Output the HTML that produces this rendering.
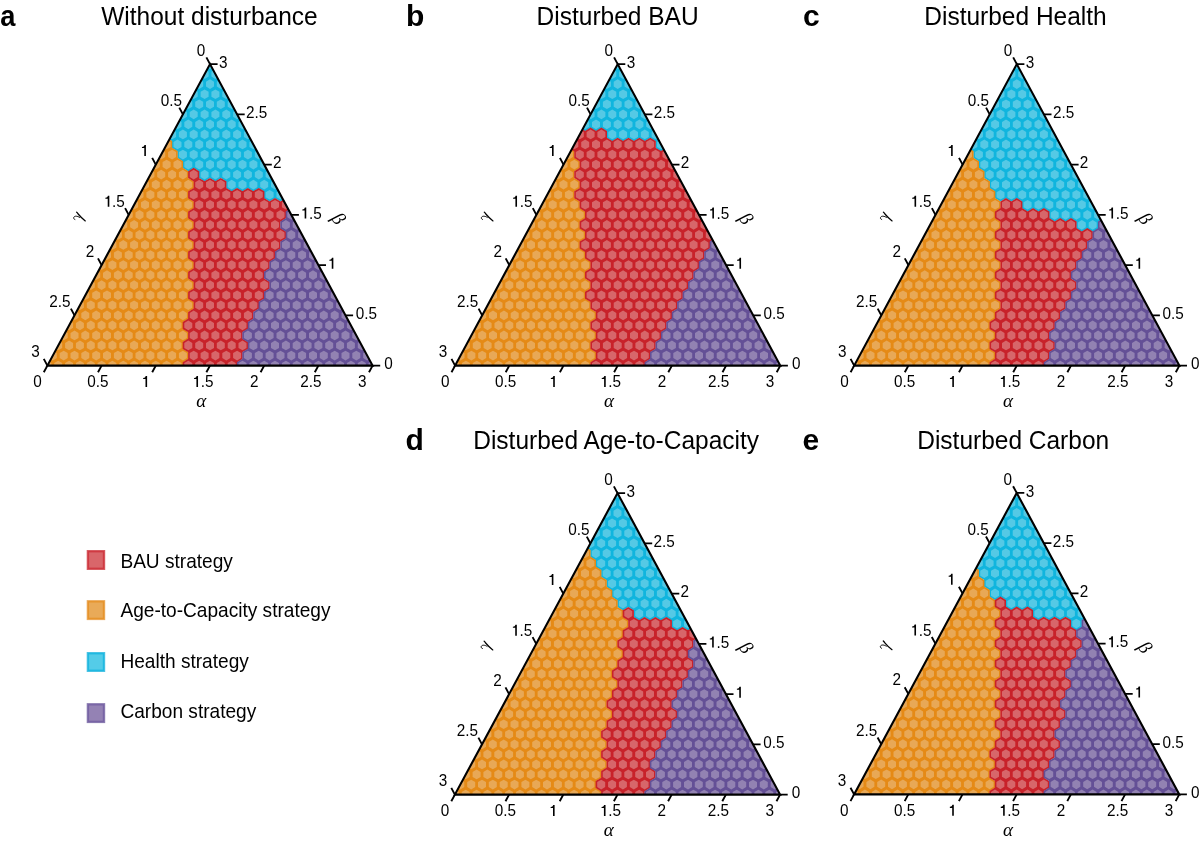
<!DOCTYPE html>
<html><head><meta charset="utf-8"><style>
html,body{margin:0;padding:0;background:#fff;width:1200px;height:843px;overflow:hidden}
svg{display:block;will-change:transform}
text{font-family:"Liberation Sans",sans-serif;fill:#000}
.tl text{font-size:15px}
.tl text.g{font-family:"Liberation Serif",serif;font-style:italic;font-size:19px}
.pl{font-size:30px;font-weight:bold}
.tt{font-size:24.5px}
.lg{font-size:19.1px}
</style></head><body>
<svg width="1200" height="843" viewBox="0 0 1200 843">
<clipPath id="clipa"><polygon points="47.40,365.60 372.60,365.60 210.00,64.10"/></clipPath>
<g clip-path="url(#clipa)">
<path fill="#10b5de" d="M269.6 187.9l5.6 3.4v6.9l-5.6 3.4l-5.6 -3.4v-6.9zM280.5 187.9l5.6 3.4v6.9l-5.6 3.4l-5.6 -3.4v-6.9zM231.7 177.9l5.6 3.4v6.9l-5.6 3.4l-5.6 -3.4v-6.9zM242.5 177.9l5.6 3.4v6.9l-5.6 3.4l-5.6 -3.4v-6.9zM253.4 177.9l5.6 3.4v6.9l-5.6 3.4l-5.6 -3.4v-6.9zM264.2 177.9l5.6 3.4v6.9l-5.6 3.4l-5.6 -3.4v-6.9zM275.0 177.9l5.6 3.4v6.9l-5.6 3.4l-5.6 -3.4v-6.9zM204.6 167.8l5.6 3.4v6.9l-5.6 3.4l-5.6 -3.4v-6.9zM215.4 167.8l5.6 3.4v6.9l-5.6 3.4l-5.6 -3.4v-6.9zM226.3 167.8l5.6 3.4v6.9l-5.6 3.4l-5.6 -3.4v-6.9zM237.1 167.8l5.6 3.4v6.9l-5.6 3.4l-5.6 -3.4v-6.9zM247.9 167.8l5.6 3.4v6.9l-5.6 3.4l-5.6 -3.4v-6.9zM258.8 167.8l5.6 3.4v6.9l-5.6 3.4l-5.6 -3.4v-6.9zM269.6 167.8l5.6 3.4v6.9l-5.6 3.4l-5.6 -3.4v-6.9zM188.3 157.8l5.6 3.4v6.9l-5.6 3.4l-5.6 -3.4v-6.9zM199.2 157.8l5.6 3.4v6.9l-5.6 3.4l-5.6 -3.4v-6.9zM210.0 157.8l5.6 3.4v6.9l-5.6 3.4l-5.6 -3.4v-6.9zM220.8 157.8l5.6 3.4v6.9l-5.6 3.4l-5.6 -3.4v-6.9zM231.7 157.8l5.6 3.4v6.9l-5.6 3.4l-5.6 -3.4v-6.9zM242.5 157.8l5.6 3.4v6.9l-5.6 3.4l-5.6 -3.4v-6.9zM253.4 157.8l5.6 3.4v6.9l-5.6 3.4l-5.6 -3.4v-6.9zM264.2 157.8l5.6 3.4v6.9l-5.6 3.4l-5.6 -3.4v-6.9zM182.9 147.7l5.6 3.4v6.9l-5.6 3.4l-5.6 -3.4v-6.9zM193.7 147.7l5.6 3.4v6.9l-5.6 3.4l-5.6 -3.4v-6.9zM204.6 147.7l5.6 3.4v6.9l-5.6 3.4l-5.6 -3.4v-6.9zM215.4 147.7l5.6 3.4v6.9l-5.6 3.4l-5.6 -3.4v-6.9zM226.3 147.7l5.6 3.4v6.9l-5.6 3.4l-5.6 -3.4v-6.9zM237.1 147.7l5.6 3.4v6.9l-5.6 3.4l-5.6 -3.4v-6.9zM247.9 147.7l5.6 3.4v6.9l-5.6 3.4l-5.6 -3.4v-6.9zM258.8 147.7l5.6 3.4v6.9l-5.6 3.4l-5.6 -3.4v-6.9zM177.5 137.7l5.6 3.4v6.9l-5.6 3.4l-5.6 -3.4v-6.9zM188.3 137.7l5.6 3.4v6.9l-5.6 3.4l-5.6 -3.4v-6.9zM199.2 137.7l5.6 3.4v6.9l-5.6 3.4l-5.6 -3.4v-6.9zM210.0 137.7l5.6 3.4v6.9l-5.6 3.4l-5.6 -3.4v-6.9zM220.8 137.7l5.6 3.4v6.9l-5.6 3.4l-5.6 -3.4v-6.9zM231.7 137.7l5.6 3.4v6.9l-5.6 3.4l-5.6 -3.4v-6.9zM242.5 137.7l5.6 3.4v6.9l-5.6 3.4l-5.6 -3.4v-6.9zM253.4 137.7l5.6 3.4v6.9l-5.6 3.4l-5.6 -3.4v-6.9zM172.1 127.6l5.6 3.4v6.9l-5.6 3.4l-5.6 -3.4v-6.9zM182.9 127.6l5.6 3.4v6.9l-5.6 3.4l-5.6 -3.4v-6.9zM193.7 127.6l5.6 3.4v6.9l-5.6 3.4l-5.6 -3.4v-6.9zM204.6 127.6l5.6 3.4v6.9l-5.6 3.4l-5.6 -3.4v-6.9zM215.4 127.6l5.6 3.4v6.9l-5.6 3.4l-5.6 -3.4v-6.9zM226.3 127.6l5.6 3.4v6.9l-5.6 3.4l-5.6 -3.4v-6.9zM237.1 127.6l5.6 3.4v6.9l-5.6 3.4l-5.6 -3.4v-6.9zM247.9 127.6l5.6 3.4v6.9l-5.6 3.4l-5.6 -3.4v-6.9zM177.5 117.6l5.6 3.4v6.9l-5.6 3.4l-5.6 -3.4v-6.9zM188.3 117.6l5.6 3.4v6.9l-5.6 3.4l-5.6 -3.4v-6.9zM199.2 117.6l5.6 3.4v6.9l-5.6 3.4l-5.6 -3.4v-6.9zM210.0 117.6l5.6 3.4v6.9l-5.6 3.4l-5.6 -3.4v-6.9zM220.8 117.6l5.6 3.4v6.9l-5.6 3.4l-5.6 -3.4v-6.9zM231.7 117.6l5.6 3.4v6.9l-5.6 3.4l-5.6 -3.4v-6.9zM242.5 117.6l5.6 3.4v6.9l-5.6 3.4l-5.6 -3.4v-6.9zM182.9 107.5l5.6 3.4v6.9l-5.6 3.4l-5.6 -3.4v-6.9zM193.7 107.5l5.6 3.4v6.9l-5.6 3.4l-5.6 -3.4v-6.9zM204.6 107.5l5.6 3.4v6.9l-5.6 3.4l-5.6 -3.4v-6.9zM215.4 107.5l5.6 3.4v6.9l-5.6 3.4l-5.6 -3.4v-6.9zM226.3 107.5l5.6 3.4v6.9l-5.6 3.4l-5.6 -3.4v-6.9zM237.1 107.5l5.6 3.4v6.9l-5.6 3.4l-5.6 -3.4v-6.9zM188.3 97.5l5.6 3.4v6.9l-5.6 3.4l-5.6 -3.4v-6.9zM199.2 97.5l5.6 3.4v6.9l-5.6 3.4l-5.6 -3.4v-6.9zM210.0 97.5l5.6 3.4v6.9l-5.6 3.4l-5.6 -3.4v-6.9zM220.8 97.5l5.6 3.4v6.9l-5.6 3.4l-5.6 -3.4v-6.9zM231.7 97.5l5.6 3.4v6.9l-5.6 3.4l-5.6 -3.4v-6.9zM193.7 87.4l5.6 3.4v6.9l-5.6 3.4l-5.6 -3.4v-6.9zM204.6 87.4l5.6 3.4v6.9l-5.6 3.4l-5.6 -3.4v-6.9zM215.4 87.4l5.6 3.4v6.9l-5.6 3.4l-5.6 -3.4v-6.9zM226.3 87.4l5.6 3.4v6.9l-5.6 3.4l-5.6 -3.4v-6.9zM199.2 77.4l5.6 3.4v6.9l-5.6 3.4l-5.6 -3.4v-6.9zM210.0 77.4l5.6 3.4v6.9l-5.6 3.4l-5.6 -3.4v-6.9zM220.8 77.4l5.6 3.4v6.9l-5.6 3.4l-5.6 -3.4v-6.9zM204.6 67.3l5.6 3.4v6.9l-5.6 3.4l-5.6 -3.4v-6.9zM215.4 67.3l5.6 3.4v6.9l-5.6 3.4l-5.6 -3.4v-6.9zM210.0 57.3l5.6 3.4v6.9l-5.6 3.4l-5.6 -3.4v-6.9z"/>
<path fill="#e58a16" d="M47.4 358.8l5.6 3.4v6.9l-5.6 3.4l-5.6 -3.4v-6.9zM58.2 358.8l5.6 3.4v6.9l-5.6 3.4l-5.6 -3.4v-6.9zM69.1 358.8l5.6 3.4v6.9l-5.6 3.4l-5.6 -3.4v-6.9zM79.9 358.8l5.6 3.4v6.9l-5.6 3.4l-5.6 -3.4v-6.9zM90.8 358.8l5.6 3.4v6.9l-5.6 3.4l-5.6 -3.4v-6.9zM101.6 358.8l5.6 3.4v6.9l-5.6 3.4l-5.6 -3.4v-6.9zM112.4 358.8l5.6 3.4v6.9l-5.6 3.4l-5.6 -3.4v-6.9zM123.3 358.8l5.6 3.4v6.9l-5.6 3.4l-5.6 -3.4v-6.9zM134.1 358.8l5.6 3.4v6.9l-5.6 3.4l-5.6 -3.4v-6.9zM145.0 358.8l5.6 3.4v6.9l-5.6 3.4l-5.6 -3.4v-6.9zM155.8 358.8l5.6 3.4v6.9l-5.6 3.4l-5.6 -3.4v-6.9zM166.6 358.8l5.6 3.4v6.9l-5.6 3.4l-5.6 -3.4v-6.9zM177.5 358.8l5.6 3.4v6.9l-5.6 3.4l-5.6 -3.4v-6.9zM52.8 348.7l5.6 3.4v6.9l-5.6 3.4l-5.6 -3.4v-6.9zM63.7 348.7l5.6 3.4v6.9l-5.6 3.4l-5.6 -3.4v-6.9zM74.5 348.7l5.6 3.4v6.9l-5.6 3.4l-5.6 -3.4v-6.9zM85.3 348.7l5.6 3.4v6.9l-5.6 3.4l-5.6 -3.4v-6.9zM96.2 348.7l5.6 3.4v6.9l-5.6 3.4l-5.6 -3.4v-6.9zM107.0 348.7l5.6 3.4v6.9l-5.6 3.4l-5.6 -3.4v-6.9zM117.9 348.7l5.6 3.4v6.9l-5.6 3.4l-5.6 -3.4v-6.9zM128.7 348.7l5.6 3.4v6.9l-5.6 3.4l-5.6 -3.4v-6.9zM139.5 348.7l5.6 3.4v6.9l-5.6 3.4l-5.6 -3.4v-6.9zM150.4 348.7l5.6 3.4v6.9l-5.6 3.4l-5.6 -3.4v-6.9zM161.2 348.7l5.6 3.4v6.9l-5.6 3.4l-5.6 -3.4v-6.9zM172.1 348.7l5.6 3.4v6.9l-5.6 3.4l-5.6 -3.4v-6.9zM182.9 348.7l5.6 3.4v6.9l-5.6 3.4l-5.6 -3.4v-6.9zM58.2 338.6l5.6 3.4v6.9l-5.6 3.4l-5.6 -3.4v-6.9zM69.1 338.6l5.6 3.4v6.9l-5.6 3.4l-5.6 -3.4v-6.9zM79.9 338.6l5.6 3.4v6.9l-5.6 3.4l-5.6 -3.4v-6.9zM90.8 338.6l5.6 3.4v6.9l-5.6 3.4l-5.6 -3.4v-6.9zM101.6 338.6l5.6 3.4v6.9l-5.6 3.4l-5.6 -3.4v-6.9zM112.4 338.6l5.6 3.4v6.9l-5.6 3.4l-5.6 -3.4v-6.9zM123.3 338.6l5.6 3.4v6.9l-5.6 3.4l-5.6 -3.4v-6.9zM134.1 338.6l5.6 3.4v6.9l-5.6 3.4l-5.6 -3.4v-6.9zM145.0 338.6l5.6 3.4v6.9l-5.6 3.4l-5.6 -3.4v-6.9zM155.8 338.6l5.6 3.4v6.9l-5.6 3.4l-5.6 -3.4v-6.9zM166.6 338.6l5.6 3.4v6.9l-5.6 3.4l-5.6 -3.4v-6.9zM177.5 338.6l5.6 3.4v6.9l-5.6 3.4l-5.6 -3.4v-6.9zM63.7 328.6l5.6 3.4v6.9l-5.6 3.4l-5.6 -3.4v-6.9zM74.5 328.6l5.6 3.4v6.9l-5.6 3.4l-5.6 -3.4v-6.9zM85.3 328.6l5.6 3.4v6.9l-5.6 3.4l-5.6 -3.4v-6.9zM96.2 328.6l5.6 3.4v6.9l-5.6 3.4l-5.6 -3.4v-6.9zM107.0 328.6l5.6 3.4v6.9l-5.6 3.4l-5.6 -3.4v-6.9zM117.9 328.6l5.6 3.4v6.9l-5.6 3.4l-5.6 -3.4v-6.9zM128.7 328.6l5.6 3.4v6.9l-5.6 3.4l-5.6 -3.4v-6.9zM139.5 328.6l5.6 3.4v6.9l-5.6 3.4l-5.6 -3.4v-6.9zM150.4 328.6l5.6 3.4v6.9l-5.6 3.4l-5.6 -3.4v-6.9zM161.2 328.6l5.6 3.4v6.9l-5.6 3.4l-5.6 -3.4v-6.9zM172.1 328.6l5.6 3.4v6.9l-5.6 3.4l-5.6 -3.4v-6.9zM182.9 328.6l5.6 3.4v6.9l-5.6 3.4l-5.6 -3.4v-6.9zM69.1 318.6l5.6 3.4v6.9l-5.6 3.4l-5.6 -3.4v-6.9zM79.9 318.6l5.6 3.4v6.9l-5.6 3.4l-5.6 -3.4v-6.9zM90.8 318.6l5.6 3.4v6.9l-5.6 3.4l-5.6 -3.4v-6.9zM101.6 318.6l5.6 3.4v6.9l-5.6 3.4l-5.6 -3.4v-6.9zM112.4 318.6l5.6 3.4v6.9l-5.6 3.4l-5.6 -3.4v-6.9zM123.3 318.6l5.6 3.4v6.9l-5.6 3.4l-5.6 -3.4v-6.9zM134.1 318.6l5.6 3.4v6.9l-5.6 3.4l-5.6 -3.4v-6.9zM145.0 318.6l5.6 3.4v6.9l-5.6 3.4l-5.6 -3.4v-6.9zM155.8 318.6l5.6 3.4v6.9l-5.6 3.4l-5.6 -3.4v-6.9zM166.6 318.6l5.6 3.4v6.9l-5.6 3.4l-5.6 -3.4v-6.9zM177.5 318.6l5.6 3.4v6.9l-5.6 3.4l-5.6 -3.4v-6.9zM74.5 308.5l5.6 3.4v6.9l-5.6 3.4l-5.6 -3.4v-6.9zM85.3 308.5l5.6 3.4v6.9l-5.6 3.4l-5.6 -3.4v-6.9zM96.2 308.5l5.6 3.4v6.9l-5.6 3.4l-5.6 -3.4v-6.9zM107.0 308.5l5.6 3.4v6.9l-5.6 3.4l-5.6 -3.4v-6.9zM117.9 308.5l5.6 3.4v6.9l-5.6 3.4l-5.6 -3.4v-6.9zM128.7 308.5l5.6 3.4v6.9l-5.6 3.4l-5.6 -3.4v-6.9zM139.5 308.5l5.6 3.4v6.9l-5.6 3.4l-5.6 -3.4v-6.9zM150.4 308.5l5.6 3.4v6.9l-5.6 3.4l-5.6 -3.4v-6.9zM161.2 308.5l5.6 3.4v6.9l-5.6 3.4l-5.6 -3.4v-6.9zM172.1 308.5l5.6 3.4v6.9l-5.6 3.4l-5.6 -3.4v-6.9zM182.9 308.5l5.6 3.4v6.9l-5.6 3.4l-5.6 -3.4v-6.9zM79.9 298.4l5.6 3.4v6.9l-5.6 3.4l-5.6 -3.4v-6.9zM90.8 298.4l5.6 3.4v6.9l-5.6 3.4l-5.6 -3.4v-6.9zM101.6 298.4l5.6 3.4v6.9l-5.6 3.4l-5.6 -3.4v-6.9zM112.4 298.4l5.6 3.4v6.9l-5.6 3.4l-5.6 -3.4v-6.9zM123.3 298.4l5.6 3.4v6.9l-5.6 3.4l-5.6 -3.4v-6.9zM134.1 298.4l5.6 3.4v6.9l-5.6 3.4l-5.6 -3.4v-6.9zM145.0 298.4l5.6 3.4v6.9l-5.6 3.4l-5.6 -3.4v-6.9zM155.8 298.4l5.6 3.4v6.9l-5.6 3.4l-5.6 -3.4v-6.9zM166.6 298.4l5.6 3.4v6.9l-5.6 3.4l-5.6 -3.4v-6.9zM177.5 298.4l5.6 3.4v6.9l-5.6 3.4l-5.6 -3.4v-6.9zM188.3 298.4l5.6 3.4v6.9l-5.6 3.4l-5.6 -3.4v-6.9zM85.3 288.4l5.6 3.4v6.9l-5.6 3.4l-5.6 -3.4v-6.9zM96.2 288.4l5.6 3.4v6.9l-5.6 3.4l-5.6 -3.4v-6.9zM107.0 288.4l5.6 3.4v6.9l-5.6 3.4l-5.6 -3.4v-6.9zM117.9 288.4l5.6 3.4v6.9l-5.6 3.4l-5.6 -3.4v-6.9zM128.7 288.4l5.6 3.4v6.9l-5.6 3.4l-5.6 -3.4v-6.9zM139.5 288.4l5.6 3.4v6.9l-5.6 3.4l-5.6 -3.4v-6.9zM150.4 288.4l5.6 3.4v6.9l-5.6 3.4l-5.6 -3.4v-6.9zM161.2 288.4l5.6 3.4v6.9l-5.6 3.4l-5.6 -3.4v-6.9zM172.1 288.4l5.6 3.4v6.9l-5.6 3.4l-5.6 -3.4v-6.9zM182.9 288.4l5.6 3.4v6.9l-5.6 3.4l-5.6 -3.4v-6.9zM90.8 278.4l5.6 3.4v6.9l-5.6 3.4l-5.6 -3.4v-6.9zM101.6 278.4l5.6 3.4v6.9l-5.6 3.4l-5.6 -3.4v-6.9zM112.4 278.4l5.6 3.4v6.9l-5.6 3.4l-5.6 -3.4v-6.9zM123.3 278.4l5.6 3.4v6.9l-5.6 3.4l-5.6 -3.4v-6.9zM134.1 278.4l5.6 3.4v6.9l-5.6 3.4l-5.6 -3.4v-6.9zM145.0 278.4l5.6 3.4v6.9l-5.6 3.4l-5.6 -3.4v-6.9zM155.8 278.4l5.6 3.4v6.9l-5.6 3.4l-5.6 -3.4v-6.9zM166.6 278.4l5.6 3.4v6.9l-5.6 3.4l-5.6 -3.4v-6.9zM177.5 278.4l5.6 3.4v6.9l-5.6 3.4l-5.6 -3.4v-6.9zM188.3 278.4l5.6 3.4v6.9l-5.6 3.4l-5.6 -3.4v-6.9zM96.2 268.3l5.6 3.4v6.9l-5.6 3.4l-5.6 -3.4v-6.9zM107.0 268.3l5.6 3.4v6.9l-5.6 3.4l-5.6 -3.4v-6.9zM117.9 268.3l5.6 3.4v6.9l-5.6 3.4l-5.6 -3.4v-6.9zM128.7 268.3l5.6 3.4v6.9l-5.6 3.4l-5.6 -3.4v-6.9zM139.5 268.3l5.6 3.4v6.9l-5.6 3.4l-5.6 -3.4v-6.9zM150.4 268.3l5.6 3.4v6.9l-5.6 3.4l-5.6 -3.4v-6.9zM161.2 268.3l5.6 3.4v6.9l-5.6 3.4l-5.6 -3.4v-6.9zM172.1 268.3l5.6 3.4v6.9l-5.6 3.4l-5.6 -3.4v-6.9zM182.9 268.3l5.6 3.4v6.9l-5.6 3.4l-5.6 -3.4v-6.9zM101.6 258.2l5.6 3.4v6.9l-5.6 3.4l-5.6 -3.4v-6.9zM112.4 258.2l5.6 3.4v6.9l-5.6 3.4l-5.6 -3.4v-6.9zM123.3 258.2l5.6 3.4v6.9l-5.6 3.4l-5.6 -3.4v-6.9zM134.1 258.2l5.6 3.4v6.9l-5.6 3.4l-5.6 -3.4v-6.9zM145.0 258.2l5.6 3.4v6.9l-5.6 3.4l-5.6 -3.4v-6.9zM155.8 258.2l5.6 3.4v6.9l-5.6 3.4l-5.6 -3.4v-6.9zM166.6 258.2l5.6 3.4v6.9l-5.6 3.4l-5.6 -3.4v-6.9zM177.5 258.2l5.6 3.4v6.9l-5.6 3.4l-5.6 -3.4v-6.9zM188.3 258.2l5.6 3.4v6.9l-5.6 3.4l-5.6 -3.4v-6.9zM107.0 248.2l5.6 3.4v6.9l-5.6 3.4l-5.6 -3.4v-6.9zM117.9 248.2l5.6 3.4v6.9l-5.6 3.4l-5.6 -3.4v-6.9zM128.7 248.2l5.6 3.4v6.9l-5.6 3.4l-5.6 -3.4v-6.9zM139.5 248.2l5.6 3.4v6.9l-5.6 3.4l-5.6 -3.4v-6.9zM150.4 248.2l5.6 3.4v6.9l-5.6 3.4l-5.6 -3.4v-6.9zM161.2 248.2l5.6 3.4v6.9l-5.6 3.4l-5.6 -3.4v-6.9zM172.1 248.2l5.6 3.4v6.9l-5.6 3.4l-5.6 -3.4v-6.9zM182.9 248.2l5.6 3.4v6.9l-5.6 3.4l-5.6 -3.4v-6.9zM112.4 238.2l5.6 3.4v6.9l-5.6 3.4l-5.6 -3.4v-6.9zM123.3 238.2l5.6 3.4v6.9l-5.6 3.4l-5.6 -3.4v-6.9zM134.1 238.2l5.6 3.4v6.9l-5.6 3.4l-5.6 -3.4v-6.9zM145.0 238.2l5.6 3.4v6.9l-5.6 3.4l-5.6 -3.4v-6.9zM155.8 238.2l5.6 3.4v6.9l-5.6 3.4l-5.6 -3.4v-6.9zM166.6 238.2l5.6 3.4v6.9l-5.6 3.4l-5.6 -3.4v-6.9zM177.5 238.2l5.6 3.4v6.9l-5.6 3.4l-5.6 -3.4v-6.9zM188.3 238.2l5.6 3.4v6.9l-5.6 3.4l-5.6 -3.4v-6.9zM117.9 228.1l5.6 3.4v6.9l-5.6 3.4l-5.6 -3.4v-6.9zM128.7 228.1l5.6 3.4v6.9l-5.6 3.4l-5.6 -3.4v-6.9zM139.5 228.1l5.6 3.4v6.9l-5.6 3.4l-5.6 -3.4v-6.9zM150.4 228.1l5.6 3.4v6.9l-5.6 3.4l-5.6 -3.4v-6.9zM161.2 228.1l5.6 3.4v6.9l-5.6 3.4l-5.6 -3.4v-6.9zM172.1 228.1l5.6 3.4v6.9l-5.6 3.4l-5.6 -3.4v-6.9zM182.9 228.1l5.6 3.4v6.9l-5.6 3.4l-5.6 -3.4v-6.9zM123.3 218.1l5.6 3.4v6.9l-5.6 3.4l-5.6 -3.4v-6.9zM134.1 218.1l5.6 3.4v6.9l-5.6 3.4l-5.6 -3.4v-6.9zM145.0 218.1l5.6 3.4v6.9l-5.6 3.4l-5.6 -3.4v-6.9zM155.8 218.1l5.6 3.4v6.9l-5.6 3.4l-5.6 -3.4v-6.9zM166.6 218.1l5.6 3.4v6.9l-5.6 3.4l-5.6 -3.4v-6.9zM177.5 218.1l5.6 3.4v6.9l-5.6 3.4l-5.6 -3.4v-6.9zM188.3 218.1l5.6 3.4v6.9l-5.6 3.4l-5.6 -3.4v-6.9zM128.7 208.0l5.6 3.4v6.9l-5.6 3.4l-5.6 -3.4v-6.9zM139.5 208.0l5.6 3.4v6.9l-5.6 3.4l-5.6 -3.4v-6.9zM150.4 208.0l5.6 3.4v6.9l-5.6 3.4l-5.6 -3.4v-6.9zM161.2 208.0l5.6 3.4v6.9l-5.6 3.4l-5.6 -3.4v-6.9zM172.1 208.0l5.6 3.4v6.9l-5.6 3.4l-5.6 -3.4v-6.9zM182.9 208.0l5.6 3.4v6.9l-5.6 3.4l-5.6 -3.4v-6.9zM134.1 198.0l5.6 3.4v6.9l-5.6 3.4l-5.6 -3.4v-6.9zM145.0 198.0l5.6 3.4v6.9l-5.6 3.4l-5.6 -3.4v-6.9zM155.8 198.0l5.6 3.4v6.9l-5.6 3.4l-5.6 -3.4v-6.9zM166.6 198.0l5.6 3.4v6.9l-5.6 3.4l-5.6 -3.4v-6.9zM177.5 198.0l5.6 3.4v6.9l-5.6 3.4l-5.6 -3.4v-6.9zM188.3 198.0l5.6 3.4v6.9l-5.6 3.4l-5.6 -3.4v-6.9zM139.5 187.9l5.6 3.4v6.9l-5.6 3.4l-5.6 -3.4v-6.9zM150.4 187.9l5.6 3.4v6.9l-5.6 3.4l-5.6 -3.4v-6.9zM161.2 187.9l5.6 3.4v6.9l-5.6 3.4l-5.6 -3.4v-6.9zM172.1 187.9l5.6 3.4v6.9l-5.6 3.4l-5.6 -3.4v-6.9zM182.9 187.9l5.6 3.4v6.9l-5.6 3.4l-5.6 -3.4v-6.9zM145.0 177.9l5.6 3.4v6.9l-5.6 3.4l-5.6 -3.4v-6.9zM155.8 177.9l5.6 3.4v6.9l-5.6 3.4l-5.6 -3.4v-6.9zM166.6 177.9l5.6 3.4v6.9l-5.6 3.4l-5.6 -3.4v-6.9zM177.5 177.9l5.6 3.4v6.9l-5.6 3.4l-5.6 -3.4v-6.9zM188.3 177.9l5.6 3.4v6.9l-5.6 3.4l-5.6 -3.4v-6.9zM150.4 167.8l5.6 3.4v6.9l-5.6 3.4l-5.6 -3.4v-6.9zM161.2 167.8l5.6 3.4v6.9l-5.6 3.4l-5.6 -3.4v-6.9zM172.1 167.8l5.6 3.4v6.9l-5.6 3.4l-5.6 -3.4v-6.9zM182.9 167.8l5.6 3.4v6.9l-5.6 3.4l-5.6 -3.4v-6.9zM155.8 157.8l5.6 3.4v6.9l-5.6 3.4l-5.6 -3.4v-6.9zM166.6 157.8l5.6 3.4v6.9l-5.6 3.4l-5.6 -3.4v-6.9zM177.5 157.8l5.6 3.4v6.9l-5.6 3.4l-5.6 -3.4v-6.9zM161.2 147.7l5.6 3.4v6.9l-5.6 3.4l-5.6 -3.4v-6.9zM172.1 147.7l5.6 3.4v6.9l-5.6 3.4l-5.6 -3.4v-6.9zM166.6 137.7l5.6 3.4v6.9l-5.6 3.4l-5.6 -3.4v-6.9z"/>
<path fill="#c8222a" d="M188.3 358.8l5.6 3.4v6.9l-5.6 3.4l-5.6 -3.4v-6.9zM199.2 358.8l5.6 3.4v6.9l-5.6 3.4l-5.6 -3.4v-6.9zM210.0 358.8l5.6 3.4v6.9l-5.6 3.4l-5.6 -3.4v-6.9zM220.8 358.8l5.6 3.4v6.9l-5.6 3.4l-5.6 -3.4v-6.9zM231.7 358.8l5.6 3.4v6.9l-5.6 3.4l-5.6 -3.4v-6.9zM193.7 348.7l5.6 3.4v6.9l-5.6 3.4l-5.6 -3.4v-6.9zM204.6 348.7l5.6 3.4v6.9l-5.6 3.4l-5.6 -3.4v-6.9zM215.4 348.7l5.6 3.4v6.9l-5.6 3.4l-5.6 -3.4v-6.9zM226.3 348.7l5.6 3.4v6.9l-5.6 3.4l-5.6 -3.4v-6.9zM237.1 348.7l5.6 3.4v6.9l-5.6 3.4l-5.6 -3.4v-6.9zM188.3 338.6l5.6 3.4v6.9l-5.6 3.4l-5.6 -3.4v-6.9zM199.2 338.6l5.6 3.4v6.9l-5.6 3.4l-5.6 -3.4v-6.9zM210.0 338.6l5.6 3.4v6.9l-5.6 3.4l-5.6 -3.4v-6.9zM220.8 338.6l5.6 3.4v6.9l-5.6 3.4l-5.6 -3.4v-6.9zM231.7 338.6l5.6 3.4v6.9l-5.6 3.4l-5.6 -3.4v-6.9zM242.5 338.6l5.6 3.4v6.9l-5.6 3.4l-5.6 -3.4v-6.9zM193.7 328.6l5.6 3.4v6.9l-5.6 3.4l-5.6 -3.4v-6.9zM204.6 328.6l5.6 3.4v6.9l-5.6 3.4l-5.6 -3.4v-6.9zM215.4 328.6l5.6 3.4v6.9l-5.6 3.4l-5.6 -3.4v-6.9zM226.3 328.6l5.6 3.4v6.9l-5.6 3.4l-5.6 -3.4v-6.9zM237.1 328.6l5.6 3.4v6.9l-5.6 3.4l-5.6 -3.4v-6.9zM188.3 318.6l5.6 3.4v6.9l-5.6 3.4l-5.6 -3.4v-6.9zM199.2 318.6l5.6 3.4v6.9l-5.6 3.4l-5.6 -3.4v-6.9zM210.0 318.6l5.6 3.4v6.9l-5.6 3.4l-5.6 -3.4v-6.9zM220.8 318.6l5.6 3.4v6.9l-5.6 3.4l-5.6 -3.4v-6.9zM231.7 318.6l5.6 3.4v6.9l-5.6 3.4l-5.6 -3.4v-6.9zM242.5 318.6l5.6 3.4v6.9l-5.6 3.4l-5.6 -3.4v-6.9zM193.7 308.5l5.6 3.4v6.9l-5.6 3.4l-5.6 -3.4v-6.9zM204.6 308.5l5.6 3.4v6.9l-5.6 3.4l-5.6 -3.4v-6.9zM215.4 308.5l5.6 3.4v6.9l-5.6 3.4l-5.6 -3.4v-6.9zM226.3 308.5l5.6 3.4v6.9l-5.6 3.4l-5.6 -3.4v-6.9zM237.1 308.5l5.6 3.4v6.9l-5.6 3.4l-5.6 -3.4v-6.9zM247.9 308.5l5.6 3.4v6.9l-5.6 3.4l-5.6 -3.4v-6.9zM199.2 298.4l5.6 3.4v6.9l-5.6 3.4l-5.6 -3.4v-6.9zM210.0 298.4l5.6 3.4v6.9l-5.6 3.4l-5.6 -3.4v-6.9zM220.8 298.4l5.6 3.4v6.9l-5.6 3.4l-5.6 -3.4v-6.9zM231.7 298.4l5.6 3.4v6.9l-5.6 3.4l-5.6 -3.4v-6.9zM242.5 298.4l5.6 3.4v6.9l-5.6 3.4l-5.6 -3.4v-6.9zM253.4 298.4l5.6 3.4v6.9l-5.6 3.4l-5.6 -3.4v-6.9zM193.7 288.4l5.6 3.4v6.9l-5.6 3.4l-5.6 -3.4v-6.9zM204.6 288.4l5.6 3.4v6.9l-5.6 3.4l-5.6 -3.4v-6.9zM215.4 288.4l5.6 3.4v6.9l-5.6 3.4l-5.6 -3.4v-6.9zM226.3 288.4l5.6 3.4v6.9l-5.6 3.4l-5.6 -3.4v-6.9zM237.1 288.4l5.6 3.4v6.9l-5.6 3.4l-5.6 -3.4v-6.9zM247.9 288.4l5.6 3.4v6.9l-5.6 3.4l-5.6 -3.4v-6.9zM258.8 288.4l5.6 3.4v6.9l-5.6 3.4l-5.6 -3.4v-6.9zM199.2 278.4l5.6 3.4v6.9l-5.6 3.4l-5.6 -3.4v-6.9zM210.0 278.4l5.6 3.4v6.9l-5.6 3.4l-5.6 -3.4v-6.9zM220.8 278.4l5.6 3.4v6.9l-5.6 3.4l-5.6 -3.4v-6.9zM231.7 278.4l5.6 3.4v6.9l-5.6 3.4l-5.6 -3.4v-6.9zM242.5 278.4l5.6 3.4v6.9l-5.6 3.4l-5.6 -3.4v-6.9zM253.4 278.4l5.6 3.4v6.9l-5.6 3.4l-5.6 -3.4v-6.9zM264.2 278.4l5.6 3.4v6.9l-5.6 3.4l-5.6 -3.4v-6.9zM193.7 268.3l5.6 3.4v6.9l-5.6 3.4l-5.6 -3.4v-6.9zM204.6 268.3l5.6 3.4v6.9l-5.6 3.4l-5.6 -3.4v-6.9zM215.4 268.3l5.6 3.4v6.9l-5.6 3.4l-5.6 -3.4v-6.9zM226.3 268.3l5.6 3.4v6.9l-5.6 3.4l-5.6 -3.4v-6.9zM237.1 268.3l5.6 3.4v6.9l-5.6 3.4l-5.6 -3.4v-6.9zM247.9 268.3l5.6 3.4v6.9l-5.6 3.4l-5.6 -3.4v-6.9zM258.8 268.3l5.6 3.4v6.9l-5.6 3.4l-5.6 -3.4v-6.9zM199.2 258.2l5.6 3.4v6.9l-5.6 3.4l-5.6 -3.4v-6.9zM210.0 258.2l5.6 3.4v6.9l-5.6 3.4l-5.6 -3.4v-6.9zM220.8 258.2l5.6 3.4v6.9l-5.6 3.4l-5.6 -3.4v-6.9zM231.7 258.2l5.6 3.4v6.9l-5.6 3.4l-5.6 -3.4v-6.9zM242.5 258.2l5.6 3.4v6.9l-5.6 3.4l-5.6 -3.4v-6.9zM253.4 258.2l5.6 3.4v6.9l-5.6 3.4l-5.6 -3.4v-6.9zM264.2 258.2l5.6 3.4v6.9l-5.6 3.4l-5.6 -3.4v-6.9zM193.7 248.2l5.6 3.4v6.9l-5.6 3.4l-5.6 -3.4v-6.9zM204.6 248.2l5.6 3.4v6.9l-5.6 3.4l-5.6 -3.4v-6.9zM215.4 248.2l5.6 3.4v6.9l-5.6 3.4l-5.6 -3.4v-6.9zM226.3 248.2l5.6 3.4v6.9l-5.6 3.4l-5.6 -3.4v-6.9zM237.1 248.2l5.6 3.4v6.9l-5.6 3.4l-5.6 -3.4v-6.9zM247.9 248.2l5.6 3.4v6.9l-5.6 3.4l-5.6 -3.4v-6.9zM258.8 248.2l5.6 3.4v6.9l-5.6 3.4l-5.6 -3.4v-6.9zM269.6 248.2l5.6 3.4v6.9l-5.6 3.4l-5.6 -3.4v-6.9zM199.2 238.2l5.6 3.4v6.9l-5.6 3.4l-5.6 -3.4v-6.9zM210.0 238.2l5.6 3.4v6.9l-5.6 3.4l-5.6 -3.4v-6.9zM220.8 238.2l5.6 3.4v6.9l-5.6 3.4l-5.6 -3.4v-6.9zM231.7 238.2l5.6 3.4v6.9l-5.6 3.4l-5.6 -3.4v-6.9zM242.5 238.2l5.6 3.4v6.9l-5.6 3.4l-5.6 -3.4v-6.9zM253.4 238.2l5.6 3.4v6.9l-5.6 3.4l-5.6 -3.4v-6.9zM264.2 238.2l5.6 3.4v6.9l-5.6 3.4l-5.6 -3.4v-6.9zM275.0 238.2l5.6 3.4v6.9l-5.6 3.4l-5.6 -3.4v-6.9zM193.7 228.1l5.6 3.4v6.9l-5.6 3.4l-5.6 -3.4v-6.9zM204.6 228.1l5.6 3.4v6.9l-5.6 3.4l-5.6 -3.4v-6.9zM215.4 228.1l5.6 3.4v6.9l-5.6 3.4l-5.6 -3.4v-6.9zM226.3 228.1l5.6 3.4v6.9l-5.6 3.4l-5.6 -3.4v-6.9zM237.1 228.1l5.6 3.4v6.9l-5.6 3.4l-5.6 -3.4v-6.9zM247.9 228.1l5.6 3.4v6.9l-5.6 3.4l-5.6 -3.4v-6.9zM258.8 228.1l5.6 3.4v6.9l-5.6 3.4l-5.6 -3.4v-6.9zM269.6 228.1l5.6 3.4v6.9l-5.6 3.4l-5.6 -3.4v-6.9zM280.5 228.1l5.6 3.4v6.9l-5.6 3.4l-5.6 -3.4v-6.9zM199.2 218.1l5.6 3.4v6.9l-5.6 3.4l-5.6 -3.4v-6.9zM210.0 218.1l5.6 3.4v6.9l-5.6 3.4l-5.6 -3.4v-6.9zM220.8 218.1l5.6 3.4v6.9l-5.6 3.4l-5.6 -3.4v-6.9zM231.7 218.1l5.6 3.4v6.9l-5.6 3.4l-5.6 -3.4v-6.9zM242.5 218.1l5.6 3.4v6.9l-5.6 3.4l-5.6 -3.4v-6.9zM253.4 218.1l5.6 3.4v6.9l-5.6 3.4l-5.6 -3.4v-6.9zM264.2 218.1l5.6 3.4v6.9l-5.6 3.4l-5.6 -3.4v-6.9zM275.0 218.1l5.6 3.4v6.9l-5.6 3.4l-5.6 -3.4v-6.9zM193.7 208.0l5.6 3.4v6.9l-5.6 3.4l-5.6 -3.4v-6.9zM204.6 208.0l5.6 3.4v6.9l-5.6 3.4l-5.6 -3.4v-6.9zM215.4 208.0l5.6 3.4v6.9l-5.6 3.4l-5.6 -3.4v-6.9zM226.3 208.0l5.6 3.4v6.9l-5.6 3.4l-5.6 -3.4v-6.9zM237.1 208.0l5.6 3.4v6.9l-5.6 3.4l-5.6 -3.4v-6.9zM247.9 208.0l5.6 3.4v6.9l-5.6 3.4l-5.6 -3.4v-6.9zM258.8 208.0l5.6 3.4v6.9l-5.6 3.4l-5.6 -3.4v-6.9zM269.6 208.0l5.6 3.4v6.9l-5.6 3.4l-5.6 -3.4v-6.9zM280.5 208.0l5.6 3.4v6.9l-5.6 3.4l-5.6 -3.4v-6.9zM199.2 198.0l5.6 3.4v6.9l-5.6 3.4l-5.6 -3.4v-6.9zM210.0 198.0l5.6 3.4v6.9l-5.6 3.4l-5.6 -3.4v-6.9zM220.8 198.0l5.6 3.4v6.9l-5.6 3.4l-5.6 -3.4v-6.9zM231.7 198.0l5.6 3.4v6.9l-5.6 3.4l-5.6 -3.4v-6.9zM242.5 198.0l5.6 3.4v6.9l-5.6 3.4l-5.6 -3.4v-6.9zM253.4 198.0l5.6 3.4v6.9l-5.6 3.4l-5.6 -3.4v-6.9zM264.2 198.0l5.6 3.4v6.9l-5.6 3.4l-5.6 -3.4v-6.9zM275.0 198.0l5.6 3.4v6.9l-5.6 3.4l-5.6 -3.4v-6.9zM285.9 198.0l5.6 3.4v6.9l-5.6 3.4l-5.6 -3.4v-6.9zM193.7 187.9l5.6 3.4v6.9l-5.6 3.4l-5.6 -3.4v-6.9zM204.6 187.9l5.6 3.4v6.9l-5.6 3.4l-5.6 -3.4v-6.9zM215.4 187.9l5.6 3.4v6.9l-5.6 3.4l-5.6 -3.4v-6.9zM226.3 187.9l5.6 3.4v6.9l-5.6 3.4l-5.6 -3.4v-6.9zM237.1 187.9l5.6 3.4v6.9l-5.6 3.4l-5.6 -3.4v-6.9zM247.9 187.9l5.6 3.4v6.9l-5.6 3.4l-5.6 -3.4v-6.9zM258.8 187.9l5.6 3.4v6.9l-5.6 3.4l-5.6 -3.4v-6.9zM199.2 177.9l5.6 3.4v6.9l-5.6 3.4l-5.6 -3.4v-6.9zM210.0 177.9l5.6 3.4v6.9l-5.6 3.4l-5.6 -3.4v-6.9zM220.8 177.9l5.6 3.4v6.9l-5.6 3.4l-5.6 -3.4v-6.9zM193.7 167.8l5.6 3.4v6.9l-5.6 3.4l-5.6 -3.4v-6.9z"/>
<path fill="#645096" d="M242.5 358.8l5.6 3.4v6.9l-5.6 3.4l-5.6 -3.4v-6.9zM253.4 358.8l5.6 3.4v6.9l-5.6 3.4l-5.6 -3.4v-6.9zM264.2 358.8l5.6 3.4v6.9l-5.6 3.4l-5.6 -3.4v-6.9zM275.0 358.8l5.6 3.4v6.9l-5.6 3.4l-5.6 -3.4v-6.9zM285.9 358.8l5.6 3.4v6.9l-5.6 3.4l-5.6 -3.4v-6.9zM296.7 358.8l5.6 3.4v6.9l-5.6 3.4l-5.6 -3.4v-6.9zM307.6 358.8l5.6 3.4v6.9l-5.6 3.4l-5.6 -3.4v-6.9zM318.4 358.8l5.6 3.4v6.9l-5.6 3.4l-5.6 -3.4v-6.9zM329.2 358.8l5.6 3.4v6.9l-5.6 3.4l-5.6 -3.4v-6.9zM340.1 358.8l5.6 3.4v6.9l-5.6 3.4l-5.6 -3.4v-6.9zM350.9 358.8l5.6 3.4v6.9l-5.6 3.4l-5.6 -3.4v-6.9zM361.8 358.8l5.6 3.4v6.9l-5.6 3.4l-5.6 -3.4v-6.9zM372.6 358.8l5.6 3.4v6.9l-5.6 3.4l-5.6 -3.4v-6.9zM247.9 348.7l5.6 3.4v6.9l-5.6 3.4l-5.6 -3.4v-6.9zM258.8 348.7l5.6 3.4v6.9l-5.6 3.4l-5.6 -3.4v-6.9zM269.6 348.7l5.6 3.4v6.9l-5.6 3.4l-5.6 -3.4v-6.9zM280.5 348.7l5.6 3.4v6.9l-5.6 3.4l-5.6 -3.4v-6.9zM291.3 348.7l5.6 3.4v6.9l-5.6 3.4l-5.6 -3.4v-6.9zM302.1 348.7l5.6 3.4v6.9l-5.6 3.4l-5.6 -3.4v-6.9zM313.0 348.7l5.6 3.4v6.9l-5.6 3.4l-5.6 -3.4v-6.9zM323.8 348.7l5.6 3.4v6.9l-5.6 3.4l-5.6 -3.4v-6.9zM334.7 348.7l5.6 3.4v6.9l-5.6 3.4l-5.6 -3.4v-6.9zM345.5 348.7l5.6 3.4v6.9l-5.6 3.4l-5.6 -3.4v-6.9zM356.3 348.7l5.6 3.4v6.9l-5.6 3.4l-5.6 -3.4v-6.9zM367.2 348.7l5.6 3.4v6.9l-5.6 3.4l-5.6 -3.4v-6.9zM253.4 338.6l5.6 3.4v6.9l-5.6 3.4l-5.6 -3.4v-6.9zM264.2 338.6l5.6 3.4v6.9l-5.6 3.4l-5.6 -3.4v-6.9zM275.0 338.6l5.6 3.4v6.9l-5.6 3.4l-5.6 -3.4v-6.9zM285.9 338.6l5.6 3.4v6.9l-5.6 3.4l-5.6 -3.4v-6.9zM296.7 338.6l5.6 3.4v6.9l-5.6 3.4l-5.6 -3.4v-6.9zM307.6 338.6l5.6 3.4v6.9l-5.6 3.4l-5.6 -3.4v-6.9zM318.4 338.6l5.6 3.4v6.9l-5.6 3.4l-5.6 -3.4v-6.9zM329.2 338.6l5.6 3.4v6.9l-5.6 3.4l-5.6 -3.4v-6.9zM340.1 338.6l5.6 3.4v6.9l-5.6 3.4l-5.6 -3.4v-6.9zM350.9 338.6l5.6 3.4v6.9l-5.6 3.4l-5.6 -3.4v-6.9zM361.8 338.6l5.6 3.4v6.9l-5.6 3.4l-5.6 -3.4v-6.9zM247.9 328.6l5.6 3.4v6.9l-5.6 3.4l-5.6 -3.4v-6.9zM258.8 328.6l5.6 3.4v6.9l-5.6 3.4l-5.6 -3.4v-6.9zM269.6 328.6l5.6 3.4v6.9l-5.6 3.4l-5.6 -3.4v-6.9zM280.5 328.6l5.6 3.4v6.9l-5.6 3.4l-5.6 -3.4v-6.9zM291.3 328.6l5.6 3.4v6.9l-5.6 3.4l-5.6 -3.4v-6.9zM302.1 328.6l5.6 3.4v6.9l-5.6 3.4l-5.6 -3.4v-6.9zM313.0 328.6l5.6 3.4v6.9l-5.6 3.4l-5.6 -3.4v-6.9zM323.8 328.6l5.6 3.4v6.9l-5.6 3.4l-5.6 -3.4v-6.9zM334.7 328.6l5.6 3.4v6.9l-5.6 3.4l-5.6 -3.4v-6.9zM345.5 328.6l5.6 3.4v6.9l-5.6 3.4l-5.6 -3.4v-6.9zM356.3 328.6l5.6 3.4v6.9l-5.6 3.4l-5.6 -3.4v-6.9zM253.4 318.6l5.6 3.4v6.9l-5.6 3.4l-5.6 -3.4v-6.9zM264.2 318.6l5.6 3.4v6.9l-5.6 3.4l-5.6 -3.4v-6.9zM275.0 318.6l5.6 3.4v6.9l-5.6 3.4l-5.6 -3.4v-6.9zM285.9 318.6l5.6 3.4v6.9l-5.6 3.4l-5.6 -3.4v-6.9zM296.7 318.6l5.6 3.4v6.9l-5.6 3.4l-5.6 -3.4v-6.9zM307.6 318.6l5.6 3.4v6.9l-5.6 3.4l-5.6 -3.4v-6.9zM318.4 318.6l5.6 3.4v6.9l-5.6 3.4l-5.6 -3.4v-6.9zM329.2 318.6l5.6 3.4v6.9l-5.6 3.4l-5.6 -3.4v-6.9zM340.1 318.6l5.6 3.4v6.9l-5.6 3.4l-5.6 -3.4v-6.9zM350.9 318.6l5.6 3.4v6.9l-5.6 3.4l-5.6 -3.4v-6.9zM258.8 308.5l5.6 3.4v6.9l-5.6 3.4l-5.6 -3.4v-6.9zM269.6 308.5l5.6 3.4v6.9l-5.6 3.4l-5.6 -3.4v-6.9zM280.5 308.5l5.6 3.4v6.9l-5.6 3.4l-5.6 -3.4v-6.9zM291.3 308.5l5.6 3.4v6.9l-5.6 3.4l-5.6 -3.4v-6.9zM302.1 308.5l5.6 3.4v6.9l-5.6 3.4l-5.6 -3.4v-6.9zM313.0 308.5l5.6 3.4v6.9l-5.6 3.4l-5.6 -3.4v-6.9zM323.8 308.5l5.6 3.4v6.9l-5.6 3.4l-5.6 -3.4v-6.9zM334.7 308.5l5.6 3.4v6.9l-5.6 3.4l-5.6 -3.4v-6.9zM345.5 308.5l5.6 3.4v6.9l-5.6 3.4l-5.6 -3.4v-6.9zM264.2 298.4l5.6 3.4v6.9l-5.6 3.4l-5.6 -3.4v-6.9zM275.0 298.4l5.6 3.4v6.9l-5.6 3.4l-5.6 -3.4v-6.9zM285.9 298.4l5.6 3.4v6.9l-5.6 3.4l-5.6 -3.4v-6.9zM296.7 298.4l5.6 3.4v6.9l-5.6 3.4l-5.6 -3.4v-6.9zM307.6 298.4l5.6 3.4v6.9l-5.6 3.4l-5.6 -3.4v-6.9zM318.4 298.4l5.6 3.4v6.9l-5.6 3.4l-5.6 -3.4v-6.9zM329.2 298.4l5.6 3.4v6.9l-5.6 3.4l-5.6 -3.4v-6.9zM340.1 298.4l5.6 3.4v6.9l-5.6 3.4l-5.6 -3.4v-6.9zM269.6 288.4l5.6 3.4v6.9l-5.6 3.4l-5.6 -3.4v-6.9zM280.5 288.4l5.6 3.4v6.9l-5.6 3.4l-5.6 -3.4v-6.9zM291.3 288.4l5.6 3.4v6.9l-5.6 3.4l-5.6 -3.4v-6.9zM302.1 288.4l5.6 3.4v6.9l-5.6 3.4l-5.6 -3.4v-6.9zM313.0 288.4l5.6 3.4v6.9l-5.6 3.4l-5.6 -3.4v-6.9zM323.8 288.4l5.6 3.4v6.9l-5.6 3.4l-5.6 -3.4v-6.9zM334.7 288.4l5.6 3.4v6.9l-5.6 3.4l-5.6 -3.4v-6.9zM275.0 278.4l5.6 3.4v6.9l-5.6 3.4l-5.6 -3.4v-6.9zM285.9 278.4l5.6 3.4v6.9l-5.6 3.4l-5.6 -3.4v-6.9zM296.7 278.4l5.6 3.4v6.9l-5.6 3.4l-5.6 -3.4v-6.9zM307.6 278.4l5.6 3.4v6.9l-5.6 3.4l-5.6 -3.4v-6.9zM318.4 278.4l5.6 3.4v6.9l-5.6 3.4l-5.6 -3.4v-6.9zM329.2 278.4l5.6 3.4v6.9l-5.6 3.4l-5.6 -3.4v-6.9zM269.6 268.3l5.6 3.4v6.9l-5.6 3.4l-5.6 -3.4v-6.9zM280.5 268.3l5.6 3.4v6.9l-5.6 3.4l-5.6 -3.4v-6.9zM291.3 268.3l5.6 3.4v6.9l-5.6 3.4l-5.6 -3.4v-6.9zM302.1 268.3l5.6 3.4v6.9l-5.6 3.4l-5.6 -3.4v-6.9zM313.0 268.3l5.6 3.4v6.9l-5.6 3.4l-5.6 -3.4v-6.9zM323.8 268.3l5.6 3.4v6.9l-5.6 3.4l-5.6 -3.4v-6.9zM275.0 258.2l5.6 3.4v6.9l-5.6 3.4l-5.6 -3.4v-6.9zM285.9 258.2l5.6 3.4v6.9l-5.6 3.4l-5.6 -3.4v-6.9zM296.7 258.2l5.6 3.4v6.9l-5.6 3.4l-5.6 -3.4v-6.9zM307.6 258.2l5.6 3.4v6.9l-5.6 3.4l-5.6 -3.4v-6.9zM318.4 258.2l5.6 3.4v6.9l-5.6 3.4l-5.6 -3.4v-6.9zM280.5 248.2l5.6 3.4v6.9l-5.6 3.4l-5.6 -3.4v-6.9zM291.3 248.2l5.6 3.4v6.9l-5.6 3.4l-5.6 -3.4v-6.9zM302.1 248.2l5.6 3.4v6.9l-5.6 3.4l-5.6 -3.4v-6.9zM313.0 248.2l5.6 3.4v6.9l-5.6 3.4l-5.6 -3.4v-6.9zM285.9 238.2l5.6 3.4v6.9l-5.6 3.4l-5.6 -3.4v-6.9zM296.7 238.2l5.6 3.4v6.9l-5.6 3.4l-5.6 -3.4v-6.9zM307.6 238.2l5.6 3.4v6.9l-5.6 3.4l-5.6 -3.4v-6.9zM291.3 228.1l5.6 3.4v6.9l-5.6 3.4l-5.6 -3.4v-6.9zM302.1 228.1l5.6 3.4v6.9l-5.6 3.4l-5.6 -3.4v-6.9zM285.9 218.1l5.6 3.4v6.9l-5.6 3.4l-5.6 -3.4v-6.9zM296.7 218.1l5.6 3.4v6.9l-5.6 3.4l-5.6 -3.4v-6.9zM291.3 208.0l5.6 3.4v6.9l-5.6 3.4l-5.6 -3.4v-6.9z"/>
<path fill="#55c9e5" d="M269.6 189.9l4.0 2.4v4.9l-4.0 2.4l-4.0 -2.4v-4.9zM280.5 189.9l4.0 2.4v4.9l-4.0 2.4l-4.0 -2.4v-4.9zM231.7 179.8l4.0 2.4v4.9l-4.0 2.4l-4.0 -2.4v-4.9zM242.5 179.8l4.0 2.4v4.9l-4.0 2.4l-4.0 -2.4v-4.9zM253.4 179.8l4.0 2.4v4.9l-4.0 2.4l-4.0 -2.4v-4.9zM264.2 179.8l4.0 2.4v4.9l-4.0 2.4l-4.0 -2.4v-4.9zM275.0 179.8l4.0 2.4v4.9l-4.0 2.4l-4.0 -2.4v-4.9zM204.6 169.8l4.0 2.4v4.9l-4.0 2.4l-4.0 -2.4v-4.9zM215.4 169.8l4.0 2.4v4.9l-4.0 2.4l-4.0 -2.4v-4.9zM226.3 169.8l4.0 2.4v4.9l-4.0 2.4l-4.0 -2.4v-4.9zM237.1 169.8l4.0 2.4v4.9l-4.0 2.4l-4.0 -2.4v-4.9zM247.9 169.8l4.0 2.4v4.9l-4.0 2.4l-4.0 -2.4v-4.9zM258.8 169.8l4.0 2.4v4.9l-4.0 2.4l-4.0 -2.4v-4.9zM269.6 169.8l4.0 2.4v4.9l-4.0 2.4l-4.0 -2.4v-4.9zM188.3 159.7l4.0 2.4v4.9l-4.0 2.4l-4.0 -2.4v-4.9zM199.2 159.7l4.0 2.4v4.9l-4.0 2.4l-4.0 -2.4v-4.9zM210.0 159.7l4.0 2.4v4.9l-4.0 2.4l-4.0 -2.4v-4.9zM220.8 159.7l4.0 2.4v4.9l-4.0 2.4l-4.0 -2.4v-4.9zM231.7 159.7l4.0 2.4v4.9l-4.0 2.4l-4.0 -2.4v-4.9zM242.5 159.7l4.0 2.4v4.9l-4.0 2.4l-4.0 -2.4v-4.9zM253.4 159.7l4.0 2.4v4.9l-4.0 2.4l-4.0 -2.4v-4.9zM264.2 159.7l4.0 2.4v4.9l-4.0 2.4l-4.0 -2.4v-4.9zM182.9 149.7l4.0 2.4v4.9l-4.0 2.4l-4.0 -2.4v-4.9zM193.7 149.7l4.0 2.4v4.9l-4.0 2.4l-4.0 -2.4v-4.9zM204.6 149.7l4.0 2.4v4.9l-4.0 2.4l-4.0 -2.4v-4.9zM215.4 149.7l4.0 2.4v4.9l-4.0 2.4l-4.0 -2.4v-4.9zM226.3 149.7l4.0 2.4v4.9l-4.0 2.4l-4.0 -2.4v-4.9zM237.1 149.7l4.0 2.4v4.9l-4.0 2.4l-4.0 -2.4v-4.9zM247.9 149.7l4.0 2.4v4.9l-4.0 2.4l-4.0 -2.4v-4.9zM258.8 149.7l4.0 2.4v4.9l-4.0 2.4l-4.0 -2.4v-4.9zM177.5 139.6l4.0 2.4v4.9l-4.0 2.4l-4.0 -2.4v-4.9zM188.3 139.6l4.0 2.4v4.9l-4.0 2.4l-4.0 -2.4v-4.9zM199.2 139.6l4.0 2.4v4.9l-4.0 2.4l-4.0 -2.4v-4.9zM210.0 139.6l4.0 2.4v4.9l-4.0 2.4l-4.0 -2.4v-4.9zM220.8 139.6l4.0 2.4v4.9l-4.0 2.4l-4.0 -2.4v-4.9zM231.7 139.6l4.0 2.4v4.9l-4.0 2.4l-4.0 -2.4v-4.9zM242.5 139.6l4.0 2.4v4.9l-4.0 2.4l-4.0 -2.4v-4.9zM253.4 139.6l4.0 2.4v4.9l-4.0 2.4l-4.0 -2.4v-4.9zM172.1 129.6l4.0 2.4v4.9l-4.0 2.4l-4.0 -2.4v-4.9zM182.9 129.6l4.0 2.4v4.9l-4.0 2.4l-4.0 -2.4v-4.9zM193.7 129.6l4.0 2.4v4.9l-4.0 2.4l-4.0 -2.4v-4.9zM204.6 129.6l4.0 2.4v4.9l-4.0 2.4l-4.0 -2.4v-4.9zM215.4 129.6l4.0 2.4v4.9l-4.0 2.4l-4.0 -2.4v-4.9zM226.3 129.6l4.0 2.4v4.9l-4.0 2.4l-4.0 -2.4v-4.9zM237.1 129.6l4.0 2.4v4.9l-4.0 2.4l-4.0 -2.4v-4.9zM247.9 129.6l4.0 2.4v4.9l-4.0 2.4l-4.0 -2.4v-4.9zM177.5 119.5l4.0 2.4v4.9l-4.0 2.4l-4.0 -2.4v-4.9zM188.3 119.5l4.0 2.4v4.9l-4.0 2.4l-4.0 -2.4v-4.9zM199.2 119.5l4.0 2.4v4.9l-4.0 2.4l-4.0 -2.4v-4.9zM210.0 119.5l4.0 2.4v4.9l-4.0 2.4l-4.0 -2.4v-4.9zM220.8 119.5l4.0 2.4v4.9l-4.0 2.4l-4.0 -2.4v-4.9zM231.7 119.5l4.0 2.4v4.9l-4.0 2.4l-4.0 -2.4v-4.9zM242.5 119.5l4.0 2.4v4.9l-4.0 2.4l-4.0 -2.4v-4.9zM182.9 109.5l4.0 2.4v4.9l-4.0 2.4l-4.0 -2.4v-4.9zM193.7 109.5l4.0 2.4v4.9l-4.0 2.4l-4.0 -2.4v-4.9zM204.6 109.5l4.0 2.4v4.9l-4.0 2.4l-4.0 -2.4v-4.9zM215.4 109.5l4.0 2.4v4.9l-4.0 2.4l-4.0 -2.4v-4.9zM226.3 109.5l4.0 2.4v4.9l-4.0 2.4l-4.0 -2.4v-4.9zM237.1 109.5l4.0 2.4v4.9l-4.0 2.4l-4.0 -2.4v-4.9zM188.3 99.4l4.0 2.4v4.9l-4.0 2.4l-4.0 -2.4v-4.9zM199.2 99.4l4.0 2.4v4.9l-4.0 2.4l-4.0 -2.4v-4.9zM210.0 99.4l4.0 2.4v4.9l-4.0 2.4l-4.0 -2.4v-4.9zM220.8 99.4l4.0 2.4v4.9l-4.0 2.4l-4.0 -2.4v-4.9zM231.7 99.4l4.0 2.4v4.9l-4.0 2.4l-4.0 -2.4v-4.9zM193.7 89.4l4.0 2.4v4.9l-4.0 2.4l-4.0 -2.4v-4.9zM204.6 89.4l4.0 2.4v4.9l-4.0 2.4l-4.0 -2.4v-4.9zM215.4 89.4l4.0 2.4v4.9l-4.0 2.4l-4.0 -2.4v-4.9zM226.3 89.4l4.0 2.4v4.9l-4.0 2.4l-4.0 -2.4v-4.9zM199.2 79.3l4.0 2.4v4.9l-4.0 2.4l-4.0 -2.4v-4.9zM210.0 79.3l4.0 2.4v4.9l-4.0 2.4l-4.0 -2.4v-4.9zM220.8 79.3l4.0 2.4v4.9l-4.0 2.4l-4.0 -2.4v-4.9zM204.6 69.3l4.0 2.4v4.9l-4.0 2.4l-4.0 -2.4v-4.9zM215.4 69.3l4.0 2.4v4.9l-4.0 2.4l-4.0 -2.4v-4.9zM210.0 59.2l4.0 2.4v4.9l-4.0 2.4l-4.0 -2.4v-4.9z"/>
<path fill="#e8a856" d="M47.4 360.7l4.0 2.4v4.9l-4.0 2.4l-4.0 -2.4v-4.9zM58.2 360.7l4.0 2.4v4.9l-4.0 2.4l-4.0 -2.4v-4.9zM69.1 360.7l4.0 2.4v4.9l-4.0 2.4l-4.0 -2.4v-4.9zM79.9 360.7l4.0 2.4v4.9l-4.0 2.4l-4.0 -2.4v-4.9zM90.8 360.7l4.0 2.4v4.9l-4.0 2.4l-4.0 -2.4v-4.9zM101.6 360.7l4.0 2.4v4.9l-4.0 2.4l-4.0 -2.4v-4.9zM112.4 360.7l4.0 2.4v4.9l-4.0 2.4l-4.0 -2.4v-4.9zM123.3 360.7l4.0 2.4v4.9l-4.0 2.4l-4.0 -2.4v-4.9zM134.1 360.7l4.0 2.4v4.9l-4.0 2.4l-4.0 -2.4v-4.9zM145.0 360.7l4.0 2.4v4.9l-4.0 2.4l-4.0 -2.4v-4.9zM155.8 360.7l4.0 2.4v4.9l-4.0 2.4l-4.0 -2.4v-4.9zM166.6 360.7l4.0 2.4v4.9l-4.0 2.4l-4.0 -2.4v-4.9zM177.5 360.7l4.0 2.4v4.9l-4.0 2.4l-4.0 -2.4v-4.9zM52.8 350.7l4.0 2.4v4.9l-4.0 2.4l-4.0 -2.4v-4.9zM63.7 350.7l4.0 2.4v4.9l-4.0 2.4l-4.0 -2.4v-4.9zM74.5 350.7l4.0 2.4v4.9l-4.0 2.4l-4.0 -2.4v-4.9zM85.3 350.7l4.0 2.4v4.9l-4.0 2.4l-4.0 -2.4v-4.9zM96.2 350.7l4.0 2.4v4.9l-4.0 2.4l-4.0 -2.4v-4.9zM107.0 350.7l4.0 2.4v4.9l-4.0 2.4l-4.0 -2.4v-4.9zM117.9 350.7l4.0 2.4v4.9l-4.0 2.4l-4.0 -2.4v-4.9zM128.7 350.7l4.0 2.4v4.9l-4.0 2.4l-4.0 -2.4v-4.9zM139.5 350.7l4.0 2.4v4.9l-4.0 2.4l-4.0 -2.4v-4.9zM150.4 350.7l4.0 2.4v4.9l-4.0 2.4l-4.0 -2.4v-4.9zM161.2 350.7l4.0 2.4v4.9l-4.0 2.4l-4.0 -2.4v-4.9zM172.1 350.7l4.0 2.4v4.9l-4.0 2.4l-4.0 -2.4v-4.9zM182.9 350.7l4.0 2.4v4.9l-4.0 2.4l-4.0 -2.4v-4.9zM58.2 340.6l4.0 2.4v4.9l-4.0 2.4l-4.0 -2.4v-4.9zM69.1 340.6l4.0 2.4v4.9l-4.0 2.4l-4.0 -2.4v-4.9zM79.9 340.6l4.0 2.4v4.9l-4.0 2.4l-4.0 -2.4v-4.9zM90.8 340.6l4.0 2.4v4.9l-4.0 2.4l-4.0 -2.4v-4.9zM101.6 340.6l4.0 2.4v4.9l-4.0 2.4l-4.0 -2.4v-4.9zM112.4 340.6l4.0 2.4v4.9l-4.0 2.4l-4.0 -2.4v-4.9zM123.3 340.6l4.0 2.4v4.9l-4.0 2.4l-4.0 -2.4v-4.9zM134.1 340.6l4.0 2.4v4.9l-4.0 2.4l-4.0 -2.4v-4.9zM145.0 340.6l4.0 2.4v4.9l-4.0 2.4l-4.0 -2.4v-4.9zM155.8 340.6l4.0 2.4v4.9l-4.0 2.4l-4.0 -2.4v-4.9zM166.6 340.6l4.0 2.4v4.9l-4.0 2.4l-4.0 -2.4v-4.9zM177.5 340.6l4.0 2.4v4.9l-4.0 2.4l-4.0 -2.4v-4.9zM63.7 330.6l4.0 2.4v4.9l-4.0 2.4l-4.0 -2.4v-4.9zM74.5 330.6l4.0 2.4v4.9l-4.0 2.4l-4.0 -2.4v-4.9zM85.3 330.6l4.0 2.4v4.9l-4.0 2.4l-4.0 -2.4v-4.9zM96.2 330.6l4.0 2.4v4.9l-4.0 2.4l-4.0 -2.4v-4.9zM107.0 330.6l4.0 2.4v4.9l-4.0 2.4l-4.0 -2.4v-4.9zM117.9 330.6l4.0 2.4v4.9l-4.0 2.4l-4.0 -2.4v-4.9zM128.7 330.6l4.0 2.4v4.9l-4.0 2.4l-4.0 -2.4v-4.9zM139.5 330.6l4.0 2.4v4.9l-4.0 2.4l-4.0 -2.4v-4.9zM150.4 330.6l4.0 2.4v4.9l-4.0 2.4l-4.0 -2.4v-4.9zM161.2 330.6l4.0 2.4v4.9l-4.0 2.4l-4.0 -2.4v-4.9zM172.1 330.6l4.0 2.4v4.9l-4.0 2.4l-4.0 -2.4v-4.9zM182.9 330.6l4.0 2.4v4.9l-4.0 2.4l-4.0 -2.4v-4.9zM69.1 320.5l4.0 2.4v4.9l-4.0 2.4l-4.0 -2.4v-4.9zM79.9 320.5l4.0 2.4v4.9l-4.0 2.4l-4.0 -2.4v-4.9zM90.8 320.5l4.0 2.4v4.9l-4.0 2.4l-4.0 -2.4v-4.9zM101.6 320.5l4.0 2.4v4.9l-4.0 2.4l-4.0 -2.4v-4.9zM112.4 320.5l4.0 2.4v4.9l-4.0 2.4l-4.0 -2.4v-4.9zM123.3 320.5l4.0 2.4v4.9l-4.0 2.4l-4.0 -2.4v-4.9zM134.1 320.5l4.0 2.4v4.9l-4.0 2.4l-4.0 -2.4v-4.9zM145.0 320.5l4.0 2.4v4.9l-4.0 2.4l-4.0 -2.4v-4.9zM155.8 320.5l4.0 2.4v4.9l-4.0 2.4l-4.0 -2.4v-4.9zM166.6 320.5l4.0 2.4v4.9l-4.0 2.4l-4.0 -2.4v-4.9zM177.5 320.5l4.0 2.4v4.9l-4.0 2.4l-4.0 -2.4v-4.9zM74.5 310.5l4.0 2.4v4.9l-4.0 2.4l-4.0 -2.4v-4.9zM85.3 310.5l4.0 2.4v4.9l-4.0 2.4l-4.0 -2.4v-4.9zM96.2 310.5l4.0 2.4v4.9l-4.0 2.4l-4.0 -2.4v-4.9zM107.0 310.5l4.0 2.4v4.9l-4.0 2.4l-4.0 -2.4v-4.9zM117.9 310.5l4.0 2.4v4.9l-4.0 2.4l-4.0 -2.4v-4.9zM128.7 310.5l4.0 2.4v4.9l-4.0 2.4l-4.0 -2.4v-4.9zM139.5 310.5l4.0 2.4v4.9l-4.0 2.4l-4.0 -2.4v-4.9zM150.4 310.5l4.0 2.4v4.9l-4.0 2.4l-4.0 -2.4v-4.9zM161.2 310.5l4.0 2.4v4.9l-4.0 2.4l-4.0 -2.4v-4.9zM172.1 310.5l4.0 2.4v4.9l-4.0 2.4l-4.0 -2.4v-4.9zM182.9 310.5l4.0 2.4v4.9l-4.0 2.4l-4.0 -2.4v-4.9zM79.9 300.4l4.0 2.4v4.9l-4.0 2.4l-4.0 -2.4v-4.9zM90.8 300.4l4.0 2.4v4.9l-4.0 2.4l-4.0 -2.4v-4.9zM101.6 300.4l4.0 2.4v4.9l-4.0 2.4l-4.0 -2.4v-4.9zM112.4 300.4l4.0 2.4v4.9l-4.0 2.4l-4.0 -2.4v-4.9zM123.3 300.4l4.0 2.4v4.9l-4.0 2.4l-4.0 -2.4v-4.9zM134.1 300.4l4.0 2.4v4.9l-4.0 2.4l-4.0 -2.4v-4.9zM145.0 300.4l4.0 2.4v4.9l-4.0 2.4l-4.0 -2.4v-4.9zM155.8 300.4l4.0 2.4v4.9l-4.0 2.4l-4.0 -2.4v-4.9zM166.6 300.4l4.0 2.4v4.9l-4.0 2.4l-4.0 -2.4v-4.9zM177.5 300.4l4.0 2.4v4.9l-4.0 2.4l-4.0 -2.4v-4.9zM188.3 300.4l4.0 2.4v4.9l-4.0 2.4l-4.0 -2.4v-4.9zM85.3 290.4l4.0 2.4v4.9l-4.0 2.4l-4.0 -2.4v-4.9zM96.2 290.4l4.0 2.4v4.9l-4.0 2.4l-4.0 -2.4v-4.9zM107.0 290.4l4.0 2.4v4.9l-4.0 2.4l-4.0 -2.4v-4.9zM117.9 290.4l4.0 2.4v4.9l-4.0 2.4l-4.0 -2.4v-4.9zM128.7 290.4l4.0 2.4v4.9l-4.0 2.4l-4.0 -2.4v-4.9zM139.5 290.4l4.0 2.4v4.9l-4.0 2.4l-4.0 -2.4v-4.9zM150.4 290.4l4.0 2.4v4.9l-4.0 2.4l-4.0 -2.4v-4.9zM161.2 290.4l4.0 2.4v4.9l-4.0 2.4l-4.0 -2.4v-4.9zM172.1 290.4l4.0 2.4v4.9l-4.0 2.4l-4.0 -2.4v-4.9zM182.9 290.4l4.0 2.4v4.9l-4.0 2.4l-4.0 -2.4v-4.9zM90.8 280.3l4.0 2.4v4.9l-4.0 2.4l-4.0 -2.4v-4.9zM101.6 280.3l4.0 2.4v4.9l-4.0 2.4l-4.0 -2.4v-4.9zM112.4 280.3l4.0 2.4v4.9l-4.0 2.4l-4.0 -2.4v-4.9zM123.3 280.3l4.0 2.4v4.9l-4.0 2.4l-4.0 -2.4v-4.9zM134.1 280.3l4.0 2.4v4.9l-4.0 2.4l-4.0 -2.4v-4.9zM145.0 280.3l4.0 2.4v4.9l-4.0 2.4l-4.0 -2.4v-4.9zM155.8 280.3l4.0 2.4v4.9l-4.0 2.4l-4.0 -2.4v-4.9zM166.6 280.3l4.0 2.4v4.9l-4.0 2.4l-4.0 -2.4v-4.9zM177.5 280.3l4.0 2.4v4.9l-4.0 2.4l-4.0 -2.4v-4.9zM188.3 280.3l4.0 2.4v4.9l-4.0 2.4l-4.0 -2.4v-4.9zM96.2 270.3l4.0 2.4v4.9l-4.0 2.4l-4.0 -2.4v-4.9zM107.0 270.3l4.0 2.4v4.9l-4.0 2.4l-4.0 -2.4v-4.9zM117.9 270.3l4.0 2.4v4.9l-4.0 2.4l-4.0 -2.4v-4.9zM128.7 270.3l4.0 2.4v4.9l-4.0 2.4l-4.0 -2.4v-4.9zM139.5 270.3l4.0 2.4v4.9l-4.0 2.4l-4.0 -2.4v-4.9zM150.4 270.3l4.0 2.4v4.9l-4.0 2.4l-4.0 -2.4v-4.9zM161.2 270.3l4.0 2.4v4.9l-4.0 2.4l-4.0 -2.4v-4.9zM172.1 270.3l4.0 2.4v4.9l-4.0 2.4l-4.0 -2.4v-4.9zM182.9 270.3l4.0 2.4v4.9l-4.0 2.4l-4.0 -2.4v-4.9zM101.6 260.2l4.0 2.4v4.9l-4.0 2.4l-4.0 -2.4v-4.9zM112.4 260.2l4.0 2.4v4.9l-4.0 2.4l-4.0 -2.4v-4.9zM123.3 260.2l4.0 2.4v4.9l-4.0 2.4l-4.0 -2.4v-4.9zM134.1 260.2l4.0 2.4v4.9l-4.0 2.4l-4.0 -2.4v-4.9zM145.0 260.2l4.0 2.4v4.9l-4.0 2.4l-4.0 -2.4v-4.9zM155.8 260.2l4.0 2.4v4.9l-4.0 2.4l-4.0 -2.4v-4.9zM166.6 260.2l4.0 2.4v4.9l-4.0 2.4l-4.0 -2.4v-4.9zM177.5 260.2l4.0 2.4v4.9l-4.0 2.4l-4.0 -2.4v-4.9zM188.3 260.2l4.0 2.4v4.9l-4.0 2.4l-4.0 -2.4v-4.9zM107.0 250.2l4.0 2.4v4.9l-4.0 2.4l-4.0 -2.4v-4.9zM117.9 250.2l4.0 2.4v4.9l-4.0 2.4l-4.0 -2.4v-4.9zM128.7 250.2l4.0 2.4v4.9l-4.0 2.4l-4.0 -2.4v-4.9zM139.5 250.2l4.0 2.4v4.9l-4.0 2.4l-4.0 -2.4v-4.9zM150.4 250.2l4.0 2.4v4.9l-4.0 2.4l-4.0 -2.4v-4.9zM161.2 250.2l4.0 2.4v4.9l-4.0 2.4l-4.0 -2.4v-4.9zM172.1 250.2l4.0 2.4v4.9l-4.0 2.4l-4.0 -2.4v-4.9zM182.9 250.2l4.0 2.4v4.9l-4.0 2.4l-4.0 -2.4v-4.9zM112.4 240.1l4.0 2.4v4.9l-4.0 2.4l-4.0 -2.4v-4.9zM123.3 240.1l4.0 2.4v4.9l-4.0 2.4l-4.0 -2.4v-4.9zM134.1 240.1l4.0 2.4v4.9l-4.0 2.4l-4.0 -2.4v-4.9zM145.0 240.1l4.0 2.4v4.9l-4.0 2.4l-4.0 -2.4v-4.9zM155.8 240.1l4.0 2.4v4.9l-4.0 2.4l-4.0 -2.4v-4.9zM166.6 240.1l4.0 2.4v4.9l-4.0 2.4l-4.0 -2.4v-4.9zM177.5 240.1l4.0 2.4v4.9l-4.0 2.4l-4.0 -2.4v-4.9zM188.3 240.1l4.0 2.4v4.9l-4.0 2.4l-4.0 -2.4v-4.9zM117.9 230.1l4.0 2.4v4.9l-4.0 2.4l-4.0 -2.4v-4.9zM128.7 230.1l4.0 2.4v4.9l-4.0 2.4l-4.0 -2.4v-4.9zM139.5 230.1l4.0 2.4v4.9l-4.0 2.4l-4.0 -2.4v-4.9zM150.4 230.1l4.0 2.4v4.9l-4.0 2.4l-4.0 -2.4v-4.9zM161.2 230.1l4.0 2.4v4.9l-4.0 2.4l-4.0 -2.4v-4.9zM172.1 230.1l4.0 2.4v4.9l-4.0 2.4l-4.0 -2.4v-4.9zM182.9 230.1l4.0 2.4v4.9l-4.0 2.4l-4.0 -2.4v-4.9zM123.3 220.0l4.0 2.4v4.9l-4.0 2.4l-4.0 -2.4v-4.9zM134.1 220.0l4.0 2.4v4.9l-4.0 2.4l-4.0 -2.4v-4.9zM145.0 220.0l4.0 2.4v4.9l-4.0 2.4l-4.0 -2.4v-4.9zM155.8 220.0l4.0 2.4v4.9l-4.0 2.4l-4.0 -2.4v-4.9zM166.6 220.0l4.0 2.4v4.9l-4.0 2.4l-4.0 -2.4v-4.9zM177.5 220.0l4.0 2.4v4.9l-4.0 2.4l-4.0 -2.4v-4.9zM188.3 220.0l4.0 2.4v4.9l-4.0 2.4l-4.0 -2.4v-4.9zM128.7 210.0l4.0 2.4v4.9l-4.0 2.4l-4.0 -2.4v-4.9zM139.5 210.0l4.0 2.4v4.9l-4.0 2.4l-4.0 -2.4v-4.9zM150.4 210.0l4.0 2.4v4.9l-4.0 2.4l-4.0 -2.4v-4.9zM161.2 210.0l4.0 2.4v4.9l-4.0 2.4l-4.0 -2.4v-4.9zM172.1 210.0l4.0 2.4v4.9l-4.0 2.4l-4.0 -2.4v-4.9zM182.9 210.0l4.0 2.4v4.9l-4.0 2.4l-4.0 -2.4v-4.9zM134.1 199.9l4.0 2.4v4.9l-4.0 2.4l-4.0 -2.4v-4.9zM145.0 199.9l4.0 2.4v4.9l-4.0 2.4l-4.0 -2.4v-4.9zM155.8 199.9l4.0 2.4v4.9l-4.0 2.4l-4.0 -2.4v-4.9zM166.6 199.9l4.0 2.4v4.9l-4.0 2.4l-4.0 -2.4v-4.9zM177.5 199.9l4.0 2.4v4.9l-4.0 2.4l-4.0 -2.4v-4.9zM188.3 199.9l4.0 2.4v4.9l-4.0 2.4l-4.0 -2.4v-4.9zM139.5 189.9l4.0 2.4v4.9l-4.0 2.4l-4.0 -2.4v-4.9zM150.4 189.9l4.0 2.4v4.9l-4.0 2.4l-4.0 -2.4v-4.9zM161.2 189.9l4.0 2.4v4.9l-4.0 2.4l-4.0 -2.4v-4.9zM172.1 189.9l4.0 2.4v4.9l-4.0 2.4l-4.0 -2.4v-4.9zM182.9 189.9l4.0 2.4v4.9l-4.0 2.4l-4.0 -2.4v-4.9zM145.0 179.8l4.0 2.4v4.9l-4.0 2.4l-4.0 -2.4v-4.9zM155.8 179.8l4.0 2.4v4.9l-4.0 2.4l-4.0 -2.4v-4.9zM166.6 179.8l4.0 2.4v4.9l-4.0 2.4l-4.0 -2.4v-4.9zM177.5 179.8l4.0 2.4v4.9l-4.0 2.4l-4.0 -2.4v-4.9zM188.3 179.8l4.0 2.4v4.9l-4.0 2.4l-4.0 -2.4v-4.9zM150.4 169.8l4.0 2.4v4.9l-4.0 2.4l-4.0 -2.4v-4.9zM161.2 169.8l4.0 2.4v4.9l-4.0 2.4l-4.0 -2.4v-4.9zM172.1 169.8l4.0 2.4v4.9l-4.0 2.4l-4.0 -2.4v-4.9zM182.9 169.8l4.0 2.4v4.9l-4.0 2.4l-4.0 -2.4v-4.9zM155.8 159.7l4.0 2.4v4.9l-4.0 2.4l-4.0 -2.4v-4.9zM166.6 159.7l4.0 2.4v4.9l-4.0 2.4l-4.0 -2.4v-4.9zM177.5 159.7l4.0 2.4v4.9l-4.0 2.4l-4.0 -2.4v-4.9zM161.2 149.7l4.0 2.4v4.9l-4.0 2.4l-4.0 -2.4v-4.9zM172.1 149.7l4.0 2.4v4.9l-4.0 2.4l-4.0 -2.4v-4.9zM166.6 139.6l4.0 2.4v4.9l-4.0 2.4l-4.0 -2.4v-4.9z"/>
<path fill="#d7666a" d="M188.3 360.7l4.0 2.4v4.9l-4.0 2.4l-4.0 -2.4v-4.9zM199.2 360.7l4.0 2.4v4.9l-4.0 2.4l-4.0 -2.4v-4.9zM210.0 360.7l4.0 2.4v4.9l-4.0 2.4l-4.0 -2.4v-4.9zM220.8 360.7l4.0 2.4v4.9l-4.0 2.4l-4.0 -2.4v-4.9zM231.7 360.7l4.0 2.4v4.9l-4.0 2.4l-4.0 -2.4v-4.9zM193.7 350.7l4.0 2.4v4.9l-4.0 2.4l-4.0 -2.4v-4.9zM204.6 350.7l4.0 2.4v4.9l-4.0 2.4l-4.0 -2.4v-4.9zM215.4 350.7l4.0 2.4v4.9l-4.0 2.4l-4.0 -2.4v-4.9zM226.3 350.7l4.0 2.4v4.9l-4.0 2.4l-4.0 -2.4v-4.9zM237.1 350.7l4.0 2.4v4.9l-4.0 2.4l-4.0 -2.4v-4.9zM188.3 340.6l4.0 2.4v4.9l-4.0 2.4l-4.0 -2.4v-4.9zM199.2 340.6l4.0 2.4v4.9l-4.0 2.4l-4.0 -2.4v-4.9zM210.0 340.6l4.0 2.4v4.9l-4.0 2.4l-4.0 -2.4v-4.9zM220.8 340.6l4.0 2.4v4.9l-4.0 2.4l-4.0 -2.4v-4.9zM231.7 340.6l4.0 2.4v4.9l-4.0 2.4l-4.0 -2.4v-4.9zM242.5 340.6l4.0 2.4v4.9l-4.0 2.4l-4.0 -2.4v-4.9zM193.7 330.6l4.0 2.4v4.9l-4.0 2.4l-4.0 -2.4v-4.9zM204.6 330.6l4.0 2.4v4.9l-4.0 2.4l-4.0 -2.4v-4.9zM215.4 330.6l4.0 2.4v4.9l-4.0 2.4l-4.0 -2.4v-4.9zM226.3 330.6l4.0 2.4v4.9l-4.0 2.4l-4.0 -2.4v-4.9zM237.1 330.6l4.0 2.4v4.9l-4.0 2.4l-4.0 -2.4v-4.9zM188.3 320.5l4.0 2.4v4.9l-4.0 2.4l-4.0 -2.4v-4.9zM199.2 320.5l4.0 2.4v4.9l-4.0 2.4l-4.0 -2.4v-4.9zM210.0 320.5l4.0 2.4v4.9l-4.0 2.4l-4.0 -2.4v-4.9zM220.8 320.5l4.0 2.4v4.9l-4.0 2.4l-4.0 -2.4v-4.9zM231.7 320.5l4.0 2.4v4.9l-4.0 2.4l-4.0 -2.4v-4.9zM242.5 320.5l4.0 2.4v4.9l-4.0 2.4l-4.0 -2.4v-4.9zM193.7 310.5l4.0 2.4v4.9l-4.0 2.4l-4.0 -2.4v-4.9zM204.6 310.5l4.0 2.4v4.9l-4.0 2.4l-4.0 -2.4v-4.9zM215.4 310.5l4.0 2.4v4.9l-4.0 2.4l-4.0 -2.4v-4.9zM226.3 310.5l4.0 2.4v4.9l-4.0 2.4l-4.0 -2.4v-4.9zM237.1 310.5l4.0 2.4v4.9l-4.0 2.4l-4.0 -2.4v-4.9zM247.9 310.5l4.0 2.4v4.9l-4.0 2.4l-4.0 -2.4v-4.9zM199.2 300.4l4.0 2.4v4.9l-4.0 2.4l-4.0 -2.4v-4.9zM210.0 300.4l4.0 2.4v4.9l-4.0 2.4l-4.0 -2.4v-4.9zM220.8 300.4l4.0 2.4v4.9l-4.0 2.4l-4.0 -2.4v-4.9zM231.7 300.4l4.0 2.4v4.9l-4.0 2.4l-4.0 -2.4v-4.9zM242.5 300.4l4.0 2.4v4.9l-4.0 2.4l-4.0 -2.4v-4.9zM253.4 300.4l4.0 2.4v4.9l-4.0 2.4l-4.0 -2.4v-4.9zM193.7 290.4l4.0 2.4v4.9l-4.0 2.4l-4.0 -2.4v-4.9zM204.6 290.4l4.0 2.4v4.9l-4.0 2.4l-4.0 -2.4v-4.9zM215.4 290.4l4.0 2.4v4.9l-4.0 2.4l-4.0 -2.4v-4.9zM226.3 290.4l4.0 2.4v4.9l-4.0 2.4l-4.0 -2.4v-4.9zM237.1 290.4l4.0 2.4v4.9l-4.0 2.4l-4.0 -2.4v-4.9zM247.9 290.4l4.0 2.4v4.9l-4.0 2.4l-4.0 -2.4v-4.9zM258.8 290.4l4.0 2.4v4.9l-4.0 2.4l-4.0 -2.4v-4.9zM199.2 280.3l4.0 2.4v4.9l-4.0 2.4l-4.0 -2.4v-4.9zM210.0 280.3l4.0 2.4v4.9l-4.0 2.4l-4.0 -2.4v-4.9zM220.8 280.3l4.0 2.4v4.9l-4.0 2.4l-4.0 -2.4v-4.9zM231.7 280.3l4.0 2.4v4.9l-4.0 2.4l-4.0 -2.4v-4.9zM242.5 280.3l4.0 2.4v4.9l-4.0 2.4l-4.0 -2.4v-4.9zM253.4 280.3l4.0 2.4v4.9l-4.0 2.4l-4.0 -2.4v-4.9zM264.2 280.3l4.0 2.4v4.9l-4.0 2.4l-4.0 -2.4v-4.9zM193.7 270.3l4.0 2.4v4.9l-4.0 2.4l-4.0 -2.4v-4.9zM204.6 270.3l4.0 2.4v4.9l-4.0 2.4l-4.0 -2.4v-4.9zM215.4 270.3l4.0 2.4v4.9l-4.0 2.4l-4.0 -2.4v-4.9zM226.3 270.3l4.0 2.4v4.9l-4.0 2.4l-4.0 -2.4v-4.9zM237.1 270.3l4.0 2.4v4.9l-4.0 2.4l-4.0 -2.4v-4.9zM247.9 270.3l4.0 2.4v4.9l-4.0 2.4l-4.0 -2.4v-4.9zM258.8 270.3l4.0 2.4v4.9l-4.0 2.4l-4.0 -2.4v-4.9zM199.2 260.2l4.0 2.4v4.9l-4.0 2.4l-4.0 -2.4v-4.9zM210.0 260.2l4.0 2.4v4.9l-4.0 2.4l-4.0 -2.4v-4.9zM220.8 260.2l4.0 2.4v4.9l-4.0 2.4l-4.0 -2.4v-4.9zM231.7 260.2l4.0 2.4v4.9l-4.0 2.4l-4.0 -2.4v-4.9zM242.5 260.2l4.0 2.4v4.9l-4.0 2.4l-4.0 -2.4v-4.9zM253.4 260.2l4.0 2.4v4.9l-4.0 2.4l-4.0 -2.4v-4.9zM264.2 260.2l4.0 2.4v4.9l-4.0 2.4l-4.0 -2.4v-4.9zM193.7 250.2l4.0 2.4v4.9l-4.0 2.4l-4.0 -2.4v-4.9zM204.6 250.2l4.0 2.4v4.9l-4.0 2.4l-4.0 -2.4v-4.9zM215.4 250.2l4.0 2.4v4.9l-4.0 2.4l-4.0 -2.4v-4.9zM226.3 250.2l4.0 2.4v4.9l-4.0 2.4l-4.0 -2.4v-4.9zM237.1 250.2l4.0 2.4v4.9l-4.0 2.4l-4.0 -2.4v-4.9zM247.9 250.2l4.0 2.4v4.9l-4.0 2.4l-4.0 -2.4v-4.9zM258.8 250.2l4.0 2.4v4.9l-4.0 2.4l-4.0 -2.4v-4.9zM269.6 250.2l4.0 2.4v4.9l-4.0 2.4l-4.0 -2.4v-4.9zM199.2 240.1l4.0 2.4v4.9l-4.0 2.4l-4.0 -2.4v-4.9zM210.0 240.1l4.0 2.4v4.9l-4.0 2.4l-4.0 -2.4v-4.9zM220.8 240.1l4.0 2.4v4.9l-4.0 2.4l-4.0 -2.4v-4.9zM231.7 240.1l4.0 2.4v4.9l-4.0 2.4l-4.0 -2.4v-4.9zM242.5 240.1l4.0 2.4v4.9l-4.0 2.4l-4.0 -2.4v-4.9zM253.4 240.1l4.0 2.4v4.9l-4.0 2.4l-4.0 -2.4v-4.9zM264.2 240.1l4.0 2.4v4.9l-4.0 2.4l-4.0 -2.4v-4.9zM275.0 240.1l4.0 2.4v4.9l-4.0 2.4l-4.0 -2.4v-4.9zM193.7 230.1l4.0 2.4v4.9l-4.0 2.4l-4.0 -2.4v-4.9zM204.6 230.1l4.0 2.4v4.9l-4.0 2.4l-4.0 -2.4v-4.9zM215.4 230.1l4.0 2.4v4.9l-4.0 2.4l-4.0 -2.4v-4.9zM226.3 230.1l4.0 2.4v4.9l-4.0 2.4l-4.0 -2.4v-4.9zM237.1 230.1l4.0 2.4v4.9l-4.0 2.4l-4.0 -2.4v-4.9zM247.9 230.1l4.0 2.4v4.9l-4.0 2.4l-4.0 -2.4v-4.9zM258.8 230.1l4.0 2.4v4.9l-4.0 2.4l-4.0 -2.4v-4.9zM269.6 230.1l4.0 2.4v4.9l-4.0 2.4l-4.0 -2.4v-4.9zM280.5 230.1l4.0 2.4v4.9l-4.0 2.4l-4.0 -2.4v-4.9zM199.2 220.0l4.0 2.4v4.9l-4.0 2.4l-4.0 -2.4v-4.9zM210.0 220.0l4.0 2.4v4.9l-4.0 2.4l-4.0 -2.4v-4.9zM220.8 220.0l4.0 2.4v4.9l-4.0 2.4l-4.0 -2.4v-4.9zM231.7 220.0l4.0 2.4v4.9l-4.0 2.4l-4.0 -2.4v-4.9zM242.5 220.0l4.0 2.4v4.9l-4.0 2.4l-4.0 -2.4v-4.9zM253.4 220.0l4.0 2.4v4.9l-4.0 2.4l-4.0 -2.4v-4.9zM264.2 220.0l4.0 2.4v4.9l-4.0 2.4l-4.0 -2.4v-4.9zM275.0 220.0l4.0 2.4v4.9l-4.0 2.4l-4.0 -2.4v-4.9zM193.7 210.0l4.0 2.4v4.9l-4.0 2.4l-4.0 -2.4v-4.9zM204.6 210.0l4.0 2.4v4.9l-4.0 2.4l-4.0 -2.4v-4.9zM215.4 210.0l4.0 2.4v4.9l-4.0 2.4l-4.0 -2.4v-4.9zM226.3 210.0l4.0 2.4v4.9l-4.0 2.4l-4.0 -2.4v-4.9zM237.1 210.0l4.0 2.4v4.9l-4.0 2.4l-4.0 -2.4v-4.9zM247.9 210.0l4.0 2.4v4.9l-4.0 2.4l-4.0 -2.4v-4.9zM258.8 210.0l4.0 2.4v4.9l-4.0 2.4l-4.0 -2.4v-4.9zM269.6 210.0l4.0 2.4v4.9l-4.0 2.4l-4.0 -2.4v-4.9zM280.5 210.0l4.0 2.4v4.9l-4.0 2.4l-4.0 -2.4v-4.9zM199.2 199.9l4.0 2.4v4.9l-4.0 2.4l-4.0 -2.4v-4.9zM210.0 199.9l4.0 2.4v4.9l-4.0 2.4l-4.0 -2.4v-4.9zM220.8 199.9l4.0 2.4v4.9l-4.0 2.4l-4.0 -2.4v-4.9zM231.7 199.9l4.0 2.4v4.9l-4.0 2.4l-4.0 -2.4v-4.9zM242.5 199.9l4.0 2.4v4.9l-4.0 2.4l-4.0 -2.4v-4.9zM253.4 199.9l4.0 2.4v4.9l-4.0 2.4l-4.0 -2.4v-4.9zM264.2 199.9l4.0 2.4v4.9l-4.0 2.4l-4.0 -2.4v-4.9zM275.0 199.9l4.0 2.4v4.9l-4.0 2.4l-4.0 -2.4v-4.9zM285.9 199.9l4.0 2.4v4.9l-4.0 2.4l-4.0 -2.4v-4.9zM193.7 189.9l4.0 2.4v4.9l-4.0 2.4l-4.0 -2.4v-4.9zM204.6 189.9l4.0 2.4v4.9l-4.0 2.4l-4.0 -2.4v-4.9zM215.4 189.9l4.0 2.4v4.9l-4.0 2.4l-4.0 -2.4v-4.9zM226.3 189.9l4.0 2.4v4.9l-4.0 2.4l-4.0 -2.4v-4.9zM237.1 189.9l4.0 2.4v4.9l-4.0 2.4l-4.0 -2.4v-4.9zM247.9 189.9l4.0 2.4v4.9l-4.0 2.4l-4.0 -2.4v-4.9zM258.8 189.9l4.0 2.4v4.9l-4.0 2.4l-4.0 -2.4v-4.9zM199.2 179.8l4.0 2.4v4.9l-4.0 2.4l-4.0 -2.4v-4.9zM210.0 179.8l4.0 2.4v4.9l-4.0 2.4l-4.0 -2.4v-4.9zM220.8 179.8l4.0 2.4v4.9l-4.0 2.4l-4.0 -2.4v-4.9zM193.7 169.8l4.0 2.4v4.9l-4.0 2.4l-4.0 -2.4v-4.9z"/>
<path fill="#9282b2" d="M242.5 360.7l4.0 2.4v4.9l-4.0 2.4l-4.0 -2.4v-4.9zM253.4 360.7l4.0 2.4v4.9l-4.0 2.4l-4.0 -2.4v-4.9zM264.2 360.7l4.0 2.4v4.9l-4.0 2.4l-4.0 -2.4v-4.9zM275.0 360.7l4.0 2.4v4.9l-4.0 2.4l-4.0 -2.4v-4.9zM285.9 360.7l4.0 2.4v4.9l-4.0 2.4l-4.0 -2.4v-4.9zM296.7 360.7l4.0 2.4v4.9l-4.0 2.4l-4.0 -2.4v-4.9zM307.6 360.7l4.0 2.4v4.9l-4.0 2.4l-4.0 -2.4v-4.9zM318.4 360.7l4.0 2.4v4.9l-4.0 2.4l-4.0 -2.4v-4.9zM329.2 360.7l4.0 2.4v4.9l-4.0 2.4l-4.0 -2.4v-4.9zM340.1 360.7l4.0 2.4v4.9l-4.0 2.4l-4.0 -2.4v-4.9zM350.9 360.7l4.0 2.4v4.9l-4.0 2.4l-4.0 -2.4v-4.9zM361.8 360.7l4.0 2.4v4.9l-4.0 2.4l-4.0 -2.4v-4.9zM372.6 360.7l4.0 2.4v4.9l-4.0 2.4l-4.0 -2.4v-4.9zM247.9 350.7l4.0 2.4v4.9l-4.0 2.4l-4.0 -2.4v-4.9zM258.8 350.7l4.0 2.4v4.9l-4.0 2.4l-4.0 -2.4v-4.9zM269.6 350.7l4.0 2.4v4.9l-4.0 2.4l-4.0 -2.4v-4.9zM280.5 350.7l4.0 2.4v4.9l-4.0 2.4l-4.0 -2.4v-4.9zM291.3 350.7l4.0 2.4v4.9l-4.0 2.4l-4.0 -2.4v-4.9zM302.1 350.7l4.0 2.4v4.9l-4.0 2.4l-4.0 -2.4v-4.9zM313.0 350.7l4.0 2.4v4.9l-4.0 2.4l-4.0 -2.4v-4.9zM323.8 350.7l4.0 2.4v4.9l-4.0 2.4l-4.0 -2.4v-4.9zM334.7 350.7l4.0 2.4v4.9l-4.0 2.4l-4.0 -2.4v-4.9zM345.5 350.7l4.0 2.4v4.9l-4.0 2.4l-4.0 -2.4v-4.9zM356.3 350.7l4.0 2.4v4.9l-4.0 2.4l-4.0 -2.4v-4.9zM367.2 350.7l4.0 2.4v4.9l-4.0 2.4l-4.0 -2.4v-4.9zM253.4 340.6l4.0 2.4v4.9l-4.0 2.4l-4.0 -2.4v-4.9zM264.2 340.6l4.0 2.4v4.9l-4.0 2.4l-4.0 -2.4v-4.9zM275.0 340.6l4.0 2.4v4.9l-4.0 2.4l-4.0 -2.4v-4.9zM285.9 340.6l4.0 2.4v4.9l-4.0 2.4l-4.0 -2.4v-4.9zM296.7 340.6l4.0 2.4v4.9l-4.0 2.4l-4.0 -2.4v-4.9zM307.6 340.6l4.0 2.4v4.9l-4.0 2.4l-4.0 -2.4v-4.9zM318.4 340.6l4.0 2.4v4.9l-4.0 2.4l-4.0 -2.4v-4.9zM329.2 340.6l4.0 2.4v4.9l-4.0 2.4l-4.0 -2.4v-4.9zM340.1 340.6l4.0 2.4v4.9l-4.0 2.4l-4.0 -2.4v-4.9zM350.9 340.6l4.0 2.4v4.9l-4.0 2.4l-4.0 -2.4v-4.9zM361.8 340.6l4.0 2.4v4.9l-4.0 2.4l-4.0 -2.4v-4.9zM247.9 330.6l4.0 2.4v4.9l-4.0 2.4l-4.0 -2.4v-4.9zM258.8 330.6l4.0 2.4v4.9l-4.0 2.4l-4.0 -2.4v-4.9zM269.6 330.6l4.0 2.4v4.9l-4.0 2.4l-4.0 -2.4v-4.9zM280.5 330.6l4.0 2.4v4.9l-4.0 2.4l-4.0 -2.4v-4.9zM291.3 330.6l4.0 2.4v4.9l-4.0 2.4l-4.0 -2.4v-4.9zM302.1 330.6l4.0 2.4v4.9l-4.0 2.4l-4.0 -2.4v-4.9zM313.0 330.6l4.0 2.4v4.9l-4.0 2.4l-4.0 -2.4v-4.9zM323.8 330.6l4.0 2.4v4.9l-4.0 2.4l-4.0 -2.4v-4.9zM334.7 330.6l4.0 2.4v4.9l-4.0 2.4l-4.0 -2.4v-4.9zM345.5 330.6l4.0 2.4v4.9l-4.0 2.4l-4.0 -2.4v-4.9zM356.3 330.6l4.0 2.4v4.9l-4.0 2.4l-4.0 -2.4v-4.9zM253.4 320.5l4.0 2.4v4.9l-4.0 2.4l-4.0 -2.4v-4.9zM264.2 320.5l4.0 2.4v4.9l-4.0 2.4l-4.0 -2.4v-4.9zM275.0 320.5l4.0 2.4v4.9l-4.0 2.4l-4.0 -2.4v-4.9zM285.9 320.5l4.0 2.4v4.9l-4.0 2.4l-4.0 -2.4v-4.9zM296.7 320.5l4.0 2.4v4.9l-4.0 2.4l-4.0 -2.4v-4.9zM307.6 320.5l4.0 2.4v4.9l-4.0 2.4l-4.0 -2.4v-4.9zM318.4 320.5l4.0 2.4v4.9l-4.0 2.4l-4.0 -2.4v-4.9zM329.2 320.5l4.0 2.4v4.9l-4.0 2.4l-4.0 -2.4v-4.9zM340.1 320.5l4.0 2.4v4.9l-4.0 2.4l-4.0 -2.4v-4.9zM350.9 320.5l4.0 2.4v4.9l-4.0 2.4l-4.0 -2.4v-4.9zM258.8 310.5l4.0 2.4v4.9l-4.0 2.4l-4.0 -2.4v-4.9zM269.6 310.5l4.0 2.4v4.9l-4.0 2.4l-4.0 -2.4v-4.9zM280.5 310.5l4.0 2.4v4.9l-4.0 2.4l-4.0 -2.4v-4.9zM291.3 310.5l4.0 2.4v4.9l-4.0 2.4l-4.0 -2.4v-4.9zM302.1 310.5l4.0 2.4v4.9l-4.0 2.4l-4.0 -2.4v-4.9zM313.0 310.5l4.0 2.4v4.9l-4.0 2.4l-4.0 -2.4v-4.9zM323.8 310.5l4.0 2.4v4.9l-4.0 2.4l-4.0 -2.4v-4.9zM334.7 310.5l4.0 2.4v4.9l-4.0 2.4l-4.0 -2.4v-4.9zM345.5 310.5l4.0 2.4v4.9l-4.0 2.4l-4.0 -2.4v-4.9zM264.2 300.4l4.0 2.4v4.9l-4.0 2.4l-4.0 -2.4v-4.9zM275.0 300.4l4.0 2.4v4.9l-4.0 2.4l-4.0 -2.4v-4.9zM285.9 300.4l4.0 2.4v4.9l-4.0 2.4l-4.0 -2.4v-4.9zM296.7 300.4l4.0 2.4v4.9l-4.0 2.4l-4.0 -2.4v-4.9zM307.6 300.4l4.0 2.4v4.9l-4.0 2.4l-4.0 -2.4v-4.9zM318.4 300.4l4.0 2.4v4.9l-4.0 2.4l-4.0 -2.4v-4.9zM329.2 300.4l4.0 2.4v4.9l-4.0 2.4l-4.0 -2.4v-4.9zM340.1 300.4l4.0 2.4v4.9l-4.0 2.4l-4.0 -2.4v-4.9zM269.6 290.4l4.0 2.4v4.9l-4.0 2.4l-4.0 -2.4v-4.9zM280.5 290.4l4.0 2.4v4.9l-4.0 2.4l-4.0 -2.4v-4.9zM291.3 290.4l4.0 2.4v4.9l-4.0 2.4l-4.0 -2.4v-4.9zM302.1 290.4l4.0 2.4v4.9l-4.0 2.4l-4.0 -2.4v-4.9zM313.0 290.4l4.0 2.4v4.9l-4.0 2.4l-4.0 -2.4v-4.9zM323.8 290.4l4.0 2.4v4.9l-4.0 2.4l-4.0 -2.4v-4.9zM334.7 290.4l4.0 2.4v4.9l-4.0 2.4l-4.0 -2.4v-4.9zM275.0 280.3l4.0 2.4v4.9l-4.0 2.4l-4.0 -2.4v-4.9zM285.9 280.3l4.0 2.4v4.9l-4.0 2.4l-4.0 -2.4v-4.9zM296.7 280.3l4.0 2.4v4.9l-4.0 2.4l-4.0 -2.4v-4.9zM307.6 280.3l4.0 2.4v4.9l-4.0 2.4l-4.0 -2.4v-4.9zM318.4 280.3l4.0 2.4v4.9l-4.0 2.4l-4.0 -2.4v-4.9zM329.2 280.3l4.0 2.4v4.9l-4.0 2.4l-4.0 -2.4v-4.9zM269.6 270.3l4.0 2.4v4.9l-4.0 2.4l-4.0 -2.4v-4.9zM280.5 270.3l4.0 2.4v4.9l-4.0 2.4l-4.0 -2.4v-4.9zM291.3 270.3l4.0 2.4v4.9l-4.0 2.4l-4.0 -2.4v-4.9zM302.1 270.3l4.0 2.4v4.9l-4.0 2.4l-4.0 -2.4v-4.9zM313.0 270.3l4.0 2.4v4.9l-4.0 2.4l-4.0 -2.4v-4.9zM323.8 270.3l4.0 2.4v4.9l-4.0 2.4l-4.0 -2.4v-4.9zM275.0 260.2l4.0 2.4v4.9l-4.0 2.4l-4.0 -2.4v-4.9zM285.9 260.2l4.0 2.4v4.9l-4.0 2.4l-4.0 -2.4v-4.9zM296.7 260.2l4.0 2.4v4.9l-4.0 2.4l-4.0 -2.4v-4.9zM307.6 260.2l4.0 2.4v4.9l-4.0 2.4l-4.0 -2.4v-4.9zM318.4 260.2l4.0 2.4v4.9l-4.0 2.4l-4.0 -2.4v-4.9zM280.5 250.2l4.0 2.4v4.9l-4.0 2.4l-4.0 -2.4v-4.9zM291.3 250.2l4.0 2.4v4.9l-4.0 2.4l-4.0 -2.4v-4.9zM302.1 250.2l4.0 2.4v4.9l-4.0 2.4l-4.0 -2.4v-4.9zM313.0 250.2l4.0 2.4v4.9l-4.0 2.4l-4.0 -2.4v-4.9zM285.9 240.1l4.0 2.4v4.9l-4.0 2.4l-4.0 -2.4v-4.9zM296.7 240.1l4.0 2.4v4.9l-4.0 2.4l-4.0 -2.4v-4.9zM307.6 240.1l4.0 2.4v4.9l-4.0 2.4l-4.0 -2.4v-4.9zM291.3 230.1l4.0 2.4v4.9l-4.0 2.4l-4.0 -2.4v-4.9zM302.1 230.1l4.0 2.4v4.9l-4.0 2.4l-4.0 -2.4v-4.9zM285.9 220.0l4.0 2.4v4.9l-4.0 2.4l-4.0 -2.4v-4.9zM296.7 220.0l4.0 2.4v4.9l-4.0 2.4l-4.0 -2.4v-4.9zM291.3 210.0l4.0 2.4v4.9l-4.0 2.4l-4.0 -2.4v-4.9z"/>
</g>
<path d="M47.40 365.60l-3.61 6.69M210.00 64.10l-3.61 -6.69M372.60 365.60h7.60M101.60 365.60l-3.61 6.69M182.90 114.35l-3.61 -6.69M345.50 315.35h7.60M155.80 365.60l-3.61 6.69M155.80 164.60l-3.61 -6.69M318.40 265.10h7.60M210.00 365.60l-3.61 6.69M128.70 214.85l-3.61 -6.69M291.30 214.85h7.60M264.20 365.60l-3.61 6.69M101.60 265.10l-3.61 -6.69M264.20 164.60h7.60M318.40 365.60l-3.61 6.69M74.50 315.35l-3.61 -6.69M237.10 114.35h7.60M372.60 365.60l-3.61 6.69M47.40 365.60l-3.61 -6.69M210.00 64.10h7.60" stroke="#000" stroke-width="1.9" fill="none"/>
<polygon points="47.40,365.60 372.60,365.60 210.00,64.10" fill="none" stroke="#000" stroke-width="2.1" stroke-linejoin="miter"/>
<g class="tl"><text transform="matrix(1.02 0 0 1.04 33.35 387.00)">0</text>
<text transform="matrix(1.02 0 0 1.04 87.27 387.00)">0.5</text>
<polygon points="147.11,387.00 145.50,387.00 145.50,379.12 143.16,379.12 143.16,377.98 144.38,377.80 145.15,377.25 145.71,376.00 147.11,376.00"/>
<polygon points="198.03,387.00 196.42,387.00 196.42,379.12 194.08,379.12 194.08,377.98 195.30,377.80 196.07,377.25 196.63,376.00 198.03,376.00"/><text transform="matrix(1.02 0 0 1.04 200.67 387.00)">.5</text>
<text transform="matrix(1.02 0 0 1.04 249.95 387.00)">2</text>
<text transform="matrix(1.02 0 0 1.04 300.37 387.00)">2.5</text>
<text transform="matrix(1.02 0 0 1.04 358.05 387.00)">3</text>
<text transform="matrix(1.02 0 0 1.04 196.85 55.70)">0</text>
<text transform="matrix(1.02 0 0 1.04 160.87 106.00)">0.5</text>
<polygon points="145.91,155.90 144.30,155.90 144.30,148.02 141.96,148.02 141.96,146.88 143.18,146.70 143.95,146.15 144.51,144.90 145.91,144.90"/>
<polygon points="109.33,206.70 107.72,206.70 107.72,198.82 105.38,198.82 105.38,197.68 106.60,197.50 107.37,196.95 107.93,195.70 109.33,195.70"/><text transform="matrix(1.02 0 0 1.04 111.97 206.70)">.5</text>
<text transform="matrix(1.02 0 0 1.04 85.75 256.60)">2</text>
<text transform="matrix(1.02 0 0 1.04 49.27 306.70)">2.5</text>
<text transform="matrix(1.02 0 0 1.04 31.15 357.10)">3</text>
<text transform="matrix(1.02 0 0 1.04 219.00 67.70)">3</text>
<text transform="matrix(1.02 0 0 1.04 246.10 117.90)">2.5</text>
<text transform="matrix(1.02 0 0 1.04 273.00 168.10)">2</text>
<polygon points="306.26,218.50 304.65,218.50 304.65,210.62 302.31,210.62 302.31,209.48 303.54,209.30 304.30,208.75 304.87,207.50 306.26,207.50"/><text transform="matrix(1.02 0 0 1.04 308.91 218.50)">.5</text>
<polygon points="333.36,268.70 331.75,268.70 331.75,260.82 329.41,260.82 329.41,259.68 330.64,259.50 331.40,258.95 331.97,257.70 333.36,257.70"/>
<text transform="matrix(1.02 0 0 1.04 355.80 319.10)">0.5</text>
<text transform="matrix(1.02 0 0 1.04 384.30 369.00)">0</text>
<text class="g" x="201.2" y="407.0" text-anchor="middle">α</text>
<g transform="translate(0.0,0.0)" fill="none" stroke="#000" stroke-linecap="round"><path d="M76.6 212.2C79 214.8 80.5 217.4 85.3 220.9" stroke-width="1.25"/><path d="M79.6 217.4C77.6 216.0 74.6 215.5 73.7 217.5C73.3 218.5 74.1 219.2 74.9 219.5" stroke-width="0.95"/></g>
<text class="g" transform="translate(336.3,220.2) rotate(53)" x="0" y="3.5" text-anchor="middle">β</text></g>
<clipPath id="clipb"><polygon points="455.10,365.60 780.30,365.60 617.70,64.10"/></clipPath>
<g clip-path="url(#clipb)">
<path fill="#10b5de" d="M661.1 137.7l5.6 3.4v6.9l-5.6 3.4l-5.6 -3.4v-6.9zM612.3 127.6l5.6 3.4v6.9l-5.6 3.4l-5.6 -3.4v-6.9zM623.1 127.6l5.6 3.4v6.9l-5.6 3.4l-5.6 -3.4v-6.9zM634.0 127.6l5.6 3.4v6.9l-5.6 3.4l-5.6 -3.4v-6.9zM644.8 127.6l5.6 3.4v6.9l-5.6 3.4l-5.6 -3.4v-6.9zM655.6 127.6l5.6 3.4v6.9l-5.6 3.4l-5.6 -3.4v-6.9zM585.2 117.6l5.6 3.4v6.9l-5.6 3.4l-5.6 -3.4v-6.9zM596.0 117.6l5.6 3.4v6.9l-5.6 3.4l-5.6 -3.4v-6.9zM606.9 117.6l5.6 3.4v6.9l-5.6 3.4l-5.6 -3.4v-6.9zM617.7 117.6l5.6 3.4v6.9l-5.6 3.4l-5.6 -3.4v-6.9zM628.5 117.6l5.6 3.4v6.9l-5.6 3.4l-5.6 -3.4v-6.9zM639.4 117.6l5.6 3.4v6.9l-5.6 3.4l-5.6 -3.4v-6.9zM650.2 117.6l5.6 3.4v6.9l-5.6 3.4l-5.6 -3.4v-6.9zM590.6 107.5l5.6 3.4v6.9l-5.6 3.4l-5.6 -3.4v-6.9zM601.4 107.5l5.6 3.4v6.9l-5.6 3.4l-5.6 -3.4v-6.9zM612.3 107.5l5.6 3.4v6.9l-5.6 3.4l-5.6 -3.4v-6.9zM623.1 107.5l5.6 3.4v6.9l-5.6 3.4l-5.6 -3.4v-6.9zM634.0 107.5l5.6 3.4v6.9l-5.6 3.4l-5.6 -3.4v-6.9zM644.8 107.5l5.6 3.4v6.9l-5.6 3.4l-5.6 -3.4v-6.9zM596.0 97.5l5.6 3.4v6.9l-5.6 3.4l-5.6 -3.4v-6.9zM606.9 97.5l5.6 3.4v6.9l-5.6 3.4l-5.6 -3.4v-6.9zM617.7 97.5l5.6 3.4v6.9l-5.6 3.4l-5.6 -3.4v-6.9zM628.5 97.5l5.6 3.4v6.9l-5.6 3.4l-5.6 -3.4v-6.9zM639.4 97.5l5.6 3.4v6.9l-5.6 3.4l-5.6 -3.4v-6.9zM601.4 87.4l5.6 3.4v6.9l-5.6 3.4l-5.6 -3.4v-6.9zM612.3 87.4l5.6 3.4v6.9l-5.6 3.4l-5.6 -3.4v-6.9zM623.1 87.4l5.6 3.4v6.9l-5.6 3.4l-5.6 -3.4v-6.9zM634.0 87.4l5.6 3.4v6.9l-5.6 3.4l-5.6 -3.4v-6.9zM606.9 77.4l5.6 3.4v6.9l-5.6 3.4l-5.6 -3.4v-6.9zM617.7 77.4l5.6 3.4v6.9l-5.6 3.4l-5.6 -3.4v-6.9zM628.5 77.4l5.6 3.4v6.9l-5.6 3.4l-5.6 -3.4v-6.9zM612.3 67.3l5.6 3.4v6.9l-5.6 3.4l-5.6 -3.4v-6.9zM623.1 67.3l5.6 3.4v6.9l-5.6 3.4l-5.6 -3.4v-6.9zM617.7 57.3l5.6 3.4v6.9l-5.6 3.4l-5.6 -3.4v-6.9z"/>
<path fill="#e58a16" d="M455.1 358.8l5.6 3.4v6.9l-5.6 3.4l-5.6 -3.4v-6.9zM465.9 358.8l5.6 3.4v6.9l-5.6 3.4l-5.6 -3.4v-6.9zM476.8 358.8l5.6 3.4v6.9l-5.6 3.4l-5.6 -3.4v-6.9zM487.6 358.8l5.6 3.4v6.9l-5.6 3.4l-5.6 -3.4v-6.9zM498.5 358.8l5.6 3.4v6.9l-5.6 3.4l-5.6 -3.4v-6.9zM509.3 358.8l5.6 3.4v6.9l-5.6 3.4l-5.6 -3.4v-6.9zM520.1 358.8l5.6 3.4v6.9l-5.6 3.4l-5.6 -3.4v-6.9zM531.0 358.8l5.6 3.4v6.9l-5.6 3.4l-5.6 -3.4v-6.9zM541.8 358.8l5.6 3.4v6.9l-5.6 3.4l-5.6 -3.4v-6.9zM552.7 358.8l5.6 3.4v6.9l-5.6 3.4l-5.6 -3.4v-6.9zM563.5 358.8l5.6 3.4v6.9l-5.6 3.4l-5.6 -3.4v-6.9zM574.3 358.8l5.6 3.4v6.9l-5.6 3.4l-5.6 -3.4v-6.9zM585.2 358.8l5.6 3.4v6.9l-5.6 3.4l-5.6 -3.4v-6.9zM460.5 348.7l5.6 3.4v6.9l-5.6 3.4l-5.6 -3.4v-6.9zM471.4 348.7l5.6 3.4v6.9l-5.6 3.4l-5.6 -3.4v-6.9zM482.2 348.7l5.6 3.4v6.9l-5.6 3.4l-5.6 -3.4v-6.9zM493.0 348.7l5.6 3.4v6.9l-5.6 3.4l-5.6 -3.4v-6.9zM503.9 348.7l5.6 3.4v6.9l-5.6 3.4l-5.6 -3.4v-6.9zM514.7 348.7l5.6 3.4v6.9l-5.6 3.4l-5.6 -3.4v-6.9zM525.6 348.7l5.6 3.4v6.9l-5.6 3.4l-5.6 -3.4v-6.9zM536.4 348.7l5.6 3.4v6.9l-5.6 3.4l-5.6 -3.4v-6.9zM547.2 348.7l5.6 3.4v6.9l-5.6 3.4l-5.6 -3.4v-6.9zM558.1 348.7l5.6 3.4v6.9l-5.6 3.4l-5.6 -3.4v-6.9zM568.9 348.7l5.6 3.4v6.9l-5.6 3.4l-5.6 -3.4v-6.9zM579.8 348.7l5.6 3.4v6.9l-5.6 3.4l-5.6 -3.4v-6.9zM590.6 348.7l5.6 3.4v6.9l-5.6 3.4l-5.6 -3.4v-6.9zM465.9 338.6l5.6 3.4v6.9l-5.6 3.4l-5.6 -3.4v-6.9zM476.8 338.6l5.6 3.4v6.9l-5.6 3.4l-5.6 -3.4v-6.9zM487.6 338.6l5.6 3.4v6.9l-5.6 3.4l-5.6 -3.4v-6.9zM498.5 338.6l5.6 3.4v6.9l-5.6 3.4l-5.6 -3.4v-6.9zM509.3 338.6l5.6 3.4v6.9l-5.6 3.4l-5.6 -3.4v-6.9zM520.1 338.6l5.6 3.4v6.9l-5.6 3.4l-5.6 -3.4v-6.9zM531.0 338.6l5.6 3.4v6.9l-5.6 3.4l-5.6 -3.4v-6.9zM541.8 338.6l5.6 3.4v6.9l-5.6 3.4l-5.6 -3.4v-6.9zM552.7 338.6l5.6 3.4v6.9l-5.6 3.4l-5.6 -3.4v-6.9zM563.5 338.6l5.6 3.4v6.9l-5.6 3.4l-5.6 -3.4v-6.9zM574.3 338.6l5.6 3.4v6.9l-5.6 3.4l-5.6 -3.4v-6.9zM585.2 338.6l5.6 3.4v6.9l-5.6 3.4l-5.6 -3.4v-6.9zM471.4 328.6l5.6 3.4v6.9l-5.6 3.4l-5.6 -3.4v-6.9zM482.2 328.6l5.6 3.4v6.9l-5.6 3.4l-5.6 -3.4v-6.9zM493.0 328.6l5.6 3.4v6.9l-5.6 3.4l-5.6 -3.4v-6.9zM503.9 328.6l5.6 3.4v6.9l-5.6 3.4l-5.6 -3.4v-6.9zM514.7 328.6l5.6 3.4v6.9l-5.6 3.4l-5.6 -3.4v-6.9zM525.6 328.6l5.6 3.4v6.9l-5.6 3.4l-5.6 -3.4v-6.9zM536.4 328.6l5.6 3.4v6.9l-5.6 3.4l-5.6 -3.4v-6.9zM547.2 328.6l5.6 3.4v6.9l-5.6 3.4l-5.6 -3.4v-6.9zM558.1 328.6l5.6 3.4v6.9l-5.6 3.4l-5.6 -3.4v-6.9zM568.9 328.6l5.6 3.4v6.9l-5.6 3.4l-5.6 -3.4v-6.9zM579.8 328.6l5.6 3.4v6.9l-5.6 3.4l-5.6 -3.4v-6.9zM590.6 328.6l5.6 3.4v6.9l-5.6 3.4l-5.6 -3.4v-6.9zM476.8 318.6l5.6 3.4v6.9l-5.6 3.4l-5.6 -3.4v-6.9zM487.6 318.6l5.6 3.4v6.9l-5.6 3.4l-5.6 -3.4v-6.9zM498.5 318.6l5.6 3.4v6.9l-5.6 3.4l-5.6 -3.4v-6.9zM509.3 318.6l5.6 3.4v6.9l-5.6 3.4l-5.6 -3.4v-6.9zM520.1 318.6l5.6 3.4v6.9l-5.6 3.4l-5.6 -3.4v-6.9zM531.0 318.6l5.6 3.4v6.9l-5.6 3.4l-5.6 -3.4v-6.9zM541.8 318.6l5.6 3.4v6.9l-5.6 3.4l-5.6 -3.4v-6.9zM552.7 318.6l5.6 3.4v6.9l-5.6 3.4l-5.6 -3.4v-6.9zM563.5 318.6l5.6 3.4v6.9l-5.6 3.4l-5.6 -3.4v-6.9zM574.3 318.6l5.6 3.4v6.9l-5.6 3.4l-5.6 -3.4v-6.9zM585.2 318.6l5.6 3.4v6.9l-5.6 3.4l-5.6 -3.4v-6.9zM482.2 308.5l5.6 3.4v6.9l-5.6 3.4l-5.6 -3.4v-6.9zM493.0 308.5l5.6 3.4v6.9l-5.6 3.4l-5.6 -3.4v-6.9zM503.9 308.5l5.6 3.4v6.9l-5.6 3.4l-5.6 -3.4v-6.9zM514.7 308.5l5.6 3.4v6.9l-5.6 3.4l-5.6 -3.4v-6.9zM525.6 308.5l5.6 3.4v6.9l-5.6 3.4l-5.6 -3.4v-6.9zM536.4 308.5l5.6 3.4v6.9l-5.6 3.4l-5.6 -3.4v-6.9zM547.2 308.5l5.6 3.4v6.9l-5.6 3.4l-5.6 -3.4v-6.9zM558.1 308.5l5.6 3.4v6.9l-5.6 3.4l-5.6 -3.4v-6.9zM568.9 308.5l5.6 3.4v6.9l-5.6 3.4l-5.6 -3.4v-6.9zM579.8 308.5l5.6 3.4v6.9l-5.6 3.4l-5.6 -3.4v-6.9zM590.6 308.5l5.6 3.4v6.9l-5.6 3.4l-5.6 -3.4v-6.9zM487.6 298.4l5.6 3.4v6.9l-5.6 3.4l-5.6 -3.4v-6.9zM498.5 298.4l5.6 3.4v6.9l-5.6 3.4l-5.6 -3.4v-6.9zM509.3 298.4l5.6 3.4v6.9l-5.6 3.4l-5.6 -3.4v-6.9zM520.1 298.4l5.6 3.4v6.9l-5.6 3.4l-5.6 -3.4v-6.9zM531.0 298.4l5.6 3.4v6.9l-5.6 3.4l-5.6 -3.4v-6.9zM541.8 298.4l5.6 3.4v6.9l-5.6 3.4l-5.6 -3.4v-6.9zM552.7 298.4l5.6 3.4v6.9l-5.6 3.4l-5.6 -3.4v-6.9zM563.5 298.4l5.6 3.4v6.9l-5.6 3.4l-5.6 -3.4v-6.9zM574.3 298.4l5.6 3.4v6.9l-5.6 3.4l-5.6 -3.4v-6.9zM585.2 298.4l5.6 3.4v6.9l-5.6 3.4l-5.6 -3.4v-6.9zM493.0 288.4l5.6 3.4v6.9l-5.6 3.4l-5.6 -3.4v-6.9zM503.9 288.4l5.6 3.4v6.9l-5.6 3.4l-5.6 -3.4v-6.9zM514.7 288.4l5.6 3.4v6.9l-5.6 3.4l-5.6 -3.4v-6.9zM525.6 288.4l5.6 3.4v6.9l-5.6 3.4l-5.6 -3.4v-6.9zM536.4 288.4l5.6 3.4v6.9l-5.6 3.4l-5.6 -3.4v-6.9zM547.2 288.4l5.6 3.4v6.9l-5.6 3.4l-5.6 -3.4v-6.9zM558.1 288.4l5.6 3.4v6.9l-5.6 3.4l-5.6 -3.4v-6.9zM568.9 288.4l5.6 3.4v6.9l-5.6 3.4l-5.6 -3.4v-6.9zM579.8 288.4l5.6 3.4v6.9l-5.6 3.4l-5.6 -3.4v-6.9zM498.5 278.4l5.6 3.4v6.9l-5.6 3.4l-5.6 -3.4v-6.9zM509.3 278.4l5.6 3.4v6.9l-5.6 3.4l-5.6 -3.4v-6.9zM520.1 278.4l5.6 3.4v6.9l-5.6 3.4l-5.6 -3.4v-6.9zM531.0 278.4l5.6 3.4v6.9l-5.6 3.4l-5.6 -3.4v-6.9zM541.8 278.4l5.6 3.4v6.9l-5.6 3.4l-5.6 -3.4v-6.9zM552.7 278.4l5.6 3.4v6.9l-5.6 3.4l-5.6 -3.4v-6.9zM563.5 278.4l5.6 3.4v6.9l-5.6 3.4l-5.6 -3.4v-6.9zM574.3 278.4l5.6 3.4v6.9l-5.6 3.4l-5.6 -3.4v-6.9zM585.2 278.4l5.6 3.4v6.9l-5.6 3.4l-5.6 -3.4v-6.9zM503.9 268.3l5.6 3.4v6.9l-5.6 3.4l-5.6 -3.4v-6.9zM514.7 268.3l5.6 3.4v6.9l-5.6 3.4l-5.6 -3.4v-6.9zM525.6 268.3l5.6 3.4v6.9l-5.6 3.4l-5.6 -3.4v-6.9zM536.4 268.3l5.6 3.4v6.9l-5.6 3.4l-5.6 -3.4v-6.9zM547.2 268.3l5.6 3.4v6.9l-5.6 3.4l-5.6 -3.4v-6.9zM558.1 268.3l5.6 3.4v6.9l-5.6 3.4l-5.6 -3.4v-6.9zM568.9 268.3l5.6 3.4v6.9l-5.6 3.4l-5.6 -3.4v-6.9zM579.8 268.3l5.6 3.4v6.9l-5.6 3.4l-5.6 -3.4v-6.9zM509.3 258.2l5.6 3.4v6.9l-5.6 3.4l-5.6 -3.4v-6.9zM520.1 258.2l5.6 3.4v6.9l-5.6 3.4l-5.6 -3.4v-6.9zM531.0 258.2l5.6 3.4v6.9l-5.6 3.4l-5.6 -3.4v-6.9zM541.8 258.2l5.6 3.4v6.9l-5.6 3.4l-5.6 -3.4v-6.9zM552.7 258.2l5.6 3.4v6.9l-5.6 3.4l-5.6 -3.4v-6.9zM563.5 258.2l5.6 3.4v6.9l-5.6 3.4l-5.6 -3.4v-6.9zM574.3 258.2l5.6 3.4v6.9l-5.6 3.4l-5.6 -3.4v-6.9zM585.2 258.2l5.6 3.4v6.9l-5.6 3.4l-5.6 -3.4v-6.9zM514.7 248.2l5.6 3.4v6.9l-5.6 3.4l-5.6 -3.4v-6.9zM525.6 248.2l5.6 3.4v6.9l-5.6 3.4l-5.6 -3.4v-6.9zM536.4 248.2l5.6 3.4v6.9l-5.6 3.4l-5.6 -3.4v-6.9zM547.2 248.2l5.6 3.4v6.9l-5.6 3.4l-5.6 -3.4v-6.9zM558.1 248.2l5.6 3.4v6.9l-5.6 3.4l-5.6 -3.4v-6.9zM568.9 248.2l5.6 3.4v6.9l-5.6 3.4l-5.6 -3.4v-6.9zM579.8 248.2l5.6 3.4v6.9l-5.6 3.4l-5.6 -3.4v-6.9zM520.1 238.2l5.6 3.4v6.9l-5.6 3.4l-5.6 -3.4v-6.9zM531.0 238.2l5.6 3.4v6.9l-5.6 3.4l-5.6 -3.4v-6.9zM541.8 238.2l5.6 3.4v6.9l-5.6 3.4l-5.6 -3.4v-6.9zM552.7 238.2l5.6 3.4v6.9l-5.6 3.4l-5.6 -3.4v-6.9zM563.5 238.2l5.6 3.4v6.9l-5.6 3.4l-5.6 -3.4v-6.9zM574.3 238.2l5.6 3.4v6.9l-5.6 3.4l-5.6 -3.4v-6.9zM525.6 228.1l5.6 3.4v6.9l-5.6 3.4l-5.6 -3.4v-6.9zM536.4 228.1l5.6 3.4v6.9l-5.6 3.4l-5.6 -3.4v-6.9zM547.2 228.1l5.6 3.4v6.9l-5.6 3.4l-5.6 -3.4v-6.9zM558.1 228.1l5.6 3.4v6.9l-5.6 3.4l-5.6 -3.4v-6.9zM568.9 228.1l5.6 3.4v6.9l-5.6 3.4l-5.6 -3.4v-6.9zM579.8 228.1l5.6 3.4v6.9l-5.6 3.4l-5.6 -3.4v-6.9zM531.0 218.1l5.6 3.4v6.9l-5.6 3.4l-5.6 -3.4v-6.9zM541.8 218.1l5.6 3.4v6.9l-5.6 3.4l-5.6 -3.4v-6.9zM552.7 218.1l5.6 3.4v6.9l-5.6 3.4l-5.6 -3.4v-6.9zM563.5 218.1l5.6 3.4v6.9l-5.6 3.4l-5.6 -3.4v-6.9zM574.3 218.1l5.6 3.4v6.9l-5.6 3.4l-5.6 -3.4v-6.9zM536.4 208.0l5.6 3.4v6.9l-5.6 3.4l-5.6 -3.4v-6.9zM547.2 208.0l5.6 3.4v6.9l-5.6 3.4l-5.6 -3.4v-6.9zM558.1 208.0l5.6 3.4v6.9l-5.6 3.4l-5.6 -3.4v-6.9zM568.9 208.0l5.6 3.4v6.9l-5.6 3.4l-5.6 -3.4v-6.9zM579.8 208.0l5.6 3.4v6.9l-5.6 3.4l-5.6 -3.4v-6.9zM541.8 198.0l5.6 3.4v6.9l-5.6 3.4l-5.6 -3.4v-6.9zM552.7 198.0l5.6 3.4v6.9l-5.6 3.4l-5.6 -3.4v-6.9zM563.5 198.0l5.6 3.4v6.9l-5.6 3.4l-5.6 -3.4v-6.9zM574.3 198.0l5.6 3.4v6.9l-5.6 3.4l-5.6 -3.4v-6.9zM547.2 187.9l5.6 3.4v6.9l-5.6 3.4l-5.6 -3.4v-6.9zM558.1 187.9l5.6 3.4v6.9l-5.6 3.4l-5.6 -3.4v-6.9zM568.9 187.9l5.6 3.4v6.9l-5.6 3.4l-5.6 -3.4v-6.9zM552.7 177.9l5.6 3.4v6.9l-5.6 3.4l-5.6 -3.4v-6.9zM563.5 177.9l5.6 3.4v6.9l-5.6 3.4l-5.6 -3.4v-6.9zM574.3 177.9l5.6 3.4v6.9l-5.6 3.4l-5.6 -3.4v-6.9zM558.1 167.8l5.6 3.4v6.9l-5.6 3.4l-5.6 -3.4v-6.9zM568.9 167.8l5.6 3.4v6.9l-5.6 3.4l-5.6 -3.4v-6.9zM563.5 157.8l5.6 3.4v6.9l-5.6 3.4l-5.6 -3.4v-6.9zM574.3 157.8l5.6 3.4v6.9l-5.6 3.4l-5.6 -3.4v-6.9zM568.9 147.7l5.6 3.4v6.9l-5.6 3.4l-5.6 -3.4v-6.9z"/>
<path fill="#c8222a" d="M596.0 358.8l5.6 3.4v6.9l-5.6 3.4l-5.6 -3.4v-6.9zM606.9 358.8l5.6 3.4v6.9l-5.6 3.4l-5.6 -3.4v-6.9zM617.7 358.8l5.6 3.4v6.9l-5.6 3.4l-5.6 -3.4v-6.9zM628.5 358.8l5.6 3.4v6.9l-5.6 3.4l-5.6 -3.4v-6.9zM639.4 358.8l5.6 3.4v6.9l-5.6 3.4l-5.6 -3.4v-6.9zM601.4 348.7l5.6 3.4v6.9l-5.6 3.4l-5.6 -3.4v-6.9zM612.3 348.7l5.6 3.4v6.9l-5.6 3.4l-5.6 -3.4v-6.9zM623.1 348.7l5.6 3.4v6.9l-5.6 3.4l-5.6 -3.4v-6.9zM634.0 348.7l5.6 3.4v6.9l-5.6 3.4l-5.6 -3.4v-6.9zM644.8 348.7l5.6 3.4v6.9l-5.6 3.4l-5.6 -3.4v-6.9zM596.0 338.6l5.6 3.4v6.9l-5.6 3.4l-5.6 -3.4v-6.9zM606.9 338.6l5.6 3.4v6.9l-5.6 3.4l-5.6 -3.4v-6.9zM617.7 338.6l5.6 3.4v6.9l-5.6 3.4l-5.6 -3.4v-6.9zM628.5 338.6l5.6 3.4v6.9l-5.6 3.4l-5.6 -3.4v-6.9zM639.4 338.6l5.6 3.4v6.9l-5.6 3.4l-5.6 -3.4v-6.9zM650.2 338.6l5.6 3.4v6.9l-5.6 3.4l-5.6 -3.4v-6.9zM601.4 328.6l5.6 3.4v6.9l-5.6 3.4l-5.6 -3.4v-6.9zM612.3 328.6l5.6 3.4v6.9l-5.6 3.4l-5.6 -3.4v-6.9zM623.1 328.6l5.6 3.4v6.9l-5.6 3.4l-5.6 -3.4v-6.9zM634.0 328.6l5.6 3.4v6.9l-5.6 3.4l-5.6 -3.4v-6.9zM644.8 328.6l5.6 3.4v6.9l-5.6 3.4l-5.6 -3.4v-6.9zM655.6 328.6l5.6 3.4v6.9l-5.6 3.4l-5.6 -3.4v-6.9zM596.0 318.6l5.6 3.4v6.9l-5.6 3.4l-5.6 -3.4v-6.9zM606.9 318.6l5.6 3.4v6.9l-5.6 3.4l-5.6 -3.4v-6.9zM617.7 318.6l5.6 3.4v6.9l-5.6 3.4l-5.6 -3.4v-6.9zM628.5 318.6l5.6 3.4v6.9l-5.6 3.4l-5.6 -3.4v-6.9zM639.4 318.6l5.6 3.4v6.9l-5.6 3.4l-5.6 -3.4v-6.9zM650.2 318.6l5.6 3.4v6.9l-5.6 3.4l-5.6 -3.4v-6.9zM661.1 318.6l5.6 3.4v6.9l-5.6 3.4l-5.6 -3.4v-6.9zM601.4 308.5l5.6 3.4v6.9l-5.6 3.4l-5.6 -3.4v-6.9zM612.3 308.5l5.6 3.4v6.9l-5.6 3.4l-5.6 -3.4v-6.9zM623.1 308.5l5.6 3.4v6.9l-5.6 3.4l-5.6 -3.4v-6.9zM634.0 308.5l5.6 3.4v6.9l-5.6 3.4l-5.6 -3.4v-6.9zM644.8 308.5l5.6 3.4v6.9l-5.6 3.4l-5.6 -3.4v-6.9zM655.6 308.5l5.6 3.4v6.9l-5.6 3.4l-5.6 -3.4v-6.9zM666.5 308.5l5.6 3.4v6.9l-5.6 3.4l-5.6 -3.4v-6.9zM596.0 298.4l5.6 3.4v6.9l-5.6 3.4l-5.6 -3.4v-6.9zM606.9 298.4l5.6 3.4v6.9l-5.6 3.4l-5.6 -3.4v-6.9zM617.7 298.4l5.6 3.4v6.9l-5.6 3.4l-5.6 -3.4v-6.9zM628.5 298.4l5.6 3.4v6.9l-5.6 3.4l-5.6 -3.4v-6.9zM639.4 298.4l5.6 3.4v6.9l-5.6 3.4l-5.6 -3.4v-6.9zM650.2 298.4l5.6 3.4v6.9l-5.6 3.4l-5.6 -3.4v-6.9zM661.1 298.4l5.6 3.4v6.9l-5.6 3.4l-5.6 -3.4v-6.9zM671.9 298.4l5.6 3.4v6.9l-5.6 3.4l-5.6 -3.4v-6.9zM590.6 288.4l5.6 3.4v6.9l-5.6 3.4l-5.6 -3.4v-6.9zM601.4 288.4l5.6 3.4v6.9l-5.6 3.4l-5.6 -3.4v-6.9zM612.3 288.4l5.6 3.4v6.9l-5.6 3.4l-5.6 -3.4v-6.9zM623.1 288.4l5.6 3.4v6.9l-5.6 3.4l-5.6 -3.4v-6.9zM634.0 288.4l5.6 3.4v6.9l-5.6 3.4l-5.6 -3.4v-6.9zM644.8 288.4l5.6 3.4v6.9l-5.6 3.4l-5.6 -3.4v-6.9zM655.6 288.4l5.6 3.4v6.9l-5.6 3.4l-5.6 -3.4v-6.9zM666.5 288.4l5.6 3.4v6.9l-5.6 3.4l-5.6 -3.4v-6.9zM677.3 288.4l5.6 3.4v6.9l-5.6 3.4l-5.6 -3.4v-6.9zM596.0 278.4l5.6 3.4v6.9l-5.6 3.4l-5.6 -3.4v-6.9zM606.9 278.4l5.6 3.4v6.9l-5.6 3.4l-5.6 -3.4v-6.9zM617.7 278.4l5.6 3.4v6.9l-5.6 3.4l-5.6 -3.4v-6.9zM628.5 278.4l5.6 3.4v6.9l-5.6 3.4l-5.6 -3.4v-6.9zM639.4 278.4l5.6 3.4v6.9l-5.6 3.4l-5.6 -3.4v-6.9zM650.2 278.4l5.6 3.4v6.9l-5.6 3.4l-5.6 -3.4v-6.9zM661.1 278.4l5.6 3.4v6.9l-5.6 3.4l-5.6 -3.4v-6.9zM671.9 278.4l5.6 3.4v6.9l-5.6 3.4l-5.6 -3.4v-6.9zM682.7 278.4l5.6 3.4v6.9l-5.6 3.4l-5.6 -3.4v-6.9zM590.6 268.3l5.6 3.4v6.9l-5.6 3.4l-5.6 -3.4v-6.9zM601.4 268.3l5.6 3.4v6.9l-5.6 3.4l-5.6 -3.4v-6.9zM612.3 268.3l5.6 3.4v6.9l-5.6 3.4l-5.6 -3.4v-6.9zM623.1 268.3l5.6 3.4v6.9l-5.6 3.4l-5.6 -3.4v-6.9zM634.0 268.3l5.6 3.4v6.9l-5.6 3.4l-5.6 -3.4v-6.9zM644.8 268.3l5.6 3.4v6.9l-5.6 3.4l-5.6 -3.4v-6.9zM655.6 268.3l5.6 3.4v6.9l-5.6 3.4l-5.6 -3.4v-6.9zM666.5 268.3l5.6 3.4v6.9l-5.6 3.4l-5.6 -3.4v-6.9zM677.3 268.3l5.6 3.4v6.9l-5.6 3.4l-5.6 -3.4v-6.9zM688.2 268.3l5.6 3.4v6.9l-5.6 3.4l-5.6 -3.4v-6.9zM596.0 258.2l5.6 3.4v6.9l-5.6 3.4l-5.6 -3.4v-6.9zM606.9 258.2l5.6 3.4v6.9l-5.6 3.4l-5.6 -3.4v-6.9zM617.7 258.2l5.6 3.4v6.9l-5.6 3.4l-5.6 -3.4v-6.9zM628.5 258.2l5.6 3.4v6.9l-5.6 3.4l-5.6 -3.4v-6.9zM639.4 258.2l5.6 3.4v6.9l-5.6 3.4l-5.6 -3.4v-6.9zM650.2 258.2l5.6 3.4v6.9l-5.6 3.4l-5.6 -3.4v-6.9zM661.1 258.2l5.6 3.4v6.9l-5.6 3.4l-5.6 -3.4v-6.9zM671.9 258.2l5.6 3.4v6.9l-5.6 3.4l-5.6 -3.4v-6.9zM682.7 258.2l5.6 3.4v6.9l-5.6 3.4l-5.6 -3.4v-6.9zM693.6 258.2l5.6 3.4v6.9l-5.6 3.4l-5.6 -3.4v-6.9zM590.6 248.2l5.6 3.4v6.9l-5.6 3.4l-5.6 -3.4v-6.9zM601.4 248.2l5.6 3.4v6.9l-5.6 3.4l-5.6 -3.4v-6.9zM612.3 248.2l5.6 3.4v6.9l-5.6 3.4l-5.6 -3.4v-6.9zM623.1 248.2l5.6 3.4v6.9l-5.6 3.4l-5.6 -3.4v-6.9zM634.0 248.2l5.6 3.4v6.9l-5.6 3.4l-5.6 -3.4v-6.9zM644.8 248.2l5.6 3.4v6.9l-5.6 3.4l-5.6 -3.4v-6.9zM655.6 248.2l5.6 3.4v6.9l-5.6 3.4l-5.6 -3.4v-6.9zM666.5 248.2l5.6 3.4v6.9l-5.6 3.4l-5.6 -3.4v-6.9zM677.3 248.2l5.6 3.4v6.9l-5.6 3.4l-5.6 -3.4v-6.9zM688.2 248.2l5.6 3.4v6.9l-5.6 3.4l-5.6 -3.4v-6.9zM699.0 248.2l5.6 3.4v6.9l-5.6 3.4l-5.6 -3.4v-6.9zM585.2 238.2l5.6 3.4v6.9l-5.6 3.4l-5.6 -3.4v-6.9zM596.0 238.2l5.6 3.4v6.9l-5.6 3.4l-5.6 -3.4v-6.9zM606.9 238.2l5.6 3.4v6.9l-5.6 3.4l-5.6 -3.4v-6.9zM617.7 238.2l5.6 3.4v6.9l-5.6 3.4l-5.6 -3.4v-6.9zM628.5 238.2l5.6 3.4v6.9l-5.6 3.4l-5.6 -3.4v-6.9zM639.4 238.2l5.6 3.4v6.9l-5.6 3.4l-5.6 -3.4v-6.9zM650.2 238.2l5.6 3.4v6.9l-5.6 3.4l-5.6 -3.4v-6.9zM661.1 238.2l5.6 3.4v6.9l-5.6 3.4l-5.6 -3.4v-6.9zM671.9 238.2l5.6 3.4v6.9l-5.6 3.4l-5.6 -3.4v-6.9zM682.7 238.2l5.6 3.4v6.9l-5.6 3.4l-5.6 -3.4v-6.9zM693.6 238.2l5.6 3.4v6.9l-5.6 3.4l-5.6 -3.4v-6.9zM704.4 238.2l5.6 3.4v6.9l-5.6 3.4l-5.6 -3.4v-6.9zM590.6 228.1l5.6 3.4v6.9l-5.6 3.4l-5.6 -3.4v-6.9zM601.4 228.1l5.6 3.4v6.9l-5.6 3.4l-5.6 -3.4v-6.9zM612.3 228.1l5.6 3.4v6.9l-5.6 3.4l-5.6 -3.4v-6.9zM623.1 228.1l5.6 3.4v6.9l-5.6 3.4l-5.6 -3.4v-6.9zM634.0 228.1l5.6 3.4v6.9l-5.6 3.4l-5.6 -3.4v-6.9zM644.8 228.1l5.6 3.4v6.9l-5.6 3.4l-5.6 -3.4v-6.9zM655.6 228.1l5.6 3.4v6.9l-5.6 3.4l-5.6 -3.4v-6.9zM666.5 228.1l5.6 3.4v6.9l-5.6 3.4l-5.6 -3.4v-6.9zM677.3 228.1l5.6 3.4v6.9l-5.6 3.4l-5.6 -3.4v-6.9zM688.2 228.1l5.6 3.4v6.9l-5.6 3.4l-5.6 -3.4v-6.9zM699.0 228.1l5.6 3.4v6.9l-5.6 3.4l-5.6 -3.4v-6.9zM709.8 228.1l5.6 3.4v6.9l-5.6 3.4l-5.6 -3.4v-6.9zM585.2 218.1l5.6 3.4v6.9l-5.6 3.4l-5.6 -3.4v-6.9zM596.0 218.1l5.6 3.4v6.9l-5.6 3.4l-5.6 -3.4v-6.9zM606.9 218.1l5.6 3.4v6.9l-5.6 3.4l-5.6 -3.4v-6.9zM617.7 218.1l5.6 3.4v6.9l-5.6 3.4l-5.6 -3.4v-6.9zM628.5 218.1l5.6 3.4v6.9l-5.6 3.4l-5.6 -3.4v-6.9zM639.4 218.1l5.6 3.4v6.9l-5.6 3.4l-5.6 -3.4v-6.9zM650.2 218.1l5.6 3.4v6.9l-5.6 3.4l-5.6 -3.4v-6.9zM661.1 218.1l5.6 3.4v6.9l-5.6 3.4l-5.6 -3.4v-6.9zM671.9 218.1l5.6 3.4v6.9l-5.6 3.4l-5.6 -3.4v-6.9zM682.7 218.1l5.6 3.4v6.9l-5.6 3.4l-5.6 -3.4v-6.9zM693.6 218.1l5.6 3.4v6.9l-5.6 3.4l-5.6 -3.4v-6.9zM704.4 218.1l5.6 3.4v6.9l-5.6 3.4l-5.6 -3.4v-6.9zM590.6 208.0l5.6 3.4v6.9l-5.6 3.4l-5.6 -3.4v-6.9zM601.4 208.0l5.6 3.4v6.9l-5.6 3.4l-5.6 -3.4v-6.9zM612.3 208.0l5.6 3.4v6.9l-5.6 3.4l-5.6 -3.4v-6.9zM623.1 208.0l5.6 3.4v6.9l-5.6 3.4l-5.6 -3.4v-6.9zM634.0 208.0l5.6 3.4v6.9l-5.6 3.4l-5.6 -3.4v-6.9zM644.8 208.0l5.6 3.4v6.9l-5.6 3.4l-5.6 -3.4v-6.9zM655.6 208.0l5.6 3.4v6.9l-5.6 3.4l-5.6 -3.4v-6.9zM666.5 208.0l5.6 3.4v6.9l-5.6 3.4l-5.6 -3.4v-6.9zM677.3 208.0l5.6 3.4v6.9l-5.6 3.4l-5.6 -3.4v-6.9zM688.2 208.0l5.6 3.4v6.9l-5.6 3.4l-5.6 -3.4v-6.9zM699.0 208.0l5.6 3.4v6.9l-5.6 3.4l-5.6 -3.4v-6.9zM585.2 198.0l5.6 3.4v6.9l-5.6 3.4l-5.6 -3.4v-6.9zM596.0 198.0l5.6 3.4v6.9l-5.6 3.4l-5.6 -3.4v-6.9zM606.9 198.0l5.6 3.4v6.9l-5.6 3.4l-5.6 -3.4v-6.9zM617.7 198.0l5.6 3.4v6.9l-5.6 3.4l-5.6 -3.4v-6.9zM628.5 198.0l5.6 3.4v6.9l-5.6 3.4l-5.6 -3.4v-6.9zM639.4 198.0l5.6 3.4v6.9l-5.6 3.4l-5.6 -3.4v-6.9zM650.2 198.0l5.6 3.4v6.9l-5.6 3.4l-5.6 -3.4v-6.9zM661.1 198.0l5.6 3.4v6.9l-5.6 3.4l-5.6 -3.4v-6.9zM671.9 198.0l5.6 3.4v6.9l-5.6 3.4l-5.6 -3.4v-6.9zM682.7 198.0l5.6 3.4v6.9l-5.6 3.4l-5.6 -3.4v-6.9zM693.6 198.0l5.6 3.4v6.9l-5.6 3.4l-5.6 -3.4v-6.9zM579.8 187.9l5.6 3.4v6.9l-5.6 3.4l-5.6 -3.4v-6.9zM590.6 187.9l5.6 3.4v6.9l-5.6 3.4l-5.6 -3.4v-6.9zM601.4 187.9l5.6 3.4v6.9l-5.6 3.4l-5.6 -3.4v-6.9zM612.3 187.9l5.6 3.4v6.9l-5.6 3.4l-5.6 -3.4v-6.9zM623.1 187.9l5.6 3.4v6.9l-5.6 3.4l-5.6 -3.4v-6.9zM634.0 187.9l5.6 3.4v6.9l-5.6 3.4l-5.6 -3.4v-6.9zM644.8 187.9l5.6 3.4v6.9l-5.6 3.4l-5.6 -3.4v-6.9zM655.6 187.9l5.6 3.4v6.9l-5.6 3.4l-5.6 -3.4v-6.9zM666.5 187.9l5.6 3.4v6.9l-5.6 3.4l-5.6 -3.4v-6.9zM677.3 187.9l5.6 3.4v6.9l-5.6 3.4l-5.6 -3.4v-6.9zM688.2 187.9l5.6 3.4v6.9l-5.6 3.4l-5.6 -3.4v-6.9zM585.2 177.9l5.6 3.4v6.9l-5.6 3.4l-5.6 -3.4v-6.9zM596.0 177.9l5.6 3.4v6.9l-5.6 3.4l-5.6 -3.4v-6.9zM606.9 177.9l5.6 3.4v6.9l-5.6 3.4l-5.6 -3.4v-6.9zM617.7 177.9l5.6 3.4v6.9l-5.6 3.4l-5.6 -3.4v-6.9zM628.5 177.9l5.6 3.4v6.9l-5.6 3.4l-5.6 -3.4v-6.9zM639.4 177.9l5.6 3.4v6.9l-5.6 3.4l-5.6 -3.4v-6.9zM650.2 177.9l5.6 3.4v6.9l-5.6 3.4l-5.6 -3.4v-6.9zM661.1 177.9l5.6 3.4v6.9l-5.6 3.4l-5.6 -3.4v-6.9zM671.9 177.9l5.6 3.4v6.9l-5.6 3.4l-5.6 -3.4v-6.9zM682.7 177.9l5.6 3.4v6.9l-5.6 3.4l-5.6 -3.4v-6.9zM579.8 167.8l5.6 3.4v6.9l-5.6 3.4l-5.6 -3.4v-6.9zM590.6 167.8l5.6 3.4v6.9l-5.6 3.4l-5.6 -3.4v-6.9zM601.4 167.8l5.6 3.4v6.9l-5.6 3.4l-5.6 -3.4v-6.9zM612.3 167.8l5.6 3.4v6.9l-5.6 3.4l-5.6 -3.4v-6.9zM623.1 167.8l5.6 3.4v6.9l-5.6 3.4l-5.6 -3.4v-6.9zM634.0 167.8l5.6 3.4v6.9l-5.6 3.4l-5.6 -3.4v-6.9zM644.8 167.8l5.6 3.4v6.9l-5.6 3.4l-5.6 -3.4v-6.9zM655.6 167.8l5.6 3.4v6.9l-5.6 3.4l-5.6 -3.4v-6.9zM666.5 167.8l5.6 3.4v6.9l-5.6 3.4l-5.6 -3.4v-6.9zM677.3 167.8l5.6 3.4v6.9l-5.6 3.4l-5.6 -3.4v-6.9zM585.2 157.8l5.6 3.4v6.9l-5.6 3.4l-5.6 -3.4v-6.9zM596.0 157.8l5.6 3.4v6.9l-5.6 3.4l-5.6 -3.4v-6.9zM606.9 157.8l5.6 3.4v6.9l-5.6 3.4l-5.6 -3.4v-6.9zM617.7 157.8l5.6 3.4v6.9l-5.6 3.4l-5.6 -3.4v-6.9zM628.5 157.8l5.6 3.4v6.9l-5.6 3.4l-5.6 -3.4v-6.9zM639.4 157.8l5.6 3.4v6.9l-5.6 3.4l-5.6 -3.4v-6.9zM650.2 157.8l5.6 3.4v6.9l-5.6 3.4l-5.6 -3.4v-6.9zM661.1 157.8l5.6 3.4v6.9l-5.6 3.4l-5.6 -3.4v-6.9zM671.9 157.8l5.6 3.4v6.9l-5.6 3.4l-5.6 -3.4v-6.9zM579.8 147.7l5.6 3.4v6.9l-5.6 3.4l-5.6 -3.4v-6.9zM590.6 147.7l5.6 3.4v6.9l-5.6 3.4l-5.6 -3.4v-6.9zM601.4 147.7l5.6 3.4v6.9l-5.6 3.4l-5.6 -3.4v-6.9zM612.3 147.7l5.6 3.4v6.9l-5.6 3.4l-5.6 -3.4v-6.9zM623.1 147.7l5.6 3.4v6.9l-5.6 3.4l-5.6 -3.4v-6.9zM634.0 147.7l5.6 3.4v6.9l-5.6 3.4l-5.6 -3.4v-6.9zM644.8 147.7l5.6 3.4v6.9l-5.6 3.4l-5.6 -3.4v-6.9zM655.6 147.7l5.6 3.4v6.9l-5.6 3.4l-5.6 -3.4v-6.9zM666.5 147.7l5.6 3.4v6.9l-5.6 3.4l-5.6 -3.4v-6.9zM574.3 137.7l5.6 3.4v6.9l-5.6 3.4l-5.6 -3.4v-6.9zM585.2 137.7l5.6 3.4v6.9l-5.6 3.4l-5.6 -3.4v-6.9zM596.0 137.7l5.6 3.4v6.9l-5.6 3.4l-5.6 -3.4v-6.9zM606.9 137.7l5.6 3.4v6.9l-5.6 3.4l-5.6 -3.4v-6.9zM617.7 137.7l5.6 3.4v6.9l-5.6 3.4l-5.6 -3.4v-6.9zM628.5 137.7l5.6 3.4v6.9l-5.6 3.4l-5.6 -3.4v-6.9zM639.4 137.7l5.6 3.4v6.9l-5.6 3.4l-5.6 -3.4v-6.9zM650.2 137.7l5.6 3.4v6.9l-5.6 3.4l-5.6 -3.4v-6.9zM579.8 127.6l5.6 3.4v6.9l-5.6 3.4l-5.6 -3.4v-6.9zM590.6 127.6l5.6 3.4v6.9l-5.6 3.4l-5.6 -3.4v-6.9zM601.4 127.6l5.6 3.4v6.9l-5.6 3.4l-5.6 -3.4v-6.9z"/>
<path fill="#645096" d="M650.2 358.8l5.6 3.4v6.9l-5.6 3.4l-5.6 -3.4v-6.9zM661.1 358.8l5.6 3.4v6.9l-5.6 3.4l-5.6 -3.4v-6.9zM671.9 358.8l5.6 3.4v6.9l-5.6 3.4l-5.6 -3.4v-6.9zM682.7 358.8l5.6 3.4v6.9l-5.6 3.4l-5.6 -3.4v-6.9zM693.6 358.8l5.6 3.4v6.9l-5.6 3.4l-5.6 -3.4v-6.9zM704.4 358.8l5.6 3.4v6.9l-5.6 3.4l-5.6 -3.4v-6.9zM715.3 358.8l5.6 3.4v6.9l-5.6 3.4l-5.6 -3.4v-6.9zM726.1 358.8l5.6 3.4v6.9l-5.6 3.4l-5.6 -3.4v-6.9zM736.9 358.8l5.6 3.4v6.9l-5.6 3.4l-5.6 -3.4v-6.9zM747.8 358.8l5.6 3.4v6.9l-5.6 3.4l-5.6 -3.4v-6.9zM758.6 358.8l5.6 3.4v6.9l-5.6 3.4l-5.6 -3.4v-6.9zM769.5 358.8l5.6 3.4v6.9l-5.6 3.4l-5.6 -3.4v-6.9zM780.3 358.8l5.6 3.4v6.9l-5.6 3.4l-5.6 -3.4v-6.9zM655.6 348.7l5.6 3.4v6.9l-5.6 3.4l-5.6 -3.4v-6.9zM666.5 348.7l5.6 3.4v6.9l-5.6 3.4l-5.6 -3.4v-6.9zM677.3 348.7l5.6 3.4v6.9l-5.6 3.4l-5.6 -3.4v-6.9zM688.2 348.7l5.6 3.4v6.9l-5.6 3.4l-5.6 -3.4v-6.9zM699.0 348.7l5.6 3.4v6.9l-5.6 3.4l-5.6 -3.4v-6.9zM709.8 348.7l5.6 3.4v6.9l-5.6 3.4l-5.6 -3.4v-6.9zM720.7 348.7l5.6 3.4v6.9l-5.6 3.4l-5.6 -3.4v-6.9zM731.5 348.7l5.6 3.4v6.9l-5.6 3.4l-5.6 -3.4v-6.9zM742.4 348.7l5.6 3.4v6.9l-5.6 3.4l-5.6 -3.4v-6.9zM753.2 348.7l5.6 3.4v6.9l-5.6 3.4l-5.6 -3.4v-6.9zM764.0 348.7l5.6 3.4v6.9l-5.6 3.4l-5.6 -3.4v-6.9zM774.9 348.7l5.6 3.4v6.9l-5.6 3.4l-5.6 -3.4v-6.9zM661.1 338.6l5.6 3.4v6.9l-5.6 3.4l-5.6 -3.4v-6.9zM671.9 338.6l5.6 3.4v6.9l-5.6 3.4l-5.6 -3.4v-6.9zM682.7 338.6l5.6 3.4v6.9l-5.6 3.4l-5.6 -3.4v-6.9zM693.6 338.6l5.6 3.4v6.9l-5.6 3.4l-5.6 -3.4v-6.9zM704.4 338.6l5.6 3.4v6.9l-5.6 3.4l-5.6 -3.4v-6.9zM715.3 338.6l5.6 3.4v6.9l-5.6 3.4l-5.6 -3.4v-6.9zM726.1 338.6l5.6 3.4v6.9l-5.6 3.4l-5.6 -3.4v-6.9zM736.9 338.6l5.6 3.4v6.9l-5.6 3.4l-5.6 -3.4v-6.9zM747.8 338.6l5.6 3.4v6.9l-5.6 3.4l-5.6 -3.4v-6.9zM758.6 338.6l5.6 3.4v6.9l-5.6 3.4l-5.6 -3.4v-6.9zM769.5 338.6l5.6 3.4v6.9l-5.6 3.4l-5.6 -3.4v-6.9zM666.5 328.6l5.6 3.4v6.9l-5.6 3.4l-5.6 -3.4v-6.9zM677.3 328.6l5.6 3.4v6.9l-5.6 3.4l-5.6 -3.4v-6.9zM688.2 328.6l5.6 3.4v6.9l-5.6 3.4l-5.6 -3.4v-6.9zM699.0 328.6l5.6 3.4v6.9l-5.6 3.4l-5.6 -3.4v-6.9zM709.8 328.6l5.6 3.4v6.9l-5.6 3.4l-5.6 -3.4v-6.9zM720.7 328.6l5.6 3.4v6.9l-5.6 3.4l-5.6 -3.4v-6.9zM731.5 328.6l5.6 3.4v6.9l-5.6 3.4l-5.6 -3.4v-6.9zM742.4 328.6l5.6 3.4v6.9l-5.6 3.4l-5.6 -3.4v-6.9zM753.2 328.6l5.6 3.4v6.9l-5.6 3.4l-5.6 -3.4v-6.9zM764.0 328.6l5.6 3.4v6.9l-5.6 3.4l-5.6 -3.4v-6.9zM671.9 318.6l5.6 3.4v6.9l-5.6 3.4l-5.6 -3.4v-6.9zM682.7 318.6l5.6 3.4v6.9l-5.6 3.4l-5.6 -3.4v-6.9zM693.6 318.6l5.6 3.4v6.9l-5.6 3.4l-5.6 -3.4v-6.9zM704.4 318.6l5.6 3.4v6.9l-5.6 3.4l-5.6 -3.4v-6.9zM715.3 318.6l5.6 3.4v6.9l-5.6 3.4l-5.6 -3.4v-6.9zM726.1 318.6l5.6 3.4v6.9l-5.6 3.4l-5.6 -3.4v-6.9zM736.9 318.6l5.6 3.4v6.9l-5.6 3.4l-5.6 -3.4v-6.9zM747.8 318.6l5.6 3.4v6.9l-5.6 3.4l-5.6 -3.4v-6.9zM758.6 318.6l5.6 3.4v6.9l-5.6 3.4l-5.6 -3.4v-6.9zM677.3 308.5l5.6 3.4v6.9l-5.6 3.4l-5.6 -3.4v-6.9zM688.2 308.5l5.6 3.4v6.9l-5.6 3.4l-5.6 -3.4v-6.9zM699.0 308.5l5.6 3.4v6.9l-5.6 3.4l-5.6 -3.4v-6.9zM709.8 308.5l5.6 3.4v6.9l-5.6 3.4l-5.6 -3.4v-6.9zM720.7 308.5l5.6 3.4v6.9l-5.6 3.4l-5.6 -3.4v-6.9zM731.5 308.5l5.6 3.4v6.9l-5.6 3.4l-5.6 -3.4v-6.9zM742.4 308.5l5.6 3.4v6.9l-5.6 3.4l-5.6 -3.4v-6.9zM753.2 308.5l5.6 3.4v6.9l-5.6 3.4l-5.6 -3.4v-6.9zM682.7 298.4l5.6 3.4v6.9l-5.6 3.4l-5.6 -3.4v-6.9zM693.6 298.4l5.6 3.4v6.9l-5.6 3.4l-5.6 -3.4v-6.9zM704.4 298.4l5.6 3.4v6.9l-5.6 3.4l-5.6 -3.4v-6.9zM715.3 298.4l5.6 3.4v6.9l-5.6 3.4l-5.6 -3.4v-6.9zM726.1 298.4l5.6 3.4v6.9l-5.6 3.4l-5.6 -3.4v-6.9zM736.9 298.4l5.6 3.4v6.9l-5.6 3.4l-5.6 -3.4v-6.9zM747.8 298.4l5.6 3.4v6.9l-5.6 3.4l-5.6 -3.4v-6.9zM688.2 288.4l5.6 3.4v6.9l-5.6 3.4l-5.6 -3.4v-6.9zM699.0 288.4l5.6 3.4v6.9l-5.6 3.4l-5.6 -3.4v-6.9zM709.8 288.4l5.6 3.4v6.9l-5.6 3.4l-5.6 -3.4v-6.9zM720.7 288.4l5.6 3.4v6.9l-5.6 3.4l-5.6 -3.4v-6.9zM731.5 288.4l5.6 3.4v6.9l-5.6 3.4l-5.6 -3.4v-6.9zM742.4 288.4l5.6 3.4v6.9l-5.6 3.4l-5.6 -3.4v-6.9zM693.6 278.4l5.6 3.4v6.9l-5.6 3.4l-5.6 -3.4v-6.9zM704.4 278.4l5.6 3.4v6.9l-5.6 3.4l-5.6 -3.4v-6.9zM715.3 278.4l5.6 3.4v6.9l-5.6 3.4l-5.6 -3.4v-6.9zM726.1 278.4l5.6 3.4v6.9l-5.6 3.4l-5.6 -3.4v-6.9zM736.9 278.4l5.6 3.4v6.9l-5.6 3.4l-5.6 -3.4v-6.9zM699.0 268.3l5.6 3.4v6.9l-5.6 3.4l-5.6 -3.4v-6.9zM709.8 268.3l5.6 3.4v6.9l-5.6 3.4l-5.6 -3.4v-6.9zM720.7 268.3l5.6 3.4v6.9l-5.6 3.4l-5.6 -3.4v-6.9zM731.5 268.3l5.6 3.4v6.9l-5.6 3.4l-5.6 -3.4v-6.9zM704.4 258.2l5.6 3.4v6.9l-5.6 3.4l-5.6 -3.4v-6.9zM715.3 258.2l5.6 3.4v6.9l-5.6 3.4l-5.6 -3.4v-6.9zM726.1 258.2l5.6 3.4v6.9l-5.6 3.4l-5.6 -3.4v-6.9zM709.8 248.2l5.6 3.4v6.9l-5.6 3.4l-5.6 -3.4v-6.9zM720.7 248.2l5.6 3.4v6.9l-5.6 3.4l-5.6 -3.4v-6.9zM715.3 238.2l5.6 3.4v6.9l-5.6 3.4l-5.6 -3.4v-6.9z"/>
<path fill="#55c9e5" d="M661.1 139.6l4.0 2.4v4.9l-4.0 2.4l-4.0 -2.4v-4.9zM612.3 129.6l4.0 2.4v4.9l-4.0 2.4l-4.0 -2.4v-4.9zM623.1 129.6l4.0 2.4v4.9l-4.0 2.4l-4.0 -2.4v-4.9zM634.0 129.6l4.0 2.4v4.9l-4.0 2.4l-4.0 -2.4v-4.9zM644.8 129.6l4.0 2.4v4.9l-4.0 2.4l-4.0 -2.4v-4.9zM655.6 129.6l4.0 2.4v4.9l-4.0 2.4l-4.0 -2.4v-4.9zM585.2 119.5l4.0 2.4v4.9l-4.0 2.4l-4.0 -2.4v-4.9zM596.0 119.5l4.0 2.4v4.9l-4.0 2.4l-4.0 -2.4v-4.9zM606.9 119.5l4.0 2.4v4.9l-4.0 2.4l-4.0 -2.4v-4.9zM617.7 119.5l4.0 2.4v4.9l-4.0 2.4l-4.0 -2.4v-4.9zM628.5 119.5l4.0 2.4v4.9l-4.0 2.4l-4.0 -2.4v-4.9zM639.4 119.5l4.0 2.4v4.9l-4.0 2.4l-4.0 -2.4v-4.9zM650.2 119.5l4.0 2.4v4.9l-4.0 2.4l-4.0 -2.4v-4.9zM590.6 109.5l4.0 2.4v4.9l-4.0 2.4l-4.0 -2.4v-4.9zM601.4 109.5l4.0 2.4v4.9l-4.0 2.4l-4.0 -2.4v-4.9zM612.3 109.5l4.0 2.4v4.9l-4.0 2.4l-4.0 -2.4v-4.9zM623.1 109.5l4.0 2.4v4.9l-4.0 2.4l-4.0 -2.4v-4.9zM634.0 109.5l4.0 2.4v4.9l-4.0 2.4l-4.0 -2.4v-4.9zM644.8 109.5l4.0 2.4v4.9l-4.0 2.4l-4.0 -2.4v-4.9zM596.0 99.4l4.0 2.4v4.9l-4.0 2.4l-4.0 -2.4v-4.9zM606.9 99.4l4.0 2.4v4.9l-4.0 2.4l-4.0 -2.4v-4.9zM617.7 99.4l4.0 2.4v4.9l-4.0 2.4l-4.0 -2.4v-4.9zM628.5 99.4l4.0 2.4v4.9l-4.0 2.4l-4.0 -2.4v-4.9zM639.4 99.4l4.0 2.4v4.9l-4.0 2.4l-4.0 -2.4v-4.9zM601.4 89.4l4.0 2.4v4.9l-4.0 2.4l-4.0 -2.4v-4.9zM612.3 89.4l4.0 2.4v4.9l-4.0 2.4l-4.0 -2.4v-4.9zM623.1 89.4l4.0 2.4v4.9l-4.0 2.4l-4.0 -2.4v-4.9zM634.0 89.4l4.0 2.4v4.9l-4.0 2.4l-4.0 -2.4v-4.9zM606.9 79.3l4.0 2.4v4.9l-4.0 2.4l-4.0 -2.4v-4.9zM617.7 79.3l4.0 2.4v4.9l-4.0 2.4l-4.0 -2.4v-4.9zM628.5 79.3l4.0 2.4v4.9l-4.0 2.4l-4.0 -2.4v-4.9zM612.3 69.3l4.0 2.4v4.9l-4.0 2.4l-4.0 -2.4v-4.9zM623.1 69.3l4.0 2.4v4.9l-4.0 2.4l-4.0 -2.4v-4.9zM617.7 59.2l4.0 2.4v4.9l-4.0 2.4l-4.0 -2.4v-4.9z"/>
<path fill="#e8a856" d="M455.1 360.7l4.0 2.4v4.9l-4.0 2.4l-4.0 -2.4v-4.9zM465.9 360.7l4.0 2.4v4.9l-4.0 2.4l-4.0 -2.4v-4.9zM476.8 360.7l4.0 2.4v4.9l-4.0 2.4l-4.0 -2.4v-4.9zM487.6 360.7l4.0 2.4v4.9l-4.0 2.4l-4.0 -2.4v-4.9zM498.5 360.7l4.0 2.4v4.9l-4.0 2.4l-4.0 -2.4v-4.9zM509.3 360.7l4.0 2.4v4.9l-4.0 2.4l-4.0 -2.4v-4.9zM520.1 360.7l4.0 2.4v4.9l-4.0 2.4l-4.0 -2.4v-4.9zM531.0 360.7l4.0 2.4v4.9l-4.0 2.4l-4.0 -2.4v-4.9zM541.8 360.7l4.0 2.4v4.9l-4.0 2.4l-4.0 -2.4v-4.9zM552.7 360.7l4.0 2.4v4.9l-4.0 2.4l-4.0 -2.4v-4.9zM563.5 360.7l4.0 2.4v4.9l-4.0 2.4l-4.0 -2.4v-4.9zM574.3 360.7l4.0 2.4v4.9l-4.0 2.4l-4.0 -2.4v-4.9zM585.2 360.7l4.0 2.4v4.9l-4.0 2.4l-4.0 -2.4v-4.9zM460.5 350.7l4.0 2.4v4.9l-4.0 2.4l-4.0 -2.4v-4.9zM471.4 350.7l4.0 2.4v4.9l-4.0 2.4l-4.0 -2.4v-4.9zM482.2 350.7l4.0 2.4v4.9l-4.0 2.4l-4.0 -2.4v-4.9zM493.0 350.7l4.0 2.4v4.9l-4.0 2.4l-4.0 -2.4v-4.9zM503.9 350.7l4.0 2.4v4.9l-4.0 2.4l-4.0 -2.4v-4.9zM514.7 350.7l4.0 2.4v4.9l-4.0 2.4l-4.0 -2.4v-4.9zM525.6 350.7l4.0 2.4v4.9l-4.0 2.4l-4.0 -2.4v-4.9zM536.4 350.7l4.0 2.4v4.9l-4.0 2.4l-4.0 -2.4v-4.9zM547.2 350.7l4.0 2.4v4.9l-4.0 2.4l-4.0 -2.4v-4.9zM558.1 350.7l4.0 2.4v4.9l-4.0 2.4l-4.0 -2.4v-4.9zM568.9 350.7l4.0 2.4v4.9l-4.0 2.4l-4.0 -2.4v-4.9zM579.8 350.7l4.0 2.4v4.9l-4.0 2.4l-4.0 -2.4v-4.9zM590.6 350.7l4.0 2.4v4.9l-4.0 2.4l-4.0 -2.4v-4.9zM465.9 340.6l4.0 2.4v4.9l-4.0 2.4l-4.0 -2.4v-4.9zM476.8 340.6l4.0 2.4v4.9l-4.0 2.4l-4.0 -2.4v-4.9zM487.6 340.6l4.0 2.4v4.9l-4.0 2.4l-4.0 -2.4v-4.9zM498.5 340.6l4.0 2.4v4.9l-4.0 2.4l-4.0 -2.4v-4.9zM509.3 340.6l4.0 2.4v4.9l-4.0 2.4l-4.0 -2.4v-4.9zM520.1 340.6l4.0 2.4v4.9l-4.0 2.4l-4.0 -2.4v-4.9zM531.0 340.6l4.0 2.4v4.9l-4.0 2.4l-4.0 -2.4v-4.9zM541.8 340.6l4.0 2.4v4.9l-4.0 2.4l-4.0 -2.4v-4.9zM552.7 340.6l4.0 2.4v4.9l-4.0 2.4l-4.0 -2.4v-4.9zM563.5 340.6l4.0 2.4v4.9l-4.0 2.4l-4.0 -2.4v-4.9zM574.3 340.6l4.0 2.4v4.9l-4.0 2.4l-4.0 -2.4v-4.9zM585.2 340.6l4.0 2.4v4.9l-4.0 2.4l-4.0 -2.4v-4.9zM471.4 330.6l4.0 2.4v4.9l-4.0 2.4l-4.0 -2.4v-4.9zM482.2 330.6l4.0 2.4v4.9l-4.0 2.4l-4.0 -2.4v-4.9zM493.0 330.6l4.0 2.4v4.9l-4.0 2.4l-4.0 -2.4v-4.9zM503.9 330.6l4.0 2.4v4.9l-4.0 2.4l-4.0 -2.4v-4.9zM514.7 330.6l4.0 2.4v4.9l-4.0 2.4l-4.0 -2.4v-4.9zM525.6 330.6l4.0 2.4v4.9l-4.0 2.4l-4.0 -2.4v-4.9zM536.4 330.6l4.0 2.4v4.9l-4.0 2.4l-4.0 -2.4v-4.9zM547.2 330.6l4.0 2.4v4.9l-4.0 2.4l-4.0 -2.4v-4.9zM558.1 330.6l4.0 2.4v4.9l-4.0 2.4l-4.0 -2.4v-4.9zM568.9 330.6l4.0 2.4v4.9l-4.0 2.4l-4.0 -2.4v-4.9zM579.8 330.6l4.0 2.4v4.9l-4.0 2.4l-4.0 -2.4v-4.9zM590.6 330.6l4.0 2.4v4.9l-4.0 2.4l-4.0 -2.4v-4.9zM476.8 320.5l4.0 2.4v4.9l-4.0 2.4l-4.0 -2.4v-4.9zM487.6 320.5l4.0 2.4v4.9l-4.0 2.4l-4.0 -2.4v-4.9zM498.5 320.5l4.0 2.4v4.9l-4.0 2.4l-4.0 -2.4v-4.9zM509.3 320.5l4.0 2.4v4.9l-4.0 2.4l-4.0 -2.4v-4.9zM520.1 320.5l4.0 2.4v4.9l-4.0 2.4l-4.0 -2.4v-4.9zM531.0 320.5l4.0 2.4v4.9l-4.0 2.4l-4.0 -2.4v-4.9zM541.8 320.5l4.0 2.4v4.9l-4.0 2.4l-4.0 -2.4v-4.9zM552.7 320.5l4.0 2.4v4.9l-4.0 2.4l-4.0 -2.4v-4.9zM563.5 320.5l4.0 2.4v4.9l-4.0 2.4l-4.0 -2.4v-4.9zM574.3 320.5l4.0 2.4v4.9l-4.0 2.4l-4.0 -2.4v-4.9zM585.2 320.5l4.0 2.4v4.9l-4.0 2.4l-4.0 -2.4v-4.9zM482.2 310.5l4.0 2.4v4.9l-4.0 2.4l-4.0 -2.4v-4.9zM493.0 310.5l4.0 2.4v4.9l-4.0 2.4l-4.0 -2.4v-4.9zM503.9 310.5l4.0 2.4v4.9l-4.0 2.4l-4.0 -2.4v-4.9zM514.7 310.5l4.0 2.4v4.9l-4.0 2.4l-4.0 -2.4v-4.9zM525.6 310.5l4.0 2.4v4.9l-4.0 2.4l-4.0 -2.4v-4.9zM536.4 310.5l4.0 2.4v4.9l-4.0 2.4l-4.0 -2.4v-4.9zM547.2 310.5l4.0 2.4v4.9l-4.0 2.4l-4.0 -2.4v-4.9zM558.1 310.5l4.0 2.4v4.9l-4.0 2.4l-4.0 -2.4v-4.9zM568.9 310.5l4.0 2.4v4.9l-4.0 2.4l-4.0 -2.4v-4.9zM579.8 310.5l4.0 2.4v4.9l-4.0 2.4l-4.0 -2.4v-4.9zM590.6 310.5l4.0 2.4v4.9l-4.0 2.4l-4.0 -2.4v-4.9zM487.6 300.4l4.0 2.4v4.9l-4.0 2.4l-4.0 -2.4v-4.9zM498.5 300.4l4.0 2.4v4.9l-4.0 2.4l-4.0 -2.4v-4.9zM509.3 300.4l4.0 2.4v4.9l-4.0 2.4l-4.0 -2.4v-4.9zM520.1 300.4l4.0 2.4v4.9l-4.0 2.4l-4.0 -2.4v-4.9zM531.0 300.4l4.0 2.4v4.9l-4.0 2.4l-4.0 -2.4v-4.9zM541.8 300.4l4.0 2.4v4.9l-4.0 2.4l-4.0 -2.4v-4.9zM552.7 300.4l4.0 2.4v4.9l-4.0 2.4l-4.0 -2.4v-4.9zM563.5 300.4l4.0 2.4v4.9l-4.0 2.4l-4.0 -2.4v-4.9zM574.3 300.4l4.0 2.4v4.9l-4.0 2.4l-4.0 -2.4v-4.9zM585.2 300.4l4.0 2.4v4.9l-4.0 2.4l-4.0 -2.4v-4.9zM493.0 290.4l4.0 2.4v4.9l-4.0 2.4l-4.0 -2.4v-4.9zM503.9 290.4l4.0 2.4v4.9l-4.0 2.4l-4.0 -2.4v-4.9zM514.7 290.4l4.0 2.4v4.9l-4.0 2.4l-4.0 -2.4v-4.9zM525.6 290.4l4.0 2.4v4.9l-4.0 2.4l-4.0 -2.4v-4.9zM536.4 290.4l4.0 2.4v4.9l-4.0 2.4l-4.0 -2.4v-4.9zM547.2 290.4l4.0 2.4v4.9l-4.0 2.4l-4.0 -2.4v-4.9zM558.1 290.4l4.0 2.4v4.9l-4.0 2.4l-4.0 -2.4v-4.9zM568.9 290.4l4.0 2.4v4.9l-4.0 2.4l-4.0 -2.4v-4.9zM579.8 290.4l4.0 2.4v4.9l-4.0 2.4l-4.0 -2.4v-4.9zM498.5 280.3l4.0 2.4v4.9l-4.0 2.4l-4.0 -2.4v-4.9zM509.3 280.3l4.0 2.4v4.9l-4.0 2.4l-4.0 -2.4v-4.9zM520.1 280.3l4.0 2.4v4.9l-4.0 2.4l-4.0 -2.4v-4.9zM531.0 280.3l4.0 2.4v4.9l-4.0 2.4l-4.0 -2.4v-4.9zM541.8 280.3l4.0 2.4v4.9l-4.0 2.4l-4.0 -2.4v-4.9zM552.7 280.3l4.0 2.4v4.9l-4.0 2.4l-4.0 -2.4v-4.9zM563.5 280.3l4.0 2.4v4.9l-4.0 2.4l-4.0 -2.4v-4.9zM574.3 280.3l4.0 2.4v4.9l-4.0 2.4l-4.0 -2.4v-4.9zM585.2 280.3l4.0 2.4v4.9l-4.0 2.4l-4.0 -2.4v-4.9zM503.9 270.3l4.0 2.4v4.9l-4.0 2.4l-4.0 -2.4v-4.9zM514.7 270.3l4.0 2.4v4.9l-4.0 2.4l-4.0 -2.4v-4.9zM525.6 270.3l4.0 2.4v4.9l-4.0 2.4l-4.0 -2.4v-4.9zM536.4 270.3l4.0 2.4v4.9l-4.0 2.4l-4.0 -2.4v-4.9zM547.2 270.3l4.0 2.4v4.9l-4.0 2.4l-4.0 -2.4v-4.9zM558.1 270.3l4.0 2.4v4.9l-4.0 2.4l-4.0 -2.4v-4.9zM568.9 270.3l4.0 2.4v4.9l-4.0 2.4l-4.0 -2.4v-4.9zM579.8 270.3l4.0 2.4v4.9l-4.0 2.4l-4.0 -2.4v-4.9zM509.3 260.2l4.0 2.4v4.9l-4.0 2.4l-4.0 -2.4v-4.9zM520.1 260.2l4.0 2.4v4.9l-4.0 2.4l-4.0 -2.4v-4.9zM531.0 260.2l4.0 2.4v4.9l-4.0 2.4l-4.0 -2.4v-4.9zM541.8 260.2l4.0 2.4v4.9l-4.0 2.4l-4.0 -2.4v-4.9zM552.7 260.2l4.0 2.4v4.9l-4.0 2.4l-4.0 -2.4v-4.9zM563.5 260.2l4.0 2.4v4.9l-4.0 2.4l-4.0 -2.4v-4.9zM574.3 260.2l4.0 2.4v4.9l-4.0 2.4l-4.0 -2.4v-4.9zM585.2 260.2l4.0 2.4v4.9l-4.0 2.4l-4.0 -2.4v-4.9zM514.7 250.2l4.0 2.4v4.9l-4.0 2.4l-4.0 -2.4v-4.9zM525.6 250.2l4.0 2.4v4.9l-4.0 2.4l-4.0 -2.4v-4.9zM536.4 250.2l4.0 2.4v4.9l-4.0 2.4l-4.0 -2.4v-4.9zM547.2 250.2l4.0 2.4v4.9l-4.0 2.4l-4.0 -2.4v-4.9zM558.1 250.2l4.0 2.4v4.9l-4.0 2.4l-4.0 -2.4v-4.9zM568.9 250.2l4.0 2.4v4.9l-4.0 2.4l-4.0 -2.4v-4.9zM579.8 250.2l4.0 2.4v4.9l-4.0 2.4l-4.0 -2.4v-4.9zM520.1 240.1l4.0 2.4v4.9l-4.0 2.4l-4.0 -2.4v-4.9zM531.0 240.1l4.0 2.4v4.9l-4.0 2.4l-4.0 -2.4v-4.9zM541.8 240.1l4.0 2.4v4.9l-4.0 2.4l-4.0 -2.4v-4.9zM552.7 240.1l4.0 2.4v4.9l-4.0 2.4l-4.0 -2.4v-4.9zM563.5 240.1l4.0 2.4v4.9l-4.0 2.4l-4.0 -2.4v-4.9zM574.3 240.1l4.0 2.4v4.9l-4.0 2.4l-4.0 -2.4v-4.9zM525.6 230.1l4.0 2.4v4.9l-4.0 2.4l-4.0 -2.4v-4.9zM536.4 230.1l4.0 2.4v4.9l-4.0 2.4l-4.0 -2.4v-4.9zM547.2 230.1l4.0 2.4v4.9l-4.0 2.4l-4.0 -2.4v-4.9zM558.1 230.1l4.0 2.4v4.9l-4.0 2.4l-4.0 -2.4v-4.9zM568.9 230.1l4.0 2.4v4.9l-4.0 2.4l-4.0 -2.4v-4.9zM579.8 230.1l4.0 2.4v4.9l-4.0 2.4l-4.0 -2.4v-4.9zM531.0 220.0l4.0 2.4v4.9l-4.0 2.4l-4.0 -2.4v-4.9zM541.8 220.0l4.0 2.4v4.9l-4.0 2.4l-4.0 -2.4v-4.9zM552.7 220.0l4.0 2.4v4.9l-4.0 2.4l-4.0 -2.4v-4.9zM563.5 220.0l4.0 2.4v4.9l-4.0 2.4l-4.0 -2.4v-4.9zM574.3 220.0l4.0 2.4v4.9l-4.0 2.4l-4.0 -2.4v-4.9zM536.4 210.0l4.0 2.4v4.9l-4.0 2.4l-4.0 -2.4v-4.9zM547.2 210.0l4.0 2.4v4.9l-4.0 2.4l-4.0 -2.4v-4.9zM558.1 210.0l4.0 2.4v4.9l-4.0 2.4l-4.0 -2.4v-4.9zM568.9 210.0l4.0 2.4v4.9l-4.0 2.4l-4.0 -2.4v-4.9zM579.8 210.0l4.0 2.4v4.9l-4.0 2.4l-4.0 -2.4v-4.9zM541.8 199.9l4.0 2.4v4.9l-4.0 2.4l-4.0 -2.4v-4.9zM552.7 199.9l4.0 2.4v4.9l-4.0 2.4l-4.0 -2.4v-4.9zM563.5 199.9l4.0 2.4v4.9l-4.0 2.4l-4.0 -2.4v-4.9zM574.3 199.9l4.0 2.4v4.9l-4.0 2.4l-4.0 -2.4v-4.9zM547.2 189.9l4.0 2.4v4.9l-4.0 2.4l-4.0 -2.4v-4.9zM558.1 189.9l4.0 2.4v4.9l-4.0 2.4l-4.0 -2.4v-4.9zM568.9 189.9l4.0 2.4v4.9l-4.0 2.4l-4.0 -2.4v-4.9zM552.7 179.8l4.0 2.4v4.9l-4.0 2.4l-4.0 -2.4v-4.9zM563.5 179.8l4.0 2.4v4.9l-4.0 2.4l-4.0 -2.4v-4.9zM574.3 179.8l4.0 2.4v4.9l-4.0 2.4l-4.0 -2.4v-4.9zM558.1 169.8l4.0 2.4v4.9l-4.0 2.4l-4.0 -2.4v-4.9zM568.9 169.8l4.0 2.4v4.9l-4.0 2.4l-4.0 -2.4v-4.9zM563.5 159.7l4.0 2.4v4.9l-4.0 2.4l-4.0 -2.4v-4.9zM574.3 159.7l4.0 2.4v4.9l-4.0 2.4l-4.0 -2.4v-4.9zM568.9 149.7l4.0 2.4v4.9l-4.0 2.4l-4.0 -2.4v-4.9z"/>
<path fill="#d7666a" d="M596.0 360.7l4.0 2.4v4.9l-4.0 2.4l-4.0 -2.4v-4.9zM606.9 360.7l4.0 2.4v4.9l-4.0 2.4l-4.0 -2.4v-4.9zM617.7 360.7l4.0 2.4v4.9l-4.0 2.4l-4.0 -2.4v-4.9zM628.5 360.7l4.0 2.4v4.9l-4.0 2.4l-4.0 -2.4v-4.9zM639.4 360.7l4.0 2.4v4.9l-4.0 2.4l-4.0 -2.4v-4.9zM601.4 350.7l4.0 2.4v4.9l-4.0 2.4l-4.0 -2.4v-4.9zM612.3 350.7l4.0 2.4v4.9l-4.0 2.4l-4.0 -2.4v-4.9zM623.1 350.7l4.0 2.4v4.9l-4.0 2.4l-4.0 -2.4v-4.9zM634.0 350.7l4.0 2.4v4.9l-4.0 2.4l-4.0 -2.4v-4.9zM644.8 350.7l4.0 2.4v4.9l-4.0 2.4l-4.0 -2.4v-4.9zM596.0 340.6l4.0 2.4v4.9l-4.0 2.4l-4.0 -2.4v-4.9zM606.9 340.6l4.0 2.4v4.9l-4.0 2.4l-4.0 -2.4v-4.9zM617.7 340.6l4.0 2.4v4.9l-4.0 2.4l-4.0 -2.4v-4.9zM628.5 340.6l4.0 2.4v4.9l-4.0 2.4l-4.0 -2.4v-4.9zM639.4 340.6l4.0 2.4v4.9l-4.0 2.4l-4.0 -2.4v-4.9zM650.2 340.6l4.0 2.4v4.9l-4.0 2.4l-4.0 -2.4v-4.9zM601.4 330.6l4.0 2.4v4.9l-4.0 2.4l-4.0 -2.4v-4.9zM612.3 330.6l4.0 2.4v4.9l-4.0 2.4l-4.0 -2.4v-4.9zM623.1 330.6l4.0 2.4v4.9l-4.0 2.4l-4.0 -2.4v-4.9zM634.0 330.6l4.0 2.4v4.9l-4.0 2.4l-4.0 -2.4v-4.9zM644.8 330.6l4.0 2.4v4.9l-4.0 2.4l-4.0 -2.4v-4.9zM655.6 330.6l4.0 2.4v4.9l-4.0 2.4l-4.0 -2.4v-4.9zM596.0 320.5l4.0 2.4v4.9l-4.0 2.4l-4.0 -2.4v-4.9zM606.9 320.5l4.0 2.4v4.9l-4.0 2.4l-4.0 -2.4v-4.9zM617.7 320.5l4.0 2.4v4.9l-4.0 2.4l-4.0 -2.4v-4.9zM628.5 320.5l4.0 2.4v4.9l-4.0 2.4l-4.0 -2.4v-4.9zM639.4 320.5l4.0 2.4v4.9l-4.0 2.4l-4.0 -2.4v-4.9zM650.2 320.5l4.0 2.4v4.9l-4.0 2.4l-4.0 -2.4v-4.9zM661.1 320.5l4.0 2.4v4.9l-4.0 2.4l-4.0 -2.4v-4.9zM601.4 310.5l4.0 2.4v4.9l-4.0 2.4l-4.0 -2.4v-4.9zM612.3 310.5l4.0 2.4v4.9l-4.0 2.4l-4.0 -2.4v-4.9zM623.1 310.5l4.0 2.4v4.9l-4.0 2.4l-4.0 -2.4v-4.9zM634.0 310.5l4.0 2.4v4.9l-4.0 2.4l-4.0 -2.4v-4.9zM644.8 310.5l4.0 2.4v4.9l-4.0 2.4l-4.0 -2.4v-4.9zM655.6 310.5l4.0 2.4v4.9l-4.0 2.4l-4.0 -2.4v-4.9zM666.5 310.5l4.0 2.4v4.9l-4.0 2.4l-4.0 -2.4v-4.9zM596.0 300.4l4.0 2.4v4.9l-4.0 2.4l-4.0 -2.4v-4.9zM606.9 300.4l4.0 2.4v4.9l-4.0 2.4l-4.0 -2.4v-4.9zM617.7 300.4l4.0 2.4v4.9l-4.0 2.4l-4.0 -2.4v-4.9zM628.5 300.4l4.0 2.4v4.9l-4.0 2.4l-4.0 -2.4v-4.9zM639.4 300.4l4.0 2.4v4.9l-4.0 2.4l-4.0 -2.4v-4.9zM650.2 300.4l4.0 2.4v4.9l-4.0 2.4l-4.0 -2.4v-4.9zM661.1 300.4l4.0 2.4v4.9l-4.0 2.4l-4.0 -2.4v-4.9zM671.9 300.4l4.0 2.4v4.9l-4.0 2.4l-4.0 -2.4v-4.9zM590.6 290.4l4.0 2.4v4.9l-4.0 2.4l-4.0 -2.4v-4.9zM601.4 290.4l4.0 2.4v4.9l-4.0 2.4l-4.0 -2.4v-4.9zM612.3 290.4l4.0 2.4v4.9l-4.0 2.4l-4.0 -2.4v-4.9zM623.1 290.4l4.0 2.4v4.9l-4.0 2.4l-4.0 -2.4v-4.9zM634.0 290.4l4.0 2.4v4.9l-4.0 2.4l-4.0 -2.4v-4.9zM644.8 290.4l4.0 2.4v4.9l-4.0 2.4l-4.0 -2.4v-4.9zM655.6 290.4l4.0 2.4v4.9l-4.0 2.4l-4.0 -2.4v-4.9zM666.5 290.4l4.0 2.4v4.9l-4.0 2.4l-4.0 -2.4v-4.9zM677.3 290.4l4.0 2.4v4.9l-4.0 2.4l-4.0 -2.4v-4.9zM596.0 280.3l4.0 2.4v4.9l-4.0 2.4l-4.0 -2.4v-4.9zM606.9 280.3l4.0 2.4v4.9l-4.0 2.4l-4.0 -2.4v-4.9zM617.7 280.3l4.0 2.4v4.9l-4.0 2.4l-4.0 -2.4v-4.9zM628.5 280.3l4.0 2.4v4.9l-4.0 2.4l-4.0 -2.4v-4.9zM639.4 280.3l4.0 2.4v4.9l-4.0 2.4l-4.0 -2.4v-4.9zM650.2 280.3l4.0 2.4v4.9l-4.0 2.4l-4.0 -2.4v-4.9zM661.1 280.3l4.0 2.4v4.9l-4.0 2.4l-4.0 -2.4v-4.9zM671.9 280.3l4.0 2.4v4.9l-4.0 2.4l-4.0 -2.4v-4.9zM682.7 280.3l4.0 2.4v4.9l-4.0 2.4l-4.0 -2.4v-4.9zM590.6 270.3l4.0 2.4v4.9l-4.0 2.4l-4.0 -2.4v-4.9zM601.4 270.3l4.0 2.4v4.9l-4.0 2.4l-4.0 -2.4v-4.9zM612.3 270.3l4.0 2.4v4.9l-4.0 2.4l-4.0 -2.4v-4.9zM623.1 270.3l4.0 2.4v4.9l-4.0 2.4l-4.0 -2.4v-4.9zM634.0 270.3l4.0 2.4v4.9l-4.0 2.4l-4.0 -2.4v-4.9zM644.8 270.3l4.0 2.4v4.9l-4.0 2.4l-4.0 -2.4v-4.9zM655.6 270.3l4.0 2.4v4.9l-4.0 2.4l-4.0 -2.4v-4.9zM666.5 270.3l4.0 2.4v4.9l-4.0 2.4l-4.0 -2.4v-4.9zM677.3 270.3l4.0 2.4v4.9l-4.0 2.4l-4.0 -2.4v-4.9zM688.2 270.3l4.0 2.4v4.9l-4.0 2.4l-4.0 -2.4v-4.9zM596.0 260.2l4.0 2.4v4.9l-4.0 2.4l-4.0 -2.4v-4.9zM606.9 260.2l4.0 2.4v4.9l-4.0 2.4l-4.0 -2.4v-4.9zM617.7 260.2l4.0 2.4v4.9l-4.0 2.4l-4.0 -2.4v-4.9zM628.5 260.2l4.0 2.4v4.9l-4.0 2.4l-4.0 -2.4v-4.9zM639.4 260.2l4.0 2.4v4.9l-4.0 2.4l-4.0 -2.4v-4.9zM650.2 260.2l4.0 2.4v4.9l-4.0 2.4l-4.0 -2.4v-4.9zM661.1 260.2l4.0 2.4v4.9l-4.0 2.4l-4.0 -2.4v-4.9zM671.9 260.2l4.0 2.4v4.9l-4.0 2.4l-4.0 -2.4v-4.9zM682.7 260.2l4.0 2.4v4.9l-4.0 2.4l-4.0 -2.4v-4.9zM693.6 260.2l4.0 2.4v4.9l-4.0 2.4l-4.0 -2.4v-4.9zM590.6 250.2l4.0 2.4v4.9l-4.0 2.4l-4.0 -2.4v-4.9zM601.4 250.2l4.0 2.4v4.9l-4.0 2.4l-4.0 -2.4v-4.9zM612.3 250.2l4.0 2.4v4.9l-4.0 2.4l-4.0 -2.4v-4.9zM623.1 250.2l4.0 2.4v4.9l-4.0 2.4l-4.0 -2.4v-4.9zM634.0 250.2l4.0 2.4v4.9l-4.0 2.4l-4.0 -2.4v-4.9zM644.8 250.2l4.0 2.4v4.9l-4.0 2.4l-4.0 -2.4v-4.9zM655.6 250.2l4.0 2.4v4.9l-4.0 2.4l-4.0 -2.4v-4.9zM666.5 250.2l4.0 2.4v4.9l-4.0 2.4l-4.0 -2.4v-4.9zM677.3 250.2l4.0 2.4v4.9l-4.0 2.4l-4.0 -2.4v-4.9zM688.2 250.2l4.0 2.4v4.9l-4.0 2.4l-4.0 -2.4v-4.9zM699.0 250.2l4.0 2.4v4.9l-4.0 2.4l-4.0 -2.4v-4.9zM585.2 240.1l4.0 2.4v4.9l-4.0 2.4l-4.0 -2.4v-4.9zM596.0 240.1l4.0 2.4v4.9l-4.0 2.4l-4.0 -2.4v-4.9zM606.9 240.1l4.0 2.4v4.9l-4.0 2.4l-4.0 -2.4v-4.9zM617.7 240.1l4.0 2.4v4.9l-4.0 2.4l-4.0 -2.4v-4.9zM628.5 240.1l4.0 2.4v4.9l-4.0 2.4l-4.0 -2.4v-4.9zM639.4 240.1l4.0 2.4v4.9l-4.0 2.4l-4.0 -2.4v-4.9zM650.2 240.1l4.0 2.4v4.9l-4.0 2.4l-4.0 -2.4v-4.9zM661.1 240.1l4.0 2.4v4.9l-4.0 2.4l-4.0 -2.4v-4.9zM671.9 240.1l4.0 2.4v4.9l-4.0 2.4l-4.0 -2.4v-4.9zM682.7 240.1l4.0 2.4v4.9l-4.0 2.4l-4.0 -2.4v-4.9zM693.6 240.1l4.0 2.4v4.9l-4.0 2.4l-4.0 -2.4v-4.9zM704.4 240.1l4.0 2.4v4.9l-4.0 2.4l-4.0 -2.4v-4.9zM590.6 230.1l4.0 2.4v4.9l-4.0 2.4l-4.0 -2.4v-4.9zM601.4 230.1l4.0 2.4v4.9l-4.0 2.4l-4.0 -2.4v-4.9zM612.3 230.1l4.0 2.4v4.9l-4.0 2.4l-4.0 -2.4v-4.9zM623.1 230.1l4.0 2.4v4.9l-4.0 2.4l-4.0 -2.4v-4.9zM634.0 230.1l4.0 2.4v4.9l-4.0 2.4l-4.0 -2.4v-4.9zM644.8 230.1l4.0 2.4v4.9l-4.0 2.4l-4.0 -2.4v-4.9zM655.6 230.1l4.0 2.4v4.9l-4.0 2.4l-4.0 -2.4v-4.9zM666.5 230.1l4.0 2.4v4.9l-4.0 2.4l-4.0 -2.4v-4.9zM677.3 230.1l4.0 2.4v4.9l-4.0 2.4l-4.0 -2.4v-4.9zM688.2 230.1l4.0 2.4v4.9l-4.0 2.4l-4.0 -2.4v-4.9zM699.0 230.1l4.0 2.4v4.9l-4.0 2.4l-4.0 -2.4v-4.9zM709.8 230.1l4.0 2.4v4.9l-4.0 2.4l-4.0 -2.4v-4.9zM585.2 220.0l4.0 2.4v4.9l-4.0 2.4l-4.0 -2.4v-4.9zM596.0 220.0l4.0 2.4v4.9l-4.0 2.4l-4.0 -2.4v-4.9zM606.9 220.0l4.0 2.4v4.9l-4.0 2.4l-4.0 -2.4v-4.9zM617.7 220.0l4.0 2.4v4.9l-4.0 2.4l-4.0 -2.4v-4.9zM628.5 220.0l4.0 2.4v4.9l-4.0 2.4l-4.0 -2.4v-4.9zM639.4 220.0l4.0 2.4v4.9l-4.0 2.4l-4.0 -2.4v-4.9zM650.2 220.0l4.0 2.4v4.9l-4.0 2.4l-4.0 -2.4v-4.9zM661.1 220.0l4.0 2.4v4.9l-4.0 2.4l-4.0 -2.4v-4.9zM671.9 220.0l4.0 2.4v4.9l-4.0 2.4l-4.0 -2.4v-4.9zM682.7 220.0l4.0 2.4v4.9l-4.0 2.4l-4.0 -2.4v-4.9zM693.6 220.0l4.0 2.4v4.9l-4.0 2.4l-4.0 -2.4v-4.9zM704.4 220.0l4.0 2.4v4.9l-4.0 2.4l-4.0 -2.4v-4.9zM590.6 210.0l4.0 2.4v4.9l-4.0 2.4l-4.0 -2.4v-4.9zM601.4 210.0l4.0 2.4v4.9l-4.0 2.4l-4.0 -2.4v-4.9zM612.3 210.0l4.0 2.4v4.9l-4.0 2.4l-4.0 -2.4v-4.9zM623.1 210.0l4.0 2.4v4.9l-4.0 2.4l-4.0 -2.4v-4.9zM634.0 210.0l4.0 2.4v4.9l-4.0 2.4l-4.0 -2.4v-4.9zM644.8 210.0l4.0 2.4v4.9l-4.0 2.4l-4.0 -2.4v-4.9zM655.6 210.0l4.0 2.4v4.9l-4.0 2.4l-4.0 -2.4v-4.9zM666.5 210.0l4.0 2.4v4.9l-4.0 2.4l-4.0 -2.4v-4.9zM677.3 210.0l4.0 2.4v4.9l-4.0 2.4l-4.0 -2.4v-4.9zM688.2 210.0l4.0 2.4v4.9l-4.0 2.4l-4.0 -2.4v-4.9zM699.0 210.0l4.0 2.4v4.9l-4.0 2.4l-4.0 -2.4v-4.9zM585.2 199.9l4.0 2.4v4.9l-4.0 2.4l-4.0 -2.4v-4.9zM596.0 199.9l4.0 2.4v4.9l-4.0 2.4l-4.0 -2.4v-4.9zM606.9 199.9l4.0 2.4v4.9l-4.0 2.4l-4.0 -2.4v-4.9zM617.7 199.9l4.0 2.4v4.9l-4.0 2.4l-4.0 -2.4v-4.9zM628.5 199.9l4.0 2.4v4.9l-4.0 2.4l-4.0 -2.4v-4.9zM639.4 199.9l4.0 2.4v4.9l-4.0 2.4l-4.0 -2.4v-4.9zM650.2 199.9l4.0 2.4v4.9l-4.0 2.4l-4.0 -2.4v-4.9zM661.1 199.9l4.0 2.4v4.9l-4.0 2.4l-4.0 -2.4v-4.9zM671.9 199.9l4.0 2.4v4.9l-4.0 2.4l-4.0 -2.4v-4.9zM682.7 199.9l4.0 2.4v4.9l-4.0 2.4l-4.0 -2.4v-4.9zM693.6 199.9l4.0 2.4v4.9l-4.0 2.4l-4.0 -2.4v-4.9zM579.8 189.9l4.0 2.4v4.9l-4.0 2.4l-4.0 -2.4v-4.9zM590.6 189.9l4.0 2.4v4.9l-4.0 2.4l-4.0 -2.4v-4.9zM601.4 189.9l4.0 2.4v4.9l-4.0 2.4l-4.0 -2.4v-4.9zM612.3 189.9l4.0 2.4v4.9l-4.0 2.4l-4.0 -2.4v-4.9zM623.1 189.9l4.0 2.4v4.9l-4.0 2.4l-4.0 -2.4v-4.9zM634.0 189.9l4.0 2.4v4.9l-4.0 2.4l-4.0 -2.4v-4.9zM644.8 189.9l4.0 2.4v4.9l-4.0 2.4l-4.0 -2.4v-4.9zM655.6 189.9l4.0 2.4v4.9l-4.0 2.4l-4.0 -2.4v-4.9zM666.5 189.9l4.0 2.4v4.9l-4.0 2.4l-4.0 -2.4v-4.9zM677.3 189.9l4.0 2.4v4.9l-4.0 2.4l-4.0 -2.4v-4.9zM688.2 189.9l4.0 2.4v4.9l-4.0 2.4l-4.0 -2.4v-4.9zM585.2 179.8l4.0 2.4v4.9l-4.0 2.4l-4.0 -2.4v-4.9zM596.0 179.8l4.0 2.4v4.9l-4.0 2.4l-4.0 -2.4v-4.9zM606.9 179.8l4.0 2.4v4.9l-4.0 2.4l-4.0 -2.4v-4.9zM617.7 179.8l4.0 2.4v4.9l-4.0 2.4l-4.0 -2.4v-4.9zM628.5 179.8l4.0 2.4v4.9l-4.0 2.4l-4.0 -2.4v-4.9zM639.4 179.8l4.0 2.4v4.9l-4.0 2.4l-4.0 -2.4v-4.9zM650.2 179.8l4.0 2.4v4.9l-4.0 2.4l-4.0 -2.4v-4.9zM661.1 179.8l4.0 2.4v4.9l-4.0 2.4l-4.0 -2.4v-4.9zM671.9 179.8l4.0 2.4v4.9l-4.0 2.4l-4.0 -2.4v-4.9zM682.7 179.8l4.0 2.4v4.9l-4.0 2.4l-4.0 -2.4v-4.9zM579.8 169.8l4.0 2.4v4.9l-4.0 2.4l-4.0 -2.4v-4.9zM590.6 169.8l4.0 2.4v4.9l-4.0 2.4l-4.0 -2.4v-4.9zM601.4 169.8l4.0 2.4v4.9l-4.0 2.4l-4.0 -2.4v-4.9zM612.3 169.8l4.0 2.4v4.9l-4.0 2.4l-4.0 -2.4v-4.9zM623.1 169.8l4.0 2.4v4.9l-4.0 2.4l-4.0 -2.4v-4.9zM634.0 169.8l4.0 2.4v4.9l-4.0 2.4l-4.0 -2.4v-4.9zM644.8 169.8l4.0 2.4v4.9l-4.0 2.4l-4.0 -2.4v-4.9zM655.6 169.8l4.0 2.4v4.9l-4.0 2.4l-4.0 -2.4v-4.9zM666.5 169.8l4.0 2.4v4.9l-4.0 2.4l-4.0 -2.4v-4.9zM677.3 169.8l4.0 2.4v4.9l-4.0 2.4l-4.0 -2.4v-4.9zM585.2 159.7l4.0 2.4v4.9l-4.0 2.4l-4.0 -2.4v-4.9zM596.0 159.7l4.0 2.4v4.9l-4.0 2.4l-4.0 -2.4v-4.9zM606.9 159.7l4.0 2.4v4.9l-4.0 2.4l-4.0 -2.4v-4.9zM617.7 159.7l4.0 2.4v4.9l-4.0 2.4l-4.0 -2.4v-4.9zM628.5 159.7l4.0 2.4v4.9l-4.0 2.4l-4.0 -2.4v-4.9zM639.4 159.7l4.0 2.4v4.9l-4.0 2.4l-4.0 -2.4v-4.9zM650.2 159.7l4.0 2.4v4.9l-4.0 2.4l-4.0 -2.4v-4.9zM661.1 159.7l4.0 2.4v4.9l-4.0 2.4l-4.0 -2.4v-4.9zM671.9 159.7l4.0 2.4v4.9l-4.0 2.4l-4.0 -2.4v-4.9zM579.8 149.7l4.0 2.4v4.9l-4.0 2.4l-4.0 -2.4v-4.9zM590.6 149.7l4.0 2.4v4.9l-4.0 2.4l-4.0 -2.4v-4.9zM601.4 149.7l4.0 2.4v4.9l-4.0 2.4l-4.0 -2.4v-4.9zM612.3 149.7l4.0 2.4v4.9l-4.0 2.4l-4.0 -2.4v-4.9zM623.1 149.7l4.0 2.4v4.9l-4.0 2.4l-4.0 -2.4v-4.9zM634.0 149.7l4.0 2.4v4.9l-4.0 2.4l-4.0 -2.4v-4.9zM644.8 149.7l4.0 2.4v4.9l-4.0 2.4l-4.0 -2.4v-4.9zM655.6 149.7l4.0 2.4v4.9l-4.0 2.4l-4.0 -2.4v-4.9zM666.5 149.7l4.0 2.4v4.9l-4.0 2.4l-4.0 -2.4v-4.9zM574.3 139.6l4.0 2.4v4.9l-4.0 2.4l-4.0 -2.4v-4.9zM585.2 139.6l4.0 2.4v4.9l-4.0 2.4l-4.0 -2.4v-4.9zM596.0 139.6l4.0 2.4v4.9l-4.0 2.4l-4.0 -2.4v-4.9zM606.9 139.6l4.0 2.4v4.9l-4.0 2.4l-4.0 -2.4v-4.9zM617.7 139.6l4.0 2.4v4.9l-4.0 2.4l-4.0 -2.4v-4.9zM628.5 139.6l4.0 2.4v4.9l-4.0 2.4l-4.0 -2.4v-4.9zM639.4 139.6l4.0 2.4v4.9l-4.0 2.4l-4.0 -2.4v-4.9zM650.2 139.6l4.0 2.4v4.9l-4.0 2.4l-4.0 -2.4v-4.9zM579.8 129.6l4.0 2.4v4.9l-4.0 2.4l-4.0 -2.4v-4.9zM590.6 129.6l4.0 2.4v4.9l-4.0 2.4l-4.0 -2.4v-4.9zM601.4 129.6l4.0 2.4v4.9l-4.0 2.4l-4.0 -2.4v-4.9z"/>
<path fill="#9282b2" d="M650.2 360.7l4.0 2.4v4.9l-4.0 2.4l-4.0 -2.4v-4.9zM661.1 360.7l4.0 2.4v4.9l-4.0 2.4l-4.0 -2.4v-4.9zM671.9 360.7l4.0 2.4v4.9l-4.0 2.4l-4.0 -2.4v-4.9zM682.7 360.7l4.0 2.4v4.9l-4.0 2.4l-4.0 -2.4v-4.9zM693.6 360.7l4.0 2.4v4.9l-4.0 2.4l-4.0 -2.4v-4.9zM704.4 360.7l4.0 2.4v4.9l-4.0 2.4l-4.0 -2.4v-4.9zM715.3 360.7l4.0 2.4v4.9l-4.0 2.4l-4.0 -2.4v-4.9zM726.1 360.7l4.0 2.4v4.9l-4.0 2.4l-4.0 -2.4v-4.9zM736.9 360.7l4.0 2.4v4.9l-4.0 2.4l-4.0 -2.4v-4.9zM747.8 360.7l4.0 2.4v4.9l-4.0 2.4l-4.0 -2.4v-4.9zM758.6 360.7l4.0 2.4v4.9l-4.0 2.4l-4.0 -2.4v-4.9zM769.5 360.7l4.0 2.4v4.9l-4.0 2.4l-4.0 -2.4v-4.9zM780.3 360.7l4.0 2.4v4.9l-4.0 2.4l-4.0 -2.4v-4.9zM655.6 350.7l4.0 2.4v4.9l-4.0 2.4l-4.0 -2.4v-4.9zM666.5 350.7l4.0 2.4v4.9l-4.0 2.4l-4.0 -2.4v-4.9zM677.3 350.7l4.0 2.4v4.9l-4.0 2.4l-4.0 -2.4v-4.9zM688.2 350.7l4.0 2.4v4.9l-4.0 2.4l-4.0 -2.4v-4.9zM699.0 350.7l4.0 2.4v4.9l-4.0 2.4l-4.0 -2.4v-4.9zM709.8 350.7l4.0 2.4v4.9l-4.0 2.4l-4.0 -2.4v-4.9zM720.7 350.7l4.0 2.4v4.9l-4.0 2.4l-4.0 -2.4v-4.9zM731.5 350.7l4.0 2.4v4.9l-4.0 2.4l-4.0 -2.4v-4.9zM742.4 350.7l4.0 2.4v4.9l-4.0 2.4l-4.0 -2.4v-4.9zM753.2 350.7l4.0 2.4v4.9l-4.0 2.4l-4.0 -2.4v-4.9zM764.0 350.7l4.0 2.4v4.9l-4.0 2.4l-4.0 -2.4v-4.9zM774.9 350.7l4.0 2.4v4.9l-4.0 2.4l-4.0 -2.4v-4.9zM661.1 340.6l4.0 2.4v4.9l-4.0 2.4l-4.0 -2.4v-4.9zM671.9 340.6l4.0 2.4v4.9l-4.0 2.4l-4.0 -2.4v-4.9zM682.7 340.6l4.0 2.4v4.9l-4.0 2.4l-4.0 -2.4v-4.9zM693.6 340.6l4.0 2.4v4.9l-4.0 2.4l-4.0 -2.4v-4.9zM704.4 340.6l4.0 2.4v4.9l-4.0 2.4l-4.0 -2.4v-4.9zM715.3 340.6l4.0 2.4v4.9l-4.0 2.4l-4.0 -2.4v-4.9zM726.1 340.6l4.0 2.4v4.9l-4.0 2.4l-4.0 -2.4v-4.9zM736.9 340.6l4.0 2.4v4.9l-4.0 2.4l-4.0 -2.4v-4.9zM747.8 340.6l4.0 2.4v4.9l-4.0 2.4l-4.0 -2.4v-4.9zM758.6 340.6l4.0 2.4v4.9l-4.0 2.4l-4.0 -2.4v-4.9zM769.5 340.6l4.0 2.4v4.9l-4.0 2.4l-4.0 -2.4v-4.9zM666.5 330.6l4.0 2.4v4.9l-4.0 2.4l-4.0 -2.4v-4.9zM677.3 330.6l4.0 2.4v4.9l-4.0 2.4l-4.0 -2.4v-4.9zM688.2 330.6l4.0 2.4v4.9l-4.0 2.4l-4.0 -2.4v-4.9zM699.0 330.6l4.0 2.4v4.9l-4.0 2.4l-4.0 -2.4v-4.9zM709.8 330.6l4.0 2.4v4.9l-4.0 2.4l-4.0 -2.4v-4.9zM720.7 330.6l4.0 2.4v4.9l-4.0 2.4l-4.0 -2.4v-4.9zM731.5 330.6l4.0 2.4v4.9l-4.0 2.4l-4.0 -2.4v-4.9zM742.4 330.6l4.0 2.4v4.9l-4.0 2.4l-4.0 -2.4v-4.9zM753.2 330.6l4.0 2.4v4.9l-4.0 2.4l-4.0 -2.4v-4.9zM764.0 330.6l4.0 2.4v4.9l-4.0 2.4l-4.0 -2.4v-4.9zM671.9 320.5l4.0 2.4v4.9l-4.0 2.4l-4.0 -2.4v-4.9zM682.7 320.5l4.0 2.4v4.9l-4.0 2.4l-4.0 -2.4v-4.9zM693.6 320.5l4.0 2.4v4.9l-4.0 2.4l-4.0 -2.4v-4.9zM704.4 320.5l4.0 2.4v4.9l-4.0 2.4l-4.0 -2.4v-4.9zM715.3 320.5l4.0 2.4v4.9l-4.0 2.4l-4.0 -2.4v-4.9zM726.1 320.5l4.0 2.4v4.9l-4.0 2.4l-4.0 -2.4v-4.9zM736.9 320.5l4.0 2.4v4.9l-4.0 2.4l-4.0 -2.4v-4.9zM747.8 320.5l4.0 2.4v4.9l-4.0 2.4l-4.0 -2.4v-4.9zM758.6 320.5l4.0 2.4v4.9l-4.0 2.4l-4.0 -2.4v-4.9zM677.3 310.5l4.0 2.4v4.9l-4.0 2.4l-4.0 -2.4v-4.9zM688.2 310.5l4.0 2.4v4.9l-4.0 2.4l-4.0 -2.4v-4.9zM699.0 310.5l4.0 2.4v4.9l-4.0 2.4l-4.0 -2.4v-4.9zM709.8 310.5l4.0 2.4v4.9l-4.0 2.4l-4.0 -2.4v-4.9zM720.7 310.5l4.0 2.4v4.9l-4.0 2.4l-4.0 -2.4v-4.9zM731.5 310.5l4.0 2.4v4.9l-4.0 2.4l-4.0 -2.4v-4.9zM742.4 310.5l4.0 2.4v4.9l-4.0 2.4l-4.0 -2.4v-4.9zM753.2 310.5l4.0 2.4v4.9l-4.0 2.4l-4.0 -2.4v-4.9zM682.7 300.4l4.0 2.4v4.9l-4.0 2.4l-4.0 -2.4v-4.9zM693.6 300.4l4.0 2.4v4.9l-4.0 2.4l-4.0 -2.4v-4.9zM704.4 300.4l4.0 2.4v4.9l-4.0 2.4l-4.0 -2.4v-4.9zM715.3 300.4l4.0 2.4v4.9l-4.0 2.4l-4.0 -2.4v-4.9zM726.1 300.4l4.0 2.4v4.9l-4.0 2.4l-4.0 -2.4v-4.9zM736.9 300.4l4.0 2.4v4.9l-4.0 2.4l-4.0 -2.4v-4.9zM747.8 300.4l4.0 2.4v4.9l-4.0 2.4l-4.0 -2.4v-4.9zM688.2 290.4l4.0 2.4v4.9l-4.0 2.4l-4.0 -2.4v-4.9zM699.0 290.4l4.0 2.4v4.9l-4.0 2.4l-4.0 -2.4v-4.9zM709.8 290.4l4.0 2.4v4.9l-4.0 2.4l-4.0 -2.4v-4.9zM720.7 290.4l4.0 2.4v4.9l-4.0 2.4l-4.0 -2.4v-4.9zM731.5 290.4l4.0 2.4v4.9l-4.0 2.4l-4.0 -2.4v-4.9zM742.4 290.4l4.0 2.4v4.9l-4.0 2.4l-4.0 -2.4v-4.9zM693.6 280.3l4.0 2.4v4.9l-4.0 2.4l-4.0 -2.4v-4.9zM704.4 280.3l4.0 2.4v4.9l-4.0 2.4l-4.0 -2.4v-4.9zM715.3 280.3l4.0 2.4v4.9l-4.0 2.4l-4.0 -2.4v-4.9zM726.1 280.3l4.0 2.4v4.9l-4.0 2.4l-4.0 -2.4v-4.9zM736.9 280.3l4.0 2.4v4.9l-4.0 2.4l-4.0 -2.4v-4.9zM699.0 270.3l4.0 2.4v4.9l-4.0 2.4l-4.0 -2.4v-4.9zM709.8 270.3l4.0 2.4v4.9l-4.0 2.4l-4.0 -2.4v-4.9zM720.7 270.3l4.0 2.4v4.9l-4.0 2.4l-4.0 -2.4v-4.9zM731.5 270.3l4.0 2.4v4.9l-4.0 2.4l-4.0 -2.4v-4.9zM704.4 260.2l4.0 2.4v4.9l-4.0 2.4l-4.0 -2.4v-4.9zM715.3 260.2l4.0 2.4v4.9l-4.0 2.4l-4.0 -2.4v-4.9zM726.1 260.2l4.0 2.4v4.9l-4.0 2.4l-4.0 -2.4v-4.9zM709.8 250.2l4.0 2.4v4.9l-4.0 2.4l-4.0 -2.4v-4.9zM720.7 250.2l4.0 2.4v4.9l-4.0 2.4l-4.0 -2.4v-4.9zM715.3 240.1l4.0 2.4v4.9l-4.0 2.4l-4.0 -2.4v-4.9z"/>
</g>
<path d="M455.10 365.60l-3.61 6.69M617.70 64.10l-3.61 -6.69M780.30 365.60h7.60M509.30 365.60l-3.61 6.69M590.60 114.35l-3.61 -6.69M753.20 315.35h7.60M563.50 365.60l-3.61 6.69M563.50 164.60l-3.61 -6.69M726.10 265.10h7.60M617.70 365.60l-3.61 6.69M536.40 214.85l-3.61 -6.69M699.00 214.85h7.60M671.90 365.60l-3.61 6.69M509.30 265.10l-3.61 -6.69M671.90 164.60h7.60M726.10 365.60l-3.61 6.69M482.20 315.35l-3.61 -6.69M644.80 114.35h7.60M780.30 365.60l-3.61 6.69M455.10 365.60l-3.61 -6.69M617.70 64.10h7.60" stroke="#000" stroke-width="1.9" fill="none"/>
<polygon points="455.10,365.60 780.30,365.60 617.70,64.10" fill="none" stroke="#000" stroke-width="2.1" stroke-linejoin="miter"/>
<g class="tl"><text transform="matrix(1.02 0 0 1.04 441.05 387.00)">0</text>
<text transform="matrix(1.02 0 0 1.04 494.97 387.00)">0.5</text>
<polygon points="554.81,387.00 553.20,387.00 553.20,379.12 550.86,379.12 550.86,377.98 552.08,377.80 552.85,377.25 553.41,376.00 554.81,376.00"/>
<polygon points="605.73,387.00 604.12,387.00 604.12,379.12 601.78,379.12 601.78,377.98 603.00,377.80 603.77,377.25 604.33,376.00 605.73,376.00"/><text transform="matrix(1.02 0 0 1.04 608.37 387.00)">.5</text>
<text transform="matrix(1.02 0 0 1.04 657.65 387.00)">2</text>
<text transform="matrix(1.02 0 0 1.04 708.07 387.00)">2.5</text>
<text transform="matrix(1.02 0 0 1.04 765.75 387.00)">3</text>
<text transform="matrix(1.02 0 0 1.04 604.55 55.70)">0</text>
<text transform="matrix(1.02 0 0 1.04 568.57 106.00)">0.5</text>
<polygon points="553.61,155.90 552.00,155.90 552.00,148.02 549.66,148.02 549.66,146.88 550.88,146.70 551.65,146.15 552.21,144.90 553.61,144.90"/>
<polygon points="517.03,206.70 515.42,206.70 515.42,198.82 513.08,198.82 513.08,197.68 514.30,197.50 515.07,196.95 515.63,195.70 517.03,195.70"/><text transform="matrix(1.02 0 0 1.04 519.67 206.70)">.5</text>
<text transform="matrix(1.02 0 0 1.04 493.45 256.60)">2</text>
<text transform="matrix(1.02 0 0 1.04 456.97 306.70)">2.5</text>
<text transform="matrix(1.02 0 0 1.04 438.85 357.10)">3</text>
<text transform="matrix(1.02 0 0 1.04 626.70 67.70)">3</text>
<text transform="matrix(1.02 0 0 1.04 653.80 117.90)">2.5</text>
<text transform="matrix(1.02 0 0 1.04 680.70 168.10)">2</text>
<polygon points="713.96,218.50 712.35,218.50 712.35,210.62 710.01,210.62 710.01,209.48 711.24,209.30 712.00,208.75 712.57,207.50 713.96,207.50"/><text transform="matrix(1.02 0 0 1.04 716.61 218.50)">.5</text>
<polygon points="741.06,268.70 739.45,268.70 739.45,260.82 737.11,260.82 737.11,259.68 738.34,259.50 739.10,258.95 739.67,257.70 741.06,257.70"/>
<text transform="matrix(1.02 0 0 1.04 763.50 319.10)">0.5</text>
<text transform="matrix(1.02 0 0 1.04 792.00 369.00)">0</text>
<text class="g" x="608.9" y="407.0" text-anchor="middle">α</text>
<g transform="translate(407.7,0.0)" fill="none" stroke="#000" stroke-linecap="round"><path d="M76.6 212.2C79 214.8 80.5 217.4 85.3 220.9" stroke-width="1.25"/><path d="M79.6 217.4C77.6 216.0 74.6 215.5 73.7 217.5C73.3 218.5 74.1 219.2 74.9 219.5" stroke-width="0.95"/></g>
<text class="g" transform="translate(744.0,220.2) rotate(53)" x="0" y="3.5" text-anchor="middle">β</text></g>
<clipPath id="clipc"><polygon points="854.20,365.60 1179.40,365.60 1016.80,64.10"/></clipPath>
<g clip-path="url(#clipc)">
<path fill="#10b5de" d="M1081.8 218.1l5.6 3.4v6.9l-5.6 3.4l-5.6 -3.4v-6.9zM1092.7 218.1l5.6 3.4v6.9l-5.6 3.4l-5.6 -3.4v-6.9zM1054.7 208.0l5.6 3.4v6.9l-5.6 3.4l-5.6 -3.4v-6.9zM1065.6 208.0l5.6 3.4v6.9l-5.6 3.4l-5.6 -3.4v-6.9zM1076.4 208.0l5.6 3.4v6.9l-5.6 3.4l-5.6 -3.4v-6.9zM1087.3 208.0l5.6 3.4v6.9l-5.6 3.4l-5.6 -3.4v-6.9zM1098.1 208.0l5.6 3.4v6.9l-5.6 3.4l-5.6 -3.4v-6.9zM1027.6 198.0l5.6 3.4v6.9l-5.6 3.4l-5.6 -3.4v-6.9zM1038.5 198.0l5.6 3.4v6.9l-5.6 3.4l-5.6 -3.4v-6.9zM1049.3 198.0l5.6 3.4v6.9l-5.6 3.4l-5.6 -3.4v-6.9zM1060.2 198.0l5.6 3.4v6.9l-5.6 3.4l-5.6 -3.4v-6.9zM1071.0 198.0l5.6 3.4v6.9l-5.6 3.4l-5.6 -3.4v-6.9zM1081.8 198.0l5.6 3.4v6.9l-5.6 3.4l-5.6 -3.4v-6.9zM1092.7 198.0l5.6 3.4v6.9l-5.6 3.4l-5.6 -3.4v-6.9zM1000.5 187.9l5.6 3.4v6.9l-5.6 3.4l-5.6 -3.4v-6.9zM1011.4 187.9l5.6 3.4v6.9l-5.6 3.4l-5.6 -3.4v-6.9zM1022.2 187.9l5.6 3.4v6.9l-5.6 3.4l-5.6 -3.4v-6.9zM1033.1 187.9l5.6 3.4v6.9l-5.6 3.4l-5.6 -3.4v-6.9zM1043.9 187.9l5.6 3.4v6.9l-5.6 3.4l-5.6 -3.4v-6.9zM1054.7 187.9l5.6 3.4v6.9l-5.6 3.4l-5.6 -3.4v-6.9zM1065.6 187.9l5.6 3.4v6.9l-5.6 3.4l-5.6 -3.4v-6.9zM1076.4 187.9l5.6 3.4v6.9l-5.6 3.4l-5.6 -3.4v-6.9zM1087.3 187.9l5.6 3.4v6.9l-5.6 3.4l-5.6 -3.4v-6.9zM995.1 177.9l5.6 3.4v6.9l-5.6 3.4l-5.6 -3.4v-6.9zM1006.0 177.9l5.6 3.4v6.9l-5.6 3.4l-5.6 -3.4v-6.9zM1016.8 177.9l5.6 3.4v6.9l-5.6 3.4l-5.6 -3.4v-6.9zM1027.6 177.9l5.6 3.4v6.9l-5.6 3.4l-5.6 -3.4v-6.9zM1038.5 177.9l5.6 3.4v6.9l-5.6 3.4l-5.6 -3.4v-6.9zM1049.3 177.9l5.6 3.4v6.9l-5.6 3.4l-5.6 -3.4v-6.9zM1060.2 177.9l5.6 3.4v6.9l-5.6 3.4l-5.6 -3.4v-6.9zM1071.0 177.9l5.6 3.4v6.9l-5.6 3.4l-5.6 -3.4v-6.9zM1081.8 177.9l5.6 3.4v6.9l-5.6 3.4l-5.6 -3.4v-6.9zM989.7 167.8l5.6 3.4v6.9l-5.6 3.4l-5.6 -3.4v-6.9zM1000.5 167.8l5.6 3.4v6.9l-5.6 3.4l-5.6 -3.4v-6.9zM1011.4 167.8l5.6 3.4v6.9l-5.6 3.4l-5.6 -3.4v-6.9zM1022.2 167.8l5.6 3.4v6.9l-5.6 3.4l-5.6 -3.4v-6.9zM1033.1 167.8l5.6 3.4v6.9l-5.6 3.4l-5.6 -3.4v-6.9zM1043.9 167.8l5.6 3.4v6.9l-5.6 3.4l-5.6 -3.4v-6.9zM1054.7 167.8l5.6 3.4v6.9l-5.6 3.4l-5.6 -3.4v-6.9zM1065.6 167.8l5.6 3.4v6.9l-5.6 3.4l-5.6 -3.4v-6.9zM1076.4 167.8l5.6 3.4v6.9l-5.6 3.4l-5.6 -3.4v-6.9zM984.3 157.8l5.6 3.4v6.9l-5.6 3.4l-5.6 -3.4v-6.9zM995.1 157.8l5.6 3.4v6.9l-5.6 3.4l-5.6 -3.4v-6.9zM1006.0 157.8l5.6 3.4v6.9l-5.6 3.4l-5.6 -3.4v-6.9zM1016.8 157.8l5.6 3.4v6.9l-5.6 3.4l-5.6 -3.4v-6.9zM1027.6 157.8l5.6 3.4v6.9l-5.6 3.4l-5.6 -3.4v-6.9zM1038.5 157.8l5.6 3.4v6.9l-5.6 3.4l-5.6 -3.4v-6.9zM1049.3 157.8l5.6 3.4v6.9l-5.6 3.4l-5.6 -3.4v-6.9zM1060.2 157.8l5.6 3.4v6.9l-5.6 3.4l-5.6 -3.4v-6.9zM1071.0 157.8l5.6 3.4v6.9l-5.6 3.4l-5.6 -3.4v-6.9zM978.9 147.7l5.6 3.4v6.9l-5.6 3.4l-5.6 -3.4v-6.9zM989.7 147.7l5.6 3.4v6.9l-5.6 3.4l-5.6 -3.4v-6.9zM1000.5 147.7l5.6 3.4v6.9l-5.6 3.4l-5.6 -3.4v-6.9zM1011.4 147.7l5.6 3.4v6.9l-5.6 3.4l-5.6 -3.4v-6.9zM1022.2 147.7l5.6 3.4v6.9l-5.6 3.4l-5.6 -3.4v-6.9zM1033.1 147.7l5.6 3.4v6.9l-5.6 3.4l-5.6 -3.4v-6.9zM1043.9 147.7l5.6 3.4v6.9l-5.6 3.4l-5.6 -3.4v-6.9zM1054.7 147.7l5.6 3.4v6.9l-5.6 3.4l-5.6 -3.4v-6.9zM1065.6 147.7l5.6 3.4v6.9l-5.6 3.4l-5.6 -3.4v-6.9zM973.4 137.7l5.6 3.4v6.9l-5.6 3.4l-5.6 -3.4v-6.9zM984.3 137.7l5.6 3.4v6.9l-5.6 3.4l-5.6 -3.4v-6.9zM995.1 137.7l5.6 3.4v6.9l-5.6 3.4l-5.6 -3.4v-6.9zM1006.0 137.7l5.6 3.4v6.9l-5.6 3.4l-5.6 -3.4v-6.9zM1016.8 137.7l5.6 3.4v6.9l-5.6 3.4l-5.6 -3.4v-6.9zM1027.6 137.7l5.6 3.4v6.9l-5.6 3.4l-5.6 -3.4v-6.9zM1038.5 137.7l5.6 3.4v6.9l-5.6 3.4l-5.6 -3.4v-6.9zM1049.3 137.7l5.6 3.4v6.9l-5.6 3.4l-5.6 -3.4v-6.9zM1060.2 137.7l5.6 3.4v6.9l-5.6 3.4l-5.6 -3.4v-6.9zM978.9 127.6l5.6 3.4v6.9l-5.6 3.4l-5.6 -3.4v-6.9zM989.7 127.6l5.6 3.4v6.9l-5.6 3.4l-5.6 -3.4v-6.9zM1000.5 127.6l5.6 3.4v6.9l-5.6 3.4l-5.6 -3.4v-6.9zM1011.4 127.6l5.6 3.4v6.9l-5.6 3.4l-5.6 -3.4v-6.9zM1022.2 127.6l5.6 3.4v6.9l-5.6 3.4l-5.6 -3.4v-6.9zM1033.1 127.6l5.6 3.4v6.9l-5.6 3.4l-5.6 -3.4v-6.9zM1043.9 127.6l5.6 3.4v6.9l-5.6 3.4l-5.6 -3.4v-6.9zM1054.7 127.6l5.6 3.4v6.9l-5.6 3.4l-5.6 -3.4v-6.9zM984.3 117.6l5.6 3.4v6.9l-5.6 3.4l-5.6 -3.4v-6.9zM995.1 117.6l5.6 3.4v6.9l-5.6 3.4l-5.6 -3.4v-6.9zM1006.0 117.6l5.6 3.4v6.9l-5.6 3.4l-5.6 -3.4v-6.9zM1016.8 117.6l5.6 3.4v6.9l-5.6 3.4l-5.6 -3.4v-6.9zM1027.6 117.6l5.6 3.4v6.9l-5.6 3.4l-5.6 -3.4v-6.9zM1038.5 117.6l5.6 3.4v6.9l-5.6 3.4l-5.6 -3.4v-6.9zM1049.3 117.6l5.6 3.4v6.9l-5.6 3.4l-5.6 -3.4v-6.9zM989.7 107.5l5.6 3.4v6.9l-5.6 3.4l-5.6 -3.4v-6.9zM1000.5 107.5l5.6 3.4v6.9l-5.6 3.4l-5.6 -3.4v-6.9zM1011.4 107.5l5.6 3.4v6.9l-5.6 3.4l-5.6 -3.4v-6.9zM1022.2 107.5l5.6 3.4v6.9l-5.6 3.4l-5.6 -3.4v-6.9zM1033.1 107.5l5.6 3.4v6.9l-5.6 3.4l-5.6 -3.4v-6.9zM1043.9 107.5l5.6 3.4v6.9l-5.6 3.4l-5.6 -3.4v-6.9zM995.1 97.5l5.6 3.4v6.9l-5.6 3.4l-5.6 -3.4v-6.9zM1006.0 97.5l5.6 3.4v6.9l-5.6 3.4l-5.6 -3.4v-6.9zM1016.8 97.5l5.6 3.4v6.9l-5.6 3.4l-5.6 -3.4v-6.9zM1027.6 97.5l5.6 3.4v6.9l-5.6 3.4l-5.6 -3.4v-6.9zM1038.5 97.5l5.6 3.4v6.9l-5.6 3.4l-5.6 -3.4v-6.9zM1000.5 87.4l5.6 3.4v6.9l-5.6 3.4l-5.6 -3.4v-6.9zM1011.4 87.4l5.6 3.4v6.9l-5.6 3.4l-5.6 -3.4v-6.9zM1022.2 87.4l5.6 3.4v6.9l-5.6 3.4l-5.6 -3.4v-6.9zM1033.1 87.4l5.6 3.4v6.9l-5.6 3.4l-5.6 -3.4v-6.9zM1006.0 77.4l5.6 3.4v6.9l-5.6 3.4l-5.6 -3.4v-6.9zM1016.8 77.4l5.6 3.4v6.9l-5.6 3.4l-5.6 -3.4v-6.9zM1027.6 77.4l5.6 3.4v6.9l-5.6 3.4l-5.6 -3.4v-6.9zM1011.4 67.3l5.6 3.4v6.9l-5.6 3.4l-5.6 -3.4v-6.9zM1022.2 67.3l5.6 3.4v6.9l-5.6 3.4l-5.6 -3.4v-6.9zM1016.8 57.3l5.6 3.4v6.9l-5.6 3.4l-5.6 -3.4v-6.9z"/>
<path fill="#e58a16" d="M854.2 358.8l5.6 3.4v6.9l-5.6 3.4l-5.6 -3.4v-6.9zM865.0 358.8l5.6 3.4v6.9l-5.6 3.4l-5.6 -3.4v-6.9zM875.9 358.8l5.6 3.4v6.9l-5.6 3.4l-5.6 -3.4v-6.9zM886.7 358.8l5.6 3.4v6.9l-5.6 3.4l-5.6 -3.4v-6.9zM897.6 358.8l5.6 3.4v6.9l-5.6 3.4l-5.6 -3.4v-6.9zM908.4 358.8l5.6 3.4v6.9l-5.6 3.4l-5.6 -3.4v-6.9zM919.2 358.8l5.6 3.4v6.9l-5.6 3.4l-5.6 -3.4v-6.9zM930.1 358.8l5.6 3.4v6.9l-5.6 3.4l-5.6 -3.4v-6.9zM940.9 358.8l5.6 3.4v6.9l-5.6 3.4l-5.6 -3.4v-6.9zM951.8 358.8l5.6 3.4v6.9l-5.6 3.4l-5.6 -3.4v-6.9zM962.6 358.8l5.6 3.4v6.9l-5.6 3.4l-5.6 -3.4v-6.9zM973.4 358.8l5.6 3.4v6.9l-5.6 3.4l-5.6 -3.4v-6.9zM984.3 358.8l5.6 3.4v6.9l-5.6 3.4l-5.6 -3.4v-6.9zM859.6 348.7l5.6 3.4v6.9l-5.6 3.4l-5.6 -3.4v-6.9zM870.5 348.7l5.6 3.4v6.9l-5.6 3.4l-5.6 -3.4v-6.9zM881.3 348.7l5.6 3.4v6.9l-5.6 3.4l-5.6 -3.4v-6.9zM892.1 348.7l5.6 3.4v6.9l-5.6 3.4l-5.6 -3.4v-6.9zM903.0 348.7l5.6 3.4v6.9l-5.6 3.4l-5.6 -3.4v-6.9zM913.8 348.7l5.6 3.4v6.9l-5.6 3.4l-5.6 -3.4v-6.9zM924.7 348.7l5.6 3.4v6.9l-5.6 3.4l-5.6 -3.4v-6.9zM935.5 348.7l5.6 3.4v6.9l-5.6 3.4l-5.6 -3.4v-6.9zM946.3 348.7l5.6 3.4v6.9l-5.6 3.4l-5.6 -3.4v-6.9zM957.2 348.7l5.6 3.4v6.9l-5.6 3.4l-5.6 -3.4v-6.9zM968.0 348.7l5.6 3.4v6.9l-5.6 3.4l-5.6 -3.4v-6.9zM978.9 348.7l5.6 3.4v6.9l-5.6 3.4l-5.6 -3.4v-6.9zM989.7 348.7l5.6 3.4v6.9l-5.6 3.4l-5.6 -3.4v-6.9zM865.0 338.6l5.6 3.4v6.9l-5.6 3.4l-5.6 -3.4v-6.9zM875.9 338.6l5.6 3.4v6.9l-5.6 3.4l-5.6 -3.4v-6.9zM886.7 338.6l5.6 3.4v6.9l-5.6 3.4l-5.6 -3.4v-6.9zM897.6 338.6l5.6 3.4v6.9l-5.6 3.4l-5.6 -3.4v-6.9zM908.4 338.6l5.6 3.4v6.9l-5.6 3.4l-5.6 -3.4v-6.9zM919.2 338.6l5.6 3.4v6.9l-5.6 3.4l-5.6 -3.4v-6.9zM930.1 338.6l5.6 3.4v6.9l-5.6 3.4l-5.6 -3.4v-6.9zM940.9 338.6l5.6 3.4v6.9l-5.6 3.4l-5.6 -3.4v-6.9zM951.8 338.6l5.6 3.4v6.9l-5.6 3.4l-5.6 -3.4v-6.9zM962.6 338.6l5.6 3.4v6.9l-5.6 3.4l-5.6 -3.4v-6.9zM973.4 338.6l5.6 3.4v6.9l-5.6 3.4l-5.6 -3.4v-6.9zM984.3 338.6l5.6 3.4v6.9l-5.6 3.4l-5.6 -3.4v-6.9zM870.5 328.6l5.6 3.4v6.9l-5.6 3.4l-5.6 -3.4v-6.9zM881.3 328.6l5.6 3.4v6.9l-5.6 3.4l-5.6 -3.4v-6.9zM892.1 328.6l5.6 3.4v6.9l-5.6 3.4l-5.6 -3.4v-6.9zM903.0 328.6l5.6 3.4v6.9l-5.6 3.4l-5.6 -3.4v-6.9zM913.8 328.6l5.6 3.4v6.9l-5.6 3.4l-5.6 -3.4v-6.9zM924.7 328.6l5.6 3.4v6.9l-5.6 3.4l-5.6 -3.4v-6.9zM935.5 328.6l5.6 3.4v6.9l-5.6 3.4l-5.6 -3.4v-6.9zM946.3 328.6l5.6 3.4v6.9l-5.6 3.4l-5.6 -3.4v-6.9zM957.2 328.6l5.6 3.4v6.9l-5.6 3.4l-5.6 -3.4v-6.9zM968.0 328.6l5.6 3.4v6.9l-5.6 3.4l-5.6 -3.4v-6.9zM978.9 328.6l5.6 3.4v6.9l-5.6 3.4l-5.6 -3.4v-6.9zM989.7 328.6l5.6 3.4v6.9l-5.6 3.4l-5.6 -3.4v-6.9zM875.9 318.6l5.6 3.4v6.9l-5.6 3.4l-5.6 -3.4v-6.9zM886.7 318.6l5.6 3.4v6.9l-5.6 3.4l-5.6 -3.4v-6.9zM897.6 318.6l5.6 3.4v6.9l-5.6 3.4l-5.6 -3.4v-6.9zM908.4 318.6l5.6 3.4v6.9l-5.6 3.4l-5.6 -3.4v-6.9zM919.2 318.6l5.6 3.4v6.9l-5.6 3.4l-5.6 -3.4v-6.9zM930.1 318.6l5.6 3.4v6.9l-5.6 3.4l-5.6 -3.4v-6.9zM940.9 318.6l5.6 3.4v6.9l-5.6 3.4l-5.6 -3.4v-6.9zM951.8 318.6l5.6 3.4v6.9l-5.6 3.4l-5.6 -3.4v-6.9zM962.6 318.6l5.6 3.4v6.9l-5.6 3.4l-5.6 -3.4v-6.9zM973.4 318.6l5.6 3.4v6.9l-5.6 3.4l-5.6 -3.4v-6.9zM984.3 318.6l5.6 3.4v6.9l-5.6 3.4l-5.6 -3.4v-6.9zM881.3 308.5l5.6 3.4v6.9l-5.6 3.4l-5.6 -3.4v-6.9zM892.1 308.5l5.6 3.4v6.9l-5.6 3.4l-5.6 -3.4v-6.9zM903.0 308.5l5.6 3.4v6.9l-5.6 3.4l-5.6 -3.4v-6.9zM913.8 308.5l5.6 3.4v6.9l-5.6 3.4l-5.6 -3.4v-6.9zM924.7 308.5l5.6 3.4v6.9l-5.6 3.4l-5.6 -3.4v-6.9zM935.5 308.5l5.6 3.4v6.9l-5.6 3.4l-5.6 -3.4v-6.9zM946.3 308.5l5.6 3.4v6.9l-5.6 3.4l-5.6 -3.4v-6.9zM957.2 308.5l5.6 3.4v6.9l-5.6 3.4l-5.6 -3.4v-6.9zM968.0 308.5l5.6 3.4v6.9l-5.6 3.4l-5.6 -3.4v-6.9zM978.9 308.5l5.6 3.4v6.9l-5.6 3.4l-5.6 -3.4v-6.9zM989.7 308.5l5.6 3.4v6.9l-5.6 3.4l-5.6 -3.4v-6.9zM886.7 298.4l5.6 3.4v6.9l-5.6 3.4l-5.6 -3.4v-6.9zM897.6 298.4l5.6 3.4v6.9l-5.6 3.4l-5.6 -3.4v-6.9zM908.4 298.4l5.6 3.4v6.9l-5.6 3.4l-5.6 -3.4v-6.9zM919.2 298.4l5.6 3.4v6.9l-5.6 3.4l-5.6 -3.4v-6.9zM930.1 298.4l5.6 3.4v6.9l-5.6 3.4l-5.6 -3.4v-6.9zM940.9 298.4l5.6 3.4v6.9l-5.6 3.4l-5.6 -3.4v-6.9zM951.8 298.4l5.6 3.4v6.9l-5.6 3.4l-5.6 -3.4v-6.9zM962.6 298.4l5.6 3.4v6.9l-5.6 3.4l-5.6 -3.4v-6.9zM973.4 298.4l5.6 3.4v6.9l-5.6 3.4l-5.6 -3.4v-6.9zM984.3 298.4l5.6 3.4v6.9l-5.6 3.4l-5.6 -3.4v-6.9zM995.1 298.4l5.6 3.4v6.9l-5.6 3.4l-5.6 -3.4v-6.9zM892.1 288.4l5.6 3.4v6.9l-5.6 3.4l-5.6 -3.4v-6.9zM903.0 288.4l5.6 3.4v6.9l-5.6 3.4l-5.6 -3.4v-6.9zM913.8 288.4l5.6 3.4v6.9l-5.6 3.4l-5.6 -3.4v-6.9zM924.7 288.4l5.6 3.4v6.9l-5.6 3.4l-5.6 -3.4v-6.9zM935.5 288.4l5.6 3.4v6.9l-5.6 3.4l-5.6 -3.4v-6.9zM946.3 288.4l5.6 3.4v6.9l-5.6 3.4l-5.6 -3.4v-6.9zM957.2 288.4l5.6 3.4v6.9l-5.6 3.4l-5.6 -3.4v-6.9zM968.0 288.4l5.6 3.4v6.9l-5.6 3.4l-5.6 -3.4v-6.9zM978.9 288.4l5.6 3.4v6.9l-5.6 3.4l-5.6 -3.4v-6.9zM989.7 288.4l5.6 3.4v6.9l-5.6 3.4l-5.6 -3.4v-6.9zM897.6 278.4l5.6 3.4v6.9l-5.6 3.4l-5.6 -3.4v-6.9zM908.4 278.4l5.6 3.4v6.9l-5.6 3.4l-5.6 -3.4v-6.9zM919.2 278.4l5.6 3.4v6.9l-5.6 3.4l-5.6 -3.4v-6.9zM930.1 278.4l5.6 3.4v6.9l-5.6 3.4l-5.6 -3.4v-6.9zM940.9 278.4l5.6 3.4v6.9l-5.6 3.4l-5.6 -3.4v-6.9zM951.8 278.4l5.6 3.4v6.9l-5.6 3.4l-5.6 -3.4v-6.9zM962.6 278.4l5.6 3.4v6.9l-5.6 3.4l-5.6 -3.4v-6.9zM973.4 278.4l5.6 3.4v6.9l-5.6 3.4l-5.6 -3.4v-6.9zM984.3 278.4l5.6 3.4v6.9l-5.6 3.4l-5.6 -3.4v-6.9zM995.1 278.4l5.6 3.4v6.9l-5.6 3.4l-5.6 -3.4v-6.9zM903.0 268.3l5.6 3.4v6.9l-5.6 3.4l-5.6 -3.4v-6.9zM913.8 268.3l5.6 3.4v6.9l-5.6 3.4l-5.6 -3.4v-6.9zM924.7 268.3l5.6 3.4v6.9l-5.6 3.4l-5.6 -3.4v-6.9zM935.5 268.3l5.6 3.4v6.9l-5.6 3.4l-5.6 -3.4v-6.9zM946.3 268.3l5.6 3.4v6.9l-5.6 3.4l-5.6 -3.4v-6.9zM957.2 268.3l5.6 3.4v6.9l-5.6 3.4l-5.6 -3.4v-6.9zM968.0 268.3l5.6 3.4v6.9l-5.6 3.4l-5.6 -3.4v-6.9zM978.9 268.3l5.6 3.4v6.9l-5.6 3.4l-5.6 -3.4v-6.9zM989.7 268.3l5.6 3.4v6.9l-5.6 3.4l-5.6 -3.4v-6.9zM908.4 258.2l5.6 3.4v6.9l-5.6 3.4l-5.6 -3.4v-6.9zM919.2 258.2l5.6 3.4v6.9l-5.6 3.4l-5.6 -3.4v-6.9zM930.1 258.2l5.6 3.4v6.9l-5.6 3.4l-5.6 -3.4v-6.9zM940.9 258.2l5.6 3.4v6.9l-5.6 3.4l-5.6 -3.4v-6.9zM951.8 258.2l5.6 3.4v6.9l-5.6 3.4l-5.6 -3.4v-6.9zM962.6 258.2l5.6 3.4v6.9l-5.6 3.4l-5.6 -3.4v-6.9zM973.4 258.2l5.6 3.4v6.9l-5.6 3.4l-5.6 -3.4v-6.9zM984.3 258.2l5.6 3.4v6.9l-5.6 3.4l-5.6 -3.4v-6.9zM995.1 258.2l5.6 3.4v6.9l-5.6 3.4l-5.6 -3.4v-6.9zM913.8 248.2l5.6 3.4v6.9l-5.6 3.4l-5.6 -3.4v-6.9zM924.7 248.2l5.6 3.4v6.9l-5.6 3.4l-5.6 -3.4v-6.9zM935.5 248.2l5.6 3.4v6.9l-5.6 3.4l-5.6 -3.4v-6.9zM946.3 248.2l5.6 3.4v6.9l-5.6 3.4l-5.6 -3.4v-6.9zM957.2 248.2l5.6 3.4v6.9l-5.6 3.4l-5.6 -3.4v-6.9zM968.0 248.2l5.6 3.4v6.9l-5.6 3.4l-5.6 -3.4v-6.9zM978.9 248.2l5.6 3.4v6.9l-5.6 3.4l-5.6 -3.4v-6.9zM989.7 248.2l5.6 3.4v6.9l-5.6 3.4l-5.6 -3.4v-6.9zM919.2 238.2l5.6 3.4v6.9l-5.6 3.4l-5.6 -3.4v-6.9zM930.1 238.2l5.6 3.4v6.9l-5.6 3.4l-5.6 -3.4v-6.9zM940.9 238.2l5.6 3.4v6.9l-5.6 3.4l-5.6 -3.4v-6.9zM951.8 238.2l5.6 3.4v6.9l-5.6 3.4l-5.6 -3.4v-6.9zM962.6 238.2l5.6 3.4v6.9l-5.6 3.4l-5.6 -3.4v-6.9zM973.4 238.2l5.6 3.4v6.9l-5.6 3.4l-5.6 -3.4v-6.9zM984.3 238.2l5.6 3.4v6.9l-5.6 3.4l-5.6 -3.4v-6.9zM995.1 238.2l5.6 3.4v6.9l-5.6 3.4l-5.6 -3.4v-6.9zM924.7 228.1l5.6 3.4v6.9l-5.6 3.4l-5.6 -3.4v-6.9zM935.5 228.1l5.6 3.4v6.9l-5.6 3.4l-5.6 -3.4v-6.9zM946.3 228.1l5.6 3.4v6.9l-5.6 3.4l-5.6 -3.4v-6.9zM957.2 228.1l5.6 3.4v6.9l-5.6 3.4l-5.6 -3.4v-6.9zM968.0 228.1l5.6 3.4v6.9l-5.6 3.4l-5.6 -3.4v-6.9zM978.9 228.1l5.6 3.4v6.9l-5.6 3.4l-5.6 -3.4v-6.9zM989.7 228.1l5.6 3.4v6.9l-5.6 3.4l-5.6 -3.4v-6.9zM930.1 218.1l5.6 3.4v6.9l-5.6 3.4l-5.6 -3.4v-6.9zM940.9 218.1l5.6 3.4v6.9l-5.6 3.4l-5.6 -3.4v-6.9zM951.8 218.1l5.6 3.4v6.9l-5.6 3.4l-5.6 -3.4v-6.9zM962.6 218.1l5.6 3.4v6.9l-5.6 3.4l-5.6 -3.4v-6.9zM973.4 218.1l5.6 3.4v6.9l-5.6 3.4l-5.6 -3.4v-6.9zM984.3 218.1l5.6 3.4v6.9l-5.6 3.4l-5.6 -3.4v-6.9zM995.1 218.1l5.6 3.4v6.9l-5.6 3.4l-5.6 -3.4v-6.9zM935.5 208.0l5.6 3.4v6.9l-5.6 3.4l-5.6 -3.4v-6.9zM946.3 208.0l5.6 3.4v6.9l-5.6 3.4l-5.6 -3.4v-6.9zM957.2 208.0l5.6 3.4v6.9l-5.6 3.4l-5.6 -3.4v-6.9zM968.0 208.0l5.6 3.4v6.9l-5.6 3.4l-5.6 -3.4v-6.9zM978.9 208.0l5.6 3.4v6.9l-5.6 3.4l-5.6 -3.4v-6.9zM989.7 208.0l5.6 3.4v6.9l-5.6 3.4l-5.6 -3.4v-6.9zM940.9 198.0l5.6 3.4v6.9l-5.6 3.4l-5.6 -3.4v-6.9zM951.8 198.0l5.6 3.4v6.9l-5.6 3.4l-5.6 -3.4v-6.9zM962.6 198.0l5.6 3.4v6.9l-5.6 3.4l-5.6 -3.4v-6.9zM973.4 198.0l5.6 3.4v6.9l-5.6 3.4l-5.6 -3.4v-6.9zM984.3 198.0l5.6 3.4v6.9l-5.6 3.4l-5.6 -3.4v-6.9zM995.1 198.0l5.6 3.4v6.9l-5.6 3.4l-5.6 -3.4v-6.9zM946.3 187.9l5.6 3.4v6.9l-5.6 3.4l-5.6 -3.4v-6.9zM957.2 187.9l5.6 3.4v6.9l-5.6 3.4l-5.6 -3.4v-6.9zM968.0 187.9l5.6 3.4v6.9l-5.6 3.4l-5.6 -3.4v-6.9zM978.9 187.9l5.6 3.4v6.9l-5.6 3.4l-5.6 -3.4v-6.9zM989.7 187.9l5.6 3.4v6.9l-5.6 3.4l-5.6 -3.4v-6.9zM951.8 177.9l5.6 3.4v6.9l-5.6 3.4l-5.6 -3.4v-6.9zM962.6 177.9l5.6 3.4v6.9l-5.6 3.4l-5.6 -3.4v-6.9zM973.4 177.9l5.6 3.4v6.9l-5.6 3.4l-5.6 -3.4v-6.9zM984.3 177.9l5.6 3.4v6.9l-5.6 3.4l-5.6 -3.4v-6.9zM957.2 167.8l5.6 3.4v6.9l-5.6 3.4l-5.6 -3.4v-6.9zM968.0 167.8l5.6 3.4v6.9l-5.6 3.4l-5.6 -3.4v-6.9zM978.9 167.8l5.6 3.4v6.9l-5.6 3.4l-5.6 -3.4v-6.9zM962.6 157.8l5.6 3.4v6.9l-5.6 3.4l-5.6 -3.4v-6.9zM973.4 157.8l5.6 3.4v6.9l-5.6 3.4l-5.6 -3.4v-6.9zM968.0 147.7l5.6 3.4v6.9l-5.6 3.4l-5.6 -3.4v-6.9z"/>
<path fill="#c8222a" d="M995.1 358.8l5.6 3.4v6.9l-5.6 3.4l-5.6 -3.4v-6.9zM1006.0 358.8l5.6 3.4v6.9l-5.6 3.4l-5.6 -3.4v-6.9zM1016.8 358.8l5.6 3.4v6.9l-5.6 3.4l-5.6 -3.4v-6.9zM1027.6 358.8l5.6 3.4v6.9l-5.6 3.4l-5.6 -3.4v-6.9zM1038.5 358.8l5.6 3.4v6.9l-5.6 3.4l-5.6 -3.4v-6.9zM1000.5 348.7l5.6 3.4v6.9l-5.6 3.4l-5.6 -3.4v-6.9zM1011.4 348.7l5.6 3.4v6.9l-5.6 3.4l-5.6 -3.4v-6.9zM1022.2 348.7l5.6 3.4v6.9l-5.6 3.4l-5.6 -3.4v-6.9zM1033.1 348.7l5.6 3.4v6.9l-5.6 3.4l-5.6 -3.4v-6.9zM1043.9 348.7l5.6 3.4v6.9l-5.6 3.4l-5.6 -3.4v-6.9zM995.1 338.6l5.6 3.4v6.9l-5.6 3.4l-5.6 -3.4v-6.9zM1006.0 338.6l5.6 3.4v6.9l-5.6 3.4l-5.6 -3.4v-6.9zM1016.8 338.6l5.6 3.4v6.9l-5.6 3.4l-5.6 -3.4v-6.9zM1027.6 338.6l5.6 3.4v6.9l-5.6 3.4l-5.6 -3.4v-6.9zM1038.5 338.6l5.6 3.4v6.9l-5.6 3.4l-5.6 -3.4v-6.9zM1049.3 338.6l5.6 3.4v6.9l-5.6 3.4l-5.6 -3.4v-6.9zM1000.5 328.6l5.6 3.4v6.9l-5.6 3.4l-5.6 -3.4v-6.9zM1011.4 328.6l5.6 3.4v6.9l-5.6 3.4l-5.6 -3.4v-6.9zM1022.2 328.6l5.6 3.4v6.9l-5.6 3.4l-5.6 -3.4v-6.9zM1033.1 328.6l5.6 3.4v6.9l-5.6 3.4l-5.6 -3.4v-6.9zM1043.9 328.6l5.6 3.4v6.9l-5.6 3.4l-5.6 -3.4v-6.9zM995.1 318.6l5.6 3.4v6.9l-5.6 3.4l-5.6 -3.4v-6.9zM1006.0 318.6l5.6 3.4v6.9l-5.6 3.4l-5.6 -3.4v-6.9zM1016.8 318.6l5.6 3.4v6.9l-5.6 3.4l-5.6 -3.4v-6.9zM1027.6 318.6l5.6 3.4v6.9l-5.6 3.4l-5.6 -3.4v-6.9zM1038.5 318.6l5.6 3.4v6.9l-5.6 3.4l-5.6 -3.4v-6.9zM1049.3 318.6l5.6 3.4v6.9l-5.6 3.4l-5.6 -3.4v-6.9zM1000.5 308.5l5.6 3.4v6.9l-5.6 3.4l-5.6 -3.4v-6.9zM1011.4 308.5l5.6 3.4v6.9l-5.6 3.4l-5.6 -3.4v-6.9zM1022.2 308.5l5.6 3.4v6.9l-5.6 3.4l-5.6 -3.4v-6.9zM1033.1 308.5l5.6 3.4v6.9l-5.6 3.4l-5.6 -3.4v-6.9zM1043.9 308.5l5.6 3.4v6.9l-5.6 3.4l-5.6 -3.4v-6.9zM1054.7 308.5l5.6 3.4v6.9l-5.6 3.4l-5.6 -3.4v-6.9zM1006.0 298.4l5.6 3.4v6.9l-5.6 3.4l-5.6 -3.4v-6.9zM1016.8 298.4l5.6 3.4v6.9l-5.6 3.4l-5.6 -3.4v-6.9zM1027.6 298.4l5.6 3.4v6.9l-5.6 3.4l-5.6 -3.4v-6.9zM1038.5 298.4l5.6 3.4v6.9l-5.6 3.4l-5.6 -3.4v-6.9zM1049.3 298.4l5.6 3.4v6.9l-5.6 3.4l-5.6 -3.4v-6.9zM1060.2 298.4l5.6 3.4v6.9l-5.6 3.4l-5.6 -3.4v-6.9zM1000.5 288.4l5.6 3.4v6.9l-5.6 3.4l-5.6 -3.4v-6.9zM1011.4 288.4l5.6 3.4v6.9l-5.6 3.4l-5.6 -3.4v-6.9zM1022.2 288.4l5.6 3.4v6.9l-5.6 3.4l-5.6 -3.4v-6.9zM1033.1 288.4l5.6 3.4v6.9l-5.6 3.4l-5.6 -3.4v-6.9zM1043.9 288.4l5.6 3.4v6.9l-5.6 3.4l-5.6 -3.4v-6.9zM1054.7 288.4l5.6 3.4v6.9l-5.6 3.4l-5.6 -3.4v-6.9zM1065.6 288.4l5.6 3.4v6.9l-5.6 3.4l-5.6 -3.4v-6.9zM1006.0 278.4l5.6 3.4v6.9l-5.6 3.4l-5.6 -3.4v-6.9zM1016.8 278.4l5.6 3.4v6.9l-5.6 3.4l-5.6 -3.4v-6.9zM1027.6 278.4l5.6 3.4v6.9l-5.6 3.4l-5.6 -3.4v-6.9zM1038.5 278.4l5.6 3.4v6.9l-5.6 3.4l-5.6 -3.4v-6.9zM1049.3 278.4l5.6 3.4v6.9l-5.6 3.4l-5.6 -3.4v-6.9zM1060.2 278.4l5.6 3.4v6.9l-5.6 3.4l-5.6 -3.4v-6.9zM1071.0 278.4l5.6 3.4v6.9l-5.6 3.4l-5.6 -3.4v-6.9zM1000.5 268.3l5.6 3.4v6.9l-5.6 3.4l-5.6 -3.4v-6.9zM1011.4 268.3l5.6 3.4v6.9l-5.6 3.4l-5.6 -3.4v-6.9zM1022.2 268.3l5.6 3.4v6.9l-5.6 3.4l-5.6 -3.4v-6.9zM1033.1 268.3l5.6 3.4v6.9l-5.6 3.4l-5.6 -3.4v-6.9zM1043.9 268.3l5.6 3.4v6.9l-5.6 3.4l-5.6 -3.4v-6.9zM1054.7 268.3l5.6 3.4v6.9l-5.6 3.4l-5.6 -3.4v-6.9zM1065.6 268.3l5.6 3.4v6.9l-5.6 3.4l-5.6 -3.4v-6.9zM1006.0 258.2l5.6 3.4v6.9l-5.6 3.4l-5.6 -3.4v-6.9zM1016.8 258.2l5.6 3.4v6.9l-5.6 3.4l-5.6 -3.4v-6.9zM1027.6 258.2l5.6 3.4v6.9l-5.6 3.4l-5.6 -3.4v-6.9zM1038.5 258.2l5.6 3.4v6.9l-5.6 3.4l-5.6 -3.4v-6.9zM1049.3 258.2l5.6 3.4v6.9l-5.6 3.4l-5.6 -3.4v-6.9zM1060.2 258.2l5.6 3.4v6.9l-5.6 3.4l-5.6 -3.4v-6.9zM1071.0 258.2l5.6 3.4v6.9l-5.6 3.4l-5.6 -3.4v-6.9zM1000.5 248.2l5.6 3.4v6.9l-5.6 3.4l-5.6 -3.4v-6.9zM1011.4 248.2l5.6 3.4v6.9l-5.6 3.4l-5.6 -3.4v-6.9zM1022.2 248.2l5.6 3.4v6.9l-5.6 3.4l-5.6 -3.4v-6.9zM1033.1 248.2l5.6 3.4v6.9l-5.6 3.4l-5.6 -3.4v-6.9zM1043.9 248.2l5.6 3.4v6.9l-5.6 3.4l-5.6 -3.4v-6.9zM1054.7 248.2l5.6 3.4v6.9l-5.6 3.4l-5.6 -3.4v-6.9zM1065.6 248.2l5.6 3.4v6.9l-5.6 3.4l-5.6 -3.4v-6.9zM1076.4 248.2l5.6 3.4v6.9l-5.6 3.4l-5.6 -3.4v-6.9zM1006.0 238.2l5.6 3.4v6.9l-5.6 3.4l-5.6 -3.4v-6.9zM1016.8 238.2l5.6 3.4v6.9l-5.6 3.4l-5.6 -3.4v-6.9zM1027.6 238.2l5.6 3.4v6.9l-5.6 3.4l-5.6 -3.4v-6.9zM1038.5 238.2l5.6 3.4v6.9l-5.6 3.4l-5.6 -3.4v-6.9zM1049.3 238.2l5.6 3.4v6.9l-5.6 3.4l-5.6 -3.4v-6.9zM1060.2 238.2l5.6 3.4v6.9l-5.6 3.4l-5.6 -3.4v-6.9zM1071.0 238.2l5.6 3.4v6.9l-5.6 3.4l-5.6 -3.4v-6.9zM1081.8 238.2l5.6 3.4v6.9l-5.6 3.4l-5.6 -3.4v-6.9zM1000.5 228.1l5.6 3.4v6.9l-5.6 3.4l-5.6 -3.4v-6.9zM1011.4 228.1l5.6 3.4v6.9l-5.6 3.4l-5.6 -3.4v-6.9zM1022.2 228.1l5.6 3.4v6.9l-5.6 3.4l-5.6 -3.4v-6.9zM1033.1 228.1l5.6 3.4v6.9l-5.6 3.4l-5.6 -3.4v-6.9zM1043.9 228.1l5.6 3.4v6.9l-5.6 3.4l-5.6 -3.4v-6.9zM1054.7 228.1l5.6 3.4v6.9l-5.6 3.4l-5.6 -3.4v-6.9zM1065.6 228.1l5.6 3.4v6.9l-5.6 3.4l-5.6 -3.4v-6.9zM1076.4 228.1l5.6 3.4v6.9l-5.6 3.4l-5.6 -3.4v-6.9zM1087.3 228.1l5.6 3.4v6.9l-5.6 3.4l-5.6 -3.4v-6.9zM1006.0 218.1l5.6 3.4v6.9l-5.6 3.4l-5.6 -3.4v-6.9zM1016.8 218.1l5.6 3.4v6.9l-5.6 3.4l-5.6 -3.4v-6.9zM1027.6 218.1l5.6 3.4v6.9l-5.6 3.4l-5.6 -3.4v-6.9zM1038.5 218.1l5.6 3.4v6.9l-5.6 3.4l-5.6 -3.4v-6.9zM1049.3 218.1l5.6 3.4v6.9l-5.6 3.4l-5.6 -3.4v-6.9zM1060.2 218.1l5.6 3.4v6.9l-5.6 3.4l-5.6 -3.4v-6.9zM1071.0 218.1l5.6 3.4v6.9l-5.6 3.4l-5.6 -3.4v-6.9zM1000.5 208.0l5.6 3.4v6.9l-5.6 3.4l-5.6 -3.4v-6.9zM1011.4 208.0l5.6 3.4v6.9l-5.6 3.4l-5.6 -3.4v-6.9zM1022.2 208.0l5.6 3.4v6.9l-5.6 3.4l-5.6 -3.4v-6.9zM1033.1 208.0l5.6 3.4v6.9l-5.6 3.4l-5.6 -3.4v-6.9zM1043.9 208.0l5.6 3.4v6.9l-5.6 3.4l-5.6 -3.4v-6.9zM1006.0 198.0l5.6 3.4v6.9l-5.6 3.4l-5.6 -3.4v-6.9zM1016.8 198.0l5.6 3.4v6.9l-5.6 3.4l-5.6 -3.4v-6.9z"/>
<path fill="#645096" d="M1049.3 358.8l5.6 3.4v6.9l-5.6 3.4l-5.6 -3.4v-6.9zM1060.2 358.8l5.6 3.4v6.9l-5.6 3.4l-5.6 -3.4v-6.9zM1071.0 358.8l5.6 3.4v6.9l-5.6 3.4l-5.6 -3.4v-6.9zM1081.8 358.8l5.6 3.4v6.9l-5.6 3.4l-5.6 -3.4v-6.9zM1092.7 358.8l5.6 3.4v6.9l-5.6 3.4l-5.6 -3.4v-6.9zM1103.5 358.8l5.6 3.4v6.9l-5.6 3.4l-5.6 -3.4v-6.9zM1114.4 358.8l5.6 3.4v6.9l-5.6 3.4l-5.6 -3.4v-6.9zM1125.2 358.8l5.6 3.4v6.9l-5.6 3.4l-5.6 -3.4v-6.9zM1136.0 358.8l5.6 3.4v6.9l-5.6 3.4l-5.6 -3.4v-6.9zM1146.9 358.8l5.6 3.4v6.9l-5.6 3.4l-5.6 -3.4v-6.9zM1157.7 358.8l5.6 3.4v6.9l-5.6 3.4l-5.6 -3.4v-6.9zM1168.6 358.8l5.6 3.4v6.9l-5.6 3.4l-5.6 -3.4v-6.9zM1179.4 358.8l5.6 3.4v6.9l-5.6 3.4l-5.6 -3.4v-6.9zM1054.7 348.7l5.6 3.4v6.9l-5.6 3.4l-5.6 -3.4v-6.9zM1065.6 348.7l5.6 3.4v6.9l-5.6 3.4l-5.6 -3.4v-6.9zM1076.4 348.7l5.6 3.4v6.9l-5.6 3.4l-5.6 -3.4v-6.9zM1087.3 348.7l5.6 3.4v6.9l-5.6 3.4l-5.6 -3.4v-6.9zM1098.1 348.7l5.6 3.4v6.9l-5.6 3.4l-5.6 -3.4v-6.9zM1108.9 348.7l5.6 3.4v6.9l-5.6 3.4l-5.6 -3.4v-6.9zM1119.8 348.7l5.6 3.4v6.9l-5.6 3.4l-5.6 -3.4v-6.9zM1130.6 348.7l5.6 3.4v6.9l-5.6 3.4l-5.6 -3.4v-6.9zM1141.5 348.7l5.6 3.4v6.9l-5.6 3.4l-5.6 -3.4v-6.9zM1152.3 348.7l5.6 3.4v6.9l-5.6 3.4l-5.6 -3.4v-6.9zM1163.1 348.7l5.6 3.4v6.9l-5.6 3.4l-5.6 -3.4v-6.9zM1174.0 348.7l5.6 3.4v6.9l-5.6 3.4l-5.6 -3.4v-6.9zM1060.2 338.6l5.6 3.4v6.9l-5.6 3.4l-5.6 -3.4v-6.9zM1071.0 338.6l5.6 3.4v6.9l-5.6 3.4l-5.6 -3.4v-6.9zM1081.8 338.6l5.6 3.4v6.9l-5.6 3.4l-5.6 -3.4v-6.9zM1092.7 338.6l5.6 3.4v6.9l-5.6 3.4l-5.6 -3.4v-6.9zM1103.5 338.6l5.6 3.4v6.9l-5.6 3.4l-5.6 -3.4v-6.9zM1114.4 338.6l5.6 3.4v6.9l-5.6 3.4l-5.6 -3.4v-6.9zM1125.2 338.6l5.6 3.4v6.9l-5.6 3.4l-5.6 -3.4v-6.9zM1136.0 338.6l5.6 3.4v6.9l-5.6 3.4l-5.6 -3.4v-6.9zM1146.9 338.6l5.6 3.4v6.9l-5.6 3.4l-5.6 -3.4v-6.9zM1157.7 338.6l5.6 3.4v6.9l-5.6 3.4l-5.6 -3.4v-6.9zM1168.6 338.6l5.6 3.4v6.9l-5.6 3.4l-5.6 -3.4v-6.9zM1054.7 328.6l5.6 3.4v6.9l-5.6 3.4l-5.6 -3.4v-6.9zM1065.6 328.6l5.6 3.4v6.9l-5.6 3.4l-5.6 -3.4v-6.9zM1076.4 328.6l5.6 3.4v6.9l-5.6 3.4l-5.6 -3.4v-6.9zM1087.3 328.6l5.6 3.4v6.9l-5.6 3.4l-5.6 -3.4v-6.9zM1098.1 328.6l5.6 3.4v6.9l-5.6 3.4l-5.6 -3.4v-6.9zM1108.9 328.6l5.6 3.4v6.9l-5.6 3.4l-5.6 -3.4v-6.9zM1119.8 328.6l5.6 3.4v6.9l-5.6 3.4l-5.6 -3.4v-6.9zM1130.6 328.6l5.6 3.4v6.9l-5.6 3.4l-5.6 -3.4v-6.9zM1141.5 328.6l5.6 3.4v6.9l-5.6 3.4l-5.6 -3.4v-6.9zM1152.3 328.6l5.6 3.4v6.9l-5.6 3.4l-5.6 -3.4v-6.9zM1163.1 328.6l5.6 3.4v6.9l-5.6 3.4l-5.6 -3.4v-6.9zM1060.2 318.6l5.6 3.4v6.9l-5.6 3.4l-5.6 -3.4v-6.9zM1071.0 318.6l5.6 3.4v6.9l-5.6 3.4l-5.6 -3.4v-6.9zM1081.8 318.6l5.6 3.4v6.9l-5.6 3.4l-5.6 -3.4v-6.9zM1092.7 318.6l5.6 3.4v6.9l-5.6 3.4l-5.6 -3.4v-6.9zM1103.5 318.6l5.6 3.4v6.9l-5.6 3.4l-5.6 -3.4v-6.9zM1114.4 318.6l5.6 3.4v6.9l-5.6 3.4l-5.6 -3.4v-6.9zM1125.2 318.6l5.6 3.4v6.9l-5.6 3.4l-5.6 -3.4v-6.9zM1136.0 318.6l5.6 3.4v6.9l-5.6 3.4l-5.6 -3.4v-6.9zM1146.9 318.6l5.6 3.4v6.9l-5.6 3.4l-5.6 -3.4v-6.9zM1157.7 318.6l5.6 3.4v6.9l-5.6 3.4l-5.6 -3.4v-6.9zM1065.6 308.5l5.6 3.4v6.9l-5.6 3.4l-5.6 -3.4v-6.9zM1076.4 308.5l5.6 3.4v6.9l-5.6 3.4l-5.6 -3.4v-6.9zM1087.3 308.5l5.6 3.4v6.9l-5.6 3.4l-5.6 -3.4v-6.9zM1098.1 308.5l5.6 3.4v6.9l-5.6 3.4l-5.6 -3.4v-6.9zM1108.9 308.5l5.6 3.4v6.9l-5.6 3.4l-5.6 -3.4v-6.9zM1119.8 308.5l5.6 3.4v6.9l-5.6 3.4l-5.6 -3.4v-6.9zM1130.6 308.5l5.6 3.4v6.9l-5.6 3.4l-5.6 -3.4v-6.9zM1141.5 308.5l5.6 3.4v6.9l-5.6 3.4l-5.6 -3.4v-6.9zM1152.3 308.5l5.6 3.4v6.9l-5.6 3.4l-5.6 -3.4v-6.9zM1071.0 298.4l5.6 3.4v6.9l-5.6 3.4l-5.6 -3.4v-6.9zM1081.8 298.4l5.6 3.4v6.9l-5.6 3.4l-5.6 -3.4v-6.9zM1092.7 298.4l5.6 3.4v6.9l-5.6 3.4l-5.6 -3.4v-6.9zM1103.5 298.4l5.6 3.4v6.9l-5.6 3.4l-5.6 -3.4v-6.9zM1114.4 298.4l5.6 3.4v6.9l-5.6 3.4l-5.6 -3.4v-6.9zM1125.2 298.4l5.6 3.4v6.9l-5.6 3.4l-5.6 -3.4v-6.9zM1136.0 298.4l5.6 3.4v6.9l-5.6 3.4l-5.6 -3.4v-6.9zM1146.9 298.4l5.6 3.4v6.9l-5.6 3.4l-5.6 -3.4v-6.9zM1076.4 288.4l5.6 3.4v6.9l-5.6 3.4l-5.6 -3.4v-6.9zM1087.3 288.4l5.6 3.4v6.9l-5.6 3.4l-5.6 -3.4v-6.9zM1098.1 288.4l5.6 3.4v6.9l-5.6 3.4l-5.6 -3.4v-6.9zM1108.9 288.4l5.6 3.4v6.9l-5.6 3.4l-5.6 -3.4v-6.9zM1119.8 288.4l5.6 3.4v6.9l-5.6 3.4l-5.6 -3.4v-6.9zM1130.6 288.4l5.6 3.4v6.9l-5.6 3.4l-5.6 -3.4v-6.9zM1141.5 288.4l5.6 3.4v6.9l-5.6 3.4l-5.6 -3.4v-6.9zM1081.8 278.4l5.6 3.4v6.9l-5.6 3.4l-5.6 -3.4v-6.9zM1092.7 278.4l5.6 3.4v6.9l-5.6 3.4l-5.6 -3.4v-6.9zM1103.5 278.4l5.6 3.4v6.9l-5.6 3.4l-5.6 -3.4v-6.9zM1114.4 278.4l5.6 3.4v6.9l-5.6 3.4l-5.6 -3.4v-6.9zM1125.2 278.4l5.6 3.4v6.9l-5.6 3.4l-5.6 -3.4v-6.9zM1136.0 278.4l5.6 3.4v6.9l-5.6 3.4l-5.6 -3.4v-6.9zM1076.4 268.3l5.6 3.4v6.9l-5.6 3.4l-5.6 -3.4v-6.9zM1087.3 268.3l5.6 3.4v6.9l-5.6 3.4l-5.6 -3.4v-6.9zM1098.1 268.3l5.6 3.4v6.9l-5.6 3.4l-5.6 -3.4v-6.9zM1108.9 268.3l5.6 3.4v6.9l-5.6 3.4l-5.6 -3.4v-6.9zM1119.8 268.3l5.6 3.4v6.9l-5.6 3.4l-5.6 -3.4v-6.9zM1130.6 268.3l5.6 3.4v6.9l-5.6 3.4l-5.6 -3.4v-6.9zM1081.8 258.2l5.6 3.4v6.9l-5.6 3.4l-5.6 -3.4v-6.9zM1092.7 258.2l5.6 3.4v6.9l-5.6 3.4l-5.6 -3.4v-6.9zM1103.5 258.2l5.6 3.4v6.9l-5.6 3.4l-5.6 -3.4v-6.9zM1114.4 258.2l5.6 3.4v6.9l-5.6 3.4l-5.6 -3.4v-6.9zM1125.2 258.2l5.6 3.4v6.9l-5.6 3.4l-5.6 -3.4v-6.9zM1087.3 248.2l5.6 3.4v6.9l-5.6 3.4l-5.6 -3.4v-6.9zM1098.1 248.2l5.6 3.4v6.9l-5.6 3.4l-5.6 -3.4v-6.9zM1108.9 248.2l5.6 3.4v6.9l-5.6 3.4l-5.6 -3.4v-6.9zM1119.8 248.2l5.6 3.4v6.9l-5.6 3.4l-5.6 -3.4v-6.9zM1092.7 238.2l5.6 3.4v6.9l-5.6 3.4l-5.6 -3.4v-6.9zM1103.5 238.2l5.6 3.4v6.9l-5.6 3.4l-5.6 -3.4v-6.9zM1114.4 238.2l5.6 3.4v6.9l-5.6 3.4l-5.6 -3.4v-6.9zM1098.1 228.1l5.6 3.4v6.9l-5.6 3.4l-5.6 -3.4v-6.9zM1108.9 228.1l5.6 3.4v6.9l-5.6 3.4l-5.6 -3.4v-6.9zM1103.5 218.1l5.6 3.4v6.9l-5.6 3.4l-5.6 -3.4v-6.9z"/>
<path fill="#55c9e5" d="M1081.8 220.0l4.0 2.4v4.9l-4.0 2.4l-4.0 -2.4v-4.9zM1092.7 220.0l4.0 2.4v4.9l-4.0 2.4l-4.0 -2.4v-4.9zM1054.7 210.0l4.0 2.4v4.9l-4.0 2.4l-4.0 -2.4v-4.9zM1065.6 210.0l4.0 2.4v4.9l-4.0 2.4l-4.0 -2.4v-4.9zM1076.4 210.0l4.0 2.4v4.9l-4.0 2.4l-4.0 -2.4v-4.9zM1087.3 210.0l4.0 2.4v4.9l-4.0 2.4l-4.0 -2.4v-4.9zM1098.1 210.0l4.0 2.4v4.9l-4.0 2.4l-4.0 -2.4v-4.9zM1027.6 199.9l4.0 2.4v4.9l-4.0 2.4l-4.0 -2.4v-4.9zM1038.5 199.9l4.0 2.4v4.9l-4.0 2.4l-4.0 -2.4v-4.9zM1049.3 199.9l4.0 2.4v4.9l-4.0 2.4l-4.0 -2.4v-4.9zM1060.2 199.9l4.0 2.4v4.9l-4.0 2.4l-4.0 -2.4v-4.9zM1071.0 199.9l4.0 2.4v4.9l-4.0 2.4l-4.0 -2.4v-4.9zM1081.8 199.9l4.0 2.4v4.9l-4.0 2.4l-4.0 -2.4v-4.9zM1092.7 199.9l4.0 2.4v4.9l-4.0 2.4l-4.0 -2.4v-4.9zM1000.5 189.9l4.0 2.4v4.9l-4.0 2.4l-4.0 -2.4v-4.9zM1011.4 189.9l4.0 2.4v4.9l-4.0 2.4l-4.0 -2.4v-4.9zM1022.2 189.9l4.0 2.4v4.9l-4.0 2.4l-4.0 -2.4v-4.9zM1033.1 189.9l4.0 2.4v4.9l-4.0 2.4l-4.0 -2.4v-4.9zM1043.9 189.9l4.0 2.4v4.9l-4.0 2.4l-4.0 -2.4v-4.9zM1054.7 189.9l4.0 2.4v4.9l-4.0 2.4l-4.0 -2.4v-4.9zM1065.6 189.9l4.0 2.4v4.9l-4.0 2.4l-4.0 -2.4v-4.9zM1076.4 189.9l4.0 2.4v4.9l-4.0 2.4l-4.0 -2.4v-4.9zM1087.3 189.9l4.0 2.4v4.9l-4.0 2.4l-4.0 -2.4v-4.9zM995.1 179.8l4.0 2.4v4.9l-4.0 2.4l-4.0 -2.4v-4.9zM1006.0 179.8l4.0 2.4v4.9l-4.0 2.4l-4.0 -2.4v-4.9zM1016.8 179.8l4.0 2.4v4.9l-4.0 2.4l-4.0 -2.4v-4.9zM1027.6 179.8l4.0 2.4v4.9l-4.0 2.4l-4.0 -2.4v-4.9zM1038.5 179.8l4.0 2.4v4.9l-4.0 2.4l-4.0 -2.4v-4.9zM1049.3 179.8l4.0 2.4v4.9l-4.0 2.4l-4.0 -2.4v-4.9zM1060.2 179.8l4.0 2.4v4.9l-4.0 2.4l-4.0 -2.4v-4.9zM1071.0 179.8l4.0 2.4v4.9l-4.0 2.4l-4.0 -2.4v-4.9zM1081.8 179.8l4.0 2.4v4.9l-4.0 2.4l-4.0 -2.4v-4.9zM989.7 169.8l4.0 2.4v4.9l-4.0 2.4l-4.0 -2.4v-4.9zM1000.5 169.8l4.0 2.4v4.9l-4.0 2.4l-4.0 -2.4v-4.9zM1011.4 169.8l4.0 2.4v4.9l-4.0 2.4l-4.0 -2.4v-4.9zM1022.2 169.8l4.0 2.4v4.9l-4.0 2.4l-4.0 -2.4v-4.9zM1033.1 169.8l4.0 2.4v4.9l-4.0 2.4l-4.0 -2.4v-4.9zM1043.9 169.8l4.0 2.4v4.9l-4.0 2.4l-4.0 -2.4v-4.9zM1054.7 169.8l4.0 2.4v4.9l-4.0 2.4l-4.0 -2.4v-4.9zM1065.6 169.8l4.0 2.4v4.9l-4.0 2.4l-4.0 -2.4v-4.9zM1076.4 169.8l4.0 2.4v4.9l-4.0 2.4l-4.0 -2.4v-4.9zM984.3 159.7l4.0 2.4v4.9l-4.0 2.4l-4.0 -2.4v-4.9zM995.1 159.7l4.0 2.4v4.9l-4.0 2.4l-4.0 -2.4v-4.9zM1006.0 159.7l4.0 2.4v4.9l-4.0 2.4l-4.0 -2.4v-4.9zM1016.8 159.7l4.0 2.4v4.9l-4.0 2.4l-4.0 -2.4v-4.9zM1027.6 159.7l4.0 2.4v4.9l-4.0 2.4l-4.0 -2.4v-4.9zM1038.5 159.7l4.0 2.4v4.9l-4.0 2.4l-4.0 -2.4v-4.9zM1049.3 159.7l4.0 2.4v4.9l-4.0 2.4l-4.0 -2.4v-4.9zM1060.2 159.7l4.0 2.4v4.9l-4.0 2.4l-4.0 -2.4v-4.9zM1071.0 159.7l4.0 2.4v4.9l-4.0 2.4l-4.0 -2.4v-4.9zM978.9 149.7l4.0 2.4v4.9l-4.0 2.4l-4.0 -2.4v-4.9zM989.7 149.7l4.0 2.4v4.9l-4.0 2.4l-4.0 -2.4v-4.9zM1000.5 149.7l4.0 2.4v4.9l-4.0 2.4l-4.0 -2.4v-4.9zM1011.4 149.7l4.0 2.4v4.9l-4.0 2.4l-4.0 -2.4v-4.9zM1022.2 149.7l4.0 2.4v4.9l-4.0 2.4l-4.0 -2.4v-4.9zM1033.1 149.7l4.0 2.4v4.9l-4.0 2.4l-4.0 -2.4v-4.9zM1043.9 149.7l4.0 2.4v4.9l-4.0 2.4l-4.0 -2.4v-4.9zM1054.7 149.7l4.0 2.4v4.9l-4.0 2.4l-4.0 -2.4v-4.9zM1065.6 149.7l4.0 2.4v4.9l-4.0 2.4l-4.0 -2.4v-4.9zM973.4 139.6l4.0 2.4v4.9l-4.0 2.4l-4.0 -2.4v-4.9zM984.3 139.6l4.0 2.4v4.9l-4.0 2.4l-4.0 -2.4v-4.9zM995.1 139.6l4.0 2.4v4.9l-4.0 2.4l-4.0 -2.4v-4.9zM1006.0 139.6l4.0 2.4v4.9l-4.0 2.4l-4.0 -2.4v-4.9zM1016.8 139.6l4.0 2.4v4.9l-4.0 2.4l-4.0 -2.4v-4.9zM1027.6 139.6l4.0 2.4v4.9l-4.0 2.4l-4.0 -2.4v-4.9zM1038.5 139.6l4.0 2.4v4.9l-4.0 2.4l-4.0 -2.4v-4.9zM1049.3 139.6l4.0 2.4v4.9l-4.0 2.4l-4.0 -2.4v-4.9zM1060.2 139.6l4.0 2.4v4.9l-4.0 2.4l-4.0 -2.4v-4.9zM978.9 129.6l4.0 2.4v4.9l-4.0 2.4l-4.0 -2.4v-4.9zM989.7 129.6l4.0 2.4v4.9l-4.0 2.4l-4.0 -2.4v-4.9zM1000.5 129.6l4.0 2.4v4.9l-4.0 2.4l-4.0 -2.4v-4.9zM1011.4 129.6l4.0 2.4v4.9l-4.0 2.4l-4.0 -2.4v-4.9zM1022.2 129.6l4.0 2.4v4.9l-4.0 2.4l-4.0 -2.4v-4.9zM1033.1 129.6l4.0 2.4v4.9l-4.0 2.4l-4.0 -2.4v-4.9zM1043.9 129.6l4.0 2.4v4.9l-4.0 2.4l-4.0 -2.4v-4.9zM1054.7 129.6l4.0 2.4v4.9l-4.0 2.4l-4.0 -2.4v-4.9zM984.3 119.5l4.0 2.4v4.9l-4.0 2.4l-4.0 -2.4v-4.9zM995.1 119.5l4.0 2.4v4.9l-4.0 2.4l-4.0 -2.4v-4.9zM1006.0 119.5l4.0 2.4v4.9l-4.0 2.4l-4.0 -2.4v-4.9zM1016.8 119.5l4.0 2.4v4.9l-4.0 2.4l-4.0 -2.4v-4.9zM1027.6 119.5l4.0 2.4v4.9l-4.0 2.4l-4.0 -2.4v-4.9zM1038.5 119.5l4.0 2.4v4.9l-4.0 2.4l-4.0 -2.4v-4.9zM1049.3 119.5l4.0 2.4v4.9l-4.0 2.4l-4.0 -2.4v-4.9zM989.7 109.5l4.0 2.4v4.9l-4.0 2.4l-4.0 -2.4v-4.9zM1000.5 109.5l4.0 2.4v4.9l-4.0 2.4l-4.0 -2.4v-4.9zM1011.4 109.5l4.0 2.4v4.9l-4.0 2.4l-4.0 -2.4v-4.9zM1022.2 109.5l4.0 2.4v4.9l-4.0 2.4l-4.0 -2.4v-4.9zM1033.1 109.5l4.0 2.4v4.9l-4.0 2.4l-4.0 -2.4v-4.9zM1043.9 109.5l4.0 2.4v4.9l-4.0 2.4l-4.0 -2.4v-4.9zM995.1 99.4l4.0 2.4v4.9l-4.0 2.4l-4.0 -2.4v-4.9zM1006.0 99.4l4.0 2.4v4.9l-4.0 2.4l-4.0 -2.4v-4.9zM1016.8 99.4l4.0 2.4v4.9l-4.0 2.4l-4.0 -2.4v-4.9zM1027.6 99.4l4.0 2.4v4.9l-4.0 2.4l-4.0 -2.4v-4.9zM1038.5 99.4l4.0 2.4v4.9l-4.0 2.4l-4.0 -2.4v-4.9zM1000.5 89.4l4.0 2.4v4.9l-4.0 2.4l-4.0 -2.4v-4.9zM1011.4 89.4l4.0 2.4v4.9l-4.0 2.4l-4.0 -2.4v-4.9zM1022.2 89.4l4.0 2.4v4.9l-4.0 2.4l-4.0 -2.4v-4.9zM1033.1 89.4l4.0 2.4v4.9l-4.0 2.4l-4.0 -2.4v-4.9zM1006.0 79.3l4.0 2.4v4.9l-4.0 2.4l-4.0 -2.4v-4.9zM1016.8 79.3l4.0 2.4v4.9l-4.0 2.4l-4.0 -2.4v-4.9zM1027.6 79.3l4.0 2.4v4.9l-4.0 2.4l-4.0 -2.4v-4.9zM1011.4 69.3l4.0 2.4v4.9l-4.0 2.4l-4.0 -2.4v-4.9zM1022.2 69.3l4.0 2.4v4.9l-4.0 2.4l-4.0 -2.4v-4.9zM1016.8 59.2l4.0 2.4v4.9l-4.0 2.4l-4.0 -2.4v-4.9z"/>
<path fill="#e8a856" d="M854.2 360.7l4.0 2.4v4.9l-4.0 2.4l-4.0 -2.4v-4.9zM865.0 360.7l4.0 2.4v4.9l-4.0 2.4l-4.0 -2.4v-4.9zM875.9 360.7l4.0 2.4v4.9l-4.0 2.4l-4.0 -2.4v-4.9zM886.7 360.7l4.0 2.4v4.9l-4.0 2.4l-4.0 -2.4v-4.9zM897.6 360.7l4.0 2.4v4.9l-4.0 2.4l-4.0 -2.4v-4.9zM908.4 360.7l4.0 2.4v4.9l-4.0 2.4l-4.0 -2.4v-4.9zM919.2 360.7l4.0 2.4v4.9l-4.0 2.4l-4.0 -2.4v-4.9zM930.1 360.7l4.0 2.4v4.9l-4.0 2.4l-4.0 -2.4v-4.9zM940.9 360.7l4.0 2.4v4.9l-4.0 2.4l-4.0 -2.4v-4.9zM951.8 360.7l4.0 2.4v4.9l-4.0 2.4l-4.0 -2.4v-4.9zM962.6 360.7l4.0 2.4v4.9l-4.0 2.4l-4.0 -2.4v-4.9zM973.4 360.7l4.0 2.4v4.9l-4.0 2.4l-4.0 -2.4v-4.9zM984.3 360.7l4.0 2.4v4.9l-4.0 2.4l-4.0 -2.4v-4.9zM859.6 350.7l4.0 2.4v4.9l-4.0 2.4l-4.0 -2.4v-4.9zM870.5 350.7l4.0 2.4v4.9l-4.0 2.4l-4.0 -2.4v-4.9zM881.3 350.7l4.0 2.4v4.9l-4.0 2.4l-4.0 -2.4v-4.9zM892.1 350.7l4.0 2.4v4.9l-4.0 2.4l-4.0 -2.4v-4.9zM903.0 350.7l4.0 2.4v4.9l-4.0 2.4l-4.0 -2.4v-4.9zM913.8 350.7l4.0 2.4v4.9l-4.0 2.4l-4.0 -2.4v-4.9zM924.7 350.7l4.0 2.4v4.9l-4.0 2.4l-4.0 -2.4v-4.9zM935.5 350.7l4.0 2.4v4.9l-4.0 2.4l-4.0 -2.4v-4.9zM946.3 350.7l4.0 2.4v4.9l-4.0 2.4l-4.0 -2.4v-4.9zM957.2 350.7l4.0 2.4v4.9l-4.0 2.4l-4.0 -2.4v-4.9zM968.0 350.7l4.0 2.4v4.9l-4.0 2.4l-4.0 -2.4v-4.9zM978.9 350.7l4.0 2.4v4.9l-4.0 2.4l-4.0 -2.4v-4.9zM989.7 350.7l4.0 2.4v4.9l-4.0 2.4l-4.0 -2.4v-4.9zM865.0 340.6l4.0 2.4v4.9l-4.0 2.4l-4.0 -2.4v-4.9zM875.9 340.6l4.0 2.4v4.9l-4.0 2.4l-4.0 -2.4v-4.9zM886.7 340.6l4.0 2.4v4.9l-4.0 2.4l-4.0 -2.4v-4.9zM897.6 340.6l4.0 2.4v4.9l-4.0 2.4l-4.0 -2.4v-4.9zM908.4 340.6l4.0 2.4v4.9l-4.0 2.4l-4.0 -2.4v-4.9zM919.2 340.6l4.0 2.4v4.9l-4.0 2.4l-4.0 -2.4v-4.9zM930.1 340.6l4.0 2.4v4.9l-4.0 2.4l-4.0 -2.4v-4.9zM940.9 340.6l4.0 2.4v4.9l-4.0 2.4l-4.0 -2.4v-4.9zM951.8 340.6l4.0 2.4v4.9l-4.0 2.4l-4.0 -2.4v-4.9zM962.6 340.6l4.0 2.4v4.9l-4.0 2.4l-4.0 -2.4v-4.9zM973.4 340.6l4.0 2.4v4.9l-4.0 2.4l-4.0 -2.4v-4.9zM984.3 340.6l4.0 2.4v4.9l-4.0 2.4l-4.0 -2.4v-4.9zM870.5 330.6l4.0 2.4v4.9l-4.0 2.4l-4.0 -2.4v-4.9zM881.3 330.6l4.0 2.4v4.9l-4.0 2.4l-4.0 -2.4v-4.9zM892.1 330.6l4.0 2.4v4.9l-4.0 2.4l-4.0 -2.4v-4.9zM903.0 330.6l4.0 2.4v4.9l-4.0 2.4l-4.0 -2.4v-4.9zM913.8 330.6l4.0 2.4v4.9l-4.0 2.4l-4.0 -2.4v-4.9zM924.7 330.6l4.0 2.4v4.9l-4.0 2.4l-4.0 -2.4v-4.9zM935.5 330.6l4.0 2.4v4.9l-4.0 2.4l-4.0 -2.4v-4.9zM946.3 330.6l4.0 2.4v4.9l-4.0 2.4l-4.0 -2.4v-4.9zM957.2 330.6l4.0 2.4v4.9l-4.0 2.4l-4.0 -2.4v-4.9zM968.0 330.6l4.0 2.4v4.9l-4.0 2.4l-4.0 -2.4v-4.9zM978.9 330.6l4.0 2.4v4.9l-4.0 2.4l-4.0 -2.4v-4.9zM989.7 330.6l4.0 2.4v4.9l-4.0 2.4l-4.0 -2.4v-4.9zM875.9 320.5l4.0 2.4v4.9l-4.0 2.4l-4.0 -2.4v-4.9zM886.7 320.5l4.0 2.4v4.9l-4.0 2.4l-4.0 -2.4v-4.9zM897.6 320.5l4.0 2.4v4.9l-4.0 2.4l-4.0 -2.4v-4.9zM908.4 320.5l4.0 2.4v4.9l-4.0 2.4l-4.0 -2.4v-4.9zM919.2 320.5l4.0 2.4v4.9l-4.0 2.4l-4.0 -2.4v-4.9zM930.1 320.5l4.0 2.4v4.9l-4.0 2.4l-4.0 -2.4v-4.9zM940.9 320.5l4.0 2.4v4.9l-4.0 2.4l-4.0 -2.4v-4.9zM951.8 320.5l4.0 2.4v4.9l-4.0 2.4l-4.0 -2.4v-4.9zM962.6 320.5l4.0 2.4v4.9l-4.0 2.4l-4.0 -2.4v-4.9zM973.4 320.5l4.0 2.4v4.9l-4.0 2.4l-4.0 -2.4v-4.9zM984.3 320.5l4.0 2.4v4.9l-4.0 2.4l-4.0 -2.4v-4.9zM881.3 310.5l4.0 2.4v4.9l-4.0 2.4l-4.0 -2.4v-4.9zM892.1 310.5l4.0 2.4v4.9l-4.0 2.4l-4.0 -2.4v-4.9zM903.0 310.5l4.0 2.4v4.9l-4.0 2.4l-4.0 -2.4v-4.9zM913.8 310.5l4.0 2.4v4.9l-4.0 2.4l-4.0 -2.4v-4.9zM924.7 310.5l4.0 2.4v4.9l-4.0 2.4l-4.0 -2.4v-4.9zM935.5 310.5l4.0 2.4v4.9l-4.0 2.4l-4.0 -2.4v-4.9zM946.3 310.5l4.0 2.4v4.9l-4.0 2.4l-4.0 -2.4v-4.9zM957.2 310.5l4.0 2.4v4.9l-4.0 2.4l-4.0 -2.4v-4.9zM968.0 310.5l4.0 2.4v4.9l-4.0 2.4l-4.0 -2.4v-4.9zM978.9 310.5l4.0 2.4v4.9l-4.0 2.4l-4.0 -2.4v-4.9zM989.7 310.5l4.0 2.4v4.9l-4.0 2.4l-4.0 -2.4v-4.9zM886.7 300.4l4.0 2.4v4.9l-4.0 2.4l-4.0 -2.4v-4.9zM897.6 300.4l4.0 2.4v4.9l-4.0 2.4l-4.0 -2.4v-4.9zM908.4 300.4l4.0 2.4v4.9l-4.0 2.4l-4.0 -2.4v-4.9zM919.2 300.4l4.0 2.4v4.9l-4.0 2.4l-4.0 -2.4v-4.9zM930.1 300.4l4.0 2.4v4.9l-4.0 2.4l-4.0 -2.4v-4.9zM940.9 300.4l4.0 2.4v4.9l-4.0 2.4l-4.0 -2.4v-4.9zM951.8 300.4l4.0 2.4v4.9l-4.0 2.4l-4.0 -2.4v-4.9zM962.6 300.4l4.0 2.4v4.9l-4.0 2.4l-4.0 -2.4v-4.9zM973.4 300.4l4.0 2.4v4.9l-4.0 2.4l-4.0 -2.4v-4.9zM984.3 300.4l4.0 2.4v4.9l-4.0 2.4l-4.0 -2.4v-4.9zM995.1 300.4l4.0 2.4v4.9l-4.0 2.4l-4.0 -2.4v-4.9zM892.1 290.4l4.0 2.4v4.9l-4.0 2.4l-4.0 -2.4v-4.9zM903.0 290.4l4.0 2.4v4.9l-4.0 2.4l-4.0 -2.4v-4.9zM913.8 290.4l4.0 2.4v4.9l-4.0 2.4l-4.0 -2.4v-4.9zM924.7 290.4l4.0 2.4v4.9l-4.0 2.4l-4.0 -2.4v-4.9zM935.5 290.4l4.0 2.4v4.9l-4.0 2.4l-4.0 -2.4v-4.9zM946.3 290.4l4.0 2.4v4.9l-4.0 2.4l-4.0 -2.4v-4.9zM957.2 290.4l4.0 2.4v4.9l-4.0 2.4l-4.0 -2.4v-4.9zM968.0 290.4l4.0 2.4v4.9l-4.0 2.4l-4.0 -2.4v-4.9zM978.9 290.4l4.0 2.4v4.9l-4.0 2.4l-4.0 -2.4v-4.9zM989.7 290.4l4.0 2.4v4.9l-4.0 2.4l-4.0 -2.4v-4.9zM897.6 280.3l4.0 2.4v4.9l-4.0 2.4l-4.0 -2.4v-4.9zM908.4 280.3l4.0 2.4v4.9l-4.0 2.4l-4.0 -2.4v-4.9zM919.2 280.3l4.0 2.4v4.9l-4.0 2.4l-4.0 -2.4v-4.9zM930.1 280.3l4.0 2.4v4.9l-4.0 2.4l-4.0 -2.4v-4.9zM940.9 280.3l4.0 2.4v4.9l-4.0 2.4l-4.0 -2.4v-4.9zM951.8 280.3l4.0 2.4v4.9l-4.0 2.4l-4.0 -2.4v-4.9zM962.6 280.3l4.0 2.4v4.9l-4.0 2.4l-4.0 -2.4v-4.9zM973.4 280.3l4.0 2.4v4.9l-4.0 2.4l-4.0 -2.4v-4.9zM984.3 280.3l4.0 2.4v4.9l-4.0 2.4l-4.0 -2.4v-4.9zM995.1 280.3l4.0 2.4v4.9l-4.0 2.4l-4.0 -2.4v-4.9zM903.0 270.3l4.0 2.4v4.9l-4.0 2.4l-4.0 -2.4v-4.9zM913.8 270.3l4.0 2.4v4.9l-4.0 2.4l-4.0 -2.4v-4.9zM924.7 270.3l4.0 2.4v4.9l-4.0 2.4l-4.0 -2.4v-4.9zM935.5 270.3l4.0 2.4v4.9l-4.0 2.4l-4.0 -2.4v-4.9zM946.3 270.3l4.0 2.4v4.9l-4.0 2.4l-4.0 -2.4v-4.9zM957.2 270.3l4.0 2.4v4.9l-4.0 2.4l-4.0 -2.4v-4.9zM968.0 270.3l4.0 2.4v4.9l-4.0 2.4l-4.0 -2.4v-4.9zM978.9 270.3l4.0 2.4v4.9l-4.0 2.4l-4.0 -2.4v-4.9zM989.7 270.3l4.0 2.4v4.9l-4.0 2.4l-4.0 -2.4v-4.9zM908.4 260.2l4.0 2.4v4.9l-4.0 2.4l-4.0 -2.4v-4.9zM919.2 260.2l4.0 2.4v4.9l-4.0 2.4l-4.0 -2.4v-4.9zM930.1 260.2l4.0 2.4v4.9l-4.0 2.4l-4.0 -2.4v-4.9zM940.9 260.2l4.0 2.4v4.9l-4.0 2.4l-4.0 -2.4v-4.9zM951.8 260.2l4.0 2.4v4.9l-4.0 2.4l-4.0 -2.4v-4.9zM962.6 260.2l4.0 2.4v4.9l-4.0 2.4l-4.0 -2.4v-4.9zM973.4 260.2l4.0 2.4v4.9l-4.0 2.4l-4.0 -2.4v-4.9zM984.3 260.2l4.0 2.4v4.9l-4.0 2.4l-4.0 -2.4v-4.9zM995.1 260.2l4.0 2.4v4.9l-4.0 2.4l-4.0 -2.4v-4.9zM913.8 250.2l4.0 2.4v4.9l-4.0 2.4l-4.0 -2.4v-4.9zM924.7 250.2l4.0 2.4v4.9l-4.0 2.4l-4.0 -2.4v-4.9zM935.5 250.2l4.0 2.4v4.9l-4.0 2.4l-4.0 -2.4v-4.9zM946.3 250.2l4.0 2.4v4.9l-4.0 2.4l-4.0 -2.4v-4.9zM957.2 250.2l4.0 2.4v4.9l-4.0 2.4l-4.0 -2.4v-4.9zM968.0 250.2l4.0 2.4v4.9l-4.0 2.4l-4.0 -2.4v-4.9zM978.9 250.2l4.0 2.4v4.9l-4.0 2.4l-4.0 -2.4v-4.9zM989.7 250.2l4.0 2.4v4.9l-4.0 2.4l-4.0 -2.4v-4.9zM919.2 240.1l4.0 2.4v4.9l-4.0 2.4l-4.0 -2.4v-4.9zM930.1 240.1l4.0 2.4v4.9l-4.0 2.4l-4.0 -2.4v-4.9zM940.9 240.1l4.0 2.4v4.9l-4.0 2.4l-4.0 -2.4v-4.9zM951.8 240.1l4.0 2.4v4.9l-4.0 2.4l-4.0 -2.4v-4.9zM962.6 240.1l4.0 2.4v4.9l-4.0 2.4l-4.0 -2.4v-4.9zM973.4 240.1l4.0 2.4v4.9l-4.0 2.4l-4.0 -2.4v-4.9zM984.3 240.1l4.0 2.4v4.9l-4.0 2.4l-4.0 -2.4v-4.9zM995.1 240.1l4.0 2.4v4.9l-4.0 2.4l-4.0 -2.4v-4.9zM924.7 230.1l4.0 2.4v4.9l-4.0 2.4l-4.0 -2.4v-4.9zM935.5 230.1l4.0 2.4v4.9l-4.0 2.4l-4.0 -2.4v-4.9zM946.3 230.1l4.0 2.4v4.9l-4.0 2.4l-4.0 -2.4v-4.9zM957.2 230.1l4.0 2.4v4.9l-4.0 2.4l-4.0 -2.4v-4.9zM968.0 230.1l4.0 2.4v4.9l-4.0 2.4l-4.0 -2.4v-4.9zM978.9 230.1l4.0 2.4v4.9l-4.0 2.4l-4.0 -2.4v-4.9zM989.7 230.1l4.0 2.4v4.9l-4.0 2.4l-4.0 -2.4v-4.9zM930.1 220.0l4.0 2.4v4.9l-4.0 2.4l-4.0 -2.4v-4.9zM940.9 220.0l4.0 2.4v4.9l-4.0 2.4l-4.0 -2.4v-4.9zM951.8 220.0l4.0 2.4v4.9l-4.0 2.4l-4.0 -2.4v-4.9zM962.6 220.0l4.0 2.4v4.9l-4.0 2.4l-4.0 -2.4v-4.9zM973.4 220.0l4.0 2.4v4.9l-4.0 2.4l-4.0 -2.4v-4.9zM984.3 220.0l4.0 2.4v4.9l-4.0 2.4l-4.0 -2.4v-4.9zM995.1 220.0l4.0 2.4v4.9l-4.0 2.4l-4.0 -2.4v-4.9zM935.5 210.0l4.0 2.4v4.9l-4.0 2.4l-4.0 -2.4v-4.9zM946.3 210.0l4.0 2.4v4.9l-4.0 2.4l-4.0 -2.4v-4.9zM957.2 210.0l4.0 2.4v4.9l-4.0 2.4l-4.0 -2.4v-4.9zM968.0 210.0l4.0 2.4v4.9l-4.0 2.4l-4.0 -2.4v-4.9zM978.9 210.0l4.0 2.4v4.9l-4.0 2.4l-4.0 -2.4v-4.9zM989.7 210.0l4.0 2.4v4.9l-4.0 2.4l-4.0 -2.4v-4.9zM940.9 199.9l4.0 2.4v4.9l-4.0 2.4l-4.0 -2.4v-4.9zM951.8 199.9l4.0 2.4v4.9l-4.0 2.4l-4.0 -2.4v-4.9zM962.6 199.9l4.0 2.4v4.9l-4.0 2.4l-4.0 -2.4v-4.9zM973.4 199.9l4.0 2.4v4.9l-4.0 2.4l-4.0 -2.4v-4.9zM984.3 199.9l4.0 2.4v4.9l-4.0 2.4l-4.0 -2.4v-4.9zM995.1 199.9l4.0 2.4v4.9l-4.0 2.4l-4.0 -2.4v-4.9zM946.3 189.9l4.0 2.4v4.9l-4.0 2.4l-4.0 -2.4v-4.9zM957.2 189.9l4.0 2.4v4.9l-4.0 2.4l-4.0 -2.4v-4.9zM968.0 189.9l4.0 2.4v4.9l-4.0 2.4l-4.0 -2.4v-4.9zM978.9 189.9l4.0 2.4v4.9l-4.0 2.4l-4.0 -2.4v-4.9zM989.7 189.9l4.0 2.4v4.9l-4.0 2.4l-4.0 -2.4v-4.9zM951.8 179.8l4.0 2.4v4.9l-4.0 2.4l-4.0 -2.4v-4.9zM962.6 179.8l4.0 2.4v4.9l-4.0 2.4l-4.0 -2.4v-4.9zM973.4 179.8l4.0 2.4v4.9l-4.0 2.4l-4.0 -2.4v-4.9zM984.3 179.8l4.0 2.4v4.9l-4.0 2.4l-4.0 -2.4v-4.9zM957.2 169.8l4.0 2.4v4.9l-4.0 2.4l-4.0 -2.4v-4.9zM968.0 169.8l4.0 2.4v4.9l-4.0 2.4l-4.0 -2.4v-4.9zM978.9 169.8l4.0 2.4v4.9l-4.0 2.4l-4.0 -2.4v-4.9zM962.6 159.7l4.0 2.4v4.9l-4.0 2.4l-4.0 -2.4v-4.9zM973.4 159.7l4.0 2.4v4.9l-4.0 2.4l-4.0 -2.4v-4.9zM968.0 149.7l4.0 2.4v4.9l-4.0 2.4l-4.0 -2.4v-4.9z"/>
<path fill="#d7666a" d="M995.1 360.7l4.0 2.4v4.9l-4.0 2.4l-4.0 -2.4v-4.9zM1006.0 360.7l4.0 2.4v4.9l-4.0 2.4l-4.0 -2.4v-4.9zM1016.8 360.7l4.0 2.4v4.9l-4.0 2.4l-4.0 -2.4v-4.9zM1027.6 360.7l4.0 2.4v4.9l-4.0 2.4l-4.0 -2.4v-4.9zM1038.5 360.7l4.0 2.4v4.9l-4.0 2.4l-4.0 -2.4v-4.9zM1000.5 350.7l4.0 2.4v4.9l-4.0 2.4l-4.0 -2.4v-4.9zM1011.4 350.7l4.0 2.4v4.9l-4.0 2.4l-4.0 -2.4v-4.9zM1022.2 350.7l4.0 2.4v4.9l-4.0 2.4l-4.0 -2.4v-4.9zM1033.1 350.7l4.0 2.4v4.9l-4.0 2.4l-4.0 -2.4v-4.9zM1043.9 350.7l4.0 2.4v4.9l-4.0 2.4l-4.0 -2.4v-4.9zM995.1 340.6l4.0 2.4v4.9l-4.0 2.4l-4.0 -2.4v-4.9zM1006.0 340.6l4.0 2.4v4.9l-4.0 2.4l-4.0 -2.4v-4.9zM1016.8 340.6l4.0 2.4v4.9l-4.0 2.4l-4.0 -2.4v-4.9zM1027.6 340.6l4.0 2.4v4.9l-4.0 2.4l-4.0 -2.4v-4.9zM1038.5 340.6l4.0 2.4v4.9l-4.0 2.4l-4.0 -2.4v-4.9zM1049.3 340.6l4.0 2.4v4.9l-4.0 2.4l-4.0 -2.4v-4.9zM1000.5 330.6l4.0 2.4v4.9l-4.0 2.4l-4.0 -2.4v-4.9zM1011.4 330.6l4.0 2.4v4.9l-4.0 2.4l-4.0 -2.4v-4.9zM1022.2 330.6l4.0 2.4v4.9l-4.0 2.4l-4.0 -2.4v-4.9zM1033.1 330.6l4.0 2.4v4.9l-4.0 2.4l-4.0 -2.4v-4.9zM1043.9 330.6l4.0 2.4v4.9l-4.0 2.4l-4.0 -2.4v-4.9zM995.1 320.5l4.0 2.4v4.9l-4.0 2.4l-4.0 -2.4v-4.9zM1006.0 320.5l4.0 2.4v4.9l-4.0 2.4l-4.0 -2.4v-4.9zM1016.8 320.5l4.0 2.4v4.9l-4.0 2.4l-4.0 -2.4v-4.9zM1027.6 320.5l4.0 2.4v4.9l-4.0 2.4l-4.0 -2.4v-4.9zM1038.5 320.5l4.0 2.4v4.9l-4.0 2.4l-4.0 -2.4v-4.9zM1049.3 320.5l4.0 2.4v4.9l-4.0 2.4l-4.0 -2.4v-4.9zM1000.5 310.5l4.0 2.4v4.9l-4.0 2.4l-4.0 -2.4v-4.9zM1011.4 310.5l4.0 2.4v4.9l-4.0 2.4l-4.0 -2.4v-4.9zM1022.2 310.5l4.0 2.4v4.9l-4.0 2.4l-4.0 -2.4v-4.9zM1033.1 310.5l4.0 2.4v4.9l-4.0 2.4l-4.0 -2.4v-4.9zM1043.9 310.5l4.0 2.4v4.9l-4.0 2.4l-4.0 -2.4v-4.9zM1054.7 310.5l4.0 2.4v4.9l-4.0 2.4l-4.0 -2.4v-4.9zM1006.0 300.4l4.0 2.4v4.9l-4.0 2.4l-4.0 -2.4v-4.9zM1016.8 300.4l4.0 2.4v4.9l-4.0 2.4l-4.0 -2.4v-4.9zM1027.6 300.4l4.0 2.4v4.9l-4.0 2.4l-4.0 -2.4v-4.9zM1038.5 300.4l4.0 2.4v4.9l-4.0 2.4l-4.0 -2.4v-4.9zM1049.3 300.4l4.0 2.4v4.9l-4.0 2.4l-4.0 -2.4v-4.9zM1060.2 300.4l4.0 2.4v4.9l-4.0 2.4l-4.0 -2.4v-4.9zM1000.5 290.4l4.0 2.4v4.9l-4.0 2.4l-4.0 -2.4v-4.9zM1011.4 290.4l4.0 2.4v4.9l-4.0 2.4l-4.0 -2.4v-4.9zM1022.2 290.4l4.0 2.4v4.9l-4.0 2.4l-4.0 -2.4v-4.9zM1033.1 290.4l4.0 2.4v4.9l-4.0 2.4l-4.0 -2.4v-4.9zM1043.9 290.4l4.0 2.4v4.9l-4.0 2.4l-4.0 -2.4v-4.9zM1054.7 290.4l4.0 2.4v4.9l-4.0 2.4l-4.0 -2.4v-4.9zM1065.6 290.4l4.0 2.4v4.9l-4.0 2.4l-4.0 -2.4v-4.9zM1006.0 280.3l4.0 2.4v4.9l-4.0 2.4l-4.0 -2.4v-4.9zM1016.8 280.3l4.0 2.4v4.9l-4.0 2.4l-4.0 -2.4v-4.9zM1027.6 280.3l4.0 2.4v4.9l-4.0 2.4l-4.0 -2.4v-4.9zM1038.5 280.3l4.0 2.4v4.9l-4.0 2.4l-4.0 -2.4v-4.9zM1049.3 280.3l4.0 2.4v4.9l-4.0 2.4l-4.0 -2.4v-4.9zM1060.2 280.3l4.0 2.4v4.9l-4.0 2.4l-4.0 -2.4v-4.9zM1071.0 280.3l4.0 2.4v4.9l-4.0 2.4l-4.0 -2.4v-4.9zM1000.5 270.3l4.0 2.4v4.9l-4.0 2.4l-4.0 -2.4v-4.9zM1011.4 270.3l4.0 2.4v4.9l-4.0 2.4l-4.0 -2.4v-4.9zM1022.2 270.3l4.0 2.4v4.9l-4.0 2.4l-4.0 -2.4v-4.9zM1033.1 270.3l4.0 2.4v4.9l-4.0 2.4l-4.0 -2.4v-4.9zM1043.9 270.3l4.0 2.4v4.9l-4.0 2.4l-4.0 -2.4v-4.9zM1054.7 270.3l4.0 2.4v4.9l-4.0 2.4l-4.0 -2.4v-4.9zM1065.6 270.3l4.0 2.4v4.9l-4.0 2.4l-4.0 -2.4v-4.9zM1006.0 260.2l4.0 2.4v4.9l-4.0 2.4l-4.0 -2.4v-4.9zM1016.8 260.2l4.0 2.4v4.9l-4.0 2.4l-4.0 -2.4v-4.9zM1027.6 260.2l4.0 2.4v4.9l-4.0 2.4l-4.0 -2.4v-4.9zM1038.5 260.2l4.0 2.4v4.9l-4.0 2.4l-4.0 -2.4v-4.9zM1049.3 260.2l4.0 2.4v4.9l-4.0 2.4l-4.0 -2.4v-4.9zM1060.2 260.2l4.0 2.4v4.9l-4.0 2.4l-4.0 -2.4v-4.9zM1071.0 260.2l4.0 2.4v4.9l-4.0 2.4l-4.0 -2.4v-4.9zM1000.5 250.2l4.0 2.4v4.9l-4.0 2.4l-4.0 -2.4v-4.9zM1011.4 250.2l4.0 2.4v4.9l-4.0 2.4l-4.0 -2.4v-4.9zM1022.2 250.2l4.0 2.4v4.9l-4.0 2.4l-4.0 -2.4v-4.9zM1033.1 250.2l4.0 2.4v4.9l-4.0 2.4l-4.0 -2.4v-4.9zM1043.9 250.2l4.0 2.4v4.9l-4.0 2.4l-4.0 -2.4v-4.9zM1054.7 250.2l4.0 2.4v4.9l-4.0 2.4l-4.0 -2.4v-4.9zM1065.6 250.2l4.0 2.4v4.9l-4.0 2.4l-4.0 -2.4v-4.9zM1076.4 250.2l4.0 2.4v4.9l-4.0 2.4l-4.0 -2.4v-4.9zM1006.0 240.1l4.0 2.4v4.9l-4.0 2.4l-4.0 -2.4v-4.9zM1016.8 240.1l4.0 2.4v4.9l-4.0 2.4l-4.0 -2.4v-4.9zM1027.6 240.1l4.0 2.4v4.9l-4.0 2.4l-4.0 -2.4v-4.9zM1038.5 240.1l4.0 2.4v4.9l-4.0 2.4l-4.0 -2.4v-4.9zM1049.3 240.1l4.0 2.4v4.9l-4.0 2.4l-4.0 -2.4v-4.9zM1060.2 240.1l4.0 2.4v4.9l-4.0 2.4l-4.0 -2.4v-4.9zM1071.0 240.1l4.0 2.4v4.9l-4.0 2.4l-4.0 -2.4v-4.9zM1081.8 240.1l4.0 2.4v4.9l-4.0 2.4l-4.0 -2.4v-4.9zM1000.5 230.1l4.0 2.4v4.9l-4.0 2.4l-4.0 -2.4v-4.9zM1011.4 230.1l4.0 2.4v4.9l-4.0 2.4l-4.0 -2.4v-4.9zM1022.2 230.1l4.0 2.4v4.9l-4.0 2.4l-4.0 -2.4v-4.9zM1033.1 230.1l4.0 2.4v4.9l-4.0 2.4l-4.0 -2.4v-4.9zM1043.9 230.1l4.0 2.4v4.9l-4.0 2.4l-4.0 -2.4v-4.9zM1054.7 230.1l4.0 2.4v4.9l-4.0 2.4l-4.0 -2.4v-4.9zM1065.6 230.1l4.0 2.4v4.9l-4.0 2.4l-4.0 -2.4v-4.9zM1076.4 230.1l4.0 2.4v4.9l-4.0 2.4l-4.0 -2.4v-4.9zM1087.3 230.1l4.0 2.4v4.9l-4.0 2.4l-4.0 -2.4v-4.9zM1006.0 220.0l4.0 2.4v4.9l-4.0 2.4l-4.0 -2.4v-4.9zM1016.8 220.0l4.0 2.4v4.9l-4.0 2.4l-4.0 -2.4v-4.9zM1027.6 220.0l4.0 2.4v4.9l-4.0 2.4l-4.0 -2.4v-4.9zM1038.5 220.0l4.0 2.4v4.9l-4.0 2.4l-4.0 -2.4v-4.9zM1049.3 220.0l4.0 2.4v4.9l-4.0 2.4l-4.0 -2.4v-4.9zM1060.2 220.0l4.0 2.4v4.9l-4.0 2.4l-4.0 -2.4v-4.9zM1071.0 220.0l4.0 2.4v4.9l-4.0 2.4l-4.0 -2.4v-4.9zM1000.5 210.0l4.0 2.4v4.9l-4.0 2.4l-4.0 -2.4v-4.9zM1011.4 210.0l4.0 2.4v4.9l-4.0 2.4l-4.0 -2.4v-4.9zM1022.2 210.0l4.0 2.4v4.9l-4.0 2.4l-4.0 -2.4v-4.9zM1033.1 210.0l4.0 2.4v4.9l-4.0 2.4l-4.0 -2.4v-4.9zM1043.9 210.0l4.0 2.4v4.9l-4.0 2.4l-4.0 -2.4v-4.9zM1006.0 199.9l4.0 2.4v4.9l-4.0 2.4l-4.0 -2.4v-4.9zM1016.8 199.9l4.0 2.4v4.9l-4.0 2.4l-4.0 -2.4v-4.9z"/>
<path fill="#9282b2" d="M1049.3 360.7l4.0 2.4v4.9l-4.0 2.4l-4.0 -2.4v-4.9zM1060.2 360.7l4.0 2.4v4.9l-4.0 2.4l-4.0 -2.4v-4.9zM1071.0 360.7l4.0 2.4v4.9l-4.0 2.4l-4.0 -2.4v-4.9zM1081.8 360.7l4.0 2.4v4.9l-4.0 2.4l-4.0 -2.4v-4.9zM1092.7 360.7l4.0 2.4v4.9l-4.0 2.4l-4.0 -2.4v-4.9zM1103.5 360.7l4.0 2.4v4.9l-4.0 2.4l-4.0 -2.4v-4.9zM1114.4 360.7l4.0 2.4v4.9l-4.0 2.4l-4.0 -2.4v-4.9zM1125.2 360.7l4.0 2.4v4.9l-4.0 2.4l-4.0 -2.4v-4.9zM1136.0 360.7l4.0 2.4v4.9l-4.0 2.4l-4.0 -2.4v-4.9zM1146.9 360.7l4.0 2.4v4.9l-4.0 2.4l-4.0 -2.4v-4.9zM1157.7 360.7l4.0 2.4v4.9l-4.0 2.4l-4.0 -2.4v-4.9zM1168.6 360.7l4.0 2.4v4.9l-4.0 2.4l-4.0 -2.4v-4.9zM1179.4 360.7l4.0 2.4v4.9l-4.0 2.4l-4.0 -2.4v-4.9zM1054.7 350.7l4.0 2.4v4.9l-4.0 2.4l-4.0 -2.4v-4.9zM1065.6 350.7l4.0 2.4v4.9l-4.0 2.4l-4.0 -2.4v-4.9zM1076.4 350.7l4.0 2.4v4.9l-4.0 2.4l-4.0 -2.4v-4.9zM1087.3 350.7l4.0 2.4v4.9l-4.0 2.4l-4.0 -2.4v-4.9zM1098.1 350.7l4.0 2.4v4.9l-4.0 2.4l-4.0 -2.4v-4.9zM1108.9 350.7l4.0 2.4v4.9l-4.0 2.4l-4.0 -2.4v-4.9zM1119.8 350.7l4.0 2.4v4.9l-4.0 2.4l-4.0 -2.4v-4.9zM1130.6 350.7l4.0 2.4v4.9l-4.0 2.4l-4.0 -2.4v-4.9zM1141.5 350.7l4.0 2.4v4.9l-4.0 2.4l-4.0 -2.4v-4.9zM1152.3 350.7l4.0 2.4v4.9l-4.0 2.4l-4.0 -2.4v-4.9zM1163.1 350.7l4.0 2.4v4.9l-4.0 2.4l-4.0 -2.4v-4.9zM1174.0 350.7l4.0 2.4v4.9l-4.0 2.4l-4.0 -2.4v-4.9zM1060.2 340.6l4.0 2.4v4.9l-4.0 2.4l-4.0 -2.4v-4.9zM1071.0 340.6l4.0 2.4v4.9l-4.0 2.4l-4.0 -2.4v-4.9zM1081.8 340.6l4.0 2.4v4.9l-4.0 2.4l-4.0 -2.4v-4.9zM1092.7 340.6l4.0 2.4v4.9l-4.0 2.4l-4.0 -2.4v-4.9zM1103.5 340.6l4.0 2.4v4.9l-4.0 2.4l-4.0 -2.4v-4.9zM1114.4 340.6l4.0 2.4v4.9l-4.0 2.4l-4.0 -2.4v-4.9zM1125.2 340.6l4.0 2.4v4.9l-4.0 2.4l-4.0 -2.4v-4.9zM1136.0 340.6l4.0 2.4v4.9l-4.0 2.4l-4.0 -2.4v-4.9zM1146.9 340.6l4.0 2.4v4.9l-4.0 2.4l-4.0 -2.4v-4.9zM1157.7 340.6l4.0 2.4v4.9l-4.0 2.4l-4.0 -2.4v-4.9zM1168.6 340.6l4.0 2.4v4.9l-4.0 2.4l-4.0 -2.4v-4.9zM1054.7 330.6l4.0 2.4v4.9l-4.0 2.4l-4.0 -2.4v-4.9zM1065.6 330.6l4.0 2.4v4.9l-4.0 2.4l-4.0 -2.4v-4.9zM1076.4 330.6l4.0 2.4v4.9l-4.0 2.4l-4.0 -2.4v-4.9zM1087.3 330.6l4.0 2.4v4.9l-4.0 2.4l-4.0 -2.4v-4.9zM1098.1 330.6l4.0 2.4v4.9l-4.0 2.4l-4.0 -2.4v-4.9zM1108.9 330.6l4.0 2.4v4.9l-4.0 2.4l-4.0 -2.4v-4.9zM1119.8 330.6l4.0 2.4v4.9l-4.0 2.4l-4.0 -2.4v-4.9zM1130.6 330.6l4.0 2.4v4.9l-4.0 2.4l-4.0 -2.4v-4.9zM1141.5 330.6l4.0 2.4v4.9l-4.0 2.4l-4.0 -2.4v-4.9zM1152.3 330.6l4.0 2.4v4.9l-4.0 2.4l-4.0 -2.4v-4.9zM1163.1 330.6l4.0 2.4v4.9l-4.0 2.4l-4.0 -2.4v-4.9zM1060.2 320.5l4.0 2.4v4.9l-4.0 2.4l-4.0 -2.4v-4.9zM1071.0 320.5l4.0 2.4v4.9l-4.0 2.4l-4.0 -2.4v-4.9zM1081.8 320.5l4.0 2.4v4.9l-4.0 2.4l-4.0 -2.4v-4.9zM1092.7 320.5l4.0 2.4v4.9l-4.0 2.4l-4.0 -2.4v-4.9zM1103.5 320.5l4.0 2.4v4.9l-4.0 2.4l-4.0 -2.4v-4.9zM1114.4 320.5l4.0 2.4v4.9l-4.0 2.4l-4.0 -2.4v-4.9zM1125.2 320.5l4.0 2.4v4.9l-4.0 2.4l-4.0 -2.4v-4.9zM1136.0 320.5l4.0 2.4v4.9l-4.0 2.4l-4.0 -2.4v-4.9zM1146.9 320.5l4.0 2.4v4.9l-4.0 2.4l-4.0 -2.4v-4.9zM1157.7 320.5l4.0 2.4v4.9l-4.0 2.4l-4.0 -2.4v-4.9zM1065.6 310.5l4.0 2.4v4.9l-4.0 2.4l-4.0 -2.4v-4.9zM1076.4 310.5l4.0 2.4v4.9l-4.0 2.4l-4.0 -2.4v-4.9zM1087.3 310.5l4.0 2.4v4.9l-4.0 2.4l-4.0 -2.4v-4.9zM1098.1 310.5l4.0 2.4v4.9l-4.0 2.4l-4.0 -2.4v-4.9zM1108.9 310.5l4.0 2.4v4.9l-4.0 2.4l-4.0 -2.4v-4.9zM1119.8 310.5l4.0 2.4v4.9l-4.0 2.4l-4.0 -2.4v-4.9zM1130.6 310.5l4.0 2.4v4.9l-4.0 2.4l-4.0 -2.4v-4.9zM1141.5 310.5l4.0 2.4v4.9l-4.0 2.4l-4.0 -2.4v-4.9zM1152.3 310.5l4.0 2.4v4.9l-4.0 2.4l-4.0 -2.4v-4.9zM1071.0 300.4l4.0 2.4v4.9l-4.0 2.4l-4.0 -2.4v-4.9zM1081.8 300.4l4.0 2.4v4.9l-4.0 2.4l-4.0 -2.4v-4.9zM1092.7 300.4l4.0 2.4v4.9l-4.0 2.4l-4.0 -2.4v-4.9zM1103.5 300.4l4.0 2.4v4.9l-4.0 2.4l-4.0 -2.4v-4.9zM1114.4 300.4l4.0 2.4v4.9l-4.0 2.4l-4.0 -2.4v-4.9zM1125.2 300.4l4.0 2.4v4.9l-4.0 2.4l-4.0 -2.4v-4.9zM1136.0 300.4l4.0 2.4v4.9l-4.0 2.4l-4.0 -2.4v-4.9zM1146.9 300.4l4.0 2.4v4.9l-4.0 2.4l-4.0 -2.4v-4.9zM1076.4 290.4l4.0 2.4v4.9l-4.0 2.4l-4.0 -2.4v-4.9zM1087.3 290.4l4.0 2.4v4.9l-4.0 2.4l-4.0 -2.4v-4.9zM1098.1 290.4l4.0 2.4v4.9l-4.0 2.4l-4.0 -2.4v-4.9zM1108.9 290.4l4.0 2.4v4.9l-4.0 2.4l-4.0 -2.4v-4.9zM1119.8 290.4l4.0 2.4v4.9l-4.0 2.4l-4.0 -2.4v-4.9zM1130.6 290.4l4.0 2.4v4.9l-4.0 2.4l-4.0 -2.4v-4.9zM1141.5 290.4l4.0 2.4v4.9l-4.0 2.4l-4.0 -2.4v-4.9zM1081.8 280.3l4.0 2.4v4.9l-4.0 2.4l-4.0 -2.4v-4.9zM1092.7 280.3l4.0 2.4v4.9l-4.0 2.4l-4.0 -2.4v-4.9zM1103.5 280.3l4.0 2.4v4.9l-4.0 2.4l-4.0 -2.4v-4.9zM1114.4 280.3l4.0 2.4v4.9l-4.0 2.4l-4.0 -2.4v-4.9zM1125.2 280.3l4.0 2.4v4.9l-4.0 2.4l-4.0 -2.4v-4.9zM1136.0 280.3l4.0 2.4v4.9l-4.0 2.4l-4.0 -2.4v-4.9zM1076.4 270.3l4.0 2.4v4.9l-4.0 2.4l-4.0 -2.4v-4.9zM1087.3 270.3l4.0 2.4v4.9l-4.0 2.4l-4.0 -2.4v-4.9zM1098.1 270.3l4.0 2.4v4.9l-4.0 2.4l-4.0 -2.4v-4.9zM1108.9 270.3l4.0 2.4v4.9l-4.0 2.4l-4.0 -2.4v-4.9zM1119.8 270.3l4.0 2.4v4.9l-4.0 2.4l-4.0 -2.4v-4.9zM1130.6 270.3l4.0 2.4v4.9l-4.0 2.4l-4.0 -2.4v-4.9zM1081.8 260.2l4.0 2.4v4.9l-4.0 2.4l-4.0 -2.4v-4.9zM1092.7 260.2l4.0 2.4v4.9l-4.0 2.4l-4.0 -2.4v-4.9zM1103.5 260.2l4.0 2.4v4.9l-4.0 2.4l-4.0 -2.4v-4.9zM1114.4 260.2l4.0 2.4v4.9l-4.0 2.4l-4.0 -2.4v-4.9zM1125.2 260.2l4.0 2.4v4.9l-4.0 2.4l-4.0 -2.4v-4.9zM1087.3 250.2l4.0 2.4v4.9l-4.0 2.4l-4.0 -2.4v-4.9zM1098.1 250.2l4.0 2.4v4.9l-4.0 2.4l-4.0 -2.4v-4.9zM1108.9 250.2l4.0 2.4v4.9l-4.0 2.4l-4.0 -2.4v-4.9zM1119.8 250.2l4.0 2.4v4.9l-4.0 2.4l-4.0 -2.4v-4.9zM1092.7 240.1l4.0 2.4v4.9l-4.0 2.4l-4.0 -2.4v-4.9zM1103.5 240.1l4.0 2.4v4.9l-4.0 2.4l-4.0 -2.4v-4.9zM1114.4 240.1l4.0 2.4v4.9l-4.0 2.4l-4.0 -2.4v-4.9zM1098.1 230.1l4.0 2.4v4.9l-4.0 2.4l-4.0 -2.4v-4.9zM1108.9 230.1l4.0 2.4v4.9l-4.0 2.4l-4.0 -2.4v-4.9zM1103.5 220.0l4.0 2.4v4.9l-4.0 2.4l-4.0 -2.4v-4.9z"/>
</g>
<path d="M854.20 365.60l-3.61 6.69M1016.80 64.10l-3.61 -6.69M1179.40 365.60h7.60M908.40 365.60l-3.61 6.69M989.70 114.35l-3.61 -6.69M1152.30 315.35h7.60M962.60 365.60l-3.61 6.69M962.60 164.60l-3.61 -6.69M1125.20 265.10h7.60M1016.80 365.60l-3.61 6.69M935.50 214.85l-3.61 -6.69M1098.10 214.85h7.60M1071.00 365.60l-3.61 6.69M908.40 265.10l-3.61 -6.69M1071.00 164.60h7.60M1125.20 365.60l-3.61 6.69M881.30 315.35l-3.61 -6.69M1043.90 114.35h7.60M1179.40 365.60l-3.61 6.69M854.20 365.60l-3.61 -6.69M1016.80 64.10h7.60" stroke="#000" stroke-width="1.9" fill="none"/>
<polygon points="854.20,365.60 1179.40,365.60 1016.80,64.10" fill="none" stroke="#000" stroke-width="2.1" stroke-linejoin="miter"/>
<g class="tl"><text transform="matrix(1.02 0 0 1.04 840.15 387.00)">0</text>
<text transform="matrix(1.02 0 0 1.04 894.07 387.00)">0.5</text>
<polygon points="953.91,387.00 952.30,387.00 952.30,379.12 949.96,379.12 949.96,377.98 951.18,377.80 951.95,377.25 952.51,376.00 953.91,376.00"/>
<polygon points="1004.83,387.00 1003.22,387.00 1003.22,379.12 1000.88,379.12 1000.88,377.98 1002.10,377.80 1002.87,377.25 1003.43,376.00 1004.83,376.00"/><text transform="matrix(1.02 0 0 1.04 1007.47 387.00)">.5</text>
<text transform="matrix(1.02 0 0 1.04 1056.75 387.00)">2</text>
<text transform="matrix(1.02 0 0 1.04 1107.17 387.00)">2.5</text>
<text transform="matrix(1.02 0 0 1.04 1164.85 387.00)">3</text>
<text transform="matrix(1.02 0 0 1.04 1003.65 55.70)">0</text>
<text transform="matrix(1.02 0 0 1.04 967.67 106.00)">0.5</text>
<polygon points="952.71,155.90 951.10,155.90 951.10,148.02 948.76,148.02 948.76,146.88 949.98,146.70 950.75,146.15 951.31,144.90 952.71,144.90"/>
<polygon points="916.13,206.70 914.52,206.70 914.52,198.82 912.18,198.82 912.18,197.68 913.40,197.50 914.17,196.95 914.73,195.70 916.13,195.70"/><text transform="matrix(1.02 0 0 1.04 918.77 206.70)">.5</text>
<text transform="matrix(1.02 0 0 1.04 892.55 256.60)">2</text>
<text transform="matrix(1.02 0 0 1.04 856.07 306.70)">2.5</text>
<text transform="matrix(1.02 0 0 1.04 837.95 357.10)">3</text>
<text transform="matrix(1.02 0 0 1.04 1025.80 67.70)">3</text>
<text transform="matrix(1.02 0 0 1.04 1052.90 117.90)">2.5</text>
<text transform="matrix(1.02 0 0 1.04 1079.80 168.10)">2</text>
<polygon points="1113.06,218.50 1111.45,218.50 1111.45,210.62 1109.11,210.62 1109.11,209.48 1110.34,209.30 1111.10,208.75 1111.67,207.50 1113.06,207.50"/><text transform="matrix(1.02 0 0 1.04 1115.71 218.50)">.5</text>
<polygon points="1140.16,268.70 1138.55,268.70 1138.55,260.82 1136.21,260.82 1136.21,259.68 1137.44,259.50 1138.20,258.95 1138.77,257.70 1140.16,257.70"/>
<text transform="matrix(1.02 0 0 1.04 1162.60 319.10)">0.5</text>
<text transform="matrix(1.02 0 0 1.04 1191.10 369.00)">0</text>
<text class="g" x="1008.0" y="407.0" text-anchor="middle">α</text>
<g transform="translate(806.8,0.0)" fill="none" stroke="#000" stroke-linecap="round"><path d="M76.6 212.2C79 214.8 80.5 217.4 85.3 220.9" stroke-width="1.25"/><path d="M79.6 217.4C77.6 216.0 74.6 215.5 73.7 217.5C73.3 218.5 74.1 219.2 74.9 219.5" stroke-width="0.95"/></g>
<text class="g" transform="translate(1143.1,220.2) rotate(53)" x="0" y="3.5" text-anchor="middle">β</text></g>
<clipPath id="clipd"><polygon points="454.90,794.60 780.10,794.60 617.50,493.10"/></clipPath>
<g clip-path="url(#clipd)">
<path fill="#10b5de" d="M677.1 616.9l5.6 3.4v6.9l-5.6 3.4l-5.6 -3.4v-6.9zM688.0 616.9l5.6 3.4v6.9l-5.6 3.4l-5.6 -3.4v-6.9zM639.2 606.9l5.6 3.4v6.9l-5.6 3.4l-5.6 -3.4v-6.9zM650.0 606.9l5.6 3.4v6.9l-5.6 3.4l-5.6 -3.4v-6.9zM660.9 606.9l5.6 3.4v6.9l-5.6 3.4l-5.6 -3.4v-6.9zM671.7 606.9l5.6 3.4v6.9l-5.6 3.4l-5.6 -3.4v-6.9zM682.5 606.9l5.6 3.4v6.9l-5.6 3.4l-5.6 -3.4v-6.9zM622.9 596.8l5.6 3.4v6.9l-5.6 3.4l-5.6 -3.4v-6.9zM633.8 596.8l5.6 3.4v6.9l-5.6 3.4l-5.6 -3.4v-6.9zM644.6 596.8l5.6 3.4v6.9l-5.6 3.4l-5.6 -3.4v-6.9zM655.4 596.8l5.6 3.4v6.9l-5.6 3.4l-5.6 -3.4v-6.9zM666.3 596.8l5.6 3.4v6.9l-5.6 3.4l-5.6 -3.4v-6.9zM677.1 596.8l5.6 3.4v6.9l-5.6 3.4l-5.6 -3.4v-6.9zM617.5 586.8l5.6 3.4v6.9l-5.6 3.4l-5.6 -3.4v-6.9zM628.3 586.8l5.6 3.4v6.9l-5.6 3.4l-5.6 -3.4v-6.9zM639.2 586.8l5.6 3.4v6.9l-5.6 3.4l-5.6 -3.4v-6.9zM650.0 586.8l5.6 3.4v6.9l-5.6 3.4l-5.6 -3.4v-6.9zM660.9 586.8l5.6 3.4v6.9l-5.6 3.4l-5.6 -3.4v-6.9zM671.7 586.8l5.6 3.4v6.9l-5.6 3.4l-5.6 -3.4v-6.9zM612.1 576.7l5.6 3.4v6.9l-5.6 3.4l-5.6 -3.4v-6.9zM622.9 576.7l5.6 3.4v6.9l-5.6 3.4l-5.6 -3.4v-6.9zM633.8 576.7l5.6 3.4v6.9l-5.6 3.4l-5.6 -3.4v-6.9zM644.6 576.7l5.6 3.4v6.9l-5.6 3.4l-5.6 -3.4v-6.9zM655.4 576.7l5.6 3.4v6.9l-5.6 3.4l-5.6 -3.4v-6.9zM666.3 576.7l5.6 3.4v6.9l-5.6 3.4l-5.6 -3.4v-6.9zM606.7 566.6l5.6 3.4v6.9l-5.6 3.4l-5.6 -3.4v-6.9zM617.5 566.6l5.6 3.4v6.9l-5.6 3.4l-5.6 -3.4v-6.9zM628.3 566.6l5.6 3.4v6.9l-5.6 3.4l-5.6 -3.4v-6.9zM639.2 566.6l5.6 3.4v6.9l-5.6 3.4l-5.6 -3.4v-6.9zM650.0 566.6l5.6 3.4v6.9l-5.6 3.4l-5.6 -3.4v-6.9zM660.9 566.6l5.6 3.4v6.9l-5.6 3.4l-5.6 -3.4v-6.9zM601.2 556.6l5.6 3.4v6.9l-5.6 3.4l-5.6 -3.4v-6.9zM612.1 556.6l5.6 3.4v6.9l-5.6 3.4l-5.6 -3.4v-6.9zM622.9 556.6l5.6 3.4v6.9l-5.6 3.4l-5.6 -3.4v-6.9zM633.8 556.6l5.6 3.4v6.9l-5.6 3.4l-5.6 -3.4v-6.9zM644.6 556.6l5.6 3.4v6.9l-5.6 3.4l-5.6 -3.4v-6.9zM655.4 556.6l5.6 3.4v6.9l-5.6 3.4l-5.6 -3.4v-6.9zM595.8 546.6l5.6 3.4v6.9l-5.6 3.4l-5.6 -3.4v-6.9zM606.7 546.6l5.6 3.4v6.9l-5.6 3.4l-5.6 -3.4v-6.9zM617.5 546.6l5.6 3.4v6.9l-5.6 3.4l-5.6 -3.4v-6.9zM628.3 546.6l5.6 3.4v6.9l-5.6 3.4l-5.6 -3.4v-6.9zM639.2 546.6l5.6 3.4v6.9l-5.6 3.4l-5.6 -3.4v-6.9zM650.0 546.6l5.6 3.4v6.9l-5.6 3.4l-5.6 -3.4v-6.9zM590.4 536.5l5.6 3.4v6.9l-5.6 3.4l-5.6 -3.4v-6.9zM601.2 536.5l5.6 3.4v6.9l-5.6 3.4l-5.6 -3.4v-6.9zM612.1 536.5l5.6 3.4v6.9l-5.6 3.4l-5.6 -3.4v-6.9zM622.9 536.5l5.6 3.4v6.9l-5.6 3.4l-5.6 -3.4v-6.9zM633.8 536.5l5.6 3.4v6.9l-5.6 3.4l-5.6 -3.4v-6.9zM644.6 536.5l5.6 3.4v6.9l-5.6 3.4l-5.6 -3.4v-6.9zM595.8 526.4l5.6 3.4v6.9l-5.6 3.4l-5.6 -3.4v-6.9zM606.7 526.4l5.6 3.4v6.9l-5.6 3.4l-5.6 -3.4v-6.9zM617.5 526.4l5.6 3.4v6.9l-5.6 3.4l-5.6 -3.4v-6.9zM628.3 526.4l5.6 3.4v6.9l-5.6 3.4l-5.6 -3.4v-6.9zM639.2 526.4l5.6 3.4v6.9l-5.6 3.4l-5.6 -3.4v-6.9zM601.2 516.4l5.6 3.4v6.9l-5.6 3.4l-5.6 -3.4v-6.9zM612.1 516.4l5.6 3.4v6.9l-5.6 3.4l-5.6 -3.4v-6.9zM622.9 516.4l5.6 3.4v6.9l-5.6 3.4l-5.6 -3.4v-6.9zM633.8 516.4l5.6 3.4v6.9l-5.6 3.4l-5.6 -3.4v-6.9zM606.7 506.4l5.6 3.4v6.9l-5.6 3.4l-5.6 -3.4v-6.9zM617.5 506.4l5.6 3.4v6.9l-5.6 3.4l-5.6 -3.4v-6.9zM628.3 506.4l5.6 3.4v6.9l-5.6 3.4l-5.6 -3.4v-6.9zM612.1 496.3l5.6 3.4v6.9l-5.6 3.4l-5.6 -3.4v-6.9zM622.9 496.3l5.6 3.4v6.9l-5.6 3.4l-5.6 -3.4v-6.9zM617.5 486.2l5.6 3.4v6.9l-5.6 3.4l-5.6 -3.4v-6.9z"/>
<path fill="#e58a16" d="M454.9 787.8l5.6 3.4v6.9l-5.6 3.4l-5.6 -3.4v-6.9zM465.7 787.8l5.6 3.4v6.9l-5.6 3.4l-5.6 -3.4v-6.9zM476.6 787.8l5.6 3.4v6.9l-5.6 3.4l-5.6 -3.4v-6.9zM487.4 787.8l5.6 3.4v6.9l-5.6 3.4l-5.6 -3.4v-6.9zM498.3 787.8l5.6 3.4v6.9l-5.6 3.4l-5.6 -3.4v-6.9zM509.1 787.8l5.6 3.4v6.9l-5.6 3.4l-5.6 -3.4v-6.9zM519.9 787.8l5.6 3.4v6.9l-5.6 3.4l-5.6 -3.4v-6.9zM530.8 787.8l5.6 3.4v6.9l-5.6 3.4l-5.6 -3.4v-6.9zM541.6 787.8l5.6 3.4v6.9l-5.6 3.4l-5.6 -3.4v-6.9zM552.5 787.8l5.6 3.4v6.9l-5.6 3.4l-5.6 -3.4v-6.9zM563.3 787.8l5.6 3.4v6.9l-5.6 3.4l-5.6 -3.4v-6.9zM574.1 787.8l5.6 3.4v6.9l-5.6 3.4l-5.6 -3.4v-6.9zM585.0 787.8l5.6 3.4v6.9l-5.6 3.4l-5.6 -3.4v-6.9zM595.8 787.8l5.6 3.4v6.9l-5.6 3.4l-5.6 -3.4v-6.9zM460.3 777.7l5.6 3.4v6.9l-5.6 3.4l-5.6 -3.4v-6.9zM471.2 777.7l5.6 3.4v6.9l-5.6 3.4l-5.6 -3.4v-6.9zM482.0 777.7l5.6 3.4v6.9l-5.6 3.4l-5.6 -3.4v-6.9zM492.8 777.7l5.6 3.4v6.9l-5.6 3.4l-5.6 -3.4v-6.9zM503.7 777.7l5.6 3.4v6.9l-5.6 3.4l-5.6 -3.4v-6.9zM514.5 777.7l5.6 3.4v6.9l-5.6 3.4l-5.6 -3.4v-6.9zM525.4 777.7l5.6 3.4v6.9l-5.6 3.4l-5.6 -3.4v-6.9zM536.2 777.7l5.6 3.4v6.9l-5.6 3.4l-5.6 -3.4v-6.9zM547.0 777.7l5.6 3.4v6.9l-5.6 3.4l-5.6 -3.4v-6.9zM557.9 777.7l5.6 3.4v6.9l-5.6 3.4l-5.6 -3.4v-6.9zM568.7 777.7l5.6 3.4v6.9l-5.6 3.4l-5.6 -3.4v-6.9zM579.6 777.7l5.6 3.4v6.9l-5.6 3.4l-5.6 -3.4v-6.9zM590.4 777.7l5.6 3.4v6.9l-5.6 3.4l-5.6 -3.4v-6.9zM465.7 767.6l5.6 3.4v6.9l-5.6 3.4l-5.6 -3.4v-6.9zM476.6 767.6l5.6 3.4v6.9l-5.6 3.4l-5.6 -3.4v-6.9zM487.4 767.6l5.6 3.4v6.9l-5.6 3.4l-5.6 -3.4v-6.9zM498.3 767.6l5.6 3.4v6.9l-5.6 3.4l-5.6 -3.4v-6.9zM509.1 767.6l5.6 3.4v6.9l-5.6 3.4l-5.6 -3.4v-6.9zM519.9 767.6l5.6 3.4v6.9l-5.6 3.4l-5.6 -3.4v-6.9zM530.8 767.6l5.6 3.4v6.9l-5.6 3.4l-5.6 -3.4v-6.9zM541.6 767.6l5.6 3.4v6.9l-5.6 3.4l-5.6 -3.4v-6.9zM552.5 767.6l5.6 3.4v6.9l-5.6 3.4l-5.6 -3.4v-6.9zM563.3 767.6l5.6 3.4v6.9l-5.6 3.4l-5.6 -3.4v-6.9zM574.1 767.6l5.6 3.4v6.9l-5.6 3.4l-5.6 -3.4v-6.9zM585.0 767.6l5.6 3.4v6.9l-5.6 3.4l-5.6 -3.4v-6.9zM595.8 767.6l5.6 3.4v6.9l-5.6 3.4l-5.6 -3.4v-6.9zM471.2 757.6l5.6 3.4v6.9l-5.6 3.4l-5.6 -3.4v-6.9zM482.0 757.6l5.6 3.4v6.9l-5.6 3.4l-5.6 -3.4v-6.9zM492.8 757.6l5.6 3.4v6.9l-5.6 3.4l-5.6 -3.4v-6.9zM503.7 757.6l5.6 3.4v6.9l-5.6 3.4l-5.6 -3.4v-6.9zM514.5 757.6l5.6 3.4v6.9l-5.6 3.4l-5.6 -3.4v-6.9zM525.4 757.6l5.6 3.4v6.9l-5.6 3.4l-5.6 -3.4v-6.9zM536.2 757.6l5.6 3.4v6.9l-5.6 3.4l-5.6 -3.4v-6.9zM547.0 757.6l5.6 3.4v6.9l-5.6 3.4l-5.6 -3.4v-6.9zM557.9 757.6l5.6 3.4v6.9l-5.6 3.4l-5.6 -3.4v-6.9zM568.7 757.6l5.6 3.4v6.9l-5.6 3.4l-5.6 -3.4v-6.9zM579.6 757.6l5.6 3.4v6.9l-5.6 3.4l-5.6 -3.4v-6.9zM590.4 757.6l5.6 3.4v6.9l-5.6 3.4l-5.6 -3.4v-6.9zM601.2 757.6l5.6 3.4v6.9l-5.6 3.4l-5.6 -3.4v-6.9zM476.6 747.5l5.6 3.4v6.9l-5.6 3.4l-5.6 -3.4v-6.9zM487.4 747.5l5.6 3.4v6.9l-5.6 3.4l-5.6 -3.4v-6.9zM498.3 747.5l5.6 3.4v6.9l-5.6 3.4l-5.6 -3.4v-6.9zM509.1 747.5l5.6 3.4v6.9l-5.6 3.4l-5.6 -3.4v-6.9zM519.9 747.5l5.6 3.4v6.9l-5.6 3.4l-5.6 -3.4v-6.9zM530.8 747.5l5.6 3.4v6.9l-5.6 3.4l-5.6 -3.4v-6.9zM541.6 747.5l5.6 3.4v6.9l-5.6 3.4l-5.6 -3.4v-6.9zM552.5 747.5l5.6 3.4v6.9l-5.6 3.4l-5.6 -3.4v-6.9zM563.3 747.5l5.6 3.4v6.9l-5.6 3.4l-5.6 -3.4v-6.9zM574.1 747.5l5.6 3.4v6.9l-5.6 3.4l-5.6 -3.4v-6.9zM585.0 747.5l5.6 3.4v6.9l-5.6 3.4l-5.6 -3.4v-6.9zM595.8 747.5l5.6 3.4v6.9l-5.6 3.4l-5.6 -3.4v-6.9zM482.0 737.5l5.6 3.4v6.9l-5.6 3.4l-5.6 -3.4v-6.9zM492.8 737.5l5.6 3.4v6.9l-5.6 3.4l-5.6 -3.4v-6.9zM503.7 737.5l5.6 3.4v6.9l-5.6 3.4l-5.6 -3.4v-6.9zM514.5 737.5l5.6 3.4v6.9l-5.6 3.4l-5.6 -3.4v-6.9zM525.4 737.5l5.6 3.4v6.9l-5.6 3.4l-5.6 -3.4v-6.9zM536.2 737.5l5.6 3.4v6.9l-5.6 3.4l-5.6 -3.4v-6.9zM547.0 737.5l5.6 3.4v6.9l-5.6 3.4l-5.6 -3.4v-6.9zM557.9 737.5l5.6 3.4v6.9l-5.6 3.4l-5.6 -3.4v-6.9zM568.7 737.5l5.6 3.4v6.9l-5.6 3.4l-5.6 -3.4v-6.9zM579.6 737.5l5.6 3.4v6.9l-5.6 3.4l-5.6 -3.4v-6.9zM590.4 737.5l5.6 3.4v6.9l-5.6 3.4l-5.6 -3.4v-6.9zM601.2 737.5l5.6 3.4v6.9l-5.6 3.4l-5.6 -3.4v-6.9zM487.4 727.5l5.6 3.4v6.9l-5.6 3.4l-5.6 -3.4v-6.9zM498.3 727.5l5.6 3.4v6.9l-5.6 3.4l-5.6 -3.4v-6.9zM509.1 727.5l5.6 3.4v6.9l-5.6 3.4l-5.6 -3.4v-6.9zM519.9 727.5l5.6 3.4v6.9l-5.6 3.4l-5.6 -3.4v-6.9zM530.8 727.5l5.6 3.4v6.9l-5.6 3.4l-5.6 -3.4v-6.9zM541.6 727.5l5.6 3.4v6.9l-5.6 3.4l-5.6 -3.4v-6.9zM552.5 727.5l5.6 3.4v6.9l-5.6 3.4l-5.6 -3.4v-6.9zM563.3 727.5l5.6 3.4v6.9l-5.6 3.4l-5.6 -3.4v-6.9zM574.1 727.5l5.6 3.4v6.9l-5.6 3.4l-5.6 -3.4v-6.9zM585.0 727.5l5.6 3.4v6.9l-5.6 3.4l-5.6 -3.4v-6.9zM595.8 727.5l5.6 3.4v6.9l-5.6 3.4l-5.6 -3.4v-6.9zM492.8 717.4l5.6 3.4v6.9l-5.6 3.4l-5.6 -3.4v-6.9zM503.7 717.4l5.6 3.4v6.9l-5.6 3.4l-5.6 -3.4v-6.9zM514.5 717.4l5.6 3.4v6.9l-5.6 3.4l-5.6 -3.4v-6.9zM525.4 717.4l5.6 3.4v6.9l-5.6 3.4l-5.6 -3.4v-6.9zM536.2 717.4l5.6 3.4v6.9l-5.6 3.4l-5.6 -3.4v-6.9zM547.0 717.4l5.6 3.4v6.9l-5.6 3.4l-5.6 -3.4v-6.9zM557.9 717.4l5.6 3.4v6.9l-5.6 3.4l-5.6 -3.4v-6.9zM568.7 717.4l5.6 3.4v6.9l-5.6 3.4l-5.6 -3.4v-6.9zM579.6 717.4l5.6 3.4v6.9l-5.6 3.4l-5.6 -3.4v-6.9zM590.4 717.4l5.6 3.4v6.9l-5.6 3.4l-5.6 -3.4v-6.9zM601.2 717.4l5.6 3.4v6.9l-5.6 3.4l-5.6 -3.4v-6.9zM498.3 707.4l5.6 3.4v6.9l-5.6 3.4l-5.6 -3.4v-6.9zM509.1 707.4l5.6 3.4v6.9l-5.6 3.4l-5.6 -3.4v-6.9zM519.9 707.4l5.6 3.4v6.9l-5.6 3.4l-5.6 -3.4v-6.9zM530.8 707.4l5.6 3.4v6.9l-5.6 3.4l-5.6 -3.4v-6.9zM541.6 707.4l5.6 3.4v6.9l-5.6 3.4l-5.6 -3.4v-6.9zM552.5 707.4l5.6 3.4v6.9l-5.6 3.4l-5.6 -3.4v-6.9zM563.3 707.4l5.6 3.4v6.9l-5.6 3.4l-5.6 -3.4v-6.9zM574.1 707.4l5.6 3.4v6.9l-5.6 3.4l-5.6 -3.4v-6.9zM585.0 707.4l5.6 3.4v6.9l-5.6 3.4l-5.6 -3.4v-6.9zM595.8 707.4l5.6 3.4v6.9l-5.6 3.4l-5.6 -3.4v-6.9zM606.7 707.4l5.6 3.4v6.9l-5.6 3.4l-5.6 -3.4v-6.9zM503.7 697.3l5.6 3.4v6.9l-5.6 3.4l-5.6 -3.4v-6.9zM514.5 697.3l5.6 3.4v6.9l-5.6 3.4l-5.6 -3.4v-6.9zM525.4 697.3l5.6 3.4v6.9l-5.6 3.4l-5.6 -3.4v-6.9zM536.2 697.3l5.6 3.4v6.9l-5.6 3.4l-5.6 -3.4v-6.9zM547.0 697.3l5.6 3.4v6.9l-5.6 3.4l-5.6 -3.4v-6.9zM557.9 697.3l5.6 3.4v6.9l-5.6 3.4l-5.6 -3.4v-6.9zM568.7 697.3l5.6 3.4v6.9l-5.6 3.4l-5.6 -3.4v-6.9zM579.6 697.3l5.6 3.4v6.9l-5.6 3.4l-5.6 -3.4v-6.9zM590.4 697.3l5.6 3.4v6.9l-5.6 3.4l-5.6 -3.4v-6.9zM601.2 697.3l5.6 3.4v6.9l-5.6 3.4l-5.6 -3.4v-6.9zM509.1 687.2l5.6 3.4v6.9l-5.6 3.4l-5.6 -3.4v-6.9zM519.9 687.2l5.6 3.4v6.9l-5.6 3.4l-5.6 -3.4v-6.9zM530.8 687.2l5.6 3.4v6.9l-5.6 3.4l-5.6 -3.4v-6.9zM541.6 687.2l5.6 3.4v6.9l-5.6 3.4l-5.6 -3.4v-6.9zM552.5 687.2l5.6 3.4v6.9l-5.6 3.4l-5.6 -3.4v-6.9zM563.3 687.2l5.6 3.4v6.9l-5.6 3.4l-5.6 -3.4v-6.9zM574.1 687.2l5.6 3.4v6.9l-5.6 3.4l-5.6 -3.4v-6.9zM585.0 687.2l5.6 3.4v6.9l-5.6 3.4l-5.6 -3.4v-6.9zM595.8 687.2l5.6 3.4v6.9l-5.6 3.4l-5.6 -3.4v-6.9zM606.7 687.2l5.6 3.4v6.9l-5.6 3.4l-5.6 -3.4v-6.9zM514.5 677.2l5.6 3.4v6.9l-5.6 3.4l-5.6 -3.4v-6.9zM525.4 677.2l5.6 3.4v6.9l-5.6 3.4l-5.6 -3.4v-6.9zM536.2 677.2l5.6 3.4v6.9l-5.6 3.4l-5.6 -3.4v-6.9zM547.0 677.2l5.6 3.4v6.9l-5.6 3.4l-5.6 -3.4v-6.9zM557.9 677.2l5.6 3.4v6.9l-5.6 3.4l-5.6 -3.4v-6.9zM568.7 677.2l5.6 3.4v6.9l-5.6 3.4l-5.6 -3.4v-6.9zM579.6 677.2l5.6 3.4v6.9l-5.6 3.4l-5.6 -3.4v-6.9zM590.4 677.2l5.6 3.4v6.9l-5.6 3.4l-5.6 -3.4v-6.9zM601.2 677.2l5.6 3.4v6.9l-5.6 3.4l-5.6 -3.4v-6.9zM612.1 677.2l5.6 3.4v6.9l-5.6 3.4l-5.6 -3.4v-6.9zM519.9 667.1l5.6 3.4v6.9l-5.6 3.4l-5.6 -3.4v-6.9zM530.8 667.1l5.6 3.4v6.9l-5.6 3.4l-5.6 -3.4v-6.9zM541.6 667.1l5.6 3.4v6.9l-5.6 3.4l-5.6 -3.4v-6.9zM552.5 667.1l5.6 3.4v6.9l-5.6 3.4l-5.6 -3.4v-6.9zM563.3 667.1l5.6 3.4v6.9l-5.6 3.4l-5.6 -3.4v-6.9zM574.1 667.1l5.6 3.4v6.9l-5.6 3.4l-5.6 -3.4v-6.9zM585.0 667.1l5.6 3.4v6.9l-5.6 3.4l-5.6 -3.4v-6.9zM595.8 667.1l5.6 3.4v6.9l-5.6 3.4l-5.6 -3.4v-6.9zM606.7 667.1l5.6 3.4v6.9l-5.6 3.4l-5.6 -3.4v-6.9zM525.4 657.1l5.6 3.4v6.9l-5.6 3.4l-5.6 -3.4v-6.9zM536.2 657.1l5.6 3.4v6.9l-5.6 3.4l-5.6 -3.4v-6.9zM547.0 657.1l5.6 3.4v6.9l-5.6 3.4l-5.6 -3.4v-6.9zM557.9 657.1l5.6 3.4v6.9l-5.6 3.4l-5.6 -3.4v-6.9zM568.7 657.1l5.6 3.4v6.9l-5.6 3.4l-5.6 -3.4v-6.9zM579.6 657.1l5.6 3.4v6.9l-5.6 3.4l-5.6 -3.4v-6.9zM590.4 657.1l5.6 3.4v6.9l-5.6 3.4l-5.6 -3.4v-6.9zM601.2 657.1l5.6 3.4v6.9l-5.6 3.4l-5.6 -3.4v-6.9zM612.1 657.1l5.6 3.4v6.9l-5.6 3.4l-5.6 -3.4v-6.9zM530.8 647.1l5.6 3.4v6.9l-5.6 3.4l-5.6 -3.4v-6.9zM541.6 647.1l5.6 3.4v6.9l-5.6 3.4l-5.6 -3.4v-6.9zM552.5 647.1l5.6 3.4v6.9l-5.6 3.4l-5.6 -3.4v-6.9zM563.3 647.1l5.6 3.4v6.9l-5.6 3.4l-5.6 -3.4v-6.9zM574.1 647.1l5.6 3.4v6.9l-5.6 3.4l-5.6 -3.4v-6.9zM585.0 647.1l5.6 3.4v6.9l-5.6 3.4l-5.6 -3.4v-6.9zM595.8 647.1l5.6 3.4v6.9l-5.6 3.4l-5.6 -3.4v-6.9zM606.7 647.1l5.6 3.4v6.9l-5.6 3.4l-5.6 -3.4v-6.9zM617.5 647.1l5.6 3.4v6.9l-5.6 3.4l-5.6 -3.4v-6.9zM536.2 637.0l5.6 3.4v6.9l-5.6 3.4l-5.6 -3.4v-6.9zM547.0 637.0l5.6 3.4v6.9l-5.6 3.4l-5.6 -3.4v-6.9zM557.9 637.0l5.6 3.4v6.9l-5.6 3.4l-5.6 -3.4v-6.9zM568.7 637.0l5.6 3.4v6.9l-5.6 3.4l-5.6 -3.4v-6.9zM579.6 637.0l5.6 3.4v6.9l-5.6 3.4l-5.6 -3.4v-6.9zM590.4 637.0l5.6 3.4v6.9l-5.6 3.4l-5.6 -3.4v-6.9zM601.2 637.0l5.6 3.4v6.9l-5.6 3.4l-5.6 -3.4v-6.9zM612.1 637.0l5.6 3.4v6.9l-5.6 3.4l-5.6 -3.4v-6.9zM541.6 626.9l5.6 3.4v6.9l-5.6 3.4l-5.6 -3.4v-6.9zM552.5 626.9l5.6 3.4v6.9l-5.6 3.4l-5.6 -3.4v-6.9zM563.3 626.9l5.6 3.4v6.9l-5.6 3.4l-5.6 -3.4v-6.9zM574.1 626.9l5.6 3.4v6.9l-5.6 3.4l-5.6 -3.4v-6.9zM585.0 626.9l5.6 3.4v6.9l-5.6 3.4l-5.6 -3.4v-6.9zM595.8 626.9l5.6 3.4v6.9l-5.6 3.4l-5.6 -3.4v-6.9zM606.7 626.9l5.6 3.4v6.9l-5.6 3.4l-5.6 -3.4v-6.9zM617.5 626.9l5.6 3.4v6.9l-5.6 3.4l-5.6 -3.4v-6.9zM547.0 616.9l5.6 3.4v6.9l-5.6 3.4l-5.6 -3.4v-6.9zM557.9 616.9l5.6 3.4v6.9l-5.6 3.4l-5.6 -3.4v-6.9zM568.7 616.9l5.6 3.4v6.9l-5.6 3.4l-5.6 -3.4v-6.9zM579.6 616.9l5.6 3.4v6.9l-5.6 3.4l-5.6 -3.4v-6.9zM590.4 616.9l5.6 3.4v6.9l-5.6 3.4l-5.6 -3.4v-6.9zM601.2 616.9l5.6 3.4v6.9l-5.6 3.4l-5.6 -3.4v-6.9zM612.1 616.9l5.6 3.4v6.9l-5.6 3.4l-5.6 -3.4v-6.9zM622.9 616.9l5.6 3.4v6.9l-5.6 3.4l-5.6 -3.4v-6.9zM552.5 606.9l5.6 3.4v6.9l-5.6 3.4l-5.6 -3.4v-6.9zM563.3 606.9l5.6 3.4v6.9l-5.6 3.4l-5.6 -3.4v-6.9zM574.1 606.9l5.6 3.4v6.9l-5.6 3.4l-5.6 -3.4v-6.9zM585.0 606.9l5.6 3.4v6.9l-5.6 3.4l-5.6 -3.4v-6.9zM595.8 606.9l5.6 3.4v6.9l-5.6 3.4l-5.6 -3.4v-6.9zM606.7 606.9l5.6 3.4v6.9l-5.6 3.4l-5.6 -3.4v-6.9zM617.5 606.9l5.6 3.4v6.9l-5.6 3.4l-5.6 -3.4v-6.9zM557.9 596.8l5.6 3.4v6.9l-5.6 3.4l-5.6 -3.4v-6.9zM568.7 596.8l5.6 3.4v6.9l-5.6 3.4l-5.6 -3.4v-6.9zM579.6 596.8l5.6 3.4v6.9l-5.6 3.4l-5.6 -3.4v-6.9zM590.4 596.8l5.6 3.4v6.9l-5.6 3.4l-5.6 -3.4v-6.9zM601.2 596.8l5.6 3.4v6.9l-5.6 3.4l-5.6 -3.4v-6.9zM612.1 596.8l5.6 3.4v6.9l-5.6 3.4l-5.6 -3.4v-6.9zM563.3 586.8l5.6 3.4v6.9l-5.6 3.4l-5.6 -3.4v-6.9zM574.1 586.8l5.6 3.4v6.9l-5.6 3.4l-5.6 -3.4v-6.9zM585.0 586.8l5.6 3.4v6.9l-5.6 3.4l-5.6 -3.4v-6.9zM595.8 586.8l5.6 3.4v6.9l-5.6 3.4l-5.6 -3.4v-6.9zM606.7 586.8l5.6 3.4v6.9l-5.6 3.4l-5.6 -3.4v-6.9zM568.7 576.7l5.6 3.4v6.9l-5.6 3.4l-5.6 -3.4v-6.9zM579.6 576.7l5.6 3.4v6.9l-5.6 3.4l-5.6 -3.4v-6.9zM590.4 576.7l5.6 3.4v6.9l-5.6 3.4l-5.6 -3.4v-6.9zM601.2 576.7l5.6 3.4v6.9l-5.6 3.4l-5.6 -3.4v-6.9zM574.1 566.6l5.6 3.4v6.9l-5.6 3.4l-5.6 -3.4v-6.9zM585.0 566.6l5.6 3.4v6.9l-5.6 3.4l-5.6 -3.4v-6.9zM595.8 566.6l5.6 3.4v6.9l-5.6 3.4l-5.6 -3.4v-6.9zM579.6 556.6l5.6 3.4v6.9l-5.6 3.4l-5.6 -3.4v-6.9zM590.4 556.6l5.6 3.4v6.9l-5.6 3.4l-5.6 -3.4v-6.9zM585.0 546.6l5.6 3.4v6.9l-5.6 3.4l-5.6 -3.4v-6.9z"/>
<path fill="#c8222a" d="M606.7 787.8l5.6 3.4v6.9l-5.6 3.4l-5.6 -3.4v-6.9zM617.5 787.8l5.6 3.4v6.9l-5.6 3.4l-5.6 -3.4v-6.9zM628.3 787.8l5.6 3.4v6.9l-5.6 3.4l-5.6 -3.4v-6.9zM639.2 787.8l5.6 3.4v6.9l-5.6 3.4l-5.6 -3.4v-6.9zM601.2 777.7l5.6 3.4v6.9l-5.6 3.4l-5.6 -3.4v-6.9zM612.1 777.7l5.6 3.4v6.9l-5.6 3.4l-5.6 -3.4v-6.9zM622.9 777.7l5.6 3.4v6.9l-5.6 3.4l-5.6 -3.4v-6.9zM633.8 777.7l5.6 3.4v6.9l-5.6 3.4l-5.6 -3.4v-6.9zM644.6 777.7l5.6 3.4v6.9l-5.6 3.4l-5.6 -3.4v-6.9zM606.7 767.6l5.6 3.4v6.9l-5.6 3.4l-5.6 -3.4v-6.9zM617.5 767.6l5.6 3.4v6.9l-5.6 3.4l-5.6 -3.4v-6.9zM628.3 767.6l5.6 3.4v6.9l-5.6 3.4l-5.6 -3.4v-6.9zM639.2 767.6l5.6 3.4v6.9l-5.6 3.4l-5.6 -3.4v-6.9zM650.0 767.6l5.6 3.4v6.9l-5.6 3.4l-5.6 -3.4v-6.9zM612.1 757.6l5.6 3.4v6.9l-5.6 3.4l-5.6 -3.4v-6.9zM622.9 757.6l5.6 3.4v6.9l-5.6 3.4l-5.6 -3.4v-6.9zM633.8 757.6l5.6 3.4v6.9l-5.6 3.4l-5.6 -3.4v-6.9zM644.6 757.6l5.6 3.4v6.9l-5.6 3.4l-5.6 -3.4v-6.9zM606.7 747.5l5.6 3.4v6.9l-5.6 3.4l-5.6 -3.4v-6.9zM617.5 747.5l5.6 3.4v6.9l-5.6 3.4l-5.6 -3.4v-6.9zM628.3 747.5l5.6 3.4v6.9l-5.6 3.4l-5.6 -3.4v-6.9zM639.2 747.5l5.6 3.4v6.9l-5.6 3.4l-5.6 -3.4v-6.9zM650.0 747.5l5.6 3.4v6.9l-5.6 3.4l-5.6 -3.4v-6.9zM612.1 737.5l5.6 3.4v6.9l-5.6 3.4l-5.6 -3.4v-6.9zM622.9 737.5l5.6 3.4v6.9l-5.6 3.4l-5.6 -3.4v-6.9zM633.8 737.5l5.6 3.4v6.9l-5.6 3.4l-5.6 -3.4v-6.9zM644.6 737.5l5.6 3.4v6.9l-5.6 3.4l-5.6 -3.4v-6.9zM655.4 737.5l5.6 3.4v6.9l-5.6 3.4l-5.6 -3.4v-6.9zM606.7 727.5l5.6 3.4v6.9l-5.6 3.4l-5.6 -3.4v-6.9zM617.5 727.5l5.6 3.4v6.9l-5.6 3.4l-5.6 -3.4v-6.9zM628.3 727.5l5.6 3.4v6.9l-5.6 3.4l-5.6 -3.4v-6.9zM639.2 727.5l5.6 3.4v6.9l-5.6 3.4l-5.6 -3.4v-6.9zM650.0 727.5l5.6 3.4v6.9l-5.6 3.4l-5.6 -3.4v-6.9zM660.9 727.5l5.6 3.4v6.9l-5.6 3.4l-5.6 -3.4v-6.9zM612.1 717.4l5.6 3.4v6.9l-5.6 3.4l-5.6 -3.4v-6.9zM622.9 717.4l5.6 3.4v6.9l-5.6 3.4l-5.6 -3.4v-6.9zM633.8 717.4l5.6 3.4v6.9l-5.6 3.4l-5.6 -3.4v-6.9zM644.6 717.4l5.6 3.4v6.9l-5.6 3.4l-5.6 -3.4v-6.9zM655.4 717.4l5.6 3.4v6.9l-5.6 3.4l-5.6 -3.4v-6.9zM666.3 717.4l5.6 3.4v6.9l-5.6 3.4l-5.6 -3.4v-6.9zM617.5 707.4l5.6 3.4v6.9l-5.6 3.4l-5.6 -3.4v-6.9zM628.3 707.4l5.6 3.4v6.9l-5.6 3.4l-5.6 -3.4v-6.9zM639.2 707.4l5.6 3.4v6.9l-5.6 3.4l-5.6 -3.4v-6.9zM650.0 707.4l5.6 3.4v6.9l-5.6 3.4l-5.6 -3.4v-6.9zM660.9 707.4l5.6 3.4v6.9l-5.6 3.4l-5.6 -3.4v-6.9zM671.7 707.4l5.6 3.4v6.9l-5.6 3.4l-5.6 -3.4v-6.9zM612.1 697.3l5.6 3.4v6.9l-5.6 3.4l-5.6 -3.4v-6.9zM622.9 697.3l5.6 3.4v6.9l-5.6 3.4l-5.6 -3.4v-6.9zM633.8 697.3l5.6 3.4v6.9l-5.6 3.4l-5.6 -3.4v-6.9zM644.6 697.3l5.6 3.4v6.9l-5.6 3.4l-5.6 -3.4v-6.9zM655.4 697.3l5.6 3.4v6.9l-5.6 3.4l-5.6 -3.4v-6.9zM666.3 697.3l5.6 3.4v6.9l-5.6 3.4l-5.6 -3.4v-6.9zM617.5 687.2l5.6 3.4v6.9l-5.6 3.4l-5.6 -3.4v-6.9zM628.3 687.2l5.6 3.4v6.9l-5.6 3.4l-5.6 -3.4v-6.9zM639.2 687.2l5.6 3.4v6.9l-5.6 3.4l-5.6 -3.4v-6.9zM650.0 687.2l5.6 3.4v6.9l-5.6 3.4l-5.6 -3.4v-6.9zM660.9 687.2l5.6 3.4v6.9l-5.6 3.4l-5.6 -3.4v-6.9zM671.7 687.2l5.6 3.4v6.9l-5.6 3.4l-5.6 -3.4v-6.9zM622.9 677.2l5.6 3.4v6.9l-5.6 3.4l-5.6 -3.4v-6.9zM633.8 677.2l5.6 3.4v6.9l-5.6 3.4l-5.6 -3.4v-6.9zM644.6 677.2l5.6 3.4v6.9l-5.6 3.4l-5.6 -3.4v-6.9zM655.4 677.2l5.6 3.4v6.9l-5.6 3.4l-5.6 -3.4v-6.9zM666.3 677.2l5.6 3.4v6.9l-5.6 3.4l-5.6 -3.4v-6.9zM677.1 677.2l5.6 3.4v6.9l-5.6 3.4l-5.6 -3.4v-6.9zM617.5 667.1l5.6 3.4v6.9l-5.6 3.4l-5.6 -3.4v-6.9zM628.3 667.1l5.6 3.4v6.9l-5.6 3.4l-5.6 -3.4v-6.9zM639.2 667.1l5.6 3.4v6.9l-5.6 3.4l-5.6 -3.4v-6.9zM650.0 667.1l5.6 3.4v6.9l-5.6 3.4l-5.6 -3.4v-6.9zM660.9 667.1l5.6 3.4v6.9l-5.6 3.4l-5.6 -3.4v-6.9zM671.7 667.1l5.6 3.4v6.9l-5.6 3.4l-5.6 -3.4v-6.9zM682.5 667.1l5.6 3.4v6.9l-5.6 3.4l-5.6 -3.4v-6.9zM622.9 657.1l5.6 3.4v6.9l-5.6 3.4l-5.6 -3.4v-6.9zM633.8 657.1l5.6 3.4v6.9l-5.6 3.4l-5.6 -3.4v-6.9zM644.6 657.1l5.6 3.4v6.9l-5.6 3.4l-5.6 -3.4v-6.9zM655.4 657.1l5.6 3.4v6.9l-5.6 3.4l-5.6 -3.4v-6.9zM666.3 657.1l5.6 3.4v6.9l-5.6 3.4l-5.6 -3.4v-6.9zM677.1 657.1l5.6 3.4v6.9l-5.6 3.4l-5.6 -3.4v-6.9zM688.0 657.1l5.6 3.4v6.9l-5.6 3.4l-5.6 -3.4v-6.9zM628.3 647.1l5.6 3.4v6.9l-5.6 3.4l-5.6 -3.4v-6.9zM639.2 647.1l5.6 3.4v6.9l-5.6 3.4l-5.6 -3.4v-6.9zM650.0 647.1l5.6 3.4v6.9l-5.6 3.4l-5.6 -3.4v-6.9zM660.9 647.1l5.6 3.4v6.9l-5.6 3.4l-5.6 -3.4v-6.9zM671.7 647.1l5.6 3.4v6.9l-5.6 3.4l-5.6 -3.4v-6.9zM682.5 647.1l5.6 3.4v6.9l-5.6 3.4l-5.6 -3.4v-6.9zM622.9 637.0l5.6 3.4v6.9l-5.6 3.4l-5.6 -3.4v-6.9zM633.8 637.0l5.6 3.4v6.9l-5.6 3.4l-5.6 -3.4v-6.9zM644.6 637.0l5.6 3.4v6.9l-5.6 3.4l-5.6 -3.4v-6.9zM655.4 637.0l5.6 3.4v6.9l-5.6 3.4l-5.6 -3.4v-6.9zM666.3 637.0l5.6 3.4v6.9l-5.6 3.4l-5.6 -3.4v-6.9zM677.1 637.0l5.6 3.4v6.9l-5.6 3.4l-5.6 -3.4v-6.9zM688.0 637.0l5.6 3.4v6.9l-5.6 3.4l-5.6 -3.4v-6.9zM628.3 626.9l5.6 3.4v6.9l-5.6 3.4l-5.6 -3.4v-6.9zM639.2 626.9l5.6 3.4v6.9l-5.6 3.4l-5.6 -3.4v-6.9zM650.0 626.9l5.6 3.4v6.9l-5.6 3.4l-5.6 -3.4v-6.9zM660.9 626.9l5.6 3.4v6.9l-5.6 3.4l-5.6 -3.4v-6.9zM671.7 626.9l5.6 3.4v6.9l-5.6 3.4l-5.6 -3.4v-6.9zM682.5 626.9l5.6 3.4v6.9l-5.6 3.4l-5.6 -3.4v-6.9zM693.4 626.9l5.6 3.4v6.9l-5.6 3.4l-5.6 -3.4v-6.9zM633.8 616.9l5.6 3.4v6.9l-5.6 3.4l-5.6 -3.4v-6.9zM644.6 616.9l5.6 3.4v6.9l-5.6 3.4l-5.6 -3.4v-6.9zM655.4 616.9l5.6 3.4v6.9l-5.6 3.4l-5.6 -3.4v-6.9zM666.3 616.9l5.6 3.4v6.9l-5.6 3.4l-5.6 -3.4v-6.9zM628.3 606.9l5.6 3.4v6.9l-5.6 3.4l-5.6 -3.4v-6.9z"/>
<path fill="#645096" d="M650.0 787.8l5.6 3.4v6.9l-5.6 3.4l-5.6 -3.4v-6.9zM660.9 787.8l5.6 3.4v6.9l-5.6 3.4l-5.6 -3.4v-6.9zM671.7 787.8l5.6 3.4v6.9l-5.6 3.4l-5.6 -3.4v-6.9zM682.5 787.8l5.6 3.4v6.9l-5.6 3.4l-5.6 -3.4v-6.9zM693.4 787.8l5.6 3.4v6.9l-5.6 3.4l-5.6 -3.4v-6.9zM704.2 787.8l5.6 3.4v6.9l-5.6 3.4l-5.6 -3.4v-6.9zM715.1 787.8l5.6 3.4v6.9l-5.6 3.4l-5.6 -3.4v-6.9zM725.9 787.8l5.6 3.4v6.9l-5.6 3.4l-5.6 -3.4v-6.9zM736.7 787.8l5.6 3.4v6.9l-5.6 3.4l-5.6 -3.4v-6.9zM747.6 787.8l5.6 3.4v6.9l-5.6 3.4l-5.6 -3.4v-6.9zM758.4 787.8l5.6 3.4v6.9l-5.6 3.4l-5.6 -3.4v-6.9zM769.3 787.8l5.6 3.4v6.9l-5.6 3.4l-5.6 -3.4v-6.9zM780.1 787.8l5.6 3.4v6.9l-5.6 3.4l-5.6 -3.4v-6.9zM655.4 777.7l5.6 3.4v6.9l-5.6 3.4l-5.6 -3.4v-6.9zM666.3 777.7l5.6 3.4v6.9l-5.6 3.4l-5.6 -3.4v-6.9zM677.1 777.7l5.6 3.4v6.9l-5.6 3.4l-5.6 -3.4v-6.9zM688.0 777.7l5.6 3.4v6.9l-5.6 3.4l-5.6 -3.4v-6.9zM698.8 777.7l5.6 3.4v6.9l-5.6 3.4l-5.6 -3.4v-6.9zM709.6 777.7l5.6 3.4v6.9l-5.6 3.4l-5.6 -3.4v-6.9zM720.5 777.7l5.6 3.4v6.9l-5.6 3.4l-5.6 -3.4v-6.9zM731.3 777.7l5.6 3.4v6.9l-5.6 3.4l-5.6 -3.4v-6.9zM742.2 777.7l5.6 3.4v6.9l-5.6 3.4l-5.6 -3.4v-6.9zM753.0 777.7l5.6 3.4v6.9l-5.6 3.4l-5.6 -3.4v-6.9zM763.8 777.7l5.6 3.4v6.9l-5.6 3.4l-5.6 -3.4v-6.9zM774.7 777.7l5.6 3.4v6.9l-5.6 3.4l-5.6 -3.4v-6.9zM660.9 767.6l5.6 3.4v6.9l-5.6 3.4l-5.6 -3.4v-6.9zM671.7 767.6l5.6 3.4v6.9l-5.6 3.4l-5.6 -3.4v-6.9zM682.5 767.6l5.6 3.4v6.9l-5.6 3.4l-5.6 -3.4v-6.9zM693.4 767.6l5.6 3.4v6.9l-5.6 3.4l-5.6 -3.4v-6.9zM704.2 767.6l5.6 3.4v6.9l-5.6 3.4l-5.6 -3.4v-6.9zM715.1 767.6l5.6 3.4v6.9l-5.6 3.4l-5.6 -3.4v-6.9zM725.9 767.6l5.6 3.4v6.9l-5.6 3.4l-5.6 -3.4v-6.9zM736.7 767.6l5.6 3.4v6.9l-5.6 3.4l-5.6 -3.4v-6.9zM747.6 767.6l5.6 3.4v6.9l-5.6 3.4l-5.6 -3.4v-6.9zM758.4 767.6l5.6 3.4v6.9l-5.6 3.4l-5.6 -3.4v-6.9zM769.3 767.6l5.6 3.4v6.9l-5.6 3.4l-5.6 -3.4v-6.9zM655.4 757.6l5.6 3.4v6.9l-5.6 3.4l-5.6 -3.4v-6.9zM666.3 757.6l5.6 3.4v6.9l-5.6 3.4l-5.6 -3.4v-6.9zM677.1 757.6l5.6 3.4v6.9l-5.6 3.4l-5.6 -3.4v-6.9zM688.0 757.6l5.6 3.4v6.9l-5.6 3.4l-5.6 -3.4v-6.9zM698.8 757.6l5.6 3.4v6.9l-5.6 3.4l-5.6 -3.4v-6.9zM709.6 757.6l5.6 3.4v6.9l-5.6 3.4l-5.6 -3.4v-6.9zM720.5 757.6l5.6 3.4v6.9l-5.6 3.4l-5.6 -3.4v-6.9zM731.3 757.6l5.6 3.4v6.9l-5.6 3.4l-5.6 -3.4v-6.9zM742.2 757.6l5.6 3.4v6.9l-5.6 3.4l-5.6 -3.4v-6.9zM753.0 757.6l5.6 3.4v6.9l-5.6 3.4l-5.6 -3.4v-6.9zM763.8 757.6l5.6 3.4v6.9l-5.6 3.4l-5.6 -3.4v-6.9zM660.9 747.5l5.6 3.4v6.9l-5.6 3.4l-5.6 -3.4v-6.9zM671.7 747.5l5.6 3.4v6.9l-5.6 3.4l-5.6 -3.4v-6.9zM682.5 747.5l5.6 3.4v6.9l-5.6 3.4l-5.6 -3.4v-6.9zM693.4 747.5l5.6 3.4v6.9l-5.6 3.4l-5.6 -3.4v-6.9zM704.2 747.5l5.6 3.4v6.9l-5.6 3.4l-5.6 -3.4v-6.9zM715.1 747.5l5.6 3.4v6.9l-5.6 3.4l-5.6 -3.4v-6.9zM725.9 747.5l5.6 3.4v6.9l-5.6 3.4l-5.6 -3.4v-6.9zM736.7 747.5l5.6 3.4v6.9l-5.6 3.4l-5.6 -3.4v-6.9zM747.6 747.5l5.6 3.4v6.9l-5.6 3.4l-5.6 -3.4v-6.9zM758.4 747.5l5.6 3.4v6.9l-5.6 3.4l-5.6 -3.4v-6.9zM666.3 737.5l5.6 3.4v6.9l-5.6 3.4l-5.6 -3.4v-6.9zM677.1 737.5l5.6 3.4v6.9l-5.6 3.4l-5.6 -3.4v-6.9zM688.0 737.5l5.6 3.4v6.9l-5.6 3.4l-5.6 -3.4v-6.9zM698.8 737.5l5.6 3.4v6.9l-5.6 3.4l-5.6 -3.4v-6.9zM709.6 737.5l5.6 3.4v6.9l-5.6 3.4l-5.6 -3.4v-6.9zM720.5 737.5l5.6 3.4v6.9l-5.6 3.4l-5.6 -3.4v-6.9zM731.3 737.5l5.6 3.4v6.9l-5.6 3.4l-5.6 -3.4v-6.9zM742.2 737.5l5.6 3.4v6.9l-5.6 3.4l-5.6 -3.4v-6.9zM753.0 737.5l5.6 3.4v6.9l-5.6 3.4l-5.6 -3.4v-6.9zM671.7 727.5l5.6 3.4v6.9l-5.6 3.4l-5.6 -3.4v-6.9zM682.5 727.5l5.6 3.4v6.9l-5.6 3.4l-5.6 -3.4v-6.9zM693.4 727.5l5.6 3.4v6.9l-5.6 3.4l-5.6 -3.4v-6.9zM704.2 727.5l5.6 3.4v6.9l-5.6 3.4l-5.6 -3.4v-6.9zM715.1 727.5l5.6 3.4v6.9l-5.6 3.4l-5.6 -3.4v-6.9zM725.9 727.5l5.6 3.4v6.9l-5.6 3.4l-5.6 -3.4v-6.9zM736.7 727.5l5.6 3.4v6.9l-5.6 3.4l-5.6 -3.4v-6.9zM747.6 727.5l5.6 3.4v6.9l-5.6 3.4l-5.6 -3.4v-6.9zM677.1 717.4l5.6 3.4v6.9l-5.6 3.4l-5.6 -3.4v-6.9zM688.0 717.4l5.6 3.4v6.9l-5.6 3.4l-5.6 -3.4v-6.9zM698.8 717.4l5.6 3.4v6.9l-5.6 3.4l-5.6 -3.4v-6.9zM709.6 717.4l5.6 3.4v6.9l-5.6 3.4l-5.6 -3.4v-6.9zM720.5 717.4l5.6 3.4v6.9l-5.6 3.4l-5.6 -3.4v-6.9zM731.3 717.4l5.6 3.4v6.9l-5.6 3.4l-5.6 -3.4v-6.9zM742.2 717.4l5.6 3.4v6.9l-5.6 3.4l-5.6 -3.4v-6.9zM682.5 707.4l5.6 3.4v6.9l-5.6 3.4l-5.6 -3.4v-6.9zM693.4 707.4l5.6 3.4v6.9l-5.6 3.4l-5.6 -3.4v-6.9zM704.2 707.4l5.6 3.4v6.9l-5.6 3.4l-5.6 -3.4v-6.9zM715.1 707.4l5.6 3.4v6.9l-5.6 3.4l-5.6 -3.4v-6.9zM725.9 707.4l5.6 3.4v6.9l-5.6 3.4l-5.6 -3.4v-6.9zM736.7 707.4l5.6 3.4v6.9l-5.6 3.4l-5.6 -3.4v-6.9zM677.1 697.3l5.6 3.4v6.9l-5.6 3.4l-5.6 -3.4v-6.9zM688.0 697.3l5.6 3.4v6.9l-5.6 3.4l-5.6 -3.4v-6.9zM698.8 697.3l5.6 3.4v6.9l-5.6 3.4l-5.6 -3.4v-6.9zM709.6 697.3l5.6 3.4v6.9l-5.6 3.4l-5.6 -3.4v-6.9zM720.5 697.3l5.6 3.4v6.9l-5.6 3.4l-5.6 -3.4v-6.9zM731.3 697.3l5.6 3.4v6.9l-5.6 3.4l-5.6 -3.4v-6.9zM682.5 687.2l5.6 3.4v6.9l-5.6 3.4l-5.6 -3.4v-6.9zM693.4 687.2l5.6 3.4v6.9l-5.6 3.4l-5.6 -3.4v-6.9zM704.2 687.2l5.6 3.4v6.9l-5.6 3.4l-5.6 -3.4v-6.9zM715.1 687.2l5.6 3.4v6.9l-5.6 3.4l-5.6 -3.4v-6.9zM725.9 687.2l5.6 3.4v6.9l-5.6 3.4l-5.6 -3.4v-6.9zM688.0 677.2l5.6 3.4v6.9l-5.6 3.4l-5.6 -3.4v-6.9zM698.8 677.2l5.6 3.4v6.9l-5.6 3.4l-5.6 -3.4v-6.9zM709.6 677.2l5.6 3.4v6.9l-5.6 3.4l-5.6 -3.4v-6.9zM720.5 677.2l5.6 3.4v6.9l-5.6 3.4l-5.6 -3.4v-6.9zM693.4 667.1l5.6 3.4v6.9l-5.6 3.4l-5.6 -3.4v-6.9zM704.2 667.1l5.6 3.4v6.9l-5.6 3.4l-5.6 -3.4v-6.9zM715.1 667.1l5.6 3.4v6.9l-5.6 3.4l-5.6 -3.4v-6.9zM698.8 657.1l5.6 3.4v6.9l-5.6 3.4l-5.6 -3.4v-6.9zM709.6 657.1l5.6 3.4v6.9l-5.6 3.4l-5.6 -3.4v-6.9zM693.4 647.1l5.6 3.4v6.9l-5.6 3.4l-5.6 -3.4v-6.9zM704.2 647.1l5.6 3.4v6.9l-5.6 3.4l-5.6 -3.4v-6.9zM698.8 637.0l5.6 3.4v6.9l-5.6 3.4l-5.6 -3.4v-6.9z"/>
<path fill="#55c9e5" d="M677.1 618.9l4.0 2.4v4.9l-4.0 2.4l-4.0 -2.4v-4.9zM688.0 618.9l4.0 2.4v4.9l-4.0 2.4l-4.0 -2.4v-4.9zM639.2 608.8l4.0 2.4v4.9l-4.0 2.4l-4.0 -2.4v-4.9zM650.0 608.8l4.0 2.4v4.9l-4.0 2.4l-4.0 -2.4v-4.9zM660.9 608.8l4.0 2.4v4.9l-4.0 2.4l-4.0 -2.4v-4.9zM671.7 608.8l4.0 2.4v4.9l-4.0 2.4l-4.0 -2.4v-4.9zM682.5 608.8l4.0 2.4v4.9l-4.0 2.4l-4.0 -2.4v-4.9zM622.9 598.8l4.0 2.4v4.9l-4.0 2.4l-4.0 -2.4v-4.9zM633.8 598.8l4.0 2.4v4.9l-4.0 2.4l-4.0 -2.4v-4.9zM644.6 598.8l4.0 2.4v4.9l-4.0 2.4l-4.0 -2.4v-4.9zM655.4 598.8l4.0 2.4v4.9l-4.0 2.4l-4.0 -2.4v-4.9zM666.3 598.8l4.0 2.4v4.9l-4.0 2.4l-4.0 -2.4v-4.9zM677.1 598.8l4.0 2.4v4.9l-4.0 2.4l-4.0 -2.4v-4.9zM617.5 588.7l4.0 2.4v4.9l-4.0 2.4l-4.0 -2.4v-4.9zM628.3 588.7l4.0 2.4v4.9l-4.0 2.4l-4.0 -2.4v-4.9zM639.2 588.7l4.0 2.4v4.9l-4.0 2.4l-4.0 -2.4v-4.9zM650.0 588.7l4.0 2.4v4.9l-4.0 2.4l-4.0 -2.4v-4.9zM660.9 588.7l4.0 2.4v4.9l-4.0 2.4l-4.0 -2.4v-4.9zM671.7 588.7l4.0 2.4v4.9l-4.0 2.4l-4.0 -2.4v-4.9zM612.1 578.7l4.0 2.4v4.9l-4.0 2.4l-4.0 -2.4v-4.9zM622.9 578.7l4.0 2.4v4.9l-4.0 2.4l-4.0 -2.4v-4.9zM633.8 578.7l4.0 2.4v4.9l-4.0 2.4l-4.0 -2.4v-4.9zM644.6 578.7l4.0 2.4v4.9l-4.0 2.4l-4.0 -2.4v-4.9zM655.4 578.7l4.0 2.4v4.9l-4.0 2.4l-4.0 -2.4v-4.9zM666.3 578.7l4.0 2.4v4.9l-4.0 2.4l-4.0 -2.4v-4.9zM606.7 568.6l4.0 2.4v4.9l-4.0 2.4l-4.0 -2.4v-4.9zM617.5 568.6l4.0 2.4v4.9l-4.0 2.4l-4.0 -2.4v-4.9zM628.3 568.6l4.0 2.4v4.9l-4.0 2.4l-4.0 -2.4v-4.9zM639.2 568.6l4.0 2.4v4.9l-4.0 2.4l-4.0 -2.4v-4.9zM650.0 568.6l4.0 2.4v4.9l-4.0 2.4l-4.0 -2.4v-4.9zM660.9 568.6l4.0 2.4v4.9l-4.0 2.4l-4.0 -2.4v-4.9zM601.2 558.6l4.0 2.4v4.9l-4.0 2.4l-4.0 -2.4v-4.9zM612.1 558.6l4.0 2.4v4.9l-4.0 2.4l-4.0 -2.4v-4.9zM622.9 558.6l4.0 2.4v4.9l-4.0 2.4l-4.0 -2.4v-4.9zM633.8 558.6l4.0 2.4v4.9l-4.0 2.4l-4.0 -2.4v-4.9zM644.6 558.6l4.0 2.4v4.9l-4.0 2.4l-4.0 -2.4v-4.9zM655.4 558.6l4.0 2.4v4.9l-4.0 2.4l-4.0 -2.4v-4.9zM595.8 548.5l4.0 2.4v4.9l-4.0 2.4l-4.0 -2.4v-4.9zM606.7 548.5l4.0 2.4v4.9l-4.0 2.4l-4.0 -2.4v-4.9zM617.5 548.5l4.0 2.4v4.9l-4.0 2.4l-4.0 -2.4v-4.9zM628.3 548.5l4.0 2.4v4.9l-4.0 2.4l-4.0 -2.4v-4.9zM639.2 548.5l4.0 2.4v4.9l-4.0 2.4l-4.0 -2.4v-4.9zM650.0 548.5l4.0 2.4v4.9l-4.0 2.4l-4.0 -2.4v-4.9zM590.4 538.5l4.0 2.4v4.9l-4.0 2.4l-4.0 -2.4v-4.9zM601.2 538.5l4.0 2.4v4.9l-4.0 2.4l-4.0 -2.4v-4.9zM612.1 538.5l4.0 2.4v4.9l-4.0 2.4l-4.0 -2.4v-4.9zM622.9 538.5l4.0 2.4v4.9l-4.0 2.4l-4.0 -2.4v-4.9zM633.8 538.5l4.0 2.4v4.9l-4.0 2.4l-4.0 -2.4v-4.9zM644.6 538.5l4.0 2.4v4.9l-4.0 2.4l-4.0 -2.4v-4.9zM595.8 528.4l4.0 2.4v4.9l-4.0 2.4l-4.0 -2.4v-4.9zM606.7 528.4l4.0 2.4v4.9l-4.0 2.4l-4.0 -2.4v-4.9zM617.5 528.4l4.0 2.4v4.9l-4.0 2.4l-4.0 -2.4v-4.9zM628.3 528.4l4.0 2.4v4.9l-4.0 2.4l-4.0 -2.4v-4.9zM639.2 528.4l4.0 2.4v4.9l-4.0 2.4l-4.0 -2.4v-4.9zM601.2 518.4l4.0 2.4v4.9l-4.0 2.4l-4.0 -2.4v-4.9zM612.1 518.4l4.0 2.4v4.9l-4.0 2.4l-4.0 -2.4v-4.9zM622.9 518.4l4.0 2.4v4.9l-4.0 2.4l-4.0 -2.4v-4.9zM633.8 518.4l4.0 2.4v4.9l-4.0 2.4l-4.0 -2.4v-4.9zM606.7 508.3l4.0 2.4v4.9l-4.0 2.4l-4.0 -2.4v-4.9zM617.5 508.3l4.0 2.4v4.9l-4.0 2.4l-4.0 -2.4v-4.9zM628.3 508.3l4.0 2.4v4.9l-4.0 2.4l-4.0 -2.4v-4.9zM612.1 498.3l4.0 2.4v4.9l-4.0 2.4l-4.0 -2.4v-4.9zM622.9 498.3l4.0 2.4v4.9l-4.0 2.4l-4.0 -2.4v-4.9zM617.5 488.2l4.0 2.4v4.9l-4.0 2.4l-4.0 -2.4v-4.9z"/>
<path fill="#e8a856" d="M454.9 789.7l4.0 2.4v4.9l-4.0 2.4l-4.0 -2.4v-4.9zM465.7 789.7l4.0 2.4v4.9l-4.0 2.4l-4.0 -2.4v-4.9zM476.6 789.7l4.0 2.4v4.9l-4.0 2.4l-4.0 -2.4v-4.9zM487.4 789.7l4.0 2.4v4.9l-4.0 2.4l-4.0 -2.4v-4.9zM498.3 789.7l4.0 2.4v4.9l-4.0 2.4l-4.0 -2.4v-4.9zM509.1 789.7l4.0 2.4v4.9l-4.0 2.4l-4.0 -2.4v-4.9zM519.9 789.7l4.0 2.4v4.9l-4.0 2.4l-4.0 -2.4v-4.9zM530.8 789.7l4.0 2.4v4.9l-4.0 2.4l-4.0 -2.4v-4.9zM541.6 789.7l4.0 2.4v4.9l-4.0 2.4l-4.0 -2.4v-4.9zM552.5 789.7l4.0 2.4v4.9l-4.0 2.4l-4.0 -2.4v-4.9zM563.3 789.7l4.0 2.4v4.9l-4.0 2.4l-4.0 -2.4v-4.9zM574.1 789.7l4.0 2.4v4.9l-4.0 2.4l-4.0 -2.4v-4.9zM585.0 789.7l4.0 2.4v4.9l-4.0 2.4l-4.0 -2.4v-4.9zM595.8 789.7l4.0 2.4v4.9l-4.0 2.4l-4.0 -2.4v-4.9zM460.3 779.7l4.0 2.4v4.9l-4.0 2.4l-4.0 -2.4v-4.9zM471.2 779.7l4.0 2.4v4.9l-4.0 2.4l-4.0 -2.4v-4.9zM482.0 779.7l4.0 2.4v4.9l-4.0 2.4l-4.0 -2.4v-4.9zM492.8 779.7l4.0 2.4v4.9l-4.0 2.4l-4.0 -2.4v-4.9zM503.7 779.7l4.0 2.4v4.9l-4.0 2.4l-4.0 -2.4v-4.9zM514.5 779.7l4.0 2.4v4.9l-4.0 2.4l-4.0 -2.4v-4.9zM525.4 779.7l4.0 2.4v4.9l-4.0 2.4l-4.0 -2.4v-4.9zM536.2 779.7l4.0 2.4v4.9l-4.0 2.4l-4.0 -2.4v-4.9zM547.0 779.7l4.0 2.4v4.9l-4.0 2.4l-4.0 -2.4v-4.9zM557.9 779.7l4.0 2.4v4.9l-4.0 2.4l-4.0 -2.4v-4.9zM568.7 779.7l4.0 2.4v4.9l-4.0 2.4l-4.0 -2.4v-4.9zM579.6 779.7l4.0 2.4v4.9l-4.0 2.4l-4.0 -2.4v-4.9zM590.4 779.7l4.0 2.4v4.9l-4.0 2.4l-4.0 -2.4v-4.9zM465.7 769.6l4.0 2.4v4.9l-4.0 2.4l-4.0 -2.4v-4.9zM476.6 769.6l4.0 2.4v4.9l-4.0 2.4l-4.0 -2.4v-4.9zM487.4 769.6l4.0 2.4v4.9l-4.0 2.4l-4.0 -2.4v-4.9zM498.3 769.6l4.0 2.4v4.9l-4.0 2.4l-4.0 -2.4v-4.9zM509.1 769.6l4.0 2.4v4.9l-4.0 2.4l-4.0 -2.4v-4.9zM519.9 769.6l4.0 2.4v4.9l-4.0 2.4l-4.0 -2.4v-4.9zM530.8 769.6l4.0 2.4v4.9l-4.0 2.4l-4.0 -2.4v-4.9zM541.6 769.6l4.0 2.4v4.9l-4.0 2.4l-4.0 -2.4v-4.9zM552.5 769.6l4.0 2.4v4.9l-4.0 2.4l-4.0 -2.4v-4.9zM563.3 769.6l4.0 2.4v4.9l-4.0 2.4l-4.0 -2.4v-4.9zM574.1 769.6l4.0 2.4v4.9l-4.0 2.4l-4.0 -2.4v-4.9zM585.0 769.6l4.0 2.4v4.9l-4.0 2.4l-4.0 -2.4v-4.9zM595.8 769.6l4.0 2.4v4.9l-4.0 2.4l-4.0 -2.4v-4.9zM471.2 759.6l4.0 2.4v4.9l-4.0 2.4l-4.0 -2.4v-4.9zM482.0 759.6l4.0 2.4v4.9l-4.0 2.4l-4.0 -2.4v-4.9zM492.8 759.6l4.0 2.4v4.9l-4.0 2.4l-4.0 -2.4v-4.9zM503.7 759.6l4.0 2.4v4.9l-4.0 2.4l-4.0 -2.4v-4.9zM514.5 759.6l4.0 2.4v4.9l-4.0 2.4l-4.0 -2.4v-4.9zM525.4 759.6l4.0 2.4v4.9l-4.0 2.4l-4.0 -2.4v-4.9zM536.2 759.6l4.0 2.4v4.9l-4.0 2.4l-4.0 -2.4v-4.9zM547.0 759.6l4.0 2.4v4.9l-4.0 2.4l-4.0 -2.4v-4.9zM557.9 759.6l4.0 2.4v4.9l-4.0 2.4l-4.0 -2.4v-4.9zM568.7 759.6l4.0 2.4v4.9l-4.0 2.4l-4.0 -2.4v-4.9zM579.6 759.6l4.0 2.4v4.9l-4.0 2.4l-4.0 -2.4v-4.9zM590.4 759.6l4.0 2.4v4.9l-4.0 2.4l-4.0 -2.4v-4.9zM601.2 759.6l4.0 2.4v4.9l-4.0 2.4l-4.0 -2.4v-4.9zM476.6 749.5l4.0 2.4v4.9l-4.0 2.4l-4.0 -2.4v-4.9zM487.4 749.5l4.0 2.4v4.9l-4.0 2.4l-4.0 -2.4v-4.9zM498.3 749.5l4.0 2.4v4.9l-4.0 2.4l-4.0 -2.4v-4.9zM509.1 749.5l4.0 2.4v4.9l-4.0 2.4l-4.0 -2.4v-4.9zM519.9 749.5l4.0 2.4v4.9l-4.0 2.4l-4.0 -2.4v-4.9zM530.8 749.5l4.0 2.4v4.9l-4.0 2.4l-4.0 -2.4v-4.9zM541.6 749.5l4.0 2.4v4.9l-4.0 2.4l-4.0 -2.4v-4.9zM552.5 749.5l4.0 2.4v4.9l-4.0 2.4l-4.0 -2.4v-4.9zM563.3 749.5l4.0 2.4v4.9l-4.0 2.4l-4.0 -2.4v-4.9zM574.1 749.5l4.0 2.4v4.9l-4.0 2.4l-4.0 -2.4v-4.9zM585.0 749.5l4.0 2.4v4.9l-4.0 2.4l-4.0 -2.4v-4.9zM595.8 749.5l4.0 2.4v4.9l-4.0 2.4l-4.0 -2.4v-4.9zM482.0 739.5l4.0 2.4v4.9l-4.0 2.4l-4.0 -2.4v-4.9zM492.8 739.5l4.0 2.4v4.9l-4.0 2.4l-4.0 -2.4v-4.9zM503.7 739.5l4.0 2.4v4.9l-4.0 2.4l-4.0 -2.4v-4.9zM514.5 739.5l4.0 2.4v4.9l-4.0 2.4l-4.0 -2.4v-4.9zM525.4 739.5l4.0 2.4v4.9l-4.0 2.4l-4.0 -2.4v-4.9zM536.2 739.5l4.0 2.4v4.9l-4.0 2.4l-4.0 -2.4v-4.9zM547.0 739.5l4.0 2.4v4.9l-4.0 2.4l-4.0 -2.4v-4.9zM557.9 739.5l4.0 2.4v4.9l-4.0 2.4l-4.0 -2.4v-4.9zM568.7 739.5l4.0 2.4v4.9l-4.0 2.4l-4.0 -2.4v-4.9zM579.6 739.5l4.0 2.4v4.9l-4.0 2.4l-4.0 -2.4v-4.9zM590.4 739.5l4.0 2.4v4.9l-4.0 2.4l-4.0 -2.4v-4.9zM601.2 739.5l4.0 2.4v4.9l-4.0 2.4l-4.0 -2.4v-4.9zM487.4 729.4l4.0 2.4v4.9l-4.0 2.4l-4.0 -2.4v-4.9zM498.3 729.4l4.0 2.4v4.9l-4.0 2.4l-4.0 -2.4v-4.9zM509.1 729.4l4.0 2.4v4.9l-4.0 2.4l-4.0 -2.4v-4.9zM519.9 729.4l4.0 2.4v4.9l-4.0 2.4l-4.0 -2.4v-4.9zM530.8 729.4l4.0 2.4v4.9l-4.0 2.4l-4.0 -2.4v-4.9zM541.6 729.4l4.0 2.4v4.9l-4.0 2.4l-4.0 -2.4v-4.9zM552.5 729.4l4.0 2.4v4.9l-4.0 2.4l-4.0 -2.4v-4.9zM563.3 729.4l4.0 2.4v4.9l-4.0 2.4l-4.0 -2.4v-4.9zM574.1 729.4l4.0 2.4v4.9l-4.0 2.4l-4.0 -2.4v-4.9zM585.0 729.4l4.0 2.4v4.9l-4.0 2.4l-4.0 -2.4v-4.9zM595.8 729.4l4.0 2.4v4.9l-4.0 2.4l-4.0 -2.4v-4.9zM492.8 719.4l4.0 2.4v4.9l-4.0 2.4l-4.0 -2.4v-4.9zM503.7 719.4l4.0 2.4v4.9l-4.0 2.4l-4.0 -2.4v-4.9zM514.5 719.4l4.0 2.4v4.9l-4.0 2.4l-4.0 -2.4v-4.9zM525.4 719.4l4.0 2.4v4.9l-4.0 2.4l-4.0 -2.4v-4.9zM536.2 719.4l4.0 2.4v4.9l-4.0 2.4l-4.0 -2.4v-4.9zM547.0 719.4l4.0 2.4v4.9l-4.0 2.4l-4.0 -2.4v-4.9zM557.9 719.4l4.0 2.4v4.9l-4.0 2.4l-4.0 -2.4v-4.9zM568.7 719.4l4.0 2.4v4.9l-4.0 2.4l-4.0 -2.4v-4.9zM579.6 719.4l4.0 2.4v4.9l-4.0 2.4l-4.0 -2.4v-4.9zM590.4 719.4l4.0 2.4v4.9l-4.0 2.4l-4.0 -2.4v-4.9zM601.2 719.4l4.0 2.4v4.9l-4.0 2.4l-4.0 -2.4v-4.9zM498.3 709.3l4.0 2.4v4.9l-4.0 2.4l-4.0 -2.4v-4.9zM509.1 709.3l4.0 2.4v4.9l-4.0 2.4l-4.0 -2.4v-4.9zM519.9 709.3l4.0 2.4v4.9l-4.0 2.4l-4.0 -2.4v-4.9zM530.8 709.3l4.0 2.4v4.9l-4.0 2.4l-4.0 -2.4v-4.9zM541.6 709.3l4.0 2.4v4.9l-4.0 2.4l-4.0 -2.4v-4.9zM552.5 709.3l4.0 2.4v4.9l-4.0 2.4l-4.0 -2.4v-4.9zM563.3 709.3l4.0 2.4v4.9l-4.0 2.4l-4.0 -2.4v-4.9zM574.1 709.3l4.0 2.4v4.9l-4.0 2.4l-4.0 -2.4v-4.9zM585.0 709.3l4.0 2.4v4.9l-4.0 2.4l-4.0 -2.4v-4.9zM595.8 709.3l4.0 2.4v4.9l-4.0 2.4l-4.0 -2.4v-4.9zM606.7 709.3l4.0 2.4v4.9l-4.0 2.4l-4.0 -2.4v-4.9zM503.7 699.3l4.0 2.4v4.9l-4.0 2.4l-4.0 -2.4v-4.9zM514.5 699.3l4.0 2.4v4.9l-4.0 2.4l-4.0 -2.4v-4.9zM525.4 699.3l4.0 2.4v4.9l-4.0 2.4l-4.0 -2.4v-4.9zM536.2 699.3l4.0 2.4v4.9l-4.0 2.4l-4.0 -2.4v-4.9zM547.0 699.3l4.0 2.4v4.9l-4.0 2.4l-4.0 -2.4v-4.9zM557.9 699.3l4.0 2.4v4.9l-4.0 2.4l-4.0 -2.4v-4.9zM568.7 699.3l4.0 2.4v4.9l-4.0 2.4l-4.0 -2.4v-4.9zM579.6 699.3l4.0 2.4v4.9l-4.0 2.4l-4.0 -2.4v-4.9zM590.4 699.3l4.0 2.4v4.9l-4.0 2.4l-4.0 -2.4v-4.9zM601.2 699.3l4.0 2.4v4.9l-4.0 2.4l-4.0 -2.4v-4.9zM509.1 689.2l4.0 2.4v4.9l-4.0 2.4l-4.0 -2.4v-4.9zM519.9 689.2l4.0 2.4v4.9l-4.0 2.4l-4.0 -2.4v-4.9zM530.8 689.2l4.0 2.4v4.9l-4.0 2.4l-4.0 -2.4v-4.9zM541.6 689.2l4.0 2.4v4.9l-4.0 2.4l-4.0 -2.4v-4.9zM552.5 689.2l4.0 2.4v4.9l-4.0 2.4l-4.0 -2.4v-4.9zM563.3 689.2l4.0 2.4v4.9l-4.0 2.4l-4.0 -2.4v-4.9zM574.1 689.2l4.0 2.4v4.9l-4.0 2.4l-4.0 -2.4v-4.9zM585.0 689.2l4.0 2.4v4.9l-4.0 2.4l-4.0 -2.4v-4.9zM595.8 689.2l4.0 2.4v4.9l-4.0 2.4l-4.0 -2.4v-4.9zM606.7 689.2l4.0 2.4v4.9l-4.0 2.4l-4.0 -2.4v-4.9zM514.5 679.2l4.0 2.4v4.9l-4.0 2.4l-4.0 -2.4v-4.9zM525.4 679.2l4.0 2.4v4.9l-4.0 2.4l-4.0 -2.4v-4.9zM536.2 679.2l4.0 2.4v4.9l-4.0 2.4l-4.0 -2.4v-4.9zM547.0 679.2l4.0 2.4v4.9l-4.0 2.4l-4.0 -2.4v-4.9zM557.9 679.2l4.0 2.4v4.9l-4.0 2.4l-4.0 -2.4v-4.9zM568.7 679.2l4.0 2.4v4.9l-4.0 2.4l-4.0 -2.4v-4.9zM579.6 679.2l4.0 2.4v4.9l-4.0 2.4l-4.0 -2.4v-4.9zM590.4 679.2l4.0 2.4v4.9l-4.0 2.4l-4.0 -2.4v-4.9zM601.2 679.2l4.0 2.4v4.9l-4.0 2.4l-4.0 -2.4v-4.9zM612.1 679.2l4.0 2.4v4.9l-4.0 2.4l-4.0 -2.4v-4.9zM519.9 669.1l4.0 2.4v4.9l-4.0 2.4l-4.0 -2.4v-4.9zM530.8 669.1l4.0 2.4v4.9l-4.0 2.4l-4.0 -2.4v-4.9zM541.6 669.1l4.0 2.4v4.9l-4.0 2.4l-4.0 -2.4v-4.9zM552.5 669.1l4.0 2.4v4.9l-4.0 2.4l-4.0 -2.4v-4.9zM563.3 669.1l4.0 2.4v4.9l-4.0 2.4l-4.0 -2.4v-4.9zM574.1 669.1l4.0 2.4v4.9l-4.0 2.4l-4.0 -2.4v-4.9zM585.0 669.1l4.0 2.4v4.9l-4.0 2.4l-4.0 -2.4v-4.9zM595.8 669.1l4.0 2.4v4.9l-4.0 2.4l-4.0 -2.4v-4.9zM606.7 669.1l4.0 2.4v4.9l-4.0 2.4l-4.0 -2.4v-4.9zM525.4 659.1l4.0 2.4v4.9l-4.0 2.4l-4.0 -2.4v-4.9zM536.2 659.1l4.0 2.4v4.9l-4.0 2.4l-4.0 -2.4v-4.9zM547.0 659.1l4.0 2.4v4.9l-4.0 2.4l-4.0 -2.4v-4.9zM557.9 659.1l4.0 2.4v4.9l-4.0 2.4l-4.0 -2.4v-4.9zM568.7 659.1l4.0 2.4v4.9l-4.0 2.4l-4.0 -2.4v-4.9zM579.6 659.1l4.0 2.4v4.9l-4.0 2.4l-4.0 -2.4v-4.9zM590.4 659.1l4.0 2.4v4.9l-4.0 2.4l-4.0 -2.4v-4.9zM601.2 659.1l4.0 2.4v4.9l-4.0 2.4l-4.0 -2.4v-4.9zM612.1 659.1l4.0 2.4v4.9l-4.0 2.4l-4.0 -2.4v-4.9zM530.8 649.0l4.0 2.4v4.9l-4.0 2.4l-4.0 -2.4v-4.9zM541.6 649.0l4.0 2.4v4.9l-4.0 2.4l-4.0 -2.4v-4.9zM552.5 649.0l4.0 2.4v4.9l-4.0 2.4l-4.0 -2.4v-4.9zM563.3 649.0l4.0 2.4v4.9l-4.0 2.4l-4.0 -2.4v-4.9zM574.1 649.0l4.0 2.4v4.9l-4.0 2.4l-4.0 -2.4v-4.9zM585.0 649.0l4.0 2.4v4.9l-4.0 2.4l-4.0 -2.4v-4.9zM595.8 649.0l4.0 2.4v4.9l-4.0 2.4l-4.0 -2.4v-4.9zM606.7 649.0l4.0 2.4v4.9l-4.0 2.4l-4.0 -2.4v-4.9zM617.5 649.0l4.0 2.4v4.9l-4.0 2.4l-4.0 -2.4v-4.9zM536.2 639.0l4.0 2.4v4.9l-4.0 2.4l-4.0 -2.4v-4.9zM547.0 639.0l4.0 2.4v4.9l-4.0 2.4l-4.0 -2.4v-4.9zM557.9 639.0l4.0 2.4v4.9l-4.0 2.4l-4.0 -2.4v-4.9zM568.7 639.0l4.0 2.4v4.9l-4.0 2.4l-4.0 -2.4v-4.9zM579.6 639.0l4.0 2.4v4.9l-4.0 2.4l-4.0 -2.4v-4.9zM590.4 639.0l4.0 2.4v4.9l-4.0 2.4l-4.0 -2.4v-4.9zM601.2 639.0l4.0 2.4v4.9l-4.0 2.4l-4.0 -2.4v-4.9zM612.1 639.0l4.0 2.4v4.9l-4.0 2.4l-4.0 -2.4v-4.9zM541.6 628.9l4.0 2.4v4.9l-4.0 2.4l-4.0 -2.4v-4.9zM552.5 628.9l4.0 2.4v4.9l-4.0 2.4l-4.0 -2.4v-4.9zM563.3 628.9l4.0 2.4v4.9l-4.0 2.4l-4.0 -2.4v-4.9zM574.1 628.9l4.0 2.4v4.9l-4.0 2.4l-4.0 -2.4v-4.9zM585.0 628.9l4.0 2.4v4.9l-4.0 2.4l-4.0 -2.4v-4.9zM595.8 628.9l4.0 2.4v4.9l-4.0 2.4l-4.0 -2.4v-4.9zM606.7 628.9l4.0 2.4v4.9l-4.0 2.4l-4.0 -2.4v-4.9zM617.5 628.9l4.0 2.4v4.9l-4.0 2.4l-4.0 -2.4v-4.9zM547.0 618.9l4.0 2.4v4.9l-4.0 2.4l-4.0 -2.4v-4.9zM557.9 618.9l4.0 2.4v4.9l-4.0 2.4l-4.0 -2.4v-4.9zM568.7 618.9l4.0 2.4v4.9l-4.0 2.4l-4.0 -2.4v-4.9zM579.6 618.9l4.0 2.4v4.9l-4.0 2.4l-4.0 -2.4v-4.9zM590.4 618.9l4.0 2.4v4.9l-4.0 2.4l-4.0 -2.4v-4.9zM601.2 618.9l4.0 2.4v4.9l-4.0 2.4l-4.0 -2.4v-4.9zM612.1 618.9l4.0 2.4v4.9l-4.0 2.4l-4.0 -2.4v-4.9zM622.9 618.9l4.0 2.4v4.9l-4.0 2.4l-4.0 -2.4v-4.9zM552.5 608.8l4.0 2.4v4.9l-4.0 2.4l-4.0 -2.4v-4.9zM563.3 608.8l4.0 2.4v4.9l-4.0 2.4l-4.0 -2.4v-4.9zM574.1 608.8l4.0 2.4v4.9l-4.0 2.4l-4.0 -2.4v-4.9zM585.0 608.8l4.0 2.4v4.9l-4.0 2.4l-4.0 -2.4v-4.9zM595.8 608.8l4.0 2.4v4.9l-4.0 2.4l-4.0 -2.4v-4.9zM606.7 608.8l4.0 2.4v4.9l-4.0 2.4l-4.0 -2.4v-4.9zM617.5 608.8l4.0 2.4v4.9l-4.0 2.4l-4.0 -2.4v-4.9zM557.9 598.8l4.0 2.4v4.9l-4.0 2.4l-4.0 -2.4v-4.9zM568.7 598.8l4.0 2.4v4.9l-4.0 2.4l-4.0 -2.4v-4.9zM579.6 598.8l4.0 2.4v4.9l-4.0 2.4l-4.0 -2.4v-4.9zM590.4 598.8l4.0 2.4v4.9l-4.0 2.4l-4.0 -2.4v-4.9zM601.2 598.8l4.0 2.4v4.9l-4.0 2.4l-4.0 -2.4v-4.9zM612.1 598.8l4.0 2.4v4.9l-4.0 2.4l-4.0 -2.4v-4.9zM563.3 588.7l4.0 2.4v4.9l-4.0 2.4l-4.0 -2.4v-4.9zM574.1 588.7l4.0 2.4v4.9l-4.0 2.4l-4.0 -2.4v-4.9zM585.0 588.7l4.0 2.4v4.9l-4.0 2.4l-4.0 -2.4v-4.9zM595.8 588.7l4.0 2.4v4.9l-4.0 2.4l-4.0 -2.4v-4.9zM606.7 588.7l4.0 2.4v4.9l-4.0 2.4l-4.0 -2.4v-4.9zM568.7 578.7l4.0 2.4v4.9l-4.0 2.4l-4.0 -2.4v-4.9zM579.6 578.7l4.0 2.4v4.9l-4.0 2.4l-4.0 -2.4v-4.9zM590.4 578.7l4.0 2.4v4.9l-4.0 2.4l-4.0 -2.4v-4.9zM601.2 578.7l4.0 2.4v4.9l-4.0 2.4l-4.0 -2.4v-4.9zM574.1 568.6l4.0 2.4v4.9l-4.0 2.4l-4.0 -2.4v-4.9zM585.0 568.6l4.0 2.4v4.9l-4.0 2.4l-4.0 -2.4v-4.9zM595.8 568.6l4.0 2.4v4.9l-4.0 2.4l-4.0 -2.4v-4.9zM579.6 558.6l4.0 2.4v4.9l-4.0 2.4l-4.0 -2.4v-4.9zM590.4 558.6l4.0 2.4v4.9l-4.0 2.4l-4.0 -2.4v-4.9zM585.0 548.5l4.0 2.4v4.9l-4.0 2.4l-4.0 -2.4v-4.9z"/>
<path fill="#d7666a" d="M606.7 789.7l4.0 2.4v4.9l-4.0 2.4l-4.0 -2.4v-4.9zM617.5 789.7l4.0 2.4v4.9l-4.0 2.4l-4.0 -2.4v-4.9zM628.3 789.7l4.0 2.4v4.9l-4.0 2.4l-4.0 -2.4v-4.9zM639.2 789.7l4.0 2.4v4.9l-4.0 2.4l-4.0 -2.4v-4.9zM601.2 779.7l4.0 2.4v4.9l-4.0 2.4l-4.0 -2.4v-4.9zM612.1 779.7l4.0 2.4v4.9l-4.0 2.4l-4.0 -2.4v-4.9zM622.9 779.7l4.0 2.4v4.9l-4.0 2.4l-4.0 -2.4v-4.9zM633.8 779.7l4.0 2.4v4.9l-4.0 2.4l-4.0 -2.4v-4.9zM644.6 779.7l4.0 2.4v4.9l-4.0 2.4l-4.0 -2.4v-4.9zM606.7 769.6l4.0 2.4v4.9l-4.0 2.4l-4.0 -2.4v-4.9zM617.5 769.6l4.0 2.4v4.9l-4.0 2.4l-4.0 -2.4v-4.9zM628.3 769.6l4.0 2.4v4.9l-4.0 2.4l-4.0 -2.4v-4.9zM639.2 769.6l4.0 2.4v4.9l-4.0 2.4l-4.0 -2.4v-4.9zM650.0 769.6l4.0 2.4v4.9l-4.0 2.4l-4.0 -2.4v-4.9zM612.1 759.6l4.0 2.4v4.9l-4.0 2.4l-4.0 -2.4v-4.9zM622.9 759.6l4.0 2.4v4.9l-4.0 2.4l-4.0 -2.4v-4.9zM633.8 759.6l4.0 2.4v4.9l-4.0 2.4l-4.0 -2.4v-4.9zM644.6 759.6l4.0 2.4v4.9l-4.0 2.4l-4.0 -2.4v-4.9zM606.7 749.5l4.0 2.4v4.9l-4.0 2.4l-4.0 -2.4v-4.9zM617.5 749.5l4.0 2.4v4.9l-4.0 2.4l-4.0 -2.4v-4.9zM628.3 749.5l4.0 2.4v4.9l-4.0 2.4l-4.0 -2.4v-4.9zM639.2 749.5l4.0 2.4v4.9l-4.0 2.4l-4.0 -2.4v-4.9zM650.0 749.5l4.0 2.4v4.9l-4.0 2.4l-4.0 -2.4v-4.9zM612.1 739.5l4.0 2.4v4.9l-4.0 2.4l-4.0 -2.4v-4.9zM622.9 739.5l4.0 2.4v4.9l-4.0 2.4l-4.0 -2.4v-4.9zM633.8 739.5l4.0 2.4v4.9l-4.0 2.4l-4.0 -2.4v-4.9zM644.6 739.5l4.0 2.4v4.9l-4.0 2.4l-4.0 -2.4v-4.9zM655.4 739.5l4.0 2.4v4.9l-4.0 2.4l-4.0 -2.4v-4.9zM606.7 729.4l4.0 2.4v4.9l-4.0 2.4l-4.0 -2.4v-4.9zM617.5 729.4l4.0 2.4v4.9l-4.0 2.4l-4.0 -2.4v-4.9zM628.3 729.4l4.0 2.4v4.9l-4.0 2.4l-4.0 -2.4v-4.9zM639.2 729.4l4.0 2.4v4.9l-4.0 2.4l-4.0 -2.4v-4.9zM650.0 729.4l4.0 2.4v4.9l-4.0 2.4l-4.0 -2.4v-4.9zM660.9 729.4l4.0 2.4v4.9l-4.0 2.4l-4.0 -2.4v-4.9zM612.1 719.4l4.0 2.4v4.9l-4.0 2.4l-4.0 -2.4v-4.9zM622.9 719.4l4.0 2.4v4.9l-4.0 2.4l-4.0 -2.4v-4.9zM633.8 719.4l4.0 2.4v4.9l-4.0 2.4l-4.0 -2.4v-4.9zM644.6 719.4l4.0 2.4v4.9l-4.0 2.4l-4.0 -2.4v-4.9zM655.4 719.4l4.0 2.4v4.9l-4.0 2.4l-4.0 -2.4v-4.9zM666.3 719.4l4.0 2.4v4.9l-4.0 2.4l-4.0 -2.4v-4.9zM617.5 709.3l4.0 2.4v4.9l-4.0 2.4l-4.0 -2.4v-4.9zM628.3 709.3l4.0 2.4v4.9l-4.0 2.4l-4.0 -2.4v-4.9zM639.2 709.3l4.0 2.4v4.9l-4.0 2.4l-4.0 -2.4v-4.9zM650.0 709.3l4.0 2.4v4.9l-4.0 2.4l-4.0 -2.4v-4.9zM660.9 709.3l4.0 2.4v4.9l-4.0 2.4l-4.0 -2.4v-4.9zM671.7 709.3l4.0 2.4v4.9l-4.0 2.4l-4.0 -2.4v-4.9zM612.1 699.3l4.0 2.4v4.9l-4.0 2.4l-4.0 -2.4v-4.9zM622.9 699.3l4.0 2.4v4.9l-4.0 2.4l-4.0 -2.4v-4.9zM633.8 699.3l4.0 2.4v4.9l-4.0 2.4l-4.0 -2.4v-4.9zM644.6 699.3l4.0 2.4v4.9l-4.0 2.4l-4.0 -2.4v-4.9zM655.4 699.3l4.0 2.4v4.9l-4.0 2.4l-4.0 -2.4v-4.9zM666.3 699.3l4.0 2.4v4.9l-4.0 2.4l-4.0 -2.4v-4.9zM617.5 689.2l4.0 2.4v4.9l-4.0 2.4l-4.0 -2.4v-4.9zM628.3 689.2l4.0 2.4v4.9l-4.0 2.4l-4.0 -2.4v-4.9zM639.2 689.2l4.0 2.4v4.9l-4.0 2.4l-4.0 -2.4v-4.9zM650.0 689.2l4.0 2.4v4.9l-4.0 2.4l-4.0 -2.4v-4.9zM660.9 689.2l4.0 2.4v4.9l-4.0 2.4l-4.0 -2.4v-4.9zM671.7 689.2l4.0 2.4v4.9l-4.0 2.4l-4.0 -2.4v-4.9zM622.9 679.2l4.0 2.4v4.9l-4.0 2.4l-4.0 -2.4v-4.9zM633.8 679.2l4.0 2.4v4.9l-4.0 2.4l-4.0 -2.4v-4.9zM644.6 679.2l4.0 2.4v4.9l-4.0 2.4l-4.0 -2.4v-4.9zM655.4 679.2l4.0 2.4v4.9l-4.0 2.4l-4.0 -2.4v-4.9zM666.3 679.2l4.0 2.4v4.9l-4.0 2.4l-4.0 -2.4v-4.9zM677.1 679.2l4.0 2.4v4.9l-4.0 2.4l-4.0 -2.4v-4.9zM617.5 669.1l4.0 2.4v4.9l-4.0 2.4l-4.0 -2.4v-4.9zM628.3 669.1l4.0 2.4v4.9l-4.0 2.4l-4.0 -2.4v-4.9zM639.2 669.1l4.0 2.4v4.9l-4.0 2.4l-4.0 -2.4v-4.9zM650.0 669.1l4.0 2.4v4.9l-4.0 2.4l-4.0 -2.4v-4.9zM660.9 669.1l4.0 2.4v4.9l-4.0 2.4l-4.0 -2.4v-4.9zM671.7 669.1l4.0 2.4v4.9l-4.0 2.4l-4.0 -2.4v-4.9zM682.5 669.1l4.0 2.4v4.9l-4.0 2.4l-4.0 -2.4v-4.9zM622.9 659.1l4.0 2.4v4.9l-4.0 2.4l-4.0 -2.4v-4.9zM633.8 659.1l4.0 2.4v4.9l-4.0 2.4l-4.0 -2.4v-4.9zM644.6 659.1l4.0 2.4v4.9l-4.0 2.4l-4.0 -2.4v-4.9zM655.4 659.1l4.0 2.4v4.9l-4.0 2.4l-4.0 -2.4v-4.9zM666.3 659.1l4.0 2.4v4.9l-4.0 2.4l-4.0 -2.4v-4.9zM677.1 659.1l4.0 2.4v4.9l-4.0 2.4l-4.0 -2.4v-4.9zM688.0 659.1l4.0 2.4v4.9l-4.0 2.4l-4.0 -2.4v-4.9zM628.3 649.0l4.0 2.4v4.9l-4.0 2.4l-4.0 -2.4v-4.9zM639.2 649.0l4.0 2.4v4.9l-4.0 2.4l-4.0 -2.4v-4.9zM650.0 649.0l4.0 2.4v4.9l-4.0 2.4l-4.0 -2.4v-4.9zM660.9 649.0l4.0 2.4v4.9l-4.0 2.4l-4.0 -2.4v-4.9zM671.7 649.0l4.0 2.4v4.9l-4.0 2.4l-4.0 -2.4v-4.9zM682.5 649.0l4.0 2.4v4.9l-4.0 2.4l-4.0 -2.4v-4.9zM622.9 639.0l4.0 2.4v4.9l-4.0 2.4l-4.0 -2.4v-4.9zM633.8 639.0l4.0 2.4v4.9l-4.0 2.4l-4.0 -2.4v-4.9zM644.6 639.0l4.0 2.4v4.9l-4.0 2.4l-4.0 -2.4v-4.9zM655.4 639.0l4.0 2.4v4.9l-4.0 2.4l-4.0 -2.4v-4.9zM666.3 639.0l4.0 2.4v4.9l-4.0 2.4l-4.0 -2.4v-4.9zM677.1 639.0l4.0 2.4v4.9l-4.0 2.4l-4.0 -2.4v-4.9zM688.0 639.0l4.0 2.4v4.9l-4.0 2.4l-4.0 -2.4v-4.9zM628.3 628.9l4.0 2.4v4.9l-4.0 2.4l-4.0 -2.4v-4.9zM639.2 628.9l4.0 2.4v4.9l-4.0 2.4l-4.0 -2.4v-4.9zM650.0 628.9l4.0 2.4v4.9l-4.0 2.4l-4.0 -2.4v-4.9zM660.9 628.9l4.0 2.4v4.9l-4.0 2.4l-4.0 -2.4v-4.9zM671.7 628.9l4.0 2.4v4.9l-4.0 2.4l-4.0 -2.4v-4.9zM682.5 628.9l4.0 2.4v4.9l-4.0 2.4l-4.0 -2.4v-4.9zM693.4 628.9l4.0 2.4v4.9l-4.0 2.4l-4.0 -2.4v-4.9zM633.8 618.9l4.0 2.4v4.9l-4.0 2.4l-4.0 -2.4v-4.9zM644.6 618.9l4.0 2.4v4.9l-4.0 2.4l-4.0 -2.4v-4.9zM655.4 618.9l4.0 2.4v4.9l-4.0 2.4l-4.0 -2.4v-4.9zM666.3 618.9l4.0 2.4v4.9l-4.0 2.4l-4.0 -2.4v-4.9zM628.3 608.8l4.0 2.4v4.9l-4.0 2.4l-4.0 -2.4v-4.9z"/>
<path fill="#9282b2" d="M650.0 789.7l4.0 2.4v4.9l-4.0 2.4l-4.0 -2.4v-4.9zM660.9 789.7l4.0 2.4v4.9l-4.0 2.4l-4.0 -2.4v-4.9zM671.7 789.7l4.0 2.4v4.9l-4.0 2.4l-4.0 -2.4v-4.9zM682.5 789.7l4.0 2.4v4.9l-4.0 2.4l-4.0 -2.4v-4.9zM693.4 789.7l4.0 2.4v4.9l-4.0 2.4l-4.0 -2.4v-4.9zM704.2 789.7l4.0 2.4v4.9l-4.0 2.4l-4.0 -2.4v-4.9zM715.1 789.7l4.0 2.4v4.9l-4.0 2.4l-4.0 -2.4v-4.9zM725.9 789.7l4.0 2.4v4.9l-4.0 2.4l-4.0 -2.4v-4.9zM736.7 789.7l4.0 2.4v4.9l-4.0 2.4l-4.0 -2.4v-4.9zM747.6 789.7l4.0 2.4v4.9l-4.0 2.4l-4.0 -2.4v-4.9zM758.4 789.7l4.0 2.4v4.9l-4.0 2.4l-4.0 -2.4v-4.9zM769.3 789.7l4.0 2.4v4.9l-4.0 2.4l-4.0 -2.4v-4.9zM780.1 789.7l4.0 2.4v4.9l-4.0 2.4l-4.0 -2.4v-4.9zM655.4 779.7l4.0 2.4v4.9l-4.0 2.4l-4.0 -2.4v-4.9zM666.3 779.7l4.0 2.4v4.9l-4.0 2.4l-4.0 -2.4v-4.9zM677.1 779.7l4.0 2.4v4.9l-4.0 2.4l-4.0 -2.4v-4.9zM688.0 779.7l4.0 2.4v4.9l-4.0 2.4l-4.0 -2.4v-4.9zM698.8 779.7l4.0 2.4v4.9l-4.0 2.4l-4.0 -2.4v-4.9zM709.6 779.7l4.0 2.4v4.9l-4.0 2.4l-4.0 -2.4v-4.9zM720.5 779.7l4.0 2.4v4.9l-4.0 2.4l-4.0 -2.4v-4.9zM731.3 779.7l4.0 2.4v4.9l-4.0 2.4l-4.0 -2.4v-4.9zM742.2 779.7l4.0 2.4v4.9l-4.0 2.4l-4.0 -2.4v-4.9zM753.0 779.7l4.0 2.4v4.9l-4.0 2.4l-4.0 -2.4v-4.9zM763.8 779.7l4.0 2.4v4.9l-4.0 2.4l-4.0 -2.4v-4.9zM774.7 779.7l4.0 2.4v4.9l-4.0 2.4l-4.0 -2.4v-4.9zM660.9 769.6l4.0 2.4v4.9l-4.0 2.4l-4.0 -2.4v-4.9zM671.7 769.6l4.0 2.4v4.9l-4.0 2.4l-4.0 -2.4v-4.9zM682.5 769.6l4.0 2.4v4.9l-4.0 2.4l-4.0 -2.4v-4.9zM693.4 769.6l4.0 2.4v4.9l-4.0 2.4l-4.0 -2.4v-4.9zM704.2 769.6l4.0 2.4v4.9l-4.0 2.4l-4.0 -2.4v-4.9zM715.1 769.6l4.0 2.4v4.9l-4.0 2.4l-4.0 -2.4v-4.9zM725.9 769.6l4.0 2.4v4.9l-4.0 2.4l-4.0 -2.4v-4.9zM736.7 769.6l4.0 2.4v4.9l-4.0 2.4l-4.0 -2.4v-4.9zM747.6 769.6l4.0 2.4v4.9l-4.0 2.4l-4.0 -2.4v-4.9zM758.4 769.6l4.0 2.4v4.9l-4.0 2.4l-4.0 -2.4v-4.9zM769.3 769.6l4.0 2.4v4.9l-4.0 2.4l-4.0 -2.4v-4.9zM655.4 759.6l4.0 2.4v4.9l-4.0 2.4l-4.0 -2.4v-4.9zM666.3 759.6l4.0 2.4v4.9l-4.0 2.4l-4.0 -2.4v-4.9zM677.1 759.6l4.0 2.4v4.9l-4.0 2.4l-4.0 -2.4v-4.9zM688.0 759.6l4.0 2.4v4.9l-4.0 2.4l-4.0 -2.4v-4.9zM698.8 759.6l4.0 2.4v4.9l-4.0 2.4l-4.0 -2.4v-4.9zM709.6 759.6l4.0 2.4v4.9l-4.0 2.4l-4.0 -2.4v-4.9zM720.5 759.6l4.0 2.4v4.9l-4.0 2.4l-4.0 -2.4v-4.9zM731.3 759.6l4.0 2.4v4.9l-4.0 2.4l-4.0 -2.4v-4.9zM742.2 759.6l4.0 2.4v4.9l-4.0 2.4l-4.0 -2.4v-4.9zM753.0 759.6l4.0 2.4v4.9l-4.0 2.4l-4.0 -2.4v-4.9zM763.8 759.6l4.0 2.4v4.9l-4.0 2.4l-4.0 -2.4v-4.9zM660.9 749.5l4.0 2.4v4.9l-4.0 2.4l-4.0 -2.4v-4.9zM671.7 749.5l4.0 2.4v4.9l-4.0 2.4l-4.0 -2.4v-4.9zM682.5 749.5l4.0 2.4v4.9l-4.0 2.4l-4.0 -2.4v-4.9zM693.4 749.5l4.0 2.4v4.9l-4.0 2.4l-4.0 -2.4v-4.9zM704.2 749.5l4.0 2.4v4.9l-4.0 2.4l-4.0 -2.4v-4.9zM715.1 749.5l4.0 2.4v4.9l-4.0 2.4l-4.0 -2.4v-4.9zM725.9 749.5l4.0 2.4v4.9l-4.0 2.4l-4.0 -2.4v-4.9zM736.7 749.5l4.0 2.4v4.9l-4.0 2.4l-4.0 -2.4v-4.9zM747.6 749.5l4.0 2.4v4.9l-4.0 2.4l-4.0 -2.4v-4.9zM758.4 749.5l4.0 2.4v4.9l-4.0 2.4l-4.0 -2.4v-4.9zM666.3 739.5l4.0 2.4v4.9l-4.0 2.4l-4.0 -2.4v-4.9zM677.1 739.5l4.0 2.4v4.9l-4.0 2.4l-4.0 -2.4v-4.9zM688.0 739.5l4.0 2.4v4.9l-4.0 2.4l-4.0 -2.4v-4.9zM698.8 739.5l4.0 2.4v4.9l-4.0 2.4l-4.0 -2.4v-4.9zM709.6 739.5l4.0 2.4v4.9l-4.0 2.4l-4.0 -2.4v-4.9zM720.5 739.5l4.0 2.4v4.9l-4.0 2.4l-4.0 -2.4v-4.9zM731.3 739.5l4.0 2.4v4.9l-4.0 2.4l-4.0 -2.4v-4.9zM742.2 739.5l4.0 2.4v4.9l-4.0 2.4l-4.0 -2.4v-4.9zM753.0 739.5l4.0 2.4v4.9l-4.0 2.4l-4.0 -2.4v-4.9zM671.7 729.4l4.0 2.4v4.9l-4.0 2.4l-4.0 -2.4v-4.9zM682.5 729.4l4.0 2.4v4.9l-4.0 2.4l-4.0 -2.4v-4.9zM693.4 729.4l4.0 2.4v4.9l-4.0 2.4l-4.0 -2.4v-4.9zM704.2 729.4l4.0 2.4v4.9l-4.0 2.4l-4.0 -2.4v-4.9zM715.1 729.4l4.0 2.4v4.9l-4.0 2.4l-4.0 -2.4v-4.9zM725.9 729.4l4.0 2.4v4.9l-4.0 2.4l-4.0 -2.4v-4.9zM736.7 729.4l4.0 2.4v4.9l-4.0 2.4l-4.0 -2.4v-4.9zM747.6 729.4l4.0 2.4v4.9l-4.0 2.4l-4.0 -2.4v-4.9zM677.1 719.4l4.0 2.4v4.9l-4.0 2.4l-4.0 -2.4v-4.9zM688.0 719.4l4.0 2.4v4.9l-4.0 2.4l-4.0 -2.4v-4.9zM698.8 719.4l4.0 2.4v4.9l-4.0 2.4l-4.0 -2.4v-4.9zM709.6 719.4l4.0 2.4v4.9l-4.0 2.4l-4.0 -2.4v-4.9zM720.5 719.4l4.0 2.4v4.9l-4.0 2.4l-4.0 -2.4v-4.9zM731.3 719.4l4.0 2.4v4.9l-4.0 2.4l-4.0 -2.4v-4.9zM742.2 719.4l4.0 2.4v4.9l-4.0 2.4l-4.0 -2.4v-4.9zM682.5 709.3l4.0 2.4v4.9l-4.0 2.4l-4.0 -2.4v-4.9zM693.4 709.3l4.0 2.4v4.9l-4.0 2.4l-4.0 -2.4v-4.9zM704.2 709.3l4.0 2.4v4.9l-4.0 2.4l-4.0 -2.4v-4.9zM715.1 709.3l4.0 2.4v4.9l-4.0 2.4l-4.0 -2.4v-4.9zM725.9 709.3l4.0 2.4v4.9l-4.0 2.4l-4.0 -2.4v-4.9zM736.7 709.3l4.0 2.4v4.9l-4.0 2.4l-4.0 -2.4v-4.9zM677.1 699.3l4.0 2.4v4.9l-4.0 2.4l-4.0 -2.4v-4.9zM688.0 699.3l4.0 2.4v4.9l-4.0 2.4l-4.0 -2.4v-4.9zM698.8 699.3l4.0 2.4v4.9l-4.0 2.4l-4.0 -2.4v-4.9zM709.6 699.3l4.0 2.4v4.9l-4.0 2.4l-4.0 -2.4v-4.9zM720.5 699.3l4.0 2.4v4.9l-4.0 2.4l-4.0 -2.4v-4.9zM731.3 699.3l4.0 2.4v4.9l-4.0 2.4l-4.0 -2.4v-4.9zM682.5 689.2l4.0 2.4v4.9l-4.0 2.4l-4.0 -2.4v-4.9zM693.4 689.2l4.0 2.4v4.9l-4.0 2.4l-4.0 -2.4v-4.9zM704.2 689.2l4.0 2.4v4.9l-4.0 2.4l-4.0 -2.4v-4.9zM715.1 689.2l4.0 2.4v4.9l-4.0 2.4l-4.0 -2.4v-4.9zM725.9 689.2l4.0 2.4v4.9l-4.0 2.4l-4.0 -2.4v-4.9zM688.0 679.2l4.0 2.4v4.9l-4.0 2.4l-4.0 -2.4v-4.9zM698.8 679.2l4.0 2.4v4.9l-4.0 2.4l-4.0 -2.4v-4.9zM709.6 679.2l4.0 2.4v4.9l-4.0 2.4l-4.0 -2.4v-4.9zM720.5 679.2l4.0 2.4v4.9l-4.0 2.4l-4.0 -2.4v-4.9zM693.4 669.1l4.0 2.4v4.9l-4.0 2.4l-4.0 -2.4v-4.9zM704.2 669.1l4.0 2.4v4.9l-4.0 2.4l-4.0 -2.4v-4.9zM715.1 669.1l4.0 2.4v4.9l-4.0 2.4l-4.0 -2.4v-4.9zM698.8 659.1l4.0 2.4v4.9l-4.0 2.4l-4.0 -2.4v-4.9zM709.6 659.1l4.0 2.4v4.9l-4.0 2.4l-4.0 -2.4v-4.9zM693.4 649.0l4.0 2.4v4.9l-4.0 2.4l-4.0 -2.4v-4.9zM704.2 649.0l4.0 2.4v4.9l-4.0 2.4l-4.0 -2.4v-4.9zM698.8 639.0l4.0 2.4v4.9l-4.0 2.4l-4.0 -2.4v-4.9z"/>
</g>
<path d="M454.90 794.60l-3.61 6.69M617.50 493.10l-3.61 -6.69M780.10 794.60h7.60M509.10 794.60l-3.61 6.69M590.40 543.35l-3.61 -6.69M753.00 744.35h7.60M563.30 794.60l-3.61 6.69M563.30 593.60l-3.61 -6.69M725.90 694.10h7.60M617.50 794.60l-3.61 6.69M536.20 643.85l-3.61 -6.69M698.80 643.85h7.60M671.70 794.60l-3.61 6.69M509.10 694.10l-3.61 -6.69M671.70 593.60h7.60M725.90 794.60l-3.61 6.69M482.00 744.35l-3.61 -6.69M644.60 543.35h7.60M780.10 794.60l-3.61 6.69M454.90 794.60l-3.61 -6.69M617.50 493.10h7.60" stroke="#000" stroke-width="1.9" fill="none"/>
<polygon points="454.90,794.60 780.10,794.60 617.50,493.10" fill="none" stroke="#000" stroke-width="2.1" stroke-linejoin="miter"/>
<g class="tl"><text transform="matrix(1.02 0 0 1.04 440.85 816.00)">0</text>
<text transform="matrix(1.02 0 0 1.04 494.77 816.00)">0.5</text>
<polygon points="554.61,816.00 553.00,816.00 553.00,808.12 550.66,808.12 550.66,806.98 551.88,806.80 552.65,806.25 553.21,805.00 554.61,805.00"/>
<polygon points="605.53,816.00 603.92,816.00 603.92,808.12 601.58,808.12 601.58,806.98 602.80,806.80 603.57,806.25 604.13,805.00 605.53,805.00"/><text transform="matrix(1.02 0 0 1.04 608.17 816.00)">.5</text>
<text transform="matrix(1.02 0 0 1.04 657.45 816.00)">2</text>
<text transform="matrix(1.02 0 0 1.04 707.87 816.00)">2.5</text>
<text transform="matrix(1.02 0 0 1.04 765.55 816.00)">3</text>
<text transform="matrix(1.02 0 0 1.04 604.35 484.70)">0</text>
<text transform="matrix(1.02 0 0 1.04 568.37 535.00)">0.5</text>
<polygon points="553.41,584.90 551.80,584.90 551.80,577.02 549.46,577.02 549.46,575.88 550.68,575.70 551.45,575.15 552.01,573.90 553.41,573.90"/>
<polygon points="516.83,635.70 515.22,635.70 515.22,627.82 512.88,627.82 512.88,626.68 514.10,626.50 514.87,625.95 515.43,624.70 516.83,624.70"/><text transform="matrix(1.02 0 0 1.04 519.47 635.70)">.5</text>
<text transform="matrix(1.02 0 0 1.04 493.25 685.60)">2</text>
<text transform="matrix(1.02 0 0 1.04 456.77 735.70)">2.5</text>
<text transform="matrix(1.02 0 0 1.04 438.65 786.10)">3</text>
<text transform="matrix(1.02 0 0 1.04 626.50 496.70)">3</text>
<text transform="matrix(1.02 0 0 1.04 653.60 546.90)">2.5</text>
<text transform="matrix(1.02 0 0 1.04 680.50 597.10)">2</text>
<polygon points="713.76,647.50 712.15,647.50 712.15,639.62 709.81,639.62 709.81,638.48 711.04,638.30 711.80,637.75 712.37,636.50 713.76,636.50"/><text transform="matrix(1.02 0 0 1.04 716.41 647.50)">.5</text>
<polygon points="740.86,697.70 739.25,697.70 739.25,689.82 736.91,689.82 736.91,688.68 738.14,688.50 738.90,687.95 739.47,686.70 740.86,686.70"/>
<text transform="matrix(1.02 0 0 1.04 763.30 748.10)">0.5</text>
<text transform="matrix(1.02 0 0 1.04 791.80 798.00)">0</text>
<text class="g" x="608.7" y="836.0" text-anchor="middle">α</text>
<g transform="translate(407.5,429.0)" fill="none" stroke="#000" stroke-linecap="round"><path d="M76.6 212.2C79 214.8 80.5 217.4 85.3 220.9" stroke-width="1.25"/><path d="M79.6 217.4C77.6 216.0 74.6 215.5 73.7 217.5C73.3 218.5 74.1 219.2 74.9 219.5" stroke-width="0.95"/></g>
<text class="g" transform="translate(743.8,649.2) rotate(53)" x="0" y="3.5" text-anchor="middle">β</text></g>
<clipPath id="clipe"><polygon points="854.10,794.40 1179.30,794.40 1016.70,492.90"/></clipPath>
<g clip-path="url(#clipe)">
<path fill="#10b5de" d="M1076.3 616.7l5.6 3.4v6.9l-5.6 3.4l-5.6 -3.4v-6.9zM1038.4 606.6l5.6 3.4v6.9l-5.6 3.4l-5.6 -3.4v-6.9zM1049.2 606.6l5.6 3.4v6.9l-5.6 3.4l-5.6 -3.4v-6.9zM1060.1 606.6l5.6 3.4v6.9l-5.6 3.4l-5.6 -3.4v-6.9zM1070.9 606.6l5.6 3.4v6.9l-5.6 3.4l-5.6 -3.4v-6.9zM1081.7 606.6l5.6 3.4v6.9l-5.6 3.4l-5.6 -3.4v-6.9zM1011.3 596.6l5.6 3.4v6.9l-5.6 3.4l-5.6 -3.4v-6.9zM1022.1 596.6l5.6 3.4v6.9l-5.6 3.4l-5.6 -3.4v-6.9zM1033.0 596.6l5.6 3.4v6.9l-5.6 3.4l-5.6 -3.4v-6.9zM1043.8 596.6l5.6 3.4v6.9l-5.6 3.4l-5.6 -3.4v-6.9zM1054.6 596.6l5.6 3.4v6.9l-5.6 3.4l-5.6 -3.4v-6.9zM1065.5 596.6l5.6 3.4v6.9l-5.6 3.4l-5.6 -3.4v-6.9zM1076.3 596.6l5.6 3.4v6.9l-5.6 3.4l-5.6 -3.4v-6.9zM995.0 586.5l5.6 3.4v6.9l-5.6 3.4l-5.6 -3.4v-6.9zM1005.9 586.5l5.6 3.4v6.9l-5.6 3.4l-5.6 -3.4v-6.9zM1016.7 586.5l5.6 3.4v6.9l-5.6 3.4l-5.6 -3.4v-6.9zM1027.5 586.5l5.6 3.4v6.9l-5.6 3.4l-5.6 -3.4v-6.9zM1038.4 586.5l5.6 3.4v6.9l-5.6 3.4l-5.6 -3.4v-6.9zM1049.2 586.5l5.6 3.4v6.9l-5.6 3.4l-5.6 -3.4v-6.9zM1060.1 586.5l5.6 3.4v6.9l-5.6 3.4l-5.6 -3.4v-6.9zM1070.9 586.5l5.6 3.4v6.9l-5.6 3.4l-5.6 -3.4v-6.9zM989.6 576.5l5.6 3.4v6.9l-5.6 3.4l-5.6 -3.4v-6.9zM1000.4 576.5l5.6 3.4v6.9l-5.6 3.4l-5.6 -3.4v-6.9zM1011.3 576.5l5.6 3.4v6.9l-5.6 3.4l-5.6 -3.4v-6.9zM1022.1 576.5l5.6 3.4v6.9l-5.6 3.4l-5.6 -3.4v-6.9zM1033.0 576.5l5.6 3.4v6.9l-5.6 3.4l-5.6 -3.4v-6.9zM1043.8 576.5l5.6 3.4v6.9l-5.6 3.4l-5.6 -3.4v-6.9zM1054.6 576.5l5.6 3.4v6.9l-5.6 3.4l-5.6 -3.4v-6.9zM1065.5 576.5l5.6 3.4v6.9l-5.6 3.4l-5.6 -3.4v-6.9zM984.2 566.4l5.6 3.4v6.9l-5.6 3.4l-5.6 -3.4v-6.9zM995.0 566.4l5.6 3.4v6.9l-5.6 3.4l-5.6 -3.4v-6.9zM1005.9 566.4l5.6 3.4v6.9l-5.6 3.4l-5.6 -3.4v-6.9zM1016.7 566.4l5.6 3.4v6.9l-5.6 3.4l-5.6 -3.4v-6.9zM1027.5 566.4l5.6 3.4v6.9l-5.6 3.4l-5.6 -3.4v-6.9zM1038.4 566.4l5.6 3.4v6.9l-5.6 3.4l-5.6 -3.4v-6.9zM1049.2 566.4l5.6 3.4v6.9l-5.6 3.4l-5.6 -3.4v-6.9zM1060.1 566.4l5.6 3.4v6.9l-5.6 3.4l-5.6 -3.4v-6.9zM978.8 556.4l5.6 3.4v6.9l-5.6 3.4l-5.6 -3.4v-6.9zM989.6 556.4l5.6 3.4v6.9l-5.6 3.4l-5.6 -3.4v-6.9zM1000.4 556.4l5.6 3.4v6.9l-5.6 3.4l-5.6 -3.4v-6.9zM1011.3 556.4l5.6 3.4v6.9l-5.6 3.4l-5.6 -3.4v-6.9zM1022.1 556.4l5.6 3.4v6.9l-5.6 3.4l-5.6 -3.4v-6.9zM1033.0 556.4l5.6 3.4v6.9l-5.6 3.4l-5.6 -3.4v-6.9zM1043.8 556.4l5.6 3.4v6.9l-5.6 3.4l-5.6 -3.4v-6.9zM1054.6 556.4l5.6 3.4v6.9l-5.6 3.4l-5.6 -3.4v-6.9zM984.2 546.4l5.6 3.4v6.9l-5.6 3.4l-5.6 -3.4v-6.9zM995.0 546.4l5.6 3.4v6.9l-5.6 3.4l-5.6 -3.4v-6.9zM1005.9 546.4l5.6 3.4v6.9l-5.6 3.4l-5.6 -3.4v-6.9zM1016.7 546.4l5.6 3.4v6.9l-5.6 3.4l-5.6 -3.4v-6.9zM1027.5 546.4l5.6 3.4v6.9l-5.6 3.4l-5.6 -3.4v-6.9zM1038.4 546.4l5.6 3.4v6.9l-5.6 3.4l-5.6 -3.4v-6.9zM1049.2 546.4l5.6 3.4v6.9l-5.6 3.4l-5.6 -3.4v-6.9zM989.6 536.3l5.6 3.4v6.9l-5.6 3.4l-5.6 -3.4v-6.9zM1000.4 536.3l5.6 3.4v6.9l-5.6 3.4l-5.6 -3.4v-6.9zM1011.3 536.3l5.6 3.4v6.9l-5.6 3.4l-5.6 -3.4v-6.9zM1022.1 536.3l5.6 3.4v6.9l-5.6 3.4l-5.6 -3.4v-6.9zM1033.0 536.3l5.6 3.4v6.9l-5.6 3.4l-5.6 -3.4v-6.9zM1043.8 536.3l5.6 3.4v6.9l-5.6 3.4l-5.6 -3.4v-6.9zM995.0 526.2l5.6 3.4v6.9l-5.6 3.4l-5.6 -3.4v-6.9zM1005.9 526.2l5.6 3.4v6.9l-5.6 3.4l-5.6 -3.4v-6.9zM1016.7 526.2l5.6 3.4v6.9l-5.6 3.4l-5.6 -3.4v-6.9zM1027.5 526.2l5.6 3.4v6.9l-5.6 3.4l-5.6 -3.4v-6.9zM1038.4 526.2l5.6 3.4v6.9l-5.6 3.4l-5.6 -3.4v-6.9zM1000.4 516.2l5.6 3.4v6.9l-5.6 3.4l-5.6 -3.4v-6.9zM1011.3 516.2l5.6 3.4v6.9l-5.6 3.4l-5.6 -3.4v-6.9zM1022.1 516.2l5.6 3.4v6.9l-5.6 3.4l-5.6 -3.4v-6.9zM1033.0 516.2l5.6 3.4v6.9l-5.6 3.4l-5.6 -3.4v-6.9zM1005.9 506.1l5.6 3.4v6.9l-5.6 3.4l-5.6 -3.4v-6.9zM1016.7 506.1l5.6 3.4v6.9l-5.6 3.4l-5.6 -3.4v-6.9zM1027.5 506.1l5.6 3.4v6.9l-5.6 3.4l-5.6 -3.4v-6.9zM1011.3 496.1l5.6 3.4v6.9l-5.6 3.4l-5.6 -3.4v-6.9zM1022.1 496.1l5.6 3.4v6.9l-5.6 3.4l-5.6 -3.4v-6.9zM1016.7 486.0l5.6 3.4v6.9l-5.6 3.4l-5.6 -3.4v-6.9z"/>
<path fill="#e58a16" d="M854.1 787.5l5.6 3.4v6.9l-5.6 3.4l-5.6 -3.4v-6.9zM864.9 787.5l5.6 3.4v6.9l-5.6 3.4l-5.6 -3.4v-6.9zM875.8 787.5l5.6 3.4v6.9l-5.6 3.4l-5.6 -3.4v-6.9zM886.6 787.5l5.6 3.4v6.9l-5.6 3.4l-5.6 -3.4v-6.9zM897.5 787.5l5.6 3.4v6.9l-5.6 3.4l-5.6 -3.4v-6.9zM908.3 787.5l5.6 3.4v6.9l-5.6 3.4l-5.6 -3.4v-6.9zM919.1 787.5l5.6 3.4v6.9l-5.6 3.4l-5.6 -3.4v-6.9zM930.0 787.5l5.6 3.4v6.9l-5.6 3.4l-5.6 -3.4v-6.9zM940.8 787.5l5.6 3.4v6.9l-5.6 3.4l-5.6 -3.4v-6.9zM951.7 787.5l5.6 3.4v6.9l-5.6 3.4l-5.6 -3.4v-6.9zM962.5 787.5l5.6 3.4v6.9l-5.6 3.4l-5.6 -3.4v-6.9zM973.3 787.5l5.6 3.4v6.9l-5.6 3.4l-5.6 -3.4v-6.9zM984.2 787.5l5.6 3.4v6.9l-5.6 3.4l-5.6 -3.4v-6.9zM859.5 777.5l5.6 3.4v6.9l-5.6 3.4l-5.6 -3.4v-6.9zM870.4 777.5l5.6 3.4v6.9l-5.6 3.4l-5.6 -3.4v-6.9zM881.2 777.5l5.6 3.4v6.9l-5.6 3.4l-5.6 -3.4v-6.9zM892.0 777.5l5.6 3.4v6.9l-5.6 3.4l-5.6 -3.4v-6.9zM902.9 777.5l5.6 3.4v6.9l-5.6 3.4l-5.6 -3.4v-6.9zM913.7 777.5l5.6 3.4v6.9l-5.6 3.4l-5.6 -3.4v-6.9zM924.6 777.5l5.6 3.4v6.9l-5.6 3.4l-5.6 -3.4v-6.9zM935.4 777.5l5.6 3.4v6.9l-5.6 3.4l-5.6 -3.4v-6.9zM946.2 777.5l5.6 3.4v6.9l-5.6 3.4l-5.6 -3.4v-6.9zM957.1 777.5l5.6 3.4v6.9l-5.6 3.4l-5.6 -3.4v-6.9zM967.9 777.5l5.6 3.4v6.9l-5.6 3.4l-5.6 -3.4v-6.9zM978.8 777.5l5.6 3.4v6.9l-5.6 3.4l-5.6 -3.4v-6.9zM989.6 777.5l5.6 3.4v6.9l-5.6 3.4l-5.6 -3.4v-6.9zM864.9 767.4l5.6 3.4v6.9l-5.6 3.4l-5.6 -3.4v-6.9zM875.8 767.4l5.6 3.4v6.9l-5.6 3.4l-5.6 -3.4v-6.9zM886.6 767.4l5.6 3.4v6.9l-5.6 3.4l-5.6 -3.4v-6.9zM897.5 767.4l5.6 3.4v6.9l-5.6 3.4l-5.6 -3.4v-6.9zM908.3 767.4l5.6 3.4v6.9l-5.6 3.4l-5.6 -3.4v-6.9zM919.1 767.4l5.6 3.4v6.9l-5.6 3.4l-5.6 -3.4v-6.9zM930.0 767.4l5.6 3.4v6.9l-5.6 3.4l-5.6 -3.4v-6.9zM940.8 767.4l5.6 3.4v6.9l-5.6 3.4l-5.6 -3.4v-6.9zM951.7 767.4l5.6 3.4v6.9l-5.6 3.4l-5.6 -3.4v-6.9zM962.5 767.4l5.6 3.4v6.9l-5.6 3.4l-5.6 -3.4v-6.9zM973.3 767.4l5.6 3.4v6.9l-5.6 3.4l-5.6 -3.4v-6.9zM984.2 767.4l5.6 3.4v6.9l-5.6 3.4l-5.6 -3.4v-6.9zM870.4 757.4l5.6 3.4v6.9l-5.6 3.4l-5.6 -3.4v-6.9zM881.2 757.4l5.6 3.4v6.9l-5.6 3.4l-5.6 -3.4v-6.9zM892.0 757.4l5.6 3.4v6.9l-5.6 3.4l-5.6 -3.4v-6.9zM902.9 757.4l5.6 3.4v6.9l-5.6 3.4l-5.6 -3.4v-6.9zM913.7 757.4l5.6 3.4v6.9l-5.6 3.4l-5.6 -3.4v-6.9zM924.6 757.4l5.6 3.4v6.9l-5.6 3.4l-5.6 -3.4v-6.9zM935.4 757.4l5.6 3.4v6.9l-5.6 3.4l-5.6 -3.4v-6.9zM946.2 757.4l5.6 3.4v6.9l-5.6 3.4l-5.6 -3.4v-6.9zM957.1 757.4l5.6 3.4v6.9l-5.6 3.4l-5.6 -3.4v-6.9zM967.9 757.4l5.6 3.4v6.9l-5.6 3.4l-5.6 -3.4v-6.9zM978.8 757.4l5.6 3.4v6.9l-5.6 3.4l-5.6 -3.4v-6.9zM989.6 757.4l5.6 3.4v6.9l-5.6 3.4l-5.6 -3.4v-6.9zM875.8 747.3l5.6 3.4v6.9l-5.6 3.4l-5.6 -3.4v-6.9zM886.6 747.3l5.6 3.4v6.9l-5.6 3.4l-5.6 -3.4v-6.9zM897.5 747.3l5.6 3.4v6.9l-5.6 3.4l-5.6 -3.4v-6.9zM908.3 747.3l5.6 3.4v6.9l-5.6 3.4l-5.6 -3.4v-6.9zM919.1 747.3l5.6 3.4v6.9l-5.6 3.4l-5.6 -3.4v-6.9zM930.0 747.3l5.6 3.4v6.9l-5.6 3.4l-5.6 -3.4v-6.9zM940.8 747.3l5.6 3.4v6.9l-5.6 3.4l-5.6 -3.4v-6.9zM951.7 747.3l5.6 3.4v6.9l-5.6 3.4l-5.6 -3.4v-6.9zM962.5 747.3l5.6 3.4v6.9l-5.6 3.4l-5.6 -3.4v-6.9zM973.3 747.3l5.6 3.4v6.9l-5.6 3.4l-5.6 -3.4v-6.9zM984.2 747.3l5.6 3.4v6.9l-5.6 3.4l-5.6 -3.4v-6.9zM881.2 737.3l5.6 3.4v6.9l-5.6 3.4l-5.6 -3.4v-6.9zM892.0 737.3l5.6 3.4v6.9l-5.6 3.4l-5.6 -3.4v-6.9zM902.9 737.3l5.6 3.4v6.9l-5.6 3.4l-5.6 -3.4v-6.9zM913.7 737.3l5.6 3.4v6.9l-5.6 3.4l-5.6 -3.4v-6.9zM924.6 737.3l5.6 3.4v6.9l-5.6 3.4l-5.6 -3.4v-6.9zM935.4 737.3l5.6 3.4v6.9l-5.6 3.4l-5.6 -3.4v-6.9zM946.2 737.3l5.6 3.4v6.9l-5.6 3.4l-5.6 -3.4v-6.9zM957.1 737.3l5.6 3.4v6.9l-5.6 3.4l-5.6 -3.4v-6.9zM967.9 737.3l5.6 3.4v6.9l-5.6 3.4l-5.6 -3.4v-6.9zM978.8 737.3l5.6 3.4v6.9l-5.6 3.4l-5.6 -3.4v-6.9zM989.6 737.3l5.6 3.4v6.9l-5.6 3.4l-5.6 -3.4v-6.9zM886.6 727.2l5.6 3.4v6.9l-5.6 3.4l-5.6 -3.4v-6.9zM897.5 727.2l5.6 3.4v6.9l-5.6 3.4l-5.6 -3.4v-6.9zM908.3 727.2l5.6 3.4v6.9l-5.6 3.4l-5.6 -3.4v-6.9zM919.1 727.2l5.6 3.4v6.9l-5.6 3.4l-5.6 -3.4v-6.9zM930.0 727.2l5.6 3.4v6.9l-5.6 3.4l-5.6 -3.4v-6.9zM940.8 727.2l5.6 3.4v6.9l-5.6 3.4l-5.6 -3.4v-6.9zM951.7 727.2l5.6 3.4v6.9l-5.6 3.4l-5.6 -3.4v-6.9zM962.5 727.2l5.6 3.4v6.9l-5.6 3.4l-5.6 -3.4v-6.9zM973.3 727.2l5.6 3.4v6.9l-5.6 3.4l-5.6 -3.4v-6.9zM984.2 727.2l5.6 3.4v6.9l-5.6 3.4l-5.6 -3.4v-6.9zM995.0 727.2l5.6 3.4v6.9l-5.6 3.4l-5.6 -3.4v-6.9zM892.0 717.2l5.6 3.4v6.9l-5.6 3.4l-5.6 -3.4v-6.9zM902.9 717.2l5.6 3.4v6.9l-5.6 3.4l-5.6 -3.4v-6.9zM913.7 717.2l5.6 3.4v6.9l-5.6 3.4l-5.6 -3.4v-6.9zM924.6 717.2l5.6 3.4v6.9l-5.6 3.4l-5.6 -3.4v-6.9zM935.4 717.2l5.6 3.4v6.9l-5.6 3.4l-5.6 -3.4v-6.9zM946.2 717.2l5.6 3.4v6.9l-5.6 3.4l-5.6 -3.4v-6.9zM957.1 717.2l5.6 3.4v6.9l-5.6 3.4l-5.6 -3.4v-6.9zM967.9 717.2l5.6 3.4v6.9l-5.6 3.4l-5.6 -3.4v-6.9zM978.8 717.2l5.6 3.4v6.9l-5.6 3.4l-5.6 -3.4v-6.9zM989.6 717.2l5.6 3.4v6.9l-5.6 3.4l-5.6 -3.4v-6.9zM897.5 707.1l5.6 3.4v6.9l-5.6 3.4l-5.6 -3.4v-6.9zM908.3 707.1l5.6 3.4v6.9l-5.6 3.4l-5.6 -3.4v-6.9zM919.1 707.1l5.6 3.4v6.9l-5.6 3.4l-5.6 -3.4v-6.9zM930.0 707.1l5.6 3.4v6.9l-5.6 3.4l-5.6 -3.4v-6.9zM940.8 707.1l5.6 3.4v6.9l-5.6 3.4l-5.6 -3.4v-6.9zM951.7 707.1l5.6 3.4v6.9l-5.6 3.4l-5.6 -3.4v-6.9zM962.5 707.1l5.6 3.4v6.9l-5.6 3.4l-5.6 -3.4v-6.9zM973.3 707.1l5.6 3.4v6.9l-5.6 3.4l-5.6 -3.4v-6.9zM984.2 707.1l5.6 3.4v6.9l-5.6 3.4l-5.6 -3.4v-6.9zM995.0 707.1l5.6 3.4v6.9l-5.6 3.4l-5.6 -3.4v-6.9zM902.9 697.1l5.6 3.4v6.9l-5.6 3.4l-5.6 -3.4v-6.9zM913.7 697.1l5.6 3.4v6.9l-5.6 3.4l-5.6 -3.4v-6.9zM924.6 697.1l5.6 3.4v6.9l-5.6 3.4l-5.6 -3.4v-6.9zM935.4 697.1l5.6 3.4v6.9l-5.6 3.4l-5.6 -3.4v-6.9zM946.2 697.1l5.6 3.4v6.9l-5.6 3.4l-5.6 -3.4v-6.9zM957.1 697.1l5.6 3.4v6.9l-5.6 3.4l-5.6 -3.4v-6.9zM967.9 697.1l5.6 3.4v6.9l-5.6 3.4l-5.6 -3.4v-6.9zM978.8 697.1l5.6 3.4v6.9l-5.6 3.4l-5.6 -3.4v-6.9zM989.6 697.1l5.6 3.4v6.9l-5.6 3.4l-5.6 -3.4v-6.9zM908.3 687.0l5.6 3.4v6.9l-5.6 3.4l-5.6 -3.4v-6.9zM919.1 687.0l5.6 3.4v6.9l-5.6 3.4l-5.6 -3.4v-6.9zM930.0 687.0l5.6 3.4v6.9l-5.6 3.4l-5.6 -3.4v-6.9zM940.8 687.0l5.6 3.4v6.9l-5.6 3.4l-5.6 -3.4v-6.9zM951.7 687.0l5.6 3.4v6.9l-5.6 3.4l-5.6 -3.4v-6.9zM962.5 687.0l5.6 3.4v6.9l-5.6 3.4l-5.6 -3.4v-6.9zM973.3 687.0l5.6 3.4v6.9l-5.6 3.4l-5.6 -3.4v-6.9zM984.2 687.0l5.6 3.4v6.9l-5.6 3.4l-5.6 -3.4v-6.9zM995.0 687.0l5.6 3.4v6.9l-5.6 3.4l-5.6 -3.4v-6.9zM913.7 677.0l5.6 3.4v6.9l-5.6 3.4l-5.6 -3.4v-6.9zM924.6 677.0l5.6 3.4v6.9l-5.6 3.4l-5.6 -3.4v-6.9zM935.4 677.0l5.6 3.4v6.9l-5.6 3.4l-5.6 -3.4v-6.9zM946.2 677.0l5.6 3.4v6.9l-5.6 3.4l-5.6 -3.4v-6.9zM957.1 677.0l5.6 3.4v6.9l-5.6 3.4l-5.6 -3.4v-6.9zM967.9 677.0l5.6 3.4v6.9l-5.6 3.4l-5.6 -3.4v-6.9zM978.8 677.0l5.6 3.4v6.9l-5.6 3.4l-5.6 -3.4v-6.9zM989.6 677.0l5.6 3.4v6.9l-5.6 3.4l-5.6 -3.4v-6.9zM919.1 666.9l5.6 3.4v6.9l-5.6 3.4l-5.6 -3.4v-6.9zM930.0 666.9l5.6 3.4v6.9l-5.6 3.4l-5.6 -3.4v-6.9zM940.8 666.9l5.6 3.4v6.9l-5.6 3.4l-5.6 -3.4v-6.9zM951.7 666.9l5.6 3.4v6.9l-5.6 3.4l-5.6 -3.4v-6.9zM962.5 666.9l5.6 3.4v6.9l-5.6 3.4l-5.6 -3.4v-6.9zM973.3 666.9l5.6 3.4v6.9l-5.6 3.4l-5.6 -3.4v-6.9zM984.2 666.9l5.6 3.4v6.9l-5.6 3.4l-5.6 -3.4v-6.9zM995.0 666.9l5.6 3.4v6.9l-5.6 3.4l-5.6 -3.4v-6.9zM924.6 656.9l5.6 3.4v6.9l-5.6 3.4l-5.6 -3.4v-6.9zM935.4 656.9l5.6 3.4v6.9l-5.6 3.4l-5.6 -3.4v-6.9zM946.2 656.9l5.6 3.4v6.9l-5.6 3.4l-5.6 -3.4v-6.9zM957.1 656.9l5.6 3.4v6.9l-5.6 3.4l-5.6 -3.4v-6.9zM967.9 656.9l5.6 3.4v6.9l-5.6 3.4l-5.6 -3.4v-6.9zM978.8 656.9l5.6 3.4v6.9l-5.6 3.4l-5.6 -3.4v-6.9zM989.6 656.9l5.6 3.4v6.9l-5.6 3.4l-5.6 -3.4v-6.9zM930.0 646.9l5.6 3.4v6.9l-5.6 3.4l-5.6 -3.4v-6.9zM940.8 646.9l5.6 3.4v6.9l-5.6 3.4l-5.6 -3.4v-6.9zM951.7 646.9l5.6 3.4v6.9l-5.6 3.4l-5.6 -3.4v-6.9zM962.5 646.9l5.6 3.4v6.9l-5.6 3.4l-5.6 -3.4v-6.9zM973.3 646.9l5.6 3.4v6.9l-5.6 3.4l-5.6 -3.4v-6.9zM984.2 646.9l5.6 3.4v6.9l-5.6 3.4l-5.6 -3.4v-6.9zM995.0 646.9l5.6 3.4v6.9l-5.6 3.4l-5.6 -3.4v-6.9zM935.4 636.8l5.6 3.4v6.9l-5.6 3.4l-5.6 -3.4v-6.9zM946.2 636.8l5.6 3.4v6.9l-5.6 3.4l-5.6 -3.4v-6.9zM957.1 636.8l5.6 3.4v6.9l-5.6 3.4l-5.6 -3.4v-6.9zM967.9 636.8l5.6 3.4v6.9l-5.6 3.4l-5.6 -3.4v-6.9zM978.8 636.8l5.6 3.4v6.9l-5.6 3.4l-5.6 -3.4v-6.9zM989.6 636.8l5.6 3.4v6.9l-5.6 3.4l-5.6 -3.4v-6.9zM940.8 626.7l5.6 3.4v6.9l-5.6 3.4l-5.6 -3.4v-6.9zM951.7 626.7l5.6 3.4v6.9l-5.6 3.4l-5.6 -3.4v-6.9zM962.5 626.7l5.6 3.4v6.9l-5.6 3.4l-5.6 -3.4v-6.9zM973.3 626.7l5.6 3.4v6.9l-5.6 3.4l-5.6 -3.4v-6.9zM984.2 626.7l5.6 3.4v6.9l-5.6 3.4l-5.6 -3.4v-6.9zM995.0 626.7l5.6 3.4v6.9l-5.6 3.4l-5.6 -3.4v-6.9zM946.2 616.7l5.6 3.4v6.9l-5.6 3.4l-5.6 -3.4v-6.9zM957.1 616.7l5.6 3.4v6.9l-5.6 3.4l-5.6 -3.4v-6.9zM967.9 616.7l5.6 3.4v6.9l-5.6 3.4l-5.6 -3.4v-6.9zM978.8 616.7l5.6 3.4v6.9l-5.6 3.4l-5.6 -3.4v-6.9zM989.6 616.7l5.6 3.4v6.9l-5.6 3.4l-5.6 -3.4v-6.9zM951.7 606.6l5.6 3.4v6.9l-5.6 3.4l-5.6 -3.4v-6.9zM962.5 606.6l5.6 3.4v6.9l-5.6 3.4l-5.6 -3.4v-6.9zM973.3 606.6l5.6 3.4v6.9l-5.6 3.4l-5.6 -3.4v-6.9zM984.2 606.6l5.6 3.4v6.9l-5.6 3.4l-5.6 -3.4v-6.9zM995.0 606.6l5.6 3.4v6.9l-5.6 3.4l-5.6 -3.4v-6.9zM957.1 596.6l5.6 3.4v6.9l-5.6 3.4l-5.6 -3.4v-6.9zM967.9 596.6l5.6 3.4v6.9l-5.6 3.4l-5.6 -3.4v-6.9zM978.8 596.6l5.6 3.4v6.9l-5.6 3.4l-5.6 -3.4v-6.9zM989.6 596.6l5.6 3.4v6.9l-5.6 3.4l-5.6 -3.4v-6.9zM962.5 586.5l5.6 3.4v6.9l-5.6 3.4l-5.6 -3.4v-6.9zM973.3 586.5l5.6 3.4v6.9l-5.6 3.4l-5.6 -3.4v-6.9zM984.2 586.5l5.6 3.4v6.9l-5.6 3.4l-5.6 -3.4v-6.9zM967.9 576.5l5.6 3.4v6.9l-5.6 3.4l-5.6 -3.4v-6.9zM978.8 576.5l5.6 3.4v6.9l-5.6 3.4l-5.6 -3.4v-6.9zM973.3 566.4l5.6 3.4v6.9l-5.6 3.4l-5.6 -3.4v-6.9z"/>
<path fill="#c8222a" d="M995.0 787.5l5.6 3.4v6.9l-5.6 3.4l-5.6 -3.4v-6.9zM1005.9 787.5l5.6 3.4v6.9l-5.6 3.4l-5.6 -3.4v-6.9zM1016.7 787.5l5.6 3.4v6.9l-5.6 3.4l-5.6 -3.4v-6.9zM1027.5 787.5l5.6 3.4v6.9l-5.6 3.4l-5.6 -3.4v-6.9zM1038.4 787.5l5.6 3.4v6.9l-5.6 3.4l-5.6 -3.4v-6.9zM1000.4 777.5l5.6 3.4v6.9l-5.6 3.4l-5.6 -3.4v-6.9zM1011.3 777.5l5.6 3.4v6.9l-5.6 3.4l-5.6 -3.4v-6.9zM1022.1 777.5l5.6 3.4v6.9l-5.6 3.4l-5.6 -3.4v-6.9zM1033.0 777.5l5.6 3.4v6.9l-5.6 3.4l-5.6 -3.4v-6.9zM1043.8 777.5l5.6 3.4v6.9l-5.6 3.4l-5.6 -3.4v-6.9zM995.0 767.4l5.6 3.4v6.9l-5.6 3.4l-5.6 -3.4v-6.9zM1005.9 767.4l5.6 3.4v6.9l-5.6 3.4l-5.6 -3.4v-6.9zM1016.7 767.4l5.6 3.4v6.9l-5.6 3.4l-5.6 -3.4v-6.9zM1027.5 767.4l5.6 3.4v6.9l-5.6 3.4l-5.6 -3.4v-6.9zM1038.4 767.4l5.6 3.4v6.9l-5.6 3.4l-5.6 -3.4v-6.9zM1000.4 757.4l5.6 3.4v6.9l-5.6 3.4l-5.6 -3.4v-6.9zM1011.3 757.4l5.6 3.4v6.9l-5.6 3.4l-5.6 -3.4v-6.9zM1022.1 757.4l5.6 3.4v6.9l-5.6 3.4l-5.6 -3.4v-6.9zM1033.0 757.4l5.6 3.4v6.9l-5.6 3.4l-5.6 -3.4v-6.9zM1043.8 757.4l5.6 3.4v6.9l-5.6 3.4l-5.6 -3.4v-6.9zM995.0 747.3l5.6 3.4v6.9l-5.6 3.4l-5.6 -3.4v-6.9zM1005.9 747.3l5.6 3.4v6.9l-5.6 3.4l-5.6 -3.4v-6.9zM1016.7 747.3l5.6 3.4v6.9l-5.6 3.4l-5.6 -3.4v-6.9zM1027.5 747.3l5.6 3.4v6.9l-5.6 3.4l-5.6 -3.4v-6.9zM1038.4 747.3l5.6 3.4v6.9l-5.6 3.4l-5.6 -3.4v-6.9zM1049.2 747.3l5.6 3.4v6.9l-5.6 3.4l-5.6 -3.4v-6.9zM1000.4 737.3l5.6 3.4v6.9l-5.6 3.4l-5.6 -3.4v-6.9zM1011.3 737.3l5.6 3.4v6.9l-5.6 3.4l-5.6 -3.4v-6.9zM1022.1 737.3l5.6 3.4v6.9l-5.6 3.4l-5.6 -3.4v-6.9zM1033.0 737.3l5.6 3.4v6.9l-5.6 3.4l-5.6 -3.4v-6.9zM1043.8 737.3l5.6 3.4v6.9l-5.6 3.4l-5.6 -3.4v-6.9zM1054.6 737.3l5.6 3.4v6.9l-5.6 3.4l-5.6 -3.4v-6.9zM1005.9 727.2l5.6 3.4v6.9l-5.6 3.4l-5.6 -3.4v-6.9zM1016.7 727.2l5.6 3.4v6.9l-5.6 3.4l-5.6 -3.4v-6.9zM1027.5 727.2l5.6 3.4v6.9l-5.6 3.4l-5.6 -3.4v-6.9zM1038.4 727.2l5.6 3.4v6.9l-5.6 3.4l-5.6 -3.4v-6.9zM1049.2 727.2l5.6 3.4v6.9l-5.6 3.4l-5.6 -3.4v-6.9zM1000.4 717.2l5.6 3.4v6.9l-5.6 3.4l-5.6 -3.4v-6.9zM1011.3 717.2l5.6 3.4v6.9l-5.6 3.4l-5.6 -3.4v-6.9zM1022.1 717.2l5.6 3.4v6.9l-5.6 3.4l-5.6 -3.4v-6.9zM1033.0 717.2l5.6 3.4v6.9l-5.6 3.4l-5.6 -3.4v-6.9zM1043.8 717.2l5.6 3.4v6.9l-5.6 3.4l-5.6 -3.4v-6.9zM1054.6 717.2l5.6 3.4v6.9l-5.6 3.4l-5.6 -3.4v-6.9zM1005.9 707.1l5.6 3.4v6.9l-5.6 3.4l-5.6 -3.4v-6.9zM1016.7 707.1l5.6 3.4v6.9l-5.6 3.4l-5.6 -3.4v-6.9zM1027.5 707.1l5.6 3.4v6.9l-5.6 3.4l-5.6 -3.4v-6.9zM1038.4 707.1l5.6 3.4v6.9l-5.6 3.4l-5.6 -3.4v-6.9zM1049.2 707.1l5.6 3.4v6.9l-5.6 3.4l-5.6 -3.4v-6.9zM1060.1 707.1l5.6 3.4v6.9l-5.6 3.4l-5.6 -3.4v-6.9zM1000.4 697.1l5.6 3.4v6.9l-5.6 3.4l-5.6 -3.4v-6.9zM1011.3 697.1l5.6 3.4v6.9l-5.6 3.4l-5.6 -3.4v-6.9zM1022.1 697.1l5.6 3.4v6.9l-5.6 3.4l-5.6 -3.4v-6.9zM1033.0 697.1l5.6 3.4v6.9l-5.6 3.4l-5.6 -3.4v-6.9zM1043.8 697.1l5.6 3.4v6.9l-5.6 3.4l-5.6 -3.4v-6.9zM1054.6 697.1l5.6 3.4v6.9l-5.6 3.4l-5.6 -3.4v-6.9zM1005.9 687.0l5.6 3.4v6.9l-5.6 3.4l-5.6 -3.4v-6.9zM1016.7 687.0l5.6 3.4v6.9l-5.6 3.4l-5.6 -3.4v-6.9zM1027.5 687.0l5.6 3.4v6.9l-5.6 3.4l-5.6 -3.4v-6.9zM1038.4 687.0l5.6 3.4v6.9l-5.6 3.4l-5.6 -3.4v-6.9zM1049.2 687.0l5.6 3.4v6.9l-5.6 3.4l-5.6 -3.4v-6.9zM1060.1 687.0l5.6 3.4v6.9l-5.6 3.4l-5.6 -3.4v-6.9zM1000.4 677.0l5.6 3.4v6.9l-5.6 3.4l-5.6 -3.4v-6.9zM1011.3 677.0l5.6 3.4v6.9l-5.6 3.4l-5.6 -3.4v-6.9zM1022.1 677.0l5.6 3.4v6.9l-5.6 3.4l-5.6 -3.4v-6.9zM1033.0 677.0l5.6 3.4v6.9l-5.6 3.4l-5.6 -3.4v-6.9zM1043.8 677.0l5.6 3.4v6.9l-5.6 3.4l-5.6 -3.4v-6.9zM1054.6 677.0l5.6 3.4v6.9l-5.6 3.4l-5.6 -3.4v-6.9zM1065.5 677.0l5.6 3.4v6.9l-5.6 3.4l-5.6 -3.4v-6.9zM1005.9 666.9l5.6 3.4v6.9l-5.6 3.4l-5.6 -3.4v-6.9zM1016.7 666.9l5.6 3.4v6.9l-5.6 3.4l-5.6 -3.4v-6.9zM1027.5 666.9l5.6 3.4v6.9l-5.6 3.4l-5.6 -3.4v-6.9zM1038.4 666.9l5.6 3.4v6.9l-5.6 3.4l-5.6 -3.4v-6.9zM1049.2 666.9l5.6 3.4v6.9l-5.6 3.4l-5.6 -3.4v-6.9zM1060.1 666.9l5.6 3.4v6.9l-5.6 3.4l-5.6 -3.4v-6.9zM1000.4 656.9l5.6 3.4v6.9l-5.6 3.4l-5.6 -3.4v-6.9zM1011.3 656.9l5.6 3.4v6.9l-5.6 3.4l-5.6 -3.4v-6.9zM1022.1 656.9l5.6 3.4v6.9l-5.6 3.4l-5.6 -3.4v-6.9zM1033.0 656.9l5.6 3.4v6.9l-5.6 3.4l-5.6 -3.4v-6.9zM1043.8 656.9l5.6 3.4v6.9l-5.6 3.4l-5.6 -3.4v-6.9zM1054.6 656.9l5.6 3.4v6.9l-5.6 3.4l-5.6 -3.4v-6.9zM1065.5 656.9l5.6 3.4v6.9l-5.6 3.4l-5.6 -3.4v-6.9zM1005.9 646.9l5.6 3.4v6.9l-5.6 3.4l-5.6 -3.4v-6.9zM1016.7 646.9l5.6 3.4v6.9l-5.6 3.4l-5.6 -3.4v-6.9zM1027.5 646.9l5.6 3.4v6.9l-5.6 3.4l-5.6 -3.4v-6.9zM1038.4 646.9l5.6 3.4v6.9l-5.6 3.4l-5.6 -3.4v-6.9zM1049.2 646.9l5.6 3.4v6.9l-5.6 3.4l-5.6 -3.4v-6.9zM1060.1 646.9l5.6 3.4v6.9l-5.6 3.4l-5.6 -3.4v-6.9zM1070.9 646.9l5.6 3.4v6.9l-5.6 3.4l-5.6 -3.4v-6.9zM1000.4 636.8l5.6 3.4v6.9l-5.6 3.4l-5.6 -3.4v-6.9zM1011.3 636.8l5.6 3.4v6.9l-5.6 3.4l-5.6 -3.4v-6.9zM1022.1 636.8l5.6 3.4v6.9l-5.6 3.4l-5.6 -3.4v-6.9zM1033.0 636.8l5.6 3.4v6.9l-5.6 3.4l-5.6 -3.4v-6.9zM1043.8 636.8l5.6 3.4v6.9l-5.6 3.4l-5.6 -3.4v-6.9zM1054.6 636.8l5.6 3.4v6.9l-5.6 3.4l-5.6 -3.4v-6.9zM1065.5 636.8l5.6 3.4v6.9l-5.6 3.4l-5.6 -3.4v-6.9zM1076.3 636.8l5.6 3.4v6.9l-5.6 3.4l-5.6 -3.4v-6.9zM1005.9 626.7l5.6 3.4v6.9l-5.6 3.4l-5.6 -3.4v-6.9zM1016.7 626.7l5.6 3.4v6.9l-5.6 3.4l-5.6 -3.4v-6.9zM1027.5 626.7l5.6 3.4v6.9l-5.6 3.4l-5.6 -3.4v-6.9zM1038.4 626.7l5.6 3.4v6.9l-5.6 3.4l-5.6 -3.4v-6.9zM1049.2 626.7l5.6 3.4v6.9l-5.6 3.4l-5.6 -3.4v-6.9zM1060.1 626.7l5.6 3.4v6.9l-5.6 3.4l-5.6 -3.4v-6.9zM1070.9 626.7l5.6 3.4v6.9l-5.6 3.4l-5.6 -3.4v-6.9zM1000.4 616.7l5.6 3.4v6.9l-5.6 3.4l-5.6 -3.4v-6.9zM1011.3 616.7l5.6 3.4v6.9l-5.6 3.4l-5.6 -3.4v-6.9zM1022.1 616.7l5.6 3.4v6.9l-5.6 3.4l-5.6 -3.4v-6.9zM1033.0 616.7l5.6 3.4v6.9l-5.6 3.4l-5.6 -3.4v-6.9zM1043.8 616.7l5.6 3.4v6.9l-5.6 3.4l-5.6 -3.4v-6.9zM1054.6 616.7l5.6 3.4v6.9l-5.6 3.4l-5.6 -3.4v-6.9zM1065.5 616.7l5.6 3.4v6.9l-5.6 3.4l-5.6 -3.4v-6.9zM1005.9 606.6l5.6 3.4v6.9l-5.6 3.4l-5.6 -3.4v-6.9zM1016.7 606.6l5.6 3.4v6.9l-5.6 3.4l-5.6 -3.4v-6.9zM1027.5 606.6l5.6 3.4v6.9l-5.6 3.4l-5.6 -3.4v-6.9zM1000.4 596.6l5.6 3.4v6.9l-5.6 3.4l-5.6 -3.4v-6.9z"/>
<path fill="#645096" d="M1049.2 787.5l5.6 3.4v6.9l-5.6 3.4l-5.6 -3.4v-6.9zM1060.1 787.5l5.6 3.4v6.9l-5.6 3.4l-5.6 -3.4v-6.9zM1070.9 787.5l5.6 3.4v6.9l-5.6 3.4l-5.6 -3.4v-6.9zM1081.7 787.5l5.6 3.4v6.9l-5.6 3.4l-5.6 -3.4v-6.9zM1092.6 787.5l5.6 3.4v6.9l-5.6 3.4l-5.6 -3.4v-6.9zM1103.4 787.5l5.6 3.4v6.9l-5.6 3.4l-5.6 -3.4v-6.9zM1114.3 787.5l5.6 3.4v6.9l-5.6 3.4l-5.6 -3.4v-6.9zM1125.1 787.5l5.6 3.4v6.9l-5.6 3.4l-5.6 -3.4v-6.9zM1135.9 787.5l5.6 3.4v6.9l-5.6 3.4l-5.6 -3.4v-6.9zM1146.8 787.5l5.6 3.4v6.9l-5.6 3.4l-5.6 -3.4v-6.9zM1157.6 787.5l5.6 3.4v6.9l-5.6 3.4l-5.6 -3.4v-6.9zM1168.5 787.5l5.6 3.4v6.9l-5.6 3.4l-5.6 -3.4v-6.9zM1179.3 787.5l5.6 3.4v6.9l-5.6 3.4l-5.6 -3.4v-6.9zM1054.6 777.5l5.6 3.4v6.9l-5.6 3.4l-5.6 -3.4v-6.9zM1065.5 777.5l5.6 3.4v6.9l-5.6 3.4l-5.6 -3.4v-6.9zM1076.3 777.5l5.6 3.4v6.9l-5.6 3.4l-5.6 -3.4v-6.9zM1087.2 777.5l5.6 3.4v6.9l-5.6 3.4l-5.6 -3.4v-6.9zM1098.0 777.5l5.6 3.4v6.9l-5.6 3.4l-5.6 -3.4v-6.9zM1108.8 777.5l5.6 3.4v6.9l-5.6 3.4l-5.6 -3.4v-6.9zM1119.7 777.5l5.6 3.4v6.9l-5.6 3.4l-5.6 -3.4v-6.9zM1130.5 777.5l5.6 3.4v6.9l-5.6 3.4l-5.6 -3.4v-6.9zM1141.4 777.5l5.6 3.4v6.9l-5.6 3.4l-5.6 -3.4v-6.9zM1152.2 777.5l5.6 3.4v6.9l-5.6 3.4l-5.6 -3.4v-6.9zM1163.0 777.5l5.6 3.4v6.9l-5.6 3.4l-5.6 -3.4v-6.9zM1173.9 777.5l5.6 3.4v6.9l-5.6 3.4l-5.6 -3.4v-6.9zM1049.2 767.4l5.6 3.4v6.9l-5.6 3.4l-5.6 -3.4v-6.9zM1060.1 767.4l5.6 3.4v6.9l-5.6 3.4l-5.6 -3.4v-6.9zM1070.9 767.4l5.6 3.4v6.9l-5.6 3.4l-5.6 -3.4v-6.9zM1081.7 767.4l5.6 3.4v6.9l-5.6 3.4l-5.6 -3.4v-6.9zM1092.6 767.4l5.6 3.4v6.9l-5.6 3.4l-5.6 -3.4v-6.9zM1103.4 767.4l5.6 3.4v6.9l-5.6 3.4l-5.6 -3.4v-6.9zM1114.3 767.4l5.6 3.4v6.9l-5.6 3.4l-5.6 -3.4v-6.9zM1125.1 767.4l5.6 3.4v6.9l-5.6 3.4l-5.6 -3.4v-6.9zM1135.9 767.4l5.6 3.4v6.9l-5.6 3.4l-5.6 -3.4v-6.9zM1146.8 767.4l5.6 3.4v6.9l-5.6 3.4l-5.6 -3.4v-6.9zM1157.6 767.4l5.6 3.4v6.9l-5.6 3.4l-5.6 -3.4v-6.9zM1168.5 767.4l5.6 3.4v6.9l-5.6 3.4l-5.6 -3.4v-6.9zM1054.6 757.4l5.6 3.4v6.9l-5.6 3.4l-5.6 -3.4v-6.9zM1065.5 757.4l5.6 3.4v6.9l-5.6 3.4l-5.6 -3.4v-6.9zM1076.3 757.4l5.6 3.4v6.9l-5.6 3.4l-5.6 -3.4v-6.9zM1087.2 757.4l5.6 3.4v6.9l-5.6 3.4l-5.6 -3.4v-6.9zM1098.0 757.4l5.6 3.4v6.9l-5.6 3.4l-5.6 -3.4v-6.9zM1108.8 757.4l5.6 3.4v6.9l-5.6 3.4l-5.6 -3.4v-6.9zM1119.7 757.4l5.6 3.4v6.9l-5.6 3.4l-5.6 -3.4v-6.9zM1130.5 757.4l5.6 3.4v6.9l-5.6 3.4l-5.6 -3.4v-6.9zM1141.4 757.4l5.6 3.4v6.9l-5.6 3.4l-5.6 -3.4v-6.9zM1152.2 757.4l5.6 3.4v6.9l-5.6 3.4l-5.6 -3.4v-6.9zM1163.0 757.4l5.6 3.4v6.9l-5.6 3.4l-5.6 -3.4v-6.9zM1060.1 747.3l5.6 3.4v6.9l-5.6 3.4l-5.6 -3.4v-6.9zM1070.9 747.3l5.6 3.4v6.9l-5.6 3.4l-5.6 -3.4v-6.9zM1081.7 747.3l5.6 3.4v6.9l-5.6 3.4l-5.6 -3.4v-6.9zM1092.6 747.3l5.6 3.4v6.9l-5.6 3.4l-5.6 -3.4v-6.9zM1103.4 747.3l5.6 3.4v6.9l-5.6 3.4l-5.6 -3.4v-6.9zM1114.3 747.3l5.6 3.4v6.9l-5.6 3.4l-5.6 -3.4v-6.9zM1125.1 747.3l5.6 3.4v6.9l-5.6 3.4l-5.6 -3.4v-6.9zM1135.9 747.3l5.6 3.4v6.9l-5.6 3.4l-5.6 -3.4v-6.9zM1146.8 747.3l5.6 3.4v6.9l-5.6 3.4l-5.6 -3.4v-6.9zM1157.6 747.3l5.6 3.4v6.9l-5.6 3.4l-5.6 -3.4v-6.9zM1065.5 737.3l5.6 3.4v6.9l-5.6 3.4l-5.6 -3.4v-6.9zM1076.3 737.3l5.6 3.4v6.9l-5.6 3.4l-5.6 -3.4v-6.9zM1087.2 737.3l5.6 3.4v6.9l-5.6 3.4l-5.6 -3.4v-6.9zM1098.0 737.3l5.6 3.4v6.9l-5.6 3.4l-5.6 -3.4v-6.9zM1108.8 737.3l5.6 3.4v6.9l-5.6 3.4l-5.6 -3.4v-6.9zM1119.7 737.3l5.6 3.4v6.9l-5.6 3.4l-5.6 -3.4v-6.9zM1130.5 737.3l5.6 3.4v6.9l-5.6 3.4l-5.6 -3.4v-6.9zM1141.4 737.3l5.6 3.4v6.9l-5.6 3.4l-5.6 -3.4v-6.9zM1152.2 737.3l5.6 3.4v6.9l-5.6 3.4l-5.6 -3.4v-6.9zM1060.1 727.2l5.6 3.4v6.9l-5.6 3.4l-5.6 -3.4v-6.9zM1070.9 727.2l5.6 3.4v6.9l-5.6 3.4l-5.6 -3.4v-6.9zM1081.7 727.2l5.6 3.4v6.9l-5.6 3.4l-5.6 -3.4v-6.9zM1092.6 727.2l5.6 3.4v6.9l-5.6 3.4l-5.6 -3.4v-6.9zM1103.4 727.2l5.6 3.4v6.9l-5.6 3.4l-5.6 -3.4v-6.9zM1114.3 727.2l5.6 3.4v6.9l-5.6 3.4l-5.6 -3.4v-6.9zM1125.1 727.2l5.6 3.4v6.9l-5.6 3.4l-5.6 -3.4v-6.9zM1135.9 727.2l5.6 3.4v6.9l-5.6 3.4l-5.6 -3.4v-6.9zM1146.8 727.2l5.6 3.4v6.9l-5.6 3.4l-5.6 -3.4v-6.9zM1065.5 717.2l5.6 3.4v6.9l-5.6 3.4l-5.6 -3.4v-6.9zM1076.3 717.2l5.6 3.4v6.9l-5.6 3.4l-5.6 -3.4v-6.9zM1087.2 717.2l5.6 3.4v6.9l-5.6 3.4l-5.6 -3.4v-6.9zM1098.0 717.2l5.6 3.4v6.9l-5.6 3.4l-5.6 -3.4v-6.9zM1108.8 717.2l5.6 3.4v6.9l-5.6 3.4l-5.6 -3.4v-6.9zM1119.7 717.2l5.6 3.4v6.9l-5.6 3.4l-5.6 -3.4v-6.9zM1130.5 717.2l5.6 3.4v6.9l-5.6 3.4l-5.6 -3.4v-6.9zM1141.4 717.2l5.6 3.4v6.9l-5.6 3.4l-5.6 -3.4v-6.9zM1070.9 707.1l5.6 3.4v6.9l-5.6 3.4l-5.6 -3.4v-6.9zM1081.7 707.1l5.6 3.4v6.9l-5.6 3.4l-5.6 -3.4v-6.9zM1092.6 707.1l5.6 3.4v6.9l-5.6 3.4l-5.6 -3.4v-6.9zM1103.4 707.1l5.6 3.4v6.9l-5.6 3.4l-5.6 -3.4v-6.9zM1114.3 707.1l5.6 3.4v6.9l-5.6 3.4l-5.6 -3.4v-6.9zM1125.1 707.1l5.6 3.4v6.9l-5.6 3.4l-5.6 -3.4v-6.9zM1135.9 707.1l5.6 3.4v6.9l-5.6 3.4l-5.6 -3.4v-6.9zM1065.5 697.1l5.6 3.4v6.9l-5.6 3.4l-5.6 -3.4v-6.9zM1076.3 697.1l5.6 3.4v6.9l-5.6 3.4l-5.6 -3.4v-6.9zM1087.2 697.1l5.6 3.4v6.9l-5.6 3.4l-5.6 -3.4v-6.9zM1098.0 697.1l5.6 3.4v6.9l-5.6 3.4l-5.6 -3.4v-6.9zM1108.8 697.1l5.6 3.4v6.9l-5.6 3.4l-5.6 -3.4v-6.9zM1119.7 697.1l5.6 3.4v6.9l-5.6 3.4l-5.6 -3.4v-6.9zM1130.5 697.1l5.6 3.4v6.9l-5.6 3.4l-5.6 -3.4v-6.9zM1070.9 687.0l5.6 3.4v6.9l-5.6 3.4l-5.6 -3.4v-6.9zM1081.7 687.0l5.6 3.4v6.9l-5.6 3.4l-5.6 -3.4v-6.9zM1092.6 687.0l5.6 3.4v6.9l-5.6 3.4l-5.6 -3.4v-6.9zM1103.4 687.0l5.6 3.4v6.9l-5.6 3.4l-5.6 -3.4v-6.9zM1114.3 687.0l5.6 3.4v6.9l-5.6 3.4l-5.6 -3.4v-6.9zM1125.1 687.0l5.6 3.4v6.9l-5.6 3.4l-5.6 -3.4v-6.9zM1076.3 677.0l5.6 3.4v6.9l-5.6 3.4l-5.6 -3.4v-6.9zM1087.2 677.0l5.6 3.4v6.9l-5.6 3.4l-5.6 -3.4v-6.9zM1098.0 677.0l5.6 3.4v6.9l-5.6 3.4l-5.6 -3.4v-6.9zM1108.8 677.0l5.6 3.4v6.9l-5.6 3.4l-5.6 -3.4v-6.9zM1119.7 677.0l5.6 3.4v6.9l-5.6 3.4l-5.6 -3.4v-6.9zM1070.9 666.9l5.6 3.4v6.9l-5.6 3.4l-5.6 -3.4v-6.9zM1081.7 666.9l5.6 3.4v6.9l-5.6 3.4l-5.6 -3.4v-6.9zM1092.6 666.9l5.6 3.4v6.9l-5.6 3.4l-5.6 -3.4v-6.9zM1103.4 666.9l5.6 3.4v6.9l-5.6 3.4l-5.6 -3.4v-6.9zM1114.3 666.9l5.6 3.4v6.9l-5.6 3.4l-5.6 -3.4v-6.9zM1076.3 656.9l5.6 3.4v6.9l-5.6 3.4l-5.6 -3.4v-6.9zM1087.2 656.9l5.6 3.4v6.9l-5.6 3.4l-5.6 -3.4v-6.9zM1098.0 656.9l5.6 3.4v6.9l-5.6 3.4l-5.6 -3.4v-6.9zM1108.8 656.9l5.6 3.4v6.9l-5.6 3.4l-5.6 -3.4v-6.9zM1081.7 646.9l5.6 3.4v6.9l-5.6 3.4l-5.6 -3.4v-6.9zM1092.6 646.9l5.6 3.4v6.9l-5.6 3.4l-5.6 -3.4v-6.9zM1103.4 646.9l5.6 3.4v6.9l-5.6 3.4l-5.6 -3.4v-6.9zM1087.2 636.8l5.6 3.4v6.9l-5.6 3.4l-5.6 -3.4v-6.9zM1098.0 636.8l5.6 3.4v6.9l-5.6 3.4l-5.6 -3.4v-6.9zM1081.7 626.7l5.6 3.4v6.9l-5.6 3.4l-5.6 -3.4v-6.9zM1092.6 626.7l5.6 3.4v6.9l-5.6 3.4l-5.6 -3.4v-6.9zM1087.2 616.7l5.6 3.4v6.9l-5.6 3.4l-5.6 -3.4v-6.9z"/>
<path fill="#55c9e5" d="M1076.3 618.7l4.0 2.4v4.9l-4.0 2.4l-4.0 -2.4v-4.9zM1038.4 608.6l4.0 2.4v4.9l-4.0 2.4l-4.0 -2.4v-4.9zM1049.2 608.6l4.0 2.4v4.9l-4.0 2.4l-4.0 -2.4v-4.9zM1060.1 608.6l4.0 2.4v4.9l-4.0 2.4l-4.0 -2.4v-4.9zM1070.9 608.6l4.0 2.4v4.9l-4.0 2.4l-4.0 -2.4v-4.9zM1081.7 608.6l4.0 2.4v4.9l-4.0 2.4l-4.0 -2.4v-4.9zM1011.3 598.6l4.0 2.4v4.9l-4.0 2.4l-4.0 -2.4v-4.9zM1022.1 598.6l4.0 2.4v4.9l-4.0 2.4l-4.0 -2.4v-4.9zM1033.0 598.6l4.0 2.4v4.9l-4.0 2.4l-4.0 -2.4v-4.9zM1043.8 598.6l4.0 2.4v4.9l-4.0 2.4l-4.0 -2.4v-4.9zM1054.6 598.6l4.0 2.4v4.9l-4.0 2.4l-4.0 -2.4v-4.9zM1065.5 598.6l4.0 2.4v4.9l-4.0 2.4l-4.0 -2.4v-4.9zM1076.3 598.6l4.0 2.4v4.9l-4.0 2.4l-4.0 -2.4v-4.9zM995.0 588.5l4.0 2.4v4.9l-4.0 2.4l-4.0 -2.4v-4.9zM1005.9 588.5l4.0 2.4v4.9l-4.0 2.4l-4.0 -2.4v-4.9zM1016.7 588.5l4.0 2.4v4.9l-4.0 2.4l-4.0 -2.4v-4.9zM1027.5 588.5l4.0 2.4v4.9l-4.0 2.4l-4.0 -2.4v-4.9zM1038.4 588.5l4.0 2.4v4.9l-4.0 2.4l-4.0 -2.4v-4.9zM1049.2 588.5l4.0 2.4v4.9l-4.0 2.4l-4.0 -2.4v-4.9zM1060.1 588.5l4.0 2.4v4.9l-4.0 2.4l-4.0 -2.4v-4.9zM1070.9 588.5l4.0 2.4v4.9l-4.0 2.4l-4.0 -2.4v-4.9zM989.6 578.5l4.0 2.4v4.9l-4.0 2.4l-4.0 -2.4v-4.9zM1000.4 578.5l4.0 2.4v4.9l-4.0 2.4l-4.0 -2.4v-4.9zM1011.3 578.5l4.0 2.4v4.9l-4.0 2.4l-4.0 -2.4v-4.9zM1022.1 578.5l4.0 2.4v4.9l-4.0 2.4l-4.0 -2.4v-4.9zM1033.0 578.5l4.0 2.4v4.9l-4.0 2.4l-4.0 -2.4v-4.9zM1043.8 578.5l4.0 2.4v4.9l-4.0 2.4l-4.0 -2.4v-4.9zM1054.6 578.5l4.0 2.4v4.9l-4.0 2.4l-4.0 -2.4v-4.9zM1065.5 578.5l4.0 2.4v4.9l-4.0 2.4l-4.0 -2.4v-4.9zM984.2 568.4l4.0 2.4v4.9l-4.0 2.4l-4.0 -2.4v-4.9zM995.0 568.4l4.0 2.4v4.9l-4.0 2.4l-4.0 -2.4v-4.9zM1005.9 568.4l4.0 2.4v4.9l-4.0 2.4l-4.0 -2.4v-4.9zM1016.7 568.4l4.0 2.4v4.9l-4.0 2.4l-4.0 -2.4v-4.9zM1027.5 568.4l4.0 2.4v4.9l-4.0 2.4l-4.0 -2.4v-4.9zM1038.4 568.4l4.0 2.4v4.9l-4.0 2.4l-4.0 -2.4v-4.9zM1049.2 568.4l4.0 2.4v4.9l-4.0 2.4l-4.0 -2.4v-4.9zM1060.1 568.4l4.0 2.4v4.9l-4.0 2.4l-4.0 -2.4v-4.9zM978.8 558.4l4.0 2.4v4.9l-4.0 2.4l-4.0 -2.4v-4.9zM989.6 558.4l4.0 2.4v4.9l-4.0 2.4l-4.0 -2.4v-4.9zM1000.4 558.4l4.0 2.4v4.9l-4.0 2.4l-4.0 -2.4v-4.9zM1011.3 558.4l4.0 2.4v4.9l-4.0 2.4l-4.0 -2.4v-4.9zM1022.1 558.4l4.0 2.4v4.9l-4.0 2.4l-4.0 -2.4v-4.9zM1033.0 558.4l4.0 2.4v4.9l-4.0 2.4l-4.0 -2.4v-4.9zM1043.8 558.4l4.0 2.4v4.9l-4.0 2.4l-4.0 -2.4v-4.9zM1054.6 558.4l4.0 2.4v4.9l-4.0 2.4l-4.0 -2.4v-4.9zM984.2 548.3l4.0 2.4v4.9l-4.0 2.4l-4.0 -2.4v-4.9zM995.0 548.3l4.0 2.4v4.9l-4.0 2.4l-4.0 -2.4v-4.9zM1005.9 548.3l4.0 2.4v4.9l-4.0 2.4l-4.0 -2.4v-4.9zM1016.7 548.3l4.0 2.4v4.9l-4.0 2.4l-4.0 -2.4v-4.9zM1027.5 548.3l4.0 2.4v4.9l-4.0 2.4l-4.0 -2.4v-4.9zM1038.4 548.3l4.0 2.4v4.9l-4.0 2.4l-4.0 -2.4v-4.9zM1049.2 548.3l4.0 2.4v4.9l-4.0 2.4l-4.0 -2.4v-4.9zM989.6 538.3l4.0 2.4v4.9l-4.0 2.4l-4.0 -2.4v-4.9zM1000.4 538.3l4.0 2.4v4.9l-4.0 2.4l-4.0 -2.4v-4.9zM1011.3 538.3l4.0 2.4v4.9l-4.0 2.4l-4.0 -2.4v-4.9zM1022.1 538.3l4.0 2.4v4.9l-4.0 2.4l-4.0 -2.4v-4.9zM1033.0 538.3l4.0 2.4v4.9l-4.0 2.4l-4.0 -2.4v-4.9zM1043.8 538.3l4.0 2.4v4.9l-4.0 2.4l-4.0 -2.4v-4.9zM995.0 528.2l4.0 2.4v4.9l-4.0 2.4l-4.0 -2.4v-4.9zM1005.9 528.2l4.0 2.4v4.9l-4.0 2.4l-4.0 -2.4v-4.9zM1016.7 528.2l4.0 2.4v4.9l-4.0 2.4l-4.0 -2.4v-4.9zM1027.5 528.2l4.0 2.4v4.9l-4.0 2.4l-4.0 -2.4v-4.9zM1038.4 528.2l4.0 2.4v4.9l-4.0 2.4l-4.0 -2.4v-4.9zM1000.4 518.2l4.0 2.4v4.9l-4.0 2.4l-4.0 -2.4v-4.9zM1011.3 518.2l4.0 2.4v4.9l-4.0 2.4l-4.0 -2.4v-4.9zM1022.1 518.2l4.0 2.4v4.9l-4.0 2.4l-4.0 -2.4v-4.9zM1033.0 518.2l4.0 2.4v4.9l-4.0 2.4l-4.0 -2.4v-4.9zM1005.9 508.1l4.0 2.4v4.9l-4.0 2.4l-4.0 -2.4v-4.9zM1016.7 508.1l4.0 2.4v4.9l-4.0 2.4l-4.0 -2.4v-4.9zM1027.5 508.1l4.0 2.4v4.9l-4.0 2.4l-4.0 -2.4v-4.9zM1011.3 498.1l4.0 2.4v4.9l-4.0 2.4l-4.0 -2.4v-4.9zM1022.1 498.1l4.0 2.4v4.9l-4.0 2.4l-4.0 -2.4v-4.9zM1016.7 488.0l4.0 2.4v4.9l-4.0 2.4l-4.0 -2.4v-4.9z"/>
<path fill="#e8a856" d="M854.1 789.5l4.0 2.4v4.9l-4.0 2.4l-4.0 -2.4v-4.9zM864.9 789.5l4.0 2.4v4.9l-4.0 2.4l-4.0 -2.4v-4.9zM875.8 789.5l4.0 2.4v4.9l-4.0 2.4l-4.0 -2.4v-4.9zM886.6 789.5l4.0 2.4v4.9l-4.0 2.4l-4.0 -2.4v-4.9zM897.5 789.5l4.0 2.4v4.9l-4.0 2.4l-4.0 -2.4v-4.9zM908.3 789.5l4.0 2.4v4.9l-4.0 2.4l-4.0 -2.4v-4.9zM919.1 789.5l4.0 2.4v4.9l-4.0 2.4l-4.0 -2.4v-4.9zM930.0 789.5l4.0 2.4v4.9l-4.0 2.4l-4.0 -2.4v-4.9zM940.8 789.5l4.0 2.4v4.9l-4.0 2.4l-4.0 -2.4v-4.9zM951.7 789.5l4.0 2.4v4.9l-4.0 2.4l-4.0 -2.4v-4.9zM962.5 789.5l4.0 2.4v4.9l-4.0 2.4l-4.0 -2.4v-4.9zM973.3 789.5l4.0 2.4v4.9l-4.0 2.4l-4.0 -2.4v-4.9zM984.2 789.5l4.0 2.4v4.9l-4.0 2.4l-4.0 -2.4v-4.9zM859.5 779.5l4.0 2.4v4.9l-4.0 2.4l-4.0 -2.4v-4.9zM870.4 779.5l4.0 2.4v4.9l-4.0 2.4l-4.0 -2.4v-4.9zM881.2 779.5l4.0 2.4v4.9l-4.0 2.4l-4.0 -2.4v-4.9zM892.0 779.5l4.0 2.4v4.9l-4.0 2.4l-4.0 -2.4v-4.9zM902.9 779.5l4.0 2.4v4.9l-4.0 2.4l-4.0 -2.4v-4.9zM913.7 779.5l4.0 2.4v4.9l-4.0 2.4l-4.0 -2.4v-4.9zM924.6 779.5l4.0 2.4v4.9l-4.0 2.4l-4.0 -2.4v-4.9zM935.4 779.5l4.0 2.4v4.9l-4.0 2.4l-4.0 -2.4v-4.9zM946.2 779.5l4.0 2.4v4.9l-4.0 2.4l-4.0 -2.4v-4.9zM957.1 779.5l4.0 2.4v4.9l-4.0 2.4l-4.0 -2.4v-4.9zM967.9 779.5l4.0 2.4v4.9l-4.0 2.4l-4.0 -2.4v-4.9zM978.8 779.5l4.0 2.4v4.9l-4.0 2.4l-4.0 -2.4v-4.9zM989.6 779.5l4.0 2.4v4.9l-4.0 2.4l-4.0 -2.4v-4.9zM864.9 769.4l4.0 2.4v4.9l-4.0 2.4l-4.0 -2.4v-4.9zM875.8 769.4l4.0 2.4v4.9l-4.0 2.4l-4.0 -2.4v-4.9zM886.6 769.4l4.0 2.4v4.9l-4.0 2.4l-4.0 -2.4v-4.9zM897.5 769.4l4.0 2.4v4.9l-4.0 2.4l-4.0 -2.4v-4.9zM908.3 769.4l4.0 2.4v4.9l-4.0 2.4l-4.0 -2.4v-4.9zM919.1 769.4l4.0 2.4v4.9l-4.0 2.4l-4.0 -2.4v-4.9zM930.0 769.4l4.0 2.4v4.9l-4.0 2.4l-4.0 -2.4v-4.9zM940.8 769.4l4.0 2.4v4.9l-4.0 2.4l-4.0 -2.4v-4.9zM951.7 769.4l4.0 2.4v4.9l-4.0 2.4l-4.0 -2.4v-4.9zM962.5 769.4l4.0 2.4v4.9l-4.0 2.4l-4.0 -2.4v-4.9zM973.3 769.4l4.0 2.4v4.9l-4.0 2.4l-4.0 -2.4v-4.9zM984.2 769.4l4.0 2.4v4.9l-4.0 2.4l-4.0 -2.4v-4.9zM870.4 759.4l4.0 2.4v4.9l-4.0 2.4l-4.0 -2.4v-4.9zM881.2 759.4l4.0 2.4v4.9l-4.0 2.4l-4.0 -2.4v-4.9zM892.0 759.4l4.0 2.4v4.9l-4.0 2.4l-4.0 -2.4v-4.9zM902.9 759.4l4.0 2.4v4.9l-4.0 2.4l-4.0 -2.4v-4.9zM913.7 759.4l4.0 2.4v4.9l-4.0 2.4l-4.0 -2.4v-4.9zM924.6 759.4l4.0 2.4v4.9l-4.0 2.4l-4.0 -2.4v-4.9zM935.4 759.4l4.0 2.4v4.9l-4.0 2.4l-4.0 -2.4v-4.9zM946.2 759.4l4.0 2.4v4.9l-4.0 2.4l-4.0 -2.4v-4.9zM957.1 759.4l4.0 2.4v4.9l-4.0 2.4l-4.0 -2.4v-4.9zM967.9 759.4l4.0 2.4v4.9l-4.0 2.4l-4.0 -2.4v-4.9zM978.8 759.4l4.0 2.4v4.9l-4.0 2.4l-4.0 -2.4v-4.9zM989.6 759.4l4.0 2.4v4.9l-4.0 2.4l-4.0 -2.4v-4.9zM875.8 749.3l4.0 2.4v4.9l-4.0 2.4l-4.0 -2.4v-4.9zM886.6 749.3l4.0 2.4v4.9l-4.0 2.4l-4.0 -2.4v-4.9zM897.5 749.3l4.0 2.4v4.9l-4.0 2.4l-4.0 -2.4v-4.9zM908.3 749.3l4.0 2.4v4.9l-4.0 2.4l-4.0 -2.4v-4.9zM919.1 749.3l4.0 2.4v4.9l-4.0 2.4l-4.0 -2.4v-4.9zM930.0 749.3l4.0 2.4v4.9l-4.0 2.4l-4.0 -2.4v-4.9zM940.8 749.3l4.0 2.4v4.9l-4.0 2.4l-4.0 -2.4v-4.9zM951.7 749.3l4.0 2.4v4.9l-4.0 2.4l-4.0 -2.4v-4.9zM962.5 749.3l4.0 2.4v4.9l-4.0 2.4l-4.0 -2.4v-4.9zM973.3 749.3l4.0 2.4v4.9l-4.0 2.4l-4.0 -2.4v-4.9zM984.2 749.3l4.0 2.4v4.9l-4.0 2.4l-4.0 -2.4v-4.9zM881.2 739.3l4.0 2.4v4.9l-4.0 2.4l-4.0 -2.4v-4.9zM892.0 739.3l4.0 2.4v4.9l-4.0 2.4l-4.0 -2.4v-4.9zM902.9 739.3l4.0 2.4v4.9l-4.0 2.4l-4.0 -2.4v-4.9zM913.7 739.3l4.0 2.4v4.9l-4.0 2.4l-4.0 -2.4v-4.9zM924.6 739.3l4.0 2.4v4.9l-4.0 2.4l-4.0 -2.4v-4.9zM935.4 739.3l4.0 2.4v4.9l-4.0 2.4l-4.0 -2.4v-4.9zM946.2 739.3l4.0 2.4v4.9l-4.0 2.4l-4.0 -2.4v-4.9zM957.1 739.3l4.0 2.4v4.9l-4.0 2.4l-4.0 -2.4v-4.9zM967.9 739.3l4.0 2.4v4.9l-4.0 2.4l-4.0 -2.4v-4.9zM978.8 739.3l4.0 2.4v4.9l-4.0 2.4l-4.0 -2.4v-4.9zM989.6 739.3l4.0 2.4v4.9l-4.0 2.4l-4.0 -2.4v-4.9zM886.6 729.2l4.0 2.4v4.9l-4.0 2.4l-4.0 -2.4v-4.9zM897.5 729.2l4.0 2.4v4.9l-4.0 2.4l-4.0 -2.4v-4.9zM908.3 729.2l4.0 2.4v4.9l-4.0 2.4l-4.0 -2.4v-4.9zM919.1 729.2l4.0 2.4v4.9l-4.0 2.4l-4.0 -2.4v-4.9zM930.0 729.2l4.0 2.4v4.9l-4.0 2.4l-4.0 -2.4v-4.9zM940.8 729.2l4.0 2.4v4.9l-4.0 2.4l-4.0 -2.4v-4.9zM951.7 729.2l4.0 2.4v4.9l-4.0 2.4l-4.0 -2.4v-4.9zM962.5 729.2l4.0 2.4v4.9l-4.0 2.4l-4.0 -2.4v-4.9zM973.3 729.2l4.0 2.4v4.9l-4.0 2.4l-4.0 -2.4v-4.9zM984.2 729.2l4.0 2.4v4.9l-4.0 2.4l-4.0 -2.4v-4.9zM995.0 729.2l4.0 2.4v4.9l-4.0 2.4l-4.0 -2.4v-4.9zM892.0 719.2l4.0 2.4v4.9l-4.0 2.4l-4.0 -2.4v-4.9zM902.9 719.2l4.0 2.4v4.9l-4.0 2.4l-4.0 -2.4v-4.9zM913.7 719.2l4.0 2.4v4.9l-4.0 2.4l-4.0 -2.4v-4.9zM924.6 719.2l4.0 2.4v4.9l-4.0 2.4l-4.0 -2.4v-4.9zM935.4 719.2l4.0 2.4v4.9l-4.0 2.4l-4.0 -2.4v-4.9zM946.2 719.2l4.0 2.4v4.9l-4.0 2.4l-4.0 -2.4v-4.9zM957.1 719.2l4.0 2.4v4.9l-4.0 2.4l-4.0 -2.4v-4.9zM967.9 719.2l4.0 2.4v4.9l-4.0 2.4l-4.0 -2.4v-4.9zM978.8 719.2l4.0 2.4v4.9l-4.0 2.4l-4.0 -2.4v-4.9zM989.6 719.2l4.0 2.4v4.9l-4.0 2.4l-4.0 -2.4v-4.9zM897.5 709.1l4.0 2.4v4.9l-4.0 2.4l-4.0 -2.4v-4.9zM908.3 709.1l4.0 2.4v4.9l-4.0 2.4l-4.0 -2.4v-4.9zM919.1 709.1l4.0 2.4v4.9l-4.0 2.4l-4.0 -2.4v-4.9zM930.0 709.1l4.0 2.4v4.9l-4.0 2.4l-4.0 -2.4v-4.9zM940.8 709.1l4.0 2.4v4.9l-4.0 2.4l-4.0 -2.4v-4.9zM951.7 709.1l4.0 2.4v4.9l-4.0 2.4l-4.0 -2.4v-4.9zM962.5 709.1l4.0 2.4v4.9l-4.0 2.4l-4.0 -2.4v-4.9zM973.3 709.1l4.0 2.4v4.9l-4.0 2.4l-4.0 -2.4v-4.9zM984.2 709.1l4.0 2.4v4.9l-4.0 2.4l-4.0 -2.4v-4.9zM995.0 709.1l4.0 2.4v4.9l-4.0 2.4l-4.0 -2.4v-4.9zM902.9 699.1l4.0 2.4v4.9l-4.0 2.4l-4.0 -2.4v-4.9zM913.7 699.1l4.0 2.4v4.9l-4.0 2.4l-4.0 -2.4v-4.9zM924.6 699.1l4.0 2.4v4.9l-4.0 2.4l-4.0 -2.4v-4.9zM935.4 699.1l4.0 2.4v4.9l-4.0 2.4l-4.0 -2.4v-4.9zM946.2 699.1l4.0 2.4v4.9l-4.0 2.4l-4.0 -2.4v-4.9zM957.1 699.1l4.0 2.4v4.9l-4.0 2.4l-4.0 -2.4v-4.9zM967.9 699.1l4.0 2.4v4.9l-4.0 2.4l-4.0 -2.4v-4.9zM978.8 699.1l4.0 2.4v4.9l-4.0 2.4l-4.0 -2.4v-4.9zM989.6 699.1l4.0 2.4v4.9l-4.0 2.4l-4.0 -2.4v-4.9zM908.3 689.0l4.0 2.4v4.9l-4.0 2.4l-4.0 -2.4v-4.9zM919.1 689.0l4.0 2.4v4.9l-4.0 2.4l-4.0 -2.4v-4.9zM930.0 689.0l4.0 2.4v4.9l-4.0 2.4l-4.0 -2.4v-4.9zM940.8 689.0l4.0 2.4v4.9l-4.0 2.4l-4.0 -2.4v-4.9zM951.7 689.0l4.0 2.4v4.9l-4.0 2.4l-4.0 -2.4v-4.9zM962.5 689.0l4.0 2.4v4.9l-4.0 2.4l-4.0 -2.4v-4.9zM973.3 689.0l4.0 2.4v4.9l-4.0 2.4l-4.0 -2.4v-4.9zM984.2 689.0l4.0 2.4v4.9l-4.0 2.4l-4.0 -2.4v-4.9zM995.0 689.0l4.0 2.4v4.9l-4.0 2.4l-4.0 -2.4v-4.9zM913.7 679.0l4.0 2.4v4.9l-4.0 2.4l-4.0 -2.4v-4.9zM924.6 679.0l4.0 2.4v4.9l-4.0 2.4l-4.0 -2.4v-4.9zM935.4 679.0l4.0 2.4v4.9l-4.0 2.4l-4.0 -2.4v-4.9zM946.2 679.0l4.0 2.4v4.9l-4.0 2.4l-4.0 -2.4v-4.9zM957.1 679.0l4.0 2.4v4.9l-4.0 2.4l-4.0 -2.4v-4.9zM967.9 679.0l4.0 2.4v4.9l-4.0 2.4l-4.0 -2.4v-4.9zM978.8 679.0l4.0 2.4v4.9l-4.0 2.4l-4.0 -2.4v-4.9zM989.6 679.0l4.0 2.4v4.9l-4.0 2.4l-4.0 -2.4v-4.9zM919.1 668.9l4.0 2.4v4.9l-4.0 2.4l-4.0 -2.4v-4.9zM930.0 668.9l4.0 2.4v4.9l-4.0 2.4l-4.0 -2.4v-4.9zM940.8 668.9l4.0 2.4v4.9l-4.0 2.4l-4.0 -2.4v-4.9zM951.7 668.9l4.0 2.4v4.9l-4.0 2.4l-4.0 -2.4v-4.9zM962.5 668.9l4.0 2.4v4.9l-4.0 2.4l-4.0 -2.4v-4.9zM973.3 668.9l4.0 2.4v4.9l-4.0 2.4l-4.0 -2.4v-4.9zM984.2 668.9l4.0 2.4v4.9l-4.0 2.4l-4.0 -2.4v-4.9zM995.0 668.9l4.0 2.4v4.9l-4.0 2.4l-4.0 -2.4v-4.9zM924.6 658.9l4.0 2.4v4.9l-4.0 2.4l-4.0 -2.4v-4.9zM935.4 658.9l4.0 2.4v4.9l-4.0 2.4l-4.0 -2.4v-4.9zM946.2 658.9l4.0 2.4v4.9l-4.0 2.4l-4.0 -2.4v-4.9zM957.1 658.9l4.0 2.4v4.9l-4.0 2.4l-4.0 -2.4v-4.9zM967.9 658.9l4.0 2.4v4.9l-4.0 2.4l-4.0 -2.4v-4.9zM978.8 658.9l4.0 2.4v4.9l-4.0 2.4l-4.0 -2.4v-4.9zM989.6 658.9l4.0 2.4v4.9l-4.0 2.4l-4.0 -2.4v-4.9zM930.0 648.8l4.0 2.4v4.9l-4.0 2.4l-4.0 -2.4v-4.9zM940.8 648.8l4.0 2.4v4.9l-4.0 2.4l-4.0 -2.4v-4.9zM951.7 648.8l4.0 2.4v4.9l-4.0 2.4l-4.0 -2.4v-4.9zM962.5 648.8l4.0 2.4v4.9l-4.0 2.4l-4.0 -2.4v-4.9zM973.3 648.8l4.0 2.4v4.9l-4.0 2.4l-4.0 -2.4v-4.9zM984.2 648.8l4.0 2.4v4.9l-4.0 2.4l-4.0 -2.4v-4.9zM995.0 648.8l4.0 2.4v4.9l-4.0 2.4l-4.0 -2.4v-4.9zM935.4 638.8l4.0 2.4v4.9l-4.0 2.4l-4.0 -2.4v-4.9zM946.2 638.8l4.0 2.4v4.9l-4.0 2.4l-4.0 -2.4v-4.9zM957.1 638.8l4.0 2.4v4.9l-4.0 2.4l-4.0 -2.4v-4.9zM967.9 638.8l4.0 2.4v4.9l-4.0 2.4l-4.0 -2.4v-4.9zM978.8 638.8l4.0 2.4v4.9l-4.0 2.4l-4.0 -2.4v-4.9zM989.6 638.8l4.0 2.4v4.9l-4.0 2.4l-4.0 -2.4v-4.9zM940.8 628.7l4.0 2.4v4.9l-4.0 2.4l-4.0 -2.4v-4.9zM951.7 628.7l4.0 2.4v4.9l-4.0 2.4l-4.0 -2.4v-4.9zM962.5 628.7l4.0 2.4v4.9l-4.0 2.4l-4.0 -2.4v-4.9zM973.3 628.7l4.0 2.4v4.9l-4.0 2.4l-4.0 -2.4v-4.9zM984.2 628.7l4.0 2.4v4.9l-4.0 2.4l-4.0 -2.4v-4.9zM995.0 628.7l4.0 2.4v4.9l-4.0 2.4l-4.0 -2.4v-4.9zM946.2 618.7l4.0 2.4v4.9l-4.0 2.4l-4.0 -2.4v-4.9zM957.1 618.7l4.0 2.4v4.9l-4.0 2.4l-4.0 -2.4v-4.9zM967.9 618.7l4.0 2.4v4.9l-4.0 2.4l-4.0 -2.4v-4.9zM978.8 618.7l4.0 2.4v4.9l-4.0 2.4l-4.0 -2.4v-4.9zM989.6 618.7l4.0 2.4v4.9l-4.0 2.4l-4.0 -2.4v-4.9zM951.7 608.6l4.0 2.4v4.9l-4.0 2.4l-4.0 -2.4v-4.9zM962.5 608.6l4.0 2.4v4.9l-4.0 2.4l-4.0 -2.4v-4.9zM973.3 608.6l4.0 2.4v4.9l-4.0 2.4l-4.0 -2.4v-4.9zM984.2 608.6l4.0 2.4v4.9l-4.0 2.4l-4.0 -2.4v-4.9zM995.0 608.6l4.0 2.4v4.9l-4.0 2.4l-4.0 -2.4v-4.9zM957.1 598.6l4.0 2.4v4.9l-4.0 2.4l-4.0 -2.4v-4.9zM967.9 598.6l4.0 2.4v4.9l-4.0 2.4l-4.0 -2.4v-4.9zM978.8 598.6l4.0 2.4v4.9l-4.0 2.4l-4.0 -2.4v-4.9zM989.6 598.6l4.0 2.4v4.9l-4.0 2.4l-4.0 -2.4v-4.9zM962.5 588.5l4.0 2.4v4.9l-4.0 2.4l-4.0 -2.4v-4.9zM973.3 588.5l4.0 2.4v4.9l-4.0 2.4l-4.0 -2.4v-4.9zM984.2 588.5l4.0 2.4v4.9l-4.0 2.4l-4.0 -2.4v-4.9zM967.9 578.5l4.0 2.4v4.9l-4.0 2.4l-4.0 -2.4v-4.9zM978.8 578.5l4.0 2.4v4.9l-4.0 2.4l-4.0 -2.4v-4.9zM973.3 568.4l4.0 2.4v4.9l-4.0 2.4l-4.0 -2.4v-4.9z"/>
<path fill="#d7666a" d="M995.0 789.5l4.0 2.4v4.9l-4.0 2.4l-4.0 -2.4v-4.9zM1005.9 789.5l4.0 2.4v4.9l-4.0 2.4l-4.0 -2.4v-4.9zM1016.7 789.5l4.0 2.4v4.9l-4.0 2.4l-4.0 -2.4v-4.9zM1027.5 789.5l4.0 2.4v4.9l-4.0 2.4l-4.0 -2.4v-4.9zM1038.4 789.5l4.0 2.4v4.9l-4.0 2.4l-4.0 -2.4v-4.9zM1000.4 779.5l4.0 2.4v4.9l-4.0 2.4l-4.0 -2.4v-4.9zM1011.3 779.5l4.0 2.4v4.9l-4.0 2.4l-4.0 -2.4v-4.9zM1022.1 779.5l4.0 2.4v4.9l-4.0 2.4l-4.0 -2.4v-4.9zM1033.0 779.5l4.0 2.4v4.9l-4.0 2.4l-4.0 -2.4v-4.9zM1043.8 779.5l4.0 2.4v4.9l-4.0 2.4l-4.0 -2.4v-4.9zM995.0 769.4l4.0 2.4v4.9l-4.0 2.4l-4.0 -2.4v-4.9zM1005.9 769.4l4.0 2.4v4.9l-4.0 2.4l-4.0 -2.4v-4.9zM1016.7 769.4l4.0 2.4v4.9l-4.0 2.4l-4.0 -2.4v-4.9zM1027.5 769.4l4.0 2.4v4.9l-4.0 2.4l-4.0 -2.4v-4.9zM1038.4 769.4l4.0 2.4v4.9l-4.0 2.4l-4.0 -2.4v-4.9zM1000.4 759.4l4.0 2.4v4.9l-4.0 2.4l-4.0 -2.4v-4.9zM1011.3 759.4l4.0 2.4v4.9l-4.0 2.4l-4.0 -2.4v-4.9zM1022.1 759.4l4.0 2.4v4.9l-4.0 2.4l-4.0 -2.4v-4.9zM1033.0 759.4l4.0 2.4v4.9l-4.0 2.4l-4.0 -2.4v-4.9zM1043.8 759.4l4.0 2.4v4.9l-4.0 2.4l-4.0 -2.4v-4.9zM995.0 749.3l4.0 2.4v4.9l-4.0 2.4l-4.0 -2.4v-4.9zM1005.9 749.3l4.0 2.4v4.9l-4.0 2.4l-4.0 -2.4v-4.9zM1016.7 749.3l4.0 2.4v4.9l-4.0 2.4l-4.0 -2.4v-4.9zM1027.5 749.3l4.0 2.4v4.9l-4.0 2.4l-4.0 -2.4v-4.9zM1038.4 749.3l4.0 2.4v4.9l-4.0 2.4l-4.0 -2.4v-4.9zM1049.2 749.3l4.0 2.4v4.9l-4.0 2.4l-4.0 -2.4v-4.9zM1000.4 739.3l4.0 2.4v4.9l-4.0 2.4l-4.0 -2.4v-4.9zM1011.3 739.3l4.0 2.4v4.9l-4.0 2.4l-4.0 -2.4v-4.9zM1022.1 739.3l4.0 2.4v4.9l-4.0 2.4l-4.0 -2.4v-4.9zM1033.0 739.3l4.0 2.4v4.9l-4.0 2.4l-4.0 -2.4v-4.9zM1043.8 739.3l4.0 2.4v4.9l-4.0 2.4l-4.0 -2.4v-4.9zM1054.6 739.3l4.0 2.4v4.9l-4.0 2.4l-4.0 -2.4v-4.9zM1005.9 729.2l4.0 2.4v4.9l-4.0 2.4l-4.0 -2.4v-4.9zM1016.7 729.2l4.0 2.4v4.9l-4.0 2.4l-4.0 -2.4v-4.9zM1027.5 729.2l4.0 2.4v4.9l-4.0 2.4l-4.0 -2.4v-4.9zM1038.4 729.2l4.0 2.4v4.9l-4.0 2.4l-4.0 -2.4v-4.9zM1049.2 729.2l4.0 2.4v4.9l-4.0 2.4l-4.0 -2.4v-4.9zM1000.4 719.2l4.0 2.4v4.9l-4.0 2.4l-4.0 -2.4v-4.9zM1011.3 719.2l4.0 2.4v4.9l-4.0 2.4l-4.0 -2.4v-4.9zM1022.1 719.2l4.0 2.4v4.9l-4.0 2.4l-4.0 -2.4v-4.9zM1033.0 719.2l4.0 2.4v4.9l-4.0 2.4l-4.0 -2.4v-4.9zM1043.8 719.2l4.0 2.4v4.9l-4.0 2.4l-4.0 -2.4v-4.9zM1054.6 719.2l4.0 2.4v4.9l-4.0 2.4l-4.0 -2.4v-4.9zM1005.9 709.1l4.0 2.4v4.9l-4.0 2.4l-4.0 -2.4v-4.9zM1016.7 709.1l4.0 2.4v4.9l-4.0 2.4l-4.0 -2.4v-4.9zM1027.5 709.1l4.0 2.4v4.9l-4.0 2.4l-4.0 -2.4v-4.9zM1038.4 709.1l4.0 2.4v4.9l-4.0 2.4l-4.0 -2.4v-4.9zM1049.2 709.1l4.0 2.4v4.9l-4.0 2.4l-4.0 -2.4v-4.9zM1060.1 709.1l4.0 2.4v4.9l-4.0 2.4l-4.0 -2.4v-4.9zM1000.4 699.1l4.0 2.4v4.9l-4.0 2.4l-4.0 -2.4v-4.9zM1011.3 699.1l4.0 2.4v4.9l-4.0 2.4l-4.0 -2.4v-4.9zM1022.1 699.1l4.0 2.4v4.9l-4.0 2.4l-4.0 -2.4v-4.9zM1033.0 699.1l4.0 2.4v4.9l-4.0 2.4l-4.0 -2.4v-4.9zM1043.8 699.1l4.0 2.4v4.9l-4.0 2.4l-4.0 -2.4v-4.9zM1054.6 699.1l4.0 2.4v4.9l-4.0 2.4l-4.0 -2.4v-4.9zM1005.9 689.0l4.0 2.4v4.9l-4.0 2.4l-4.0 -2.4v-4.9zM1016.7 689.0l4.0 2.4v4.9l-4.0 2.4l-4.0 -2.4v-4.9zM1027.5 689.0l4.0 2.4v4.9l-4.0 2.4l-4.0 -2.4v-4.9zM1038.4 689.0l4.0 2.4v4.9l-4.0 2.4l-4.0 -2.4v-4.9zM1049.2 689.0l4.0 2.4v4.9l-4.0 2.4l-4.0 -2.4v-4.9zM1060.1 689.0l4.0 2.4v4.9l-4.0 2.4l-4.0 -2.4v-4.9zM1000.4 679.0l4.0 2.4v4.9l-4.0 2.4l-4.0 -2.4v-4.9zM1011.3 679.0l4.0 2.4v4.9l-4.0 2.4l-4.0 -2.4v-4.9zM1022.1 679.0l4.0 2.4v4.9l-4.0 2.4l-4.0 -2.4v-4.9zM1033.0 679.0l4.0 2.4v4.9l-4.0 2.4l-4.0 -2.4v-4.9zM1043.8 679.0l4.0 2.4v4.9l-4.0 2.4l-4.0 -2.4v-4.9zM1054.6 679.0l4.0 2.4v4.9l-4.0 2.4l-4.0 -2.4v-4.9zM1065.5 679.0l4.0 2.4v4.9l-4.0 2.4l-4.0 -2.4v-4.9zM1005.9 668.9l4.0 2.4v4.9l-4.0 2.4l-4.0 -2.4v-4.9zM1016.7 668.9l4.0 2.4v4.9l-4.0 2.4l-4.0 -2.4v-4.9zM1027.5 668.9l4.0 2.4v4.9l-4.0 2.4l-4.0 -2.4v-4.9zM1038.4 668.9l4.0 2.4v4.9l-4.0 2.4l-4.0 -2.4v-4.9zM1049.2 668.9l4.0 2.4v4.9l-4.0 2.4l-4.0 -2.4v-4.9zM1060.1 668.9l4.0 2.4v4.9l-4.0 2.4l-4.0 -2.4v-4.9zM1000.4 658.9l4.0 2.4v4.9l-4.0 2.4l-4.0 -2.4v-4.9zM1011.3 658.9l4.0 2.4v4.9l-4.0 2.4l-4.0 -2.4v-4.9zM1022.1 658.9l4.0 2.4v4.9l-4.0 2.4l-4.0 -2.4v-4.9zM1033.0 658.9l4.0 2.4v4.9l-4.0 2.4l-4.0 -2.4v-4.9zM1043.8 658.9l4.0 2.4v4.9l-4.0 2.4l-4.0 -2.4v-4.9zM1054.6 658.9l4.0 2.4v4.9l-4.0 2.4l-4.0 -2.4v-4.9zM1065.5 658.9l4.0 2.4v4.9l-4.0 2.4l-4.0 -2.4v-4.9zM1005.9 648.8l4.0 2.4v4.9l-4.0 2.4l-4.0 -2.4v-4.9zM1016.7 648.8l4.0 2.4v4.9l-4.0 2.4l-4.0 -2.4v-4.9zM1027.5 648.8l4.0 2.4v4.9l-4.0 2.4l-4.0 -2.4v-4.9zM1038.4 648.8l4.0 2.4v4.9l-4.0 2.4l-4.0 -2.4v-4.9zM1049.2 648.8l4.0 2.4v4.9l-4.0 2.4l-4.0 -2.4v-4.9zM1060.1 648.8l4.0 2.4v4.9l-4.0 2.4l-4.0 -2.4v-4.9zM1070.9 648.8l4.0 2.4v4.9l-4.0 2.4l-4.0 -2.4v-4.9zM1000.4 638.8l4.0 2.4v4.9l-4.0 2.4l-4.0 -2.4v-4.9zM1011.3 638.8l4.0 2.4v4.9l-4.0 2.4l-4.0 -2.4v-4.9zM1022.1 638.8l4.0 2.4v4.9l-4.0 2.4l-4.0 -2.4v-4.9zM1033.0 638.8l4.0 2.4v4.9l-4.0 2.4l-4.0 -2.4v-4.9zM1043.8 638.8l4.0 2.4v4.9l-4.0 2.4l-4.0 -2.4v-4.9zM1054.6 638.8l4.0 2.4v4.9l-4.0 2.4l-4.0 -2.4v-4.9zM1065.5 638.8l4.0 2.4v4.9l-4.0 2.4l-4.0 -2.4v-4.9zM1076.3 638.8l4.0 2.4v4.9l-4.0 2.4l-4.0 -2.4v-4.9zM1005.9 628.7l4.0 2.4v4.9l-4.0 2.4l-4.0 -2.4v-4.9zM1016.7 628.7l4.0 2.4v4.9l-4.0 2.4l-4.0 -2.4v-4.9zM1027.5 628.7l4.0 2.4v4.9l-4.0 2.4l-4.0 -2.4v-4.9zM1038.4 628.7l4.0 2.4v4.9l-4.0 2.4l-4.0 -2.4v-4.9zM1049.2 628.7l4.0 2.4v4.9l-4.0 2.4l-4.0 -2.4v-4.9zM1060.1 628.7l4.0 2.4v4.9l-4.0 2.4l-4.0 -2.4v-4.9zM1070.9 628.7l4.0 2.4v4.9l-4.0 2.4l-4.0 -2.4v-4.9zM1000.4 618.7l4.0 2.4v4.9l-4.0 2.4l-4.0 -2.4v-4.9zM1011.3 618.7l4.0 2.4v4.9l-4.0 2.4l-4.0 -2.4v-4.9zM1022.1 618.7l4.0 2.4v4.9l-4.0 2.4l-4.0 -2.4v-4.9zM1033.0 618.7l4.0 2.4v4.9l-4.0 2.4l-4.0 -2.4v-4.9zM1043.8 618.7l4.0 2.4v4.9l-4.0 2.4l-4.0 -2.4v-4.9zM1054.6 618.7l4.0 2.4v4.9l-4.0 2.4l-4.0 -2.4v-4.9zM1065.5 618.7l4.0 2.4v4.9l-4.0 2.4l-4.0 -2.4v-4.9zM1005.9 608.6l4.0 2.4v4.9l-4.0 2.4l-4.0 -2.4v-4.9zM1016.7 608.6l4.0 2.4v4.9l-4.0 2.4l-4.0 -2.4v-4.9zM1027.5 608.6l4.0 2.4v4.9l-4.0 2.4l-4.0 -2.4v-4.9zM1000.4 598.6l4.0 2.4v4.9l-4.0 2.4l-4.0 -2.4v-4.9z"/>
<path fill="#9282b2" d="M1049.2 789.5l4.0 2.4v4.9l-4.0 2.4l-4.0 -2.4v-4.9zM1060.1 789.5l4.0 2.4v4.9l-4.0 2.4l-4.0 -2.4v-4.9zM1070.9 789.5l4.0 2.4v4.9l-4.0 2.4l-4.0 -2.4v-4.9zM1081.7 789.5l4.0 2.4v4.9l-4.0 2.4l-4.0 -2.4v-4.9zM1092.6 789.5l4.0 2.4v4.9l-4.0 2.4l-4.0 -2.4v-4.9zM1103.4 789.5l4.0 2.4v4.9l-4.0 2.4l-4.0 -2.4v-4.9zM1114.3 789.5l4.0 2.4v4.9l-4.0 2.4l-4.0 -2.4v-4.9zM1125.1 789.5l4.0 2.4v4.9l-4.0 2.4l-4.0 -2.4v-4.9zM1135.9 789.5l4.0 2.4v4.9l-4.0 2.4l-4.0 -2.4v-4.9zM1146.8 789.5l4.0 2.4v4.9l-4.0 2.4l-4.0 -2.4v-4.9zM1157.6 789.5l4.0 2.4v4.9l-4.0 2.4l-4.0 -2.4v-4.9zM1168.5 789.5l4.0 2.4v4.9l-4.0 2.4l-4.0 -2.4v-4.9zM1179.3 789.5l4.0 2.4v4.9l-4.0 2.4l-4.0 -2.4v-4.9zM1054.6 779.5l4.0 2.4v4.9l-4.0 2.4l-4.0 -2.4v-4.9zM1065.5 779.5l4.0 2.4v4.9l-4.0 2.4l-4.0 -2.4v-4.9zM1076.3 779.5l4.0 2.4v4.9l-4.0 2.4l-4.0 -2.4v-4.9zM1087.2 779.5l4.0 2.4v4.9l-4.0 2.4l-4.0 -2.4v-4.9zM1098.0 779.5l4.0 2.4v4.9l-4.0 2.4l-4.0 -2.4v-4.9zM1108.8 779.5l4.0 2.4v4.9l-4.0 2.4l-4.0 -2.4v-4.9zM1119.7 779.5l4.0 2.4v4.9l-4.0 2.4l-4.0 -2.4v-4.9zM1130.5 779.5l4.0 2.4v4.9l-4.0 2.4l-4.0 -2.4v-4.9zM1141.4 779.5l4.0 2.4v4.9l-4.0 2.4l-4.0 -2.4v-4.9zM1152.2 779.5l4.0 2.4v4.9l-4.0 2.4l-4.0 -2.4v-4.9zM1163.0 779.5l4.0 2.4v4.9l-4.0 2.4l-4.0 -2.4v-4.9zM1173.9 779.5l4.0 2.4v4.9l-4.0 2.4l-4.0 -2.4v-4.9zM1049.2 769.4l4.0 2.4v4.9l-4.0 2.4l-4.0 -2.4v-4.9zM1060.1 769.4l4.0 2.4v4.9l-4.0 2.4l-4.0 -2.4v-4.9zM1070.9 769.4l4.0 2.4v4.9l-4.0 2.4l-4.0 -2.4v-4.9zM1081.7 769.4l4.0 2.4v4.9l-4.0 2.4l-4.0 -2.4v-4.9zM1092.6 769.4l4.0 2.4v4.9l-4.0 2.4l-4.0 -2.4v-4.9zM1103.4 769.4l4.0 2.4v4.9l-4.0 2.4l-4.0 -2.4v-4.9zM1114.3 769.4l4.0 2.4v4.9l-4.0 2.4l-4.0 -2.4v-4.9zM1125.1 769.4l4.0 2.4v4.9l-4.0 2.4l-4.0 -2.4v-4.9zM1135.9 769.4l4.0 2.4v4.9l-4.0 2.4l-4.0 -2.4v-4.9zM1146.8 769.4l4.0 2.4v4.9l-4.0 2.4l-4.0 -2.4v-4.9zM1157.6 769.4l4.0 2.4v4.9l-4.0 2.4l-4.0 -2.4v-4.9zM1168.5 769.4l4.0 2.4v4.9l-4.0 2.4l-4.0 -2.4v-4.9zM1054.6 759.4l4.0 2.4v4.9l-4.0 2.4l-4.0 -2.4v-4.9zM1065.5 759.4l4.0 2.4v4.9l-4.0 2.4l-4.0 -2.4v-4.9zM1076.3 759.4l4.0 2.4v4.9l-4.0 2.4l-4.0 -2.4v-4.9zM1087.2 759.4l4.0 2.4v4.9l-4.0 2.4l-4.0 -2.4v-4.9zM1098.0 759.4l4.0 2.4v4.9l-4.0 2.4l-4.0 -2.4v-4.9zM1108.8 759.4l4.0 2.4v4.9l-4.0 2.4l-4.0 -2.4v-4.9zM1119.7 759.4l4.0 2.4v4.9l-4.0 2.4l-4.0 -2.4v-4.9zM1130.5 759.4l4.0 2.4v4.9l-4.0 2.4l-4.0 -2.4v-4.9zM1141.4 759.4l4.0 2.4v4.9l-4.0 2.4l-4.0 -2.4v-4.9zM1152.2 759.4l4.0 2.4v4.9l-4.0 2.4l-4.0 -2.4v-4.9zM1163.0 759.4l4.0 2.4v4.9l-4.0 2.4l-4.0 -2.4v-4.9zM1060.1 749.3l4.0 2.4v4.9l-4.0 2.4l-4.0 -2.4v-4.9zM1070.9 749.3l4.0 2.4v4.9l-4.0 2.4l-4.0 -2.4v-4.9zM1081.7 749.3l4.0 2.4v4.9l-4.0 2.4l-4.0 -2.4v-4.9zM1092.6 749.3l4.0 2.4v4.9l-4.0 2.4l-4.0 -2.4v-4.9zM1103.4 749.3l4.0 2.4v4.9l-4.0 2.4l-4.0 -2.4v-4.9zM1114.3 749.3l4.0 2.4v4.9l-4.0 2.4l-4.0 -2.4v-4.9zM1125.1 749.3l4.0 2.4v4.9l-4.0 2.4l-4.0 -2.4v-4.9zM1135.9 749.3l4.0 2.4v4.9l-4.0 2.4l-4.0 -2.4v-4.9zM1146.8 749.3l4.0 2.4v4.9l-4.0 2.4l-4.0 -2.4v-4.9zM1157.6 749.3l4.0 2.4v4.9l-4.0 2.4l-4.0 -2.4v-4.9zM1065.5 739.3l4.0 2.4v4.9l-4.0 2.4l-4.0 -2.4v-4.9zM1076.3 739.3l4.0 2.4v4.9l-4.0 2.4l-4.0 -2.4v-4.9zM1087.2 739.3l4.0 2.4v4.9l-4.0 2.4l-4.0 -2.4v-4.9zM1098.0 739.3l4.0 2.4v4.9l-4.0 2.4l-4.0 -2.4v-4.9zM1108.8 739.3l4.0 2.4v4.9l-4.0 2.4l-4.0 -2.4v-4.9zM1119.7 739.3l4.0 2.4v4.9l-4.0 2.4l-4.0 -2.4v-4.9zM1130.5 739.3l4.0 2.4v4.9l-4.0 2.4l-4.0 -2.4v-4.9zM1141.4 739.3l4.0 2.4v4.9l-4.0 2.4l-4.0 -2.4v-4.9zM1152.2 739.3l4.0 2.4v4.9l-4.0 2.4l-4.0 -2.4v-4.9zM1060.1 729.2l4.0 2.4v4.9l-4.0 2.4l-4.0 -2.4v-4.9zM1070.9 729.2l4.0 2.4v4.9l-4.0 2.4l-4.0 -2.4v-4.9zM1081.7 729.2l4.0 2.4v4.9l-4.0 2.4l-4.0 -2.4v-4.9zM1092.6 729.2l4.0 2.4v4.9l-4.0 2.4l-4.0 -2.4v-4.9zM1103.4 729.2l4.0 2.4v4.9l-4.0 2.4l-4.0 -2.4v-4.9zM1114.3 729.2l4.0 2.4v4.9l-4.0 2.4l-4.0 -2.4v-4.9zM1125.1 729.2l4.0 2.4v4.9l-4.0 2.4l-4.0 -2.4v-4.9zM1135.9 729.2l4.0 2.4v4.9l-4.0 2.4l-4.0 -2.4v-4.9zM1146.8 729.2l4.0 2.4v4.9l-4.0 2.4l-4.0 -2.4v-4.9zM1065.5 719.2l4.0 2.4v4.9l-4.0 2.4l-4.0 -2.4v-4.9zM1076.3 719.2l4.0 2.4v4.9l-4.0 2.4l-4.0 -2.4v-4.9zM1087.2 719.2l4.0 2.4v4.9l-4.0 2.4l-4.0 -2.4v-4.9zM1098.0 719.2l4.0 2.4v4.9l-4.0 2.4l-4.0 -2.4v-4.9zM1108.8 719.2l4.0 2.4v4.9l-4.0 2.4l-4.0 -2.4v-4.9zM1119.7 719.2l4.0 2.4v4.9l-4.0 2.4l-4.0 -2.4v-4.9zM1130.5 719.2l4.0 2.4v4.9l-4.0 2.4l-4.0 -2.4v-4.9zM1141.4 719.2l4.0 2.4v4.9l-4.0 2.4l-4.0 -2.4v-4.9zM1070.9 709.1l4.0 2.4v4.9l-4.0 2.4l-4.0 -2.4v-4.9zM1081.7 709.1l4.0 2.4v4.9l-4.0 2.4l-4.0 -2.4v-4.9zM1092.6 709.1l4.0 2.4v4.9l-4.0 2.4l-4.0 -2.4v-4.9zM1103.4 709.1l4.0 2.4v4.9l-4.0 2.4l-4.0 -2.4v-4.9zM1114.3 709.1l4.0 2.4v4.9l-4.0 2.4l-4.0 -2.4v-4.9zM1125.1 709.1l4.0 2.4v4.9l-4.0 2.4l-4.0 -2.4v-4.9zM1135.9 709.1l4.0 2.4v4.9l-4.0 2.4l-4.0 -2.4v-4.9zM1065.5 699.1l4.0 2.4v4.9l-4.0 2.4l-4.0 -2.4v-4.9zM1076.3 699.1l4.0 2.4v4.9l-4.0 2.4l-4.0 -2.4v-4.9zM1087.2 699.1l4.0 2.4v4.9l-4.0 2.4l-4.0 -2.4v-4.9zM1098.0 699.1l4.0 2.4v4.9l-4.0 2.4l-4.0 -2.4v-4.9zM1108.8 699.1l4.0 2.4v4.9l-4.0 2.4l-4.0 -2.4v-4.9zM1119.7 699.1l4.0 2.4v4.9l-4.0 2.4l-4.0 -2.4v-4.9zM1130.5 699.1l4.0 2.4v4.9l-4.0 2.4l-4.0 -2.4v-4.9zM1070.9 689.0l4.0 2.4v4.9l-4.0 2.4l-4.0 -2.4v-4.9zM1081.7 689.0l4.0 2.4v4.9l-4.0 2.4l-4.0 -2.4v-4.9zM1092.6 689.0l4.0 2.4v4.9l-4.0 2.4l-4.0 -2.4v-4.9zM1103.4 689.0l4.0 2.4v4.9l-4.0 2.4l-4.0 -2.4v-4.9zM1114.3 689.0l4.0 2.4v4.9l-4.0 2.4l-4.0 -2.4v-4.9zM1125.1 689.0l4.0 2.4v4.9l-4.0 2.4l-4.0 -2.4v-4.9zM1076.3 679.0l4.0 2.4v4.9l-4.0 2.4l-4.0 -2.4v-4.9zM1087.2 679.0l4.0 2.4v4.9l-4.0 2.4l-4.0 -2.4v-4.9zM1098.0 679.0l4.0 2.4v4.9l-4.0 2.4l-4.0 -2.4v-4.9zM1108.8 679.0l4.0 2.4v4.9l-4.0 2.4l-4.0 -2.4v-4.9zM1119.7 679.0l4.0 2.4v4.9l-4.0 2.4l-4.0 -2.4v-4.9zM1070.9 668.9l4.0 2.4v4.9l-4.0 2.4l-4.0 -2.4v-4.9zM1081.7 668.9l4.0 2.4v4.9l-4.0 2.4l-4.0 -2.4v-4.9zM1092.6 668.9l4.0 2.4v4.9l-4.0 2.4l-4.0 -2.4v-4.9zM1103.4 668.9l4.0 2.4v4.9l-4.0 2.4l-4.0 -2.4v-4.9zM1114.3 668.9l4.0 2.4v4.9l-4.0 2.4l-4.0 -2.4v-4.9zM1076.3 658.9l4.0 2.4v4.9l-4.0 2.4l-4.0 -2.4v-4.9zM1087.2 658.9l4.0 2.4v4.9l-4.0 2.4l-4.0 -2.4v-4.9zM1098.0 658.9l4.0 2.4v4.9l-4.0 2.4l-4.0 -2.4v-4.9zM1108.8 658.9l4.0 2.4v4.9l-4.0 2.4l-4.0 -2.4v-4.9zM1081.7 648.8l4.0 2.4v4.9l-4.0 2.4l-4.0 -2.4v-4.9zM1092.6 648.8l4.0 2.4v4.9l-4.0 2.4l-4.0 -2.4v-4.9zM1103.4 648.8l4.0 2.4v4.9l-4.0 2.4l-4.0 -2.4v-4.9zM1087.2 638.8l4.0 2.4v4.9l-4.0 2.4l-4.0 -2.4v-4.9zM1098.0 638.8l4.0 2.4v4.9l-4.0 2.4l-4.0 -2.4v-4.9zM1081.7 628.7l4.0 2.4v4.9l-4.0 2.4l-4.0 -2.4v-4.9zM1092.6 628.7l4.0 2.4v4.9l-4.0 2.4l-4.0 -2.4v-4.9zM1087.2 618.7l4.0 2.4v4.9l-4.0 2.4l-4.0 -2.4v-4.9z"/>
</g>
<path d="M854.10 794.40l-3.61 6.69M1016.70 492.90l-3.61 -6.69M1179.30 794.40h7.60M908.30 794.40l-3.61 6.69M989.60 543.15l-3.61 -6.69M1152.20 744.15h7.60M962.50 794.40l-3.61 6.69M962.50 593.40l-3.61 -6.69M1125.10 693.90h7.60M1016.70 794.40l-3.61 6.69M935.40 643.65l-3.61 -6.69M1098.00 643.65h7.60M1070.90 794.40l-3.61 6.69M908.30 693.90l-3.61 -6.69M1070.90 593.40h7.60M1125.10 794.40l-3.61 6.69M881.20 744.15l-3.61 -6.69M1043.80 543.15h7.60M1179.30 794.40l-3.61 6.69M854.10 794.40l-3.61 -6.69M1016.70 492.90h7.60" stroke="#000" stroke-width="1.9" fill="none"/>
<polygon points="854.10,794.40 1179.30,794.40 1016.70,492.90" fill="none" stroke="#000" stroke-width="2.1" stroke-linejoin="miter"/>
<g class="tl"><text transform="matrix(1.02 0 0 1.04 840.05 815.80)">0</text>
<text transform="matrix(1.02 0 0 1.04 893.97 815.80)">0.5</text>
<polygon points="953.81,815.80 952.20,815.80 952.20,807.92 949.86,807.92 949.86,806.78 951.08,806.60 951.85,806.05 952.41,804.80 953.81,804.80"/>
<polygon points="1004.73,815.80 1003.12,815.80 1003.12,807.92 1000.78,807.92 1000.78,806.78 1002.00,806.60 1002.77,806.05 1003.33,804.80 1004.73,804.80"/><text transform="matrix(1.02 0 0 1.04 1007.37 815.80)">.5</text>
<text transform="matrix(1.02 0 0 1.04 1056.65 815.80)">2</text>
<text transform="matrix(1.02 0 0 1.04 1107.07 815.80)">2.5</text>
<text transform="matrix(1.02 0 0 1.04 1164.75 815.80)">3</text>
<text transform="matrix(1.02 0 0 1.04 1003.55 484.50)">0</text>
<text transform="matrix(1.02 0 0 1.04 967.57 534.80)">0.5</text>
<polygon points="952.61,584.70 951.00,584.70 951.00,576.82 948.66,576.82 948.66,575.68 949.88,575.50 950.65,574.95 951.21,573.70 952.61,573.70"/>
<polygon points="916.03,635.50 914.42,635.50 914.42,627.62 912.08,627.62 912.08,626.48 913.30,626.30 914.07,625.75 914.63,624.50 916.03,624.50"/><text transform="matrix(1.02 0 0 1.04 918.67 635.50)">.5</text>
<text transform="matrix(1.02 0 0 1.04 892.45 685.40)">2</text>
<text transform="matrix(1.02 0 0 1.04 855.97 735.50)">2.5</text>
<text transform="matrix(1.02 0 0 1.04 837.85 785.90)">3</text>
<text transform="matrix(1.02 0 0 1.04 1025.70 496.50)">3</text>
<text transform="matrix(1.02 0 0 1.04 1052.80 546.70)">2.5</text>
<text transform="matrix(1.02 0 0 1.04 1079.70 596.90)">2</text>
<polygon points="1112.96,647.30 1111.35,647.30 1111.35,639.42 1109.01,639.42 1109.01,638.28 1110.24,638.10 1111.00,637.55 1111.57,636.30 1112.96,636.30"/><text transform="matrix(1.02 0 0 1.04 1115.61 647.30)">.5</text>
<polygon points="1140.06,697.50 1138.45,697.50 1138.45,689.62 1136.11,689.62 1136.11,688.48 1137.34,688.30 1138.10,687.75 1138.67,686.50 1140.06,686.50"/>
<text transform="matrix(1.02 0 0 1.04 1162.50 747.90)">0.5</text>
<text transform="matrix(1.02 0 0 1.04 1191.00 797.80)">0</text>
<text class="g" x="1007.9" y="835.8" text-anchor="middle">α</text>
<g transform="translate(806.7,428.8)" fill="none" stroke="#000" stroke-linecap="round"><path d="M76.6 212.2C79 214.8 80.5 217.4 85.3 220.9" stroke-width="1.25"/><path d="M79.6 217.4C77.6 216.0 74.6 215.5 73.7 217.5C73.3 218.5 74.1 219.2 74.9 219.5" stroke-width="0.95"/></g>
<text class="g" transform="translate(1143.0,649.0) rotate(53)" x="0" y="3.5" text-anchor="middle">β</text></g>

<text class="pl" transform="translate(0.2,25.7) scale(0.91,1)">a</text>
<text class="pl" x="406" y="25.6">b</text>
<text class="pl" x="803" y="25.6">c</text>
<text class="pl" x="405.5" y="449.6">d</text>
<text class="pl" x="802.5" y="449.6">e</text>
<text class="tt" transform="matrix(1 0 0 1.05 101.2 24.7)">Without disturbance</text>
<text class="tt" transform="matrix(1 0 0 1.05 536.6 24.7)">Disturbed BAU</text>
<text class="tt" transform="matrix(1 0 0 1.05 924.3 24.7)">Disturbed Health</text>
<text class="tt" transform="matrix(1 0 0 1.05 473.2 449.3)">Disturbed Age-to-Capacity</text>
<text class="tt" transform="matrix(1 0 0 1.05 917.2 449.3)">Disturbed Carbon</text>

<rect x="86.7" y="550.0" width="18.5" height="20" fill="#d75c62"/>
<rect x="87.7" y="551.0" width="16.5" height="18" fill="#cf3a42"/>
<rect x="89.1" y="552.4" width="13.7" height="15.2" fill="#d9666a"/>
<text class="lg" transform="matrix(1 0 0 1.05 120.4 567.6)">BAU strategy</text>
<rect x="86.7" y="600.1" width="18.5" height="20" fill="#ecaa5a"/>
<rect x="87.7" y="601.1" width="16.5" height="18" fill="#e6942d"/>
<rect x="89.1" y="602.5" width="13.7" height="15.2" fill="#e9aa58"/>
<text class="lg" transform="matrix(1 0 0 1.05 120.4 616.8)">Age-to-Capacity strategy</text>
<rect x="86.7" y="652.0" width="18.5" height="20" fill="#4bc3e4"/>
<rect x="87.7" y="653.0" width="16.5" height="18" fill="#20b9e1"/>
<rect x="89.1" y="654.4" width="13.7" height="15.2" fill="#54cce8"/>
<text class="lg" transform="matrix(1 0 0 1.05 120.4 667.8)">Health strategy</text>
<rect x="86.7" y="703.1" width="18.5" height="20" fill="#8c7db2"/>
<rect x="87.7" y="704.1" width="16.5" height="18" fill="#7864a5"/>
<rect x="89.1" y="705.5" width="13.7" height="15.2" fill="#9482b4"/>
<text class="lg" transform="matrix(1 0 0 1.05 120.4 718.1)">Carbon strategy</text>
</svg>
</body></html>
